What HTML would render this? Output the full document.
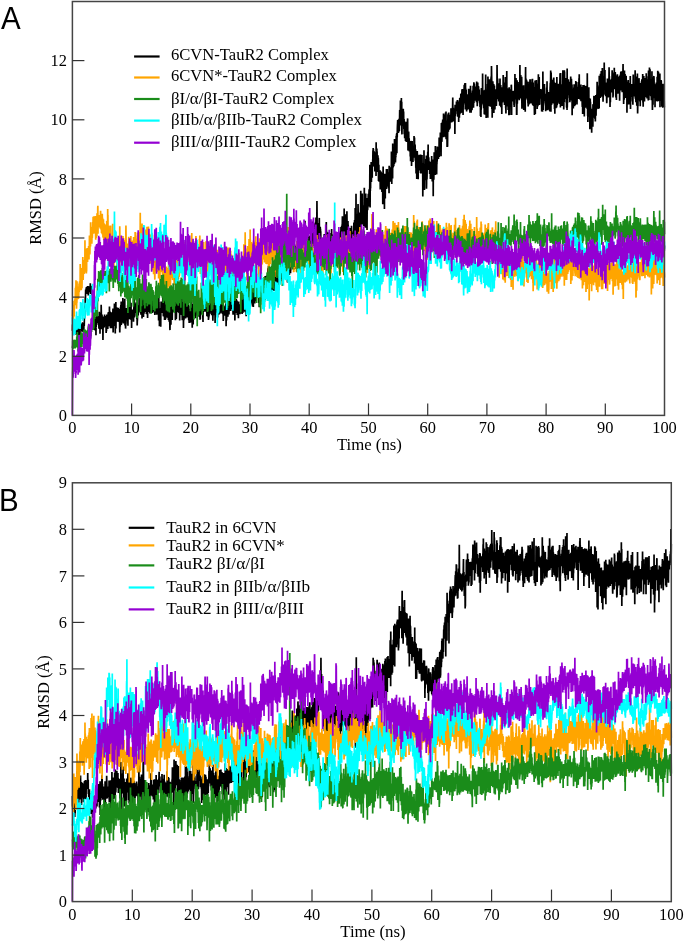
<!DOCTYPE html>
<html><head><meta charset="utf-8"><style>
html,body{margin:0;padding:0;background:#fff;}
svg{display:block;will-change:transform;}
text{font-family:"Liberation Serif",serif;font-size:16.4px;fill:#000;}
.yl{text-anchor:end;}
.xl{text-anchor:middle;}
.tk{stroke:#333;stroke-width:1.2;}
.fr{fill:none;stroke:#444;stroke-width:1.5;}
.pl{font-family:"Liberation Sans",sans-serif;font-size:29.5px;}
.lg{font-size:16.85px;}
</style></head><body>
<svg width="685" height="941" viewBox="0 0 685 941">
<rect width="685" height="941" fill="#fff"/>
<text transform="translate(0.97,29.3) scale(1,1.035)" class="pl">A</text>
<text transform="translate(-0.9,510.7) scale(1,1.035)" class="pl">B</text>
<g>
<path transform="matrix(0.118420,0,0,0.1,72.40,0)" vector-effect="non-scaling-stroke" fill="none" stroke="#000000" stroke-width="1.70" stroke-linejoin="bevel" d="M0,3307l1-55 1-7 1,46 1-13 1,17 1-41 1,37 1-28 1-16 1,33 1-17 1,12 1,20 1-51 1-17 1,31 1,14 1-34 1,49 1,9 1-72 1,64 1-27 1,21 1,32 1-38 1-6 1,31 1,43 1-52 1-3 1-20 1-2 1,6 1,45 1-32 1-24 1,1 1,36 1-65 1,92 1-34 1,42 1,50 1-73 1-17 1-26 1-1 1,9 1,3 1,1 1,62 1-112 1,54 1-12 1,29 1,15 1,0 1,52 1-114 1,16 1-20 1,66 1,41 1-97 1,2 1-31 1,65 1-52 1,24 1,13 1-12 1-29 1,17 1,11 1-10 1,18 1-16 1-16 1,68 1,3 1-73 1,62 1-77 1,1 1,78 1-38 1,41 1-62 1,46 1-14 1,8 1,33 1-75 1,13 1,76 1-106 1,3 1,3 1,26 1-70 1-14 1,1 1,1 1-111 1-12 1,30 1-49 1-65 1,39 1-60 1-55 1,30 1-30 1,35 1-5 1-51 1,33 1,17 1-53 1,46 1-29 1,13 1,1 1-23 1,61 1-74 1-2 1,35 1-6 1-32 1,56 1-18 1,57 1-83 1,34 1-21 1-7 1,27 1-20 1,33 1-2 1-54 1,52 1-14 1-2 1,22 1-31 1-13 1,25 1-69 1,91 1,16 1-24 1-31 1,25 1-34 1,37 1-54 1,21 1,16 1,42 1-26 1-13 1-4 1,71 1,64 1-17 1,18 1-14 1-32 1,100 1,60 1,29 1-18 1,92 1-94 1,94 1,10 1,24 1-48 1,43 1,2 1-30 1-15 1,60 1-52 1,44 1-31 1,48 1-60 1-70 1,20 1,39 1-10 1-52 1,139 1-103 1,147 1-104 1,22 1-73 1,37 1-93 1,109 1-55 1-26 1,44 1-18 1,33 1-48 1,52 1-74 1,22 1,32 1-40 1,2 1-6 1,23 1,12 1,9 1-34 1,25 1,83 1-61 1,4 1-113 1,33 1,63 1-8 1,30 1-61 1,163 1-143 1-33 1,116 1-33 1-48 1-64 1,40 1,14 1,61 1-199 1,59 1,73 1,42 1,15 1,56 1-120 1-27 1,48 1-25 1,0 1,34 1,32 1,53 1-13 1,124 1-132 1,12 1-68 1,8 1-54 1,51 1,30 1-57 1,16 1-7 1,76 1-77 1,0 1-53 1,49 1,56 1-19 1-40 1,14 1,25 1,4 1-72 1,23 1,77 1-44 1,33 1,79 1-94 1,69 1,8 1-90 1,10 1-86 1,35 1,94 1-108 1-11 1,81 1-84 1,61 1,77 1-115 1,70 1-117 1,22 1-30 1,92 1-55 1,42 1,13 1-27 1,76 1-91 1-20 1-87 1,116 1,5 1-10 1-8 1-51 1,104 1-41 1,86 1,18 1-122 1,72 1-62 1,1 1,60 1-1 1-67 1,26 1-67 1,64 1,96 1-90 1,29 1-38 1,24 1-2 1-21 1,12 1-19 1-70 1-22 1,240 1-140 1-39 1,52 1,20 1-28 1,68 1-57 1-33 1-9 1-31 1-94 1,29 1,99 1,53 1,35 1-103 1,76 1,112 1-183 1,94 1-113 1-3 1-111 1,265 1-194 1-17 1,12 1,88 1-48 1,9 1-22 1,12 1,44 1,49 1-143 1,70 1,51 1-61 1,31 1-61 1,113 1-11 1-62 1-66 1,34 1,30 1,18 1-10 1,45 1-106 1,61 1-29 1,77 1-13 1,71 1,67 1-64 1-65 1,46 1,24 1-83 1,3 1-118 1,120 1-130 1-4 1,38 1-75 1,234 1-125 1-36 1,53 1,66 1-80 1,28 1,65 1-98 1,67 1,28 1-71 1,75 1-241 1,171 1-106 1,188 1-34 1-37 1,11 1-34 1-31 1-18 1-76 1,115 1,46 1-143 1,101 1-102 1-44 1,157 1,109 1-175 1,70 1-35 1,84 1,88 1-33 1-13 1-2 1-33 1-126 1,86 1-78 1,76 1-21 1,27 1-47 1,83 1-101 1,54 1,36 1-102 1,88 1-131 1,145 1,64 1-125 1-14 1-109 1,142 1-67 1-3 1,101 1-10 1-77 1,4 1,92 1-136 1,93 1-4 1-1 1-42 1-134 1,182 1-31 1,21 1-74 1,33 1,98 1-47 1,6 1-129 1,117 1-36 1,35 1,5 1,132 1-149 1-29 1,36 1-20 1,47 1-24 1,4 1-14 1,25 1-61 1,17 1,50 1,23 1-49 1,27 1,55 1-105 1,13 1-41 1-27 1-16 1-76 1,210 1-52 1-42 1,82 1-24 1-66 1,50 1-34 1-11 1,46 1-66 1,59 1-82 1,87 1-17 1-56 1-28 1,95 1,12 1-27 1,8 1,79 1-81 1-4 1,150 1-39 1-16 1-34 1-49 1-52 1,1 1,49 1,40 1-15 1-42 1-45 1,61 1-1 1-38 1-11 1-14 1-75 1,69 1,60 1-6 1-62 1,25 1,56 1-19 1-28 1,13 1,45 1-46 1,18 1-4 1-2 1,54 1-98 1,65 1-17 1-65 1,47 1-18 1-50 1,76 1,98 1-122 1-78 1,39 1,127 1-102 1,63 1-134 1,112 1-10 1-171 1,167 1,93 1-65 1-29 1-42 1,102 1,3 1-78 1-34 1,56 1-114 1,26 1,10 1-36 1,152 1-87 1-55 1,18 1,16 1,30 1,19 1-80 1-16 1-66 1,58 1,68 1,114 1-70 1,58 1-10 1,24 1-94 1-19 1,85 1-5 1,24 1,49 1-154 1,31 1-6 1-5 1-48 1,122 1-80 1,22 1,6 1,52 1-174 1,85 1,26 1,18 1-110 1,100 1-35 1,89 1-43 1,59 1-62 1,47 1-195 1-51 1,208 1,19 1-38 1-38 1,99 1-99 1,94 1-109 1,20 1-18 1-24 1,58 1-56 1-10 1,101 1,29 1-111 1,129 1-89 1,3 1,11 1-25 1,10 1,23 1-38 1,7 1,46 1,2 1,37 1-50 1,6 1-22 1-79 1,87 1-27 1-4 1,122 1-47 1-19 1-27 1,39 1-38 1,56 1-94 1,91 1,18 1-103 1-9 1,90 1-68 1,94 1-36 1,52 1-264 1,234 1-18 1-36 1,4 1,18 1,14 1-130 1,109 1,66 1-21 1-49 1,32 1-35 1,34 1,100 1-251 1,79 1-15 1,146 1-68 1-15 1,181 1-155 1,30 1,52 1-98 1,19 1-2 1,86 1-101 1,17 1-12 1,168 1-188 1,42 1-107 1,22 1,37 1,25 1,2 1-17 1-48 1,96 1-66 1,59 1-86 1,81 1-4 1,6 1-82 1-162 1,134 1,67 1,5 1,80 1-106 1,16 1,91 1-195 1,131 1-70 1,26 1,97 1-55 1,101 1-58 1,7 1-118 1,129 1-186 1,226 1-279 1,203 1-96 1,161 1-88 1,40 1-58 1-33 1-164 1,239 1-121 1,25 1,77 1-20 1,89 1-104 1-191 1,204 1,23 1-6 1,15 1-39 1-53 1,158 1-64 1-53 1,137 1-192 1,68 1,76 1,0 1-19 1,84 1-14 1,4 1-216 1,107 1,94 1,86 1,22 1-59 1-141 1,128 1-136 1,6 1,53 1-51 1,146 1-321 1,230 1-109 1,65 1,81 1-150 1-44 1,198 1-152 1,44 1,112 1-79 1-212 1-5 1,201 1-69 1,60 1-63 1,57 1,28 1-12 1-15 1-16 1-162 1,140 1,65 1-113 1-82 1,53 1,5 1,45 1-17 1,105 1-9 1-60 1-65 1,76 1,146 1-186 1-42 1,135 1-1 1,5 1-126 1,202 1-12 1-76 1-18 1,26 1-3 1-11 1-202 1,31 1,170 1,26 1-94 1-34 1,28 1,2 1,90 1-34 1-33 1,54 1-75 1-33 1,113 1-42 1,64 1,0 1-97 1,47 1-12 1-104 1,243 1-172 1,7 1,0 1-31 1-136 1,133 1,106 1-141 1,133 1,33 1-134 1,6 1-73 1,108 1,106 1-132 1,33 1,8 1-91 1,60 1,119 1,56 1-128 1,45 1-62 1-38 1,106 1-52 1,25 1,65 1-38 1,156 1-182 1,10 1,5 1,89 1-102 1,15 1,2 1-84 1,13 1,77 1-110 1-37 1,124 1,22 1-67 1-1 1,77 1,52 1-140 1,71 1-27 1,7 1-9 1-107 1,93 1,32 1-48 1,8 1,111 1-113 1-49 1,48 1-134 1,93 1,41 1,51 1-83 1,33 1-21 1-12 1,60 1-40 1,98 1,56 1-142 1,53 1,3 1,113 1-47 1-61 1-8 1-25 1,16 1,84 1-74 1-22 1,28 1,104 1-6 1-72 1-22 1,20 1-61 1-11 1,20 1,55 1-43 1-17 1-91 1,66 1,27 1,94 1-26 1,120 1-218 1-20 1,104 1-59 1,51 1-35 1,48 1,97 1-192 1,93 1-100 1,5 1-11 1-12 1,26 1,7 1-37 1,135 1-187 1,120 1-18 1-7 1-35 1-17 1,59 1-17 1,7 1,70 1,47 1-119 1,96 1-244 1,194 1,35 1-93 1,93 1-50 1-15 1,7 1,58 1-44 1-77 1-58 1,86 1-26 1,129 1-150 1,131 1-4 1,16 1-42 1,30 1-23 1-14 1-14 1,27 1,52 1,0 1-78 1-31 1,94 1-42 1-103 1,56 1,50 1,89 1-97 1,88 1-73 1-16 1,49 1-149 1,24 1,36 1-16 1,15 1-26 1,90 1-82 1-7 1,3 1,102 1-88 1-3 1,27 1,8 1-98 1,108 1-64 1,150 1,41 1-202 1-11 1,48 1-62 1,96 1,29 1-40 1,24 1-60 1,72 1-106 1,96 1-52 1,64 1-57 1,55 1-1 1,0 1-20 1-30 1,29 1-130 1,103 1-22 1-46 1,34 1-4 1,7 1,46 1-64 1,11 1,19 1,116 1-29 1-199 1,229 1-201 1,174 1,5 1-76 1,61 1,42 1-48 1,43 1-117 1,154 1-76 1,60 1-167 1,18 1,129 1-59 1-27 1,1 1-26 1-8 1,82 1,11 1-65 1-18 1,44 1-37 1,3 1-54 1,54 1-17 1,19 1,9 1-56 1-51 1,115 1-172 1,240 1-179 1,99 1-30 1-69 1,77 1,19 1,33 1,39 1,0 1,67 1-56 1-103 1-81 1,162 1-88 1,94 1-31 1,48 1-112 1,81 1-24 1,4 1-82 1,17 1,89 1-10 1-117 1,52 1,178 1-207 1,130 1-82 1-151 1,209 1-32 1-37 1-5 1,0 1-33 1-49 1,66 1,10 1-55 1,78 1-1 1-59 1,68 1-61 1-28 1,186 1-221 1,183 1-77 1,26 1-25 1,20 1-7 1,1 1-23 1,9 1,11 1-29 1,90 1,11 1-75 1,0 1-41 1,44 1,4 1,1 1-85 1,31 1,49 1-12 1-37 1,9 1-62 1,86 1,78 1-63 1-10 1-25 1,24 1-107 1,68 1,0 1-22 1,74 1-58 1,43 1,25 1-71 1,54 1,59 1,16 1-123 1,95 1,95 1-23 1-99 1-19 1,46 1-59 1,15 1,48 1-53 1,5 1,80 1-49 1,55 1-9 1-81 1,39 1-38 1,9 1,8 1,32 1,23 1,17 1-123 1,96 1,133 1-160 1,97 1-73 1,80 1-108 1,71 1-11 1-48 1-133 1,169 1-104 1,93 1-84 1,39 1,77 1-49 1-128 1,23 1,118 1-42 1-68 1,10 1,66 1,49 1-106 1,13 1-10 1,60 1-88 1,81 1,9 1-135 1,72 1,67 1-25 1-58 1-32 1-67 1,160 1-234 1,212 1-57 1,22 1,49 1-26 1,36 1-31 1-2 1,35 1-55 1,36 1-5 1,42 1-21 1,1 1,2 1-41 1,65 1,32 1-72 1,33 1-4 1-74 1,61 1-67 1-9 1,0 1,1 1-10 1,131 1,0 1-51 1-25 1,144 1-97 1-15 1-27 1,18 1,8 1,9 1,28 1-68 1-51 1-13 1,38 1-45 1,74 1-22 1-25 1,3 1,53 1-68 1,97 1,48 1-15 1-91 1,93 1-71 1,5 1,33 1-17 1-28 1,83 1,40 1-132 1-34 1,36 1-7 1,39 1,1 1,31 1-24 1,15 1-41 1-22 1,39 1,58 1-32 1,2 1-25 1,10 1-15 1,50 1-59 1-49 1,7 1,36 1,53 1-102 1,96 1-48 1-84 1,65 1,50 1,45 1-143 1,64 1,27 1-36 1-21 1,74 1,23 1-62 1,34 1-106 1,42 1,42 1-28 1,63 1-25 1-148 1,138 1-65 1,75 1,26 1-20 1-39 1,12 1-47 1,45 1-69 1,125 1-92 1,3 1,62 1-115 1,19 1,42 1,122 1-131 1,29 1-23 1,83 1-90 1-46 1,46 1,41 1-72 1-13 1,51 1,77 1-4 1-91 1,55 1-12 1-103 1,45 1-102 1,41 1,43 1,2 1-21 1-15 1,15 1,87 1-91 1,120 1-182 1,102 1-38 1-20 1,44 1,35 1-46 1-15 1,81 1-85 1,68 1-22 1-86 1,20 1,66 1-41 1,28 1,25 1-138 1,141 1-38 1-35 1-9 1,63 1-4 1,66 1-68 1-24 1,40 1-13 1-80 1,19 1,133 1-154 1,49 1-39 1-37 1,84 1-36 1,6 1,4 1,50 1-52 1,36 1,52 1-79 1,3 1,39 1,14 1-32 1-23 1-22 1-28 1,8 1,12 1-10 1-16 1,10 1-80 1,72 1-49 1-11 1,64 1,18 1-56 1,32 1,24 1,0 1,52 1-105 1,22 1,32 1-56 1-51 1,81 1-1 1,68 1-91 1,109 1,47 1-123 1,37 1,127 1-164 1,22 1-10 1,72 1-6 1-83 1-49 1,108 1-98 1,152 1-173 1,34 1,10 1-13 1,48 1-124 1,155 1-78 1-74 1,124 1-33 1,11 1-40 1,75 1-29 1,30 1-54 1,35 1,10 1,18 1-90 1,71 1,24 1,24 1-86 1,77 1-1 1-54 1,14 1,27 1-106 1,140 1-85 1,93 1-91 1,37 1-10 1,34 1,33 1-238 1,152 1-100 1,104 1-10 1-87 1,53 1-87 1,101 1-18 1,27 1-11 1-131 1,97 1,33 1,45 1-65 1-99 1,169 1-12 1-75 1,36 1-83 1-117 1,207 1-15 1,94 1-307 1,196 1-72 1,74 1,10 1-21 1-5 1-2 1,76 1-101 1,49 1-76 1,17 1-49 1,80 1,118 1-9 1-184 1,195 1-244 1,93 1,25 1,25 1-29 1,10 1,53 1-23 1-70 1,16 1,11 1-105 1,206 1-69 1-122 1,97 1-4 1-40 1,0 1-68 1,77 1-35 1,93 1-24 1,69 1-85 1-22 1,69 1,48 1-26 1-55 1-52 1,35 1-9 1-38 1-59 1,11 1-16 1,146 1-69 1,26 1-121 1,111 1,28 1-57 1-104 1,54 1,39 1-24 1-10 1-7 1,30 1-92 1,141 1-20 1-34 1,188 1-131 1,41 1-38 1-20 1,8 1-116 1,84 1,3 1,58 1-27 1,71 1-114 1-67 1-30 1,110 1-28 1-20 1,37 1,49 1-39 1,4 1-19 1-58 1,38 1-139 1,165 1-74 1,25 1,114 1-49 1-29 1-106 1,72 1-31 1,64 1-12 1-110 1,105 1-53 1,127 1-68 1,35 1,23 1-8 1-103 1,79 1-24 1,35 1,29 1,0 1-92 1-17 1-24 1-25 1,70 1-71 1,85 1-104 1,31 1,79 1-43 1-99 1,46 1,64 1,10 1,41 1-130 1,2 1,42 1,42 1,61 1-10 1-56 1,31 1-44 1,31 1,10 1,4 1-32 1-37 1,24 1,34 1,43 1-77 1-32 1,178 1-209 1,96 1-76 1,49 1-13 1-2 1,64 1-28 1-63 1,30 1,34 1-105 1,79 1-56 1-15 1,142 1-227 1,90 1-16 1-31 1-30 1,63 1,110 1-110 1,2 1,131 1-57 1,29 1-118 1-52 1,53 1-49 1,131 1-144 1,107 1-26 1,24 1-6 1-23 1,45 1,13 1-30 1-3 1-30 1,33 1-4 1-89 1-43 1,149 1-167 1,155 1,6 1-95 1,156 1-186 1,86 1,53 1-46 1-84 1-49 1,55 1,59 1-24 1-7 1,10 1,22 1-4 1-123 1,188 1-120 1,160 1-159 1,20 1-10 1-94 1,126 1-31 1,38 1,24 1-46 1,66 1-75 1,30 1-3 1-24 1,38 1,79 1-194 1,54 1,42 1,57 1-11 1-130 1,32 1-38 1,65 1-38 1,105 1-156 1,84 1-7 1-50 1,50 1,13 1,44 1,15 1,43 1,42 1-158 1,65 1-24 1-18 1-96 1,54 1-17 1-31 1,108 1,2 1-27 1,61 1,51 1-67 1-9 1,65 1,1 1-60 1,18 1-110 1,8 1-74 1,16 1,31 1,35 1,17 1,57 1-95 1-30 1,61 1,102 1-202 1,190 1-41 1,20 1-205 1,113 1-111 1-31 1-150 1,345 1-289 1,162 1,50 1-33 1,125 1-20 1-115 1,22 1,144 1-52 1-22 1-54 1,7 1,93 1-100 1,153 1-166 1,22 1-45 1,26 1,58 1-15 1,96 1-86 1-71 1-80 1,39 1,37 1,40 1,19 1-56 1-25 1-10 1,19 1-50 1,44 1,67 1,68 1-133 1-64 1,30 1-28 1,113 1-118 1,134 1,17 1-6 1-147 1,163 1-64 1-49 1,19 1,35 1,20 1,145 1-276 1,100 1-216 1,311 1-232 1-93 1,214 1-163 1,175 1-29 1-44 1,61 1-81 1,103 1-63 1,70 1-223 1,56 1,24 1,79 1,23 1-123 1,24 1,35 1,47 1-98 1,96 1-141 1,84 1,131 1-246 1,17 1,8 1-22 1-8 1,32 1-80 1,145 1-50 1,108 1,78 1-182 1,49 1-62 1-249 1,109 1,230 1-95 1,60 1-79 1,1 1,94 1-41 1-42 1,116 1-25 1,56 1-136 1,52 1-2 1-46 1,75 1-41 1-78 1-40 1,169 1-79 1,25 1,82 1,35 1-69 1,12 1-86 1,96 1-76 1,77 1-52 1,104 1,44 1-58 1,101 1-9 1-52 1,41 1,52 1-14 1-14 1-22 1,46 1-12 1,29 1-109 1,84 1,8 1-23 1-124 1,85 1-75 1,62 1,92 1-3 1-63 1,45 1-68 1-16 1,26 1-129 1,118 1,20 1-29 1-79 1,65 1-40 1,41 1,3 1-44 1,9 1,57 1-100 1,71 1-98 1-6 1-22 1-88 1,180 1-95 1,109 1,33 1,81 1-139 1,42 1-11 1-51 1,105 1-2 1,29 1-175 1-3 1,198 1-61 1,37 1-61 1,19 1-44 1,57 1,21 1-8 1,49 1-97 1-30 1,117 1-88 1-101 1,104 1,9 1,103 1-78 1-48 1,12 1,89 1-23 1-84 1-16 1,44 1-41 1,147 1-152 1,165 1-272 1,250 1-107 1,80 1-95 1,12 1,49 1-43 1-89 1,76 1,59 1-115 1,70 1,41 1-90 1,72 1,6 1-28 1,38 1,91 1-96 1,77 1-113 1,16 1-16 1,13 1,73 1-57 1-33 1-16 1,22 1-18 1-35 1,90 1-18 1,11 1-50 1,1 1,29 1-66 1,121 1-45 1-40 1-37 1,51 1-29 1,67 1-94 1-11 1,53 1-35 1,64 1,54 1-50 1,18 1-3 1-42 1,178 1-119 1-70 1-66 1,41 1,37 1,102 1-197 1,11 1,76 1,2 1,60 1-126 1,34 1-3 1-3 1-18 1-41 1-7 1,23 1-14 1,30 1-82 1,87 1,41 1-93 1,20 1,41 1-108 1,37 1-4 1,98 1-146 1,20 1-101 1,69 1,70 1,39 1-25 1-102 1,61 1-53 1,42 1,3 1,14 1-101 1,127 1-22 1-30 1-170 1,128 1,114 1-73 1-2 1,36 1,5 1,70 1-33 1,37 1-153 1-39 1,61 1-44 1-48 1,29 1,57 1-63 1,57 1,83 1-138 1,4 1,184 1-243 1,84 1,71 1-27 1,72 1-30 1,4 1-50 1,48 1-76 1,204 1-165 1,88 1-20 1,144 1-6 1-91 1,49 1-16 1,134 1-208 1,37 1,102 1-63 1,75 1-192 1,36 1,29 1,40 1,4 1-91 1,99 1-17 1,94 1-118 1,68 1-90 1-19 1,82 1-140 1,31 1,55 1,58 1,29 1,1 1-63 1,71 1-1 1-42 1,16 1,54 1,6 1,23 1-132 1,88 1-128 1,14 1-27 1,82 1-168 1,87 1,32 1-27 1,63 1-62 1-117 1,57 1,77 1-50 1-7 1-198 1,270 1,23 1-106 1,89 1-141 1,39 1-317 1,379 1-106 1,167 1-231 1,68 1,160 1-172 1,38 1,86 1-64 1,97 1-132 1-90 1,156 1,2 1-158 1-98 1,78 1,52 1,70 1,45 1,88 1-108 1-138 1,74 1,8 1-66 1-11 1,52 1-42 1-9 1,76 1,37 1,50 1-5 1-30 1,166 1-270 1-90 1-159 1,401 1-83 1-188 1-16 1,122 1,59 1-62 1,25 1-51 1,60 1-65 1,72 1-247 1,149 1-15 1,177 1-157 1-35 1,146 1-114 1-8 1,69 1,24 1,20 1,72 1-64 1,39 1-81 1,14 1-292 1,200 1,102 1,55 1-223 1,242 1,13 1-75 1-128 1,213 1-100 1-64 1-179 1,154 1-13 1-56 1,103 1-24 1,75 1-170 1,47 1,36 1-107 1,322 1-206 1-110 1,116 1-29 1,31 1-25 1-8 1-86 1,33 1-52 1-28 1,51 1,76 1-40 1-7 1-70 1-32 1-22 1,58 1-49 1,66 1-60 1-48 1-213 1,306 1,121 1-335 1,171 1-131 1,104 1-167 1,67 1-55 1,41 1-148 1,142 1,57 1-122 1-40 1,64 1-73 1,93 1-54 1,90 1-154 1,30 1,15 1-69 1-14 1-80 1,38 1-64 1,17 1-7 1,53 1,45 1,16 1-72 1,58 1-78 1,151 1-94 1,33 1,63 1-143 1,194 1-131 1,79 1-77 1-17 1,29 1-32 1,102 1-118 1,17 1,193 1-339 1,143 1,15 1,73 1-49 1,27 1-145 1,200 1-172 1,206 1-75 1-25 1,23 1-85 1,153 1-158 1,139 1-5 1-109 1,28 1,204 1-163 1,33 1-33 1,114 1,57 1-72 1-8 1-17 1,77 1-18 1-69 1,43 1-51 1,114 1,79 1-107 1,1 1-26 1,31 1-48 1-32 1,55 1-44 1,63 1,12 1-18 1-53 1,149 1,42 1-50 1,28 1-63 1,12 1,21 1,6 1,168 1-190 1-33 1-156 1,164 1-41 1-21 1-4 1,86 1-3 1-60 1,59 1,35 1-26 1,236 1-286 1-65 1,104 1-81 1,17 1,96 1,111 1-215 1,67 1-19 1-30 1,6 1,17 1,35 1-42 1-39 1-76 1,202 1-73 1-77 1,59 1-44 1,66 1-131 1,124 1-27 1,73 1-101 1,22 1,83 1-82 1,6 1-66 1,104 1,50 1-47 1-68 1,110 1,60 1-274 1,141 1-30 1-37 1-56 1,123 1-48 1,58 1,8 1-22 1-73 1,65 1-115 1,73 1,35 1-9 1,18 1-112 1,67 1-228 1,144 1,20 1,160 1-233 1,82 1-58 1-1 1-1 1,110 1,47 1-352 1,168 1-31 1,102 1-6 1-38 1,11 1-11 1-62 1,96 1-162 1,73 1-80 1,50 1,96 1-250 1,47 1,87 1-57 1,32 1-58 1,79 1-72 1,177 1-56 1,4 1,0 1-25 1,4 1-192 1,92 1-75 1-33 1,40 1-53 1,201 1-158 1,1 1-5 1-87 1-33 1-19 1-30 1,56 1,63 1-52 1-70 1,132 1-17 1-74 1-17 1,100 1-84 1-51 1,86 1-41 1,78 1-72 1-62 1-75 1,91 1-36 1,2 1-61 1,91 1-182 1,113 1,136 1-141 1,16 1,31 1-15 1,14 1-179 1,244 1,3 1-210 1,293 1,33 1-138 1-117 1,45 1,82 1,45 1-62 1-20 1-21 1,34 1,35 1-140 1,130 1,8 1-110 1,108 1,67 1-34 1-67 1,153 1-133 1,57 1,4 1,112 1-116 1,54 1-31 1,54 1-28 1-4 1,99 1-117 1-64 1,25 1,101 1-137 1,156 1,45 1-104 1,38 1,2 1-131 1,18 1,119 1-62 1,25 1-84 1-37 1-19 1,188 1-48 1,181 1-4 1-52 1-25 1,52 1-161 1,10 1,121 1,44 1-14 1-94 1,79 1,55 1-66 1-9 1-5 1,68 1-68 1,2 1,128 1-89 1-5 1,140 1-145 1-58 1,5 1,15 1,50 1-54 1,52 1,183 1-77 1-46 1,79 1-149 1-58 1,100 1-11 1-2 1,15 1-17 1,0 1,127 1-141 1,3 1,27 1,2 1,9 1,56 1-19 1-91 1-106 1,82 1-24 1,17 1-61 1,163 1-7 1,4 1-29 1-60 1,120 1,40 1-23 1-91 1,109 1,76 1-71 1,129 1-207 1,45 1,4 1,117 1-24 1,121 1-176 1,2 1,24 1-130 1,33 1,172 1-160 1,115 1-16 1-11 1-34 1,183 1-195 1,45 1,86 1-176 1,86 1-19 1-55 1,56 1-74 1,83 1,8 1,19 1-85 1,57 1,9 1-10 1,76 1-38 1,5 1,20 1-147 1,190 1-58 1-99 1,116 1-94 1-17 1,21 1-29 1,36 1-48 1-12 1,93 1,46 1,45 1-92 1,68 1-47 1,301 1-170 1,30 1-131 1-14 1,17 1-65 1,135 1-20 1-49 1-195 1,140 1,76 1-61 1,243 1-143 1,4 1,41 1-65 1,12 1-108 1,143 1-77 1-18 1,29 1,2 1-130 1,201 1-49 1-50 1-137 1,332 1-51 1-159 1-15 1,133 1-45 1-96 1-28 1,46 1-109 1,20 1-65 1,81 1,101 1-255 1,187 1-32 1-10 1-6 1-11 1,51 1,38 1-17 1-32 1,10 1-6 1,48 1,74 1-5 1-57 1,63 1-2 1-51 1,104 1-171 1,55 1,35 1-29 1,29 1,45 1-47 1,18 1-119 1,139 1-187 1,231 1-170 1,142 1,24 1,29 1-163 1-19 1,82 1-120 1,100 1-79 1,44 1,302 1-277 1,39 1-57 1-40 1,171 1-85 1-12 1-179 1,88 1-42 1-23 1,87 1-72 1,102 1-23 1,110 1-90 1-200 1,202 1-148 1,44 1-54 1,146 1,25 1-59 1,76 1,6 1,48 1-10 1-106 1,20 1-84 1,51 1-152 1,51 1,38 1-29 1,30 1-10 1,28 1-8 1-3 1,22 1,7 1-117 1,52 1,10 1-22 1-3 1-135 1,194 1-156 1,58 1-19 1-10 1,73 1-115 1,8 1,55 1-139 1,190 1-164 1,56 1,17 1-60 1,199 1-133 1-69 1-129 1,188 1-35 1,15 1,18 1-52 1,4 1-32 1-119 1,84 1,40 1-146 1,57 1,49 1,51 1-1 1-50 1,25 1-192 1,237 1-104 1,17 1,38 1,45 1-78 1,18 1-71 1,33 1-75 1-48 1,204 1-152 1-53 1,37 1,38 1-96 1,141 1,11 1,95 1-256 1,277 1-147 1,35 1-52 1,39 1,20 1,9 1-23 1,196 1-265 1,74 1-43 1,232 1-156 1,7 1-171 1,74 1-86 1,78 1,104 1-63 1-1 1-129 1,71 1,8 1,30 1,61 1-6 1-61 1-3 1,46 1-28 1,43 1-95 1-36 1,2 1-10 1,14 1-10 1,42 1-16 1-95 1,75 1,68 1-53 1-33 1-5 1,35 1-61 1,113 1-18 1-41 1-29 1-55 1,64 1-97 1-71 1,166 1-16 1,65 1-112 1,137 1-71 1-11 1,11 1,15 1-20 1,45 1-70 1,101 1-128 1,99 1-28 1,21 1,161 1-238 1-53 1,113 1-94 1,10 1,66 1-29 1-32 1-14 1,9 1,30 1,0 1-92 1,65 1-48 1-2 1,67 1-16 1,9 1,16 1-106 1,59 1,109 1-53 1-42 1-24 1,38 1-46 1-22 1,51 1-16 1,167 1-101 1,42 1-127 1,75 1-105 1,173 1-122 1,72 1-150 1,164 1-141 1-16 1,66 1-8 1,20 1-59 1,128 1-195 1,142 1,8 1-16 1-49 1-37 1-52 1,62 1,132 1-191 1-44 1,57 1-28 1,117 1-125 1,52 1-74 1,233 1-115 1,141 1-159 1,55 1-39 1,28 1-78 1-37 1,27 1,50 1-117 1-31 1,124 1-68 1,72 1-32 1-51 1-63 1,88 1,39 1,138 1-266 1,59 1,29 1,42 1-24 1,53 1-95 1,180 1-99 1,84 1,55 1-154 1-18 1,104 1-96 1,75 1-19 1-50 1,141 1-50 1,9 1-46 1,4 1-15 1,64 1-83 1,42 1-134 1,201 1-76 1-41 1,73 1-144 1,144 1-47 1-108 1,215 1-103 1,125 1-190 1,144 1-66 1-73 1-85 1,212 1-132 1,115 1,5 1,70 1-193 1,69 1,42 1-30 1-29 1,117 1-78 1,73 1-171 1,86 1-39 1-68 1,151 1-57 1,38 1-53 1-127 1,155 1-41 1,106 1-50 1-111 1-95 1,207 1-178 1,55 1-71 1,13 1,143 1-101 1,112 1-52 1,22 1-108 1,85 1-81 1,139 1-55 1-21 1,64 1-14 1-2 1,27 1-81 1,97 1-53 1-155 1,90 1-15 1,47 1,20 1,106 1-117 1,57 1-51 1-125 1,128 1-43 1,43 1-7 1-87 1,44 1-39 1,72 1,5 1,7 1,45 1,19 1-118 1,74 1,21 1,43 1-30 1,13 1,53 1-103 1,74 1-75 1,195 1-16 1-116 1-19 1,162 1-224 1,151 1-63 1-155 1,161 1-139 1,103 1-24 1,16 1,31 1-124 1,89 1-22 1-235 1,225 1,30 1-23 1,56 1-89 1,117 1-14 1-7 1,52 1-181 1,77 1,81 1-74 1,155 1-186 1,190 1-6 1-81 1,79 1-76 1-164 1,49 1,169 1-18 1-172 1-181 1,235 1-68 1,32 1,238 1-129 1-4 1-152 1,133 1,35 1-87 1,121 1-61 1-78 1-19 1-6 1-93 1,129 1,208 1-413 1,212 1-64 1,21 1-11 1,11 1,126 1-210 1,48 1-67 1-39 1,100 1-5 1-39 1,38 1,4 1,33 1,27 1,5 1-3 1,115 1-205 1,79 1,125 1-66 1-216 1,152 1-170 1,66 1,74 1-245 1,78 1,62 1,288 1-102 1-51 1,241 1-165 1-37 1-22 1,145 1-286 1,29 1,88 1,35 1,26 1-94 1,21 1-39 1-38 1,290 1-152 1-81 1,81 1,27 1-151 1,228 1-78 1,86 1-1 1-68 1-128 1,152 1-19 1-51 1-40 1-25 1-15 1,12 1,53 1,74 1,25 1-23 1-87 1-6 1-2 1-74 1-217 1,139 1,8 1,196 1-95 1-113 1,116 1,90 1-14 1-21 1-8 1-26 1-7 1,0 1,99 1-87 1,4 1-86 1-11 1,16 1,118 1-113 1,203 1-132 1-15 1-126 1,228 1-54 1-6 1-6 1,18 1-114 1,103 1,119 1-14 1-117 1-29 1-2 1,75 1-98 1,252 1-217 1,47 1-11 1,20 1-106 1,80 1,72 1-17 1-61 1,69 1-161 1-106 1,93 1,39 1,40 1-56 1,56 1-2 1,11 1,63 1-25 1-143 1,225 1-177 1,88 1,43 1-65 1-94 1,103 1-177 1,229 1-104 1,187 1-33 1,84 1-185 1,41 1-89 1,105 1-106 1,101 1-291 1,280 1-104 1,136 1-139 1,60 1,122 1-84 1,72 1-81 1-14 1-59 1,200 1-214 1,24 1,17 1,75 1-79 1,230 1-209 1-70 1,75 1-38 1-17 1,52 1,204 1-76 1-175 1,108 1-52 1,5 1,12 1,28 1-51 1-10 1,133 1-51 1-92 1-81 1,5 1,42 1,257 1-242 1,12 1,79 1-90 1,29 1,72 1-78 1-4 1,7 1,21 1-48 1,29 1,36 1,40 1-106 1,61 1,38 1-70 1,54 1,60 1-58 1,77 1-21 1-23 1,13 1-100 1,56 1-255 1,255 1-76 1,20 1-83 1,6 1,34 1,53 1-19 1-149 1,143 1-21 1-23 1,42 1,229 1-335 1,333 1-157 1-189 1,107 1,128 1-57 1-24 1-12 1-15 1,7 1-117 1,116 1,50 1,1 1-64 1,18 1,5 1-33 1-71 1,64 1,41 1,55 1-79 1,6 1-35 1-55 1-189 1,193 1-41 1,183 1-114 1,59 1-42 1-139 1,77 1,103 1,3 1-26 1-3 1,28 1-9 1-154 1,123 1,197 1-64 1-124 1,30 1,52 1-125 1,67 1-40 1,38 1-20 1,58 1-13 1,71 1-22 1-143 1,246 1-191 1,30 1-29 1,5 1,20 1-9 1,41 1-22 1,13 1,16 1-51 1,119 1,77 1-263 1-55 1-130 1,324 1-24 1-184 1,85 1,102 1,8 1-117 1-67 1,146 1-123 1,116 1-32 1-75 1,8 1-22 1,90 1,23 1,74 1-19 1,50 1-46 1,78 1-106 1-57 1,25 1,43 1,4 1-127 1,199 1-228 1,216 1-106 1,15 1,93 1-75 1-90 1-78 1,136 1-45 1-56 1,29 1-65 1,235 1-101 1-104 1,115 1,83 1,14 1-104 1-15 1,67 1,31 1-148 1,112 1-50 1-40 1,109 1-208 1,77 1,186 1-139 1,61 1-61 1-87 1,179 1,57 1-153 1,64 1-9 1,8 1-102 1,84 1,72 1,69 1,55 1-172 1,47 1-77 1,104 1-246 1,289 1,45 1-209 1,79 1-56 1,67 1-4 1,32 1-60 1-45 1-142 1,181 1,68 1-72 1-26 1,71 1-15 1,82 1-206 1,87 1,94 1-42 1,37 1-7 1-210 1-8 1,37 1-129 1,121 1-42 1,47 1,15 1-7 1,0 1-108 1,280 1-121 1-22 1,61 1,3 1,17 1-64 1-4 1-28 1,63 1,2 1-32 1,13 1,29 1-8 1-65 1,75 1,76 1-40 1-17 1,127 1-43 1-62 1,21 1-80 1-9 1,8 1,169 1-234 1,145 1-314 1,297 1-12 1,100 1-221 1,156 1-22 1-89 1-59 1,29 1,81 1-12 1-37 1-85 1,164 1-15 1,13 1-59 1-7 1,73 1-12 1-7 1,65 1-61 1,117 1-170 1,42 1,85 1-113 1,34 1-15 1-27 1-72 1,62 1,28 1-154 1,291 1-206 1,48 1-4 1,108 1-44 1-54 1,151 1-135 1,76 1,23 1-94 1,59 1-112 1,58 1,80 1,34 1-139 1,62 1-32 1,89 1-132 1,60 1,115 1-170 1-64 1-19 1-34 1,18 1-20 1-120 1,181 1,231 1-363 1-29 1,175 1-115 1,265 1-174 1,141 1-88 1,4 1,55 1-64 1,24 1,36 1-113 1,33 1-106 1,236 1-113 1-104 1,139 1-65 1,72 1-85 1-102 1,88 1-46 1,27 1,100 1-72 1,217 1-206 1-1 1,254 1-261 1,39 1-28 1,82 1-142 1,89 1,43 1-26 1,149 1-111 1,42 1-64 1-4 1-76 1,205 1-112 1-192 1,221 1-78 1,139 1-155 1,28 1,1 1-69 1,25 1,65 1-10 1,90 1-95 1-81 1-13 1,130 1-14 1-102 1,95 1,5 1,32 1,55 1-89 1-87 1,114 1-119 1-62 1-64 1,189 1-56 1,209 1-132 1-212 1,219 1,34 1,21 1-133 1,46 1,54 1-72 1-39 1-18 1,153 1,23 1,42 1-10 1-56 1-116 1-21 1,184 1-243 1-95 1,225 1-22 1-8 1-14 1-148 1,148 1,210 1-51 1-141 1-47 1,165 1-318 1,34 1-19 1,218 1-19 1,11 1-75 1,74 1,25 1-84 1-86 1,208 1-123 1,25 1,40 1-104 1,197 1-80 1-40 1,168 1,1 1-86 1-97 1,210 1-415 1,389 1-86 1-102 1,142 1-212 1,166 1-27 1-88 1,37 1-111 1,45 1-30 1,142 1-80 1,42 1,1 1-94 1,43 1-32 1,92 1,16 1-19 1,103 1-149 1-20 1,25 1-42 1,71 1-40 1-102 1,158 1-10 1-53 1,145 1-17 1-201 1,51 1,41 1,64 1-62 1-35 1,307 1-232 1,70 1-85 1,75 1-72 1,51 1-32 1-36 1,87 1,105 1-134 1-20 1,108 1-162 1,57 1,27 1-118 1,155 1-55 1,121 1-165 1,52 1,87 1-59 1,14 1,60 1-165 1,39 1,29 1-57 1-88 1,126 1,71 1-78 1-24 1-85 1,88 1,41 1-28 1,40 1,85 1-73 1-73 1-27 1,11 1,16 1-20 1,92 1-57 1,52 1-104 1-1 1-9 1-33 1,171 1-122 1,7 1-93 1,178 1-219 1,140 1,97 1-66 1,14 1-22 1-52 1,68 1,77 1-27 1-72 1-18 1,9 1,43 1-89 1,169 1-36 1,2 1-109 1,105 1,9 1-38 1,47 1-21 1-4 1,79 1,23 1-56 1-120 1,245 1-95 1,64 1-259 1,111 1,103 1-94 1,87 1-28 1-31 1-5 1-139 1,1 1,178 1,132 1-130 1,10 1,13 1-78 1-61 1-57 1,34 1,177 1,0 1-33 1-70 1-16 1-16 1,72 1-151 1,111 1,72 1-49 1-66 1,122 1-110 1,5 1,144 1-162 1-193 1,241 1-24 1,211 1-61 1,122 1-141 1-87 1,15 1,63 1-140 1,123 1-25 1-156 1,294 1-187 1,65 1,35 1,74 1-40 1,20 1,41 1,118 1-105 1-127 1-76 1,136 1-104 1,85 1-27 1,21 1,140 1-46 1-27 1,46 1-103 1,47 1,175 1-114 1-71 1-2 1,75 1-108 1,123 1-141 1,108 1-110 1,179 1-219 1,34 1-43 1,60 1-26 1-4 1-1 1,19 1-124 1-4 1,145 1-81 1,71 1,84 1-49 1-5 1,31 1,35 1-82 1,16 1,91 1-77 1-43 1-145 1,111 1,1 1,95 1-161 1,106 1-102 1,21 1-4 1-56 1-19 1,43 1-167 1,251 1-125 1,53 1-91 1,143 1-151 1,184 1-28 1,35 1-119 1-75 1-27 1,116 1-31 1-85 1-9 1,227 1-329 1,79 1,4 1,91 1-30 1-46 1,71 1-117 1,172 1-101 1-143 1,211 1-10 1,34 1-94 1-22 1-74 1-73 1,94 1,18 1-43 1,122 1,65 1-206 1-26 1,118 1-171 1,217 1-50 1,12 1,49 1-79 1,188 1-67 1-8 1-182 1,124 1-29 1-66 1,45 1-15 1-17 1-176 1,216 1-17 1-29 1,85 1-48 1-132 1,246 1-81 1,71 1-36 1,8 1,53 1-97 1,64 1-103 1,30 1-19 1,12 1,13 1,113 1,57 1-18 1-167 1,27 1-10 1,12 1-91 1,38 1-12 1,5 1,105 1-23 1,76 1-151 1,45 1-28 1,68 1-82 1-34 1,23 1-143 1,114 1-25 1,35 1,173 1-11 1-89 1,6 1,196 1-207 1,51 1,108 1-106 1-89 1-33 1,27 1-13 1,33 1-28 1,65 1-3 1-29 1,79 1-138 1,129 1-145 1-69 1,223 1-74 1-27 1-37 1,33 1-74 1,227 1-176 1,159 1-179 1,80 1,10 1-118 1,21 1-47 1,64 1,104 1-215 1,148 1,53 1-124 1,14 1-35 1,7 1,152 1-172 1,29 1,113 1,15 1-35 1,134 1-144 1,3 1-37 1,90 1,112 1-186 1,82 1-11 1-92 1-39 1,59 1-1 1-69 1,83 1,6 1,105 1-71 1-5 1-19 1,36 1,57 1-102 1-16 1,44 1,19 1-65 1-6 1-45 1,14 1,4 1,5 1,220 1-251 1,60 1-26 1,36 1,70 1-63 1,28 1-123 1,133 1-157 1,124 1,17 1,50 1-102 1,34 1,3 1,6 1,40 1-173 1,116 1,33 1,60 1-85 1-26 1,2 1-30 1-68 1,13 1-88 1,164 1-60 1,97 1-68 1,267 1-143 1,102 1-108 1,18 1,86 1-131 1-159 1,171 1-43 1,67 1-14 1-145 1,158 1-85 1,157 1-76 1,86 1-161 1,39 1,102 1-203 1,73 1,111 1-128 1,82 1,0 1-12 1,243 1-234 1-9 1,105 1-173 1,105 1-62 1,123 1-109 1,173 1-245 1,221 1-172 1,13 1,32 1,109 1-154 1,196 1-73 1-33 1-56 1-47 1,133 1-139 1,151 1-85 1-43 1-6 1-88 1,184 1,147 1-170 1,26 1,68 1-41 1,2 1-12 1-17 1-52 1,23 1-55 1,2 1-25 1,49 1,25 1-34 1,70 1-38 1,8 1,8 1,119 1-195 1,64 1-171 1,210 1-60 1-10 1-23 1-18 1,21 1,4 1,49 1-34 1-5 1,43 1,43 1-79 1-11 1-31 1-142 1,233 1,53 1-105 1,24 1-21 1,100 1,36 1-19 1-105 1,59 1-193 1,239 1-81 1,136 1-65 1-73 1,113 1-15 1-284 1,182 1,219 1-61 1-82 1,68 1-169 1,47 1-17 1,63 1-130 1-49 1,36 1-59 1,12 1,147 1,3 1,56 1-162 1,56 1,113 1-177 1,188 1-165 1,209 1-125 1-107 1,24 1,151 1-150 1,48 1,52 1,33 1-57 1-89 1-30 1,91 1-45 1-65 1,174 1,26 1,7 1-152 1,61 1,23 1-193 1,118 1,168 1-34 1,76 1-166 1,21 1-56 1,116 1-223 1,244 1-98 1-22 1-26 1,138 1,19 1-80 1-33 1,15 1-135 1,147 1-45 1,62 1-166 1,115 1,72 1-161 1,168 1-83 1-36 1-121 1,199 1-43 1-127 1,187 1-40 1-1 1,76 1-191 1,88 1,84 1-11 1-80 1,81 1-34 1-93 1,95 1,82 1-12 1-289 1,204 1-58 1,150 1-135 1-83 1-49 1,115 1-172 1,125 1,4 1,31 1,74 1-218 1,239 1-44 1-87 1-5 1,163 1-104 1,108 1-12 1-57 1-29 1,132 1,3 1-179 1,67 1,60 1-234 1,248 1-107 1,123 1,122 1-49 1-45 1-196 1-36 1,274 1-206 1,24 1,68 1-104 1,114 1-146 1-33 1-2 1,46 1,175 1-115 1,87 1-62 1,55 1-76 1,18 1,183 1-229 1,104 1-79 1,50 1-51 1-15 1,134 1-147 1,33 1-30 1-18 1,133 1-77 1,132 1-124 1,3 1,86 1-211 1,219 1-52 1-33 1,114 1-307 1,206 1,77 1-151 1,0 1-63 1-60 1,137 1,60 1,95 1-40 1-169 1,157 1-103 1,123 1-81 1,59 1-97 1-124 1,339 1-146 1-12 1-2 1,51 1-8 1,18 1-22 1-49 1-103 1,144 1-136 1,203 1-135 1,67 1-101 1,225 1-190 1,70 1-9 1,114 1-26 1-35 1,86 1-144 1,6 1-101 1,96 1-84 1,170 1-175 1,82 1,49 1-25 1,46 1-30 1,99 1,5 1-6"/>
<path transform="matrix(0.118420,0,0,0.1,72.40,0)" vector-effect="non-scaling-stroke" fill="none" stroke="#ffa500" stroke-width="1.70" stroke-linejoin="bevel" d="M0,3147l1,14 1-60 1,68 1-92 1,8 1,47 1,41 1,59 1-33 1-152 1,37 1,2 1,39 1-114 1,154 1-106 1-10 1-47 1,11 1,39 1-23 1-44 1,48 1-8 1-146 1,126 1-88 1-53 1,185 1-247 1,153 1,51 1-17 1,3 1,95 1-57 1-40 1,38 1-216 1,117 1,58 1-11 1-53 1-12 1,14 1-61 1,127 1-21 1,18 1-75 1,77 1-38 1,26 1-59 1,5 1-88 1,83 1-52 1,46 1-98 1,80 1,0 1-83 1,65 1,25 1-262 1,119 1,28 1-22 1,68 1,12 1,10 1-176 1,96 1,128 1-65 1-61 1-40 1,148 1-94 1,90 1-77 1-114 1,36 1,57 1-98 1-19 1-97 1,159 1-36 1,107 1-57 1-20 1-90 1,22 1-20 1,30 1,77 1-142 1,116 1,16 1-2 1-101 1,16 1,74 1-315 1,230 1-32 1-114 1,129 1-10 1-56 1-5 1,31 1,1 1,29 1-97 1,225 1-247 1,228 1-172 1,14 1,29 1-28 1-79 1,114 1-99 1,127 1-120 1,59 1-63 1,86 1-75 1,82 1,6 1-89 1-48 1,27 1,36 1,73 1-107 1,14 1-38 1-109 1,161 1-85 1,114 1-24 1-154 1,66 1-19 1-49 1,101 1-243 1,181 1-137 1,78 1-28 1-29 1-16 1,160 1,2 1-116 1,119 1-49 1-57 1-16 1,64 1-31 1-64 1-1 1-62 1,113 1-92 1-74 1,96 1-23 1,97 1-108 1-60 1,55 1-63 1,70 1,43 1,11 1-53 1-48 1,22 1,128 1-25 1-60 1,77 1-147 1,76 1-97 1,200 1,38 1-86 1-1 1,51 1,14 1,1 1-21 1-40 1-84 1-16 1,146 1-229 1,150 1-12 1-54 1,48 1,17 1-200 1-23 1,280 1-81 1-75 1,73 1-76 1,87 1-77 1,66 1-34 1,42 1-114 1,58 1,62 1-46 1-12 1-31 1,46 1,11 1,47 1-34 1,34 1-144 1-33 1,75 1,38 1,23 1,48 1,2 1-147 1,140 1,45 1-48 1-51 1,103 1-101 1,63 1-159 1,59 1,147 1-167 1,161 1-93 1,121 1,7 1-1 1,1 1-181 1,167 1,17 1,23 1-170 1,120 1-60 1,57 1-106 1,43 1,270 1-293 1,61 1,68 1,11 1-98 1,19 1-63 1,33 1-25 1,81 1,110 1-45 1-167 1,78 1-6 1-59 1,114 1-161 1,151 1-5 1,14 1,82 1-158 1-89 1,161 1-277 1,139 1-80 1,162 1,14 1,50 1-117 1,150 1,174 1-279 1,142 1-30 1-116 1,83 1-10 1-55 1-29 1-1 1,44 1-28 1,6 1-53 1,137 1-87 1,176 1-227 1,105 1,159 1-94 1,183 1-185 1,219 1-158 1,67 1-85 1,24 1,28 1-38 1,114 1,69 1,18 1-220 1-224 1,246 1-52 1,51 1,119 1-16 1,54 1-109 1-35 1,95 1,82 1-196 1,41 1,110 1-61 1-50 1-28 1,62 1,75 1-93 1-19 1,69 1-39 1-122 1,141 1-54 1-38 1,107 1,35 1-110 1-6 1,30 1-52 1,106 1-113 1,73 1-76 1-31 1,17 1,45 1,47 1,20 1,6 1-71 1,35 1-118 1,90 1-36 1,103 1-24 1-144 1,116 1,2 1,18 1-26 1-28 1,18 1-102 1,82 1,35 1-256 1,232 1,41 1-92 1-31 1,119 1,8 1,87 1-170 1,63 1,65 1-77 1,7 1,52 1-66 1,41 1-67 1,87 1-35 1-29 1,31 1,0 1,15 1-98 1,126 1-7 1-20 1-184 1,222 1-186 1-3 1,312 1-304 1,63 1-50 1,135 1-148 1,73 1-23 1-24 1,175 1-146 1,81 1,48 1-77 1,27 1-109 1,231 1-276 1,25 1,69 1-89 1-130 1,83 1,82 1,142 1-93 1,46 1-36 1-8 1,174 1-138 1,39 1-10 1-102 1,40 1,77 1-88 1,8 1,96 1-88 1,107 1-70 1-40 1,140 1-199 1-50 1,161 1,105 1-140 1,33 1-43 1,11 1,76 1,91 1-141 1,69 1-130 1-54 1,161 1-116 1,145 1-132 1,9 1-113 1,288 1-117 1,12 1-42 1,9 1-4 1-3 1,24 1-31 1-89 1,65 1,1 1-69 1,164 1-157 1,90 1,48 1,24 1-68 1,87 1-138 1,4 1-87 1,83 1-4 1,53 1-43 1,162 1-96 1,4 1-97 1,106 1-80 1,110 1,29 1-277 1,239 1-205 1,109 1,42 1-67 1,8 1-60 1,2 1,27 1,43 1-20 1,6 1-24 1,89 1,58 1-140 1,25 1,2 1-130 1,142 1,91 1-169 1,44 1-38 1,89 1-5 1-1 1-27 1-55 1,24 1-85 1,131 1-146 1,109 1,65 1-166 1,80 1-16 1-47 1,3 1,71 1-9 1-283 1,295 1,42 1,87 1-86 1-8 1-82 1,60 1,74 1-254 1,209 1-128 1,101 1-19 1,42 1-225 1,124 1,53 1-20 1,61 1-69 1,96 1-127 1-22 1,73 1,13 1-4 1-47 1-85 1,280 1-206 1-41 1,18 1,112 1-149 1,8 1,88 1-6 1,104 1,40 1-62 1-22 1,19 1-39 1-22 1,5 1-88 1-5 1-20 1,114 1,40 1-69 1,50 1-52 1,31 1-68 1,51 1-125 1,95 1-4 1,15 1-17 1,109 1-123 1,103 1-20 1,167 1-243 1,265 1-350 1,130 1-14 1,8 1,75 1-48 1-47 1,13 1-44 1,183 1-88 1-23 1,30 1-5 1-39 1,60 1,180 1-174 1,33 1-2 1-146 1,159 1-25 1,64 1-23 1,95 1-37 1-74 1-47 1,59 1-16 1-6 1,119 1-106 1-161 1,356 1-185 1-60 1,158 1-23 1,41 1,28 1-20 1,66 1,33 1-84 1,28 1-4 1,29 1-34 1-8 1,40 1-98 1,148 1,38 1-61 1-73 1,51 1-60 1-207 1,241 1-37 1,38 1-81 1-75 1,120 1-53 1,73 1-143 1,24 1,163 1-148 1-142 1,294 1-64 1,14 1-68 1,19 1,29 1,5 1-73 1,45 1,32 1-19 1-184 1,132 1,196 1-83 1-39 1,91 1-47 1,12 1,5 1-110 1,79 1,32 1,30 1,174 1-297 1,91 1-31 1-30 1-104 1,163 1-68 1,18 1,37 1-92 1-66 1,162 1-21 1-9 1-61 1,87 1-40 1,21 1,2 1,37 1-210 1,307 1-241 1,178 1-143 1,164 1-1 1,49 1-65 1-9 1,55 1-112 1-12 1,22 1,72 1,36 1-61 1-39 1,275 1-170 1,94 1-79 1-155 1,22 1,267 1-179 1-71 1,77 1-58 1,117 1-186 1,149 1-14 1-141 1,94 1,21 1-48 1,49 1,25 1-10 1-117 1,138 1-114 1-4 1,94 1,125 1-116 1-66 1-31 1,15 1-46 1,111 1-140 1,83 1,138 1-178 1,167 1-153 1,18 1,100 1-14 1-106 1-58 1,9 1,41 1,102 1-91 1,107 1,56 1-140 1,7 1,1 1-27 1,28 1-68 1,39 1-78 1,24 1,131 1-216 1,121 1-35 1,49 1,10 1-206 1,168 1,126 1-102 1-22 1-64 1,57 1,74 1-115 1,175 1-93 1-59 1,86 1,42 1-85 1,156 1-161 1,64 1-44 1,33 1-131 1-30 1,85 1,10 1-74 1,146 1,17 1-28 1-16 1,23 1,33 1-85 1-90 1,91 1,13 1-182 1,99 1-34 1,146 1,191 1-41 1-44 1-240 1,46 1,68 1,21 1,50 1-34 1-135 1,64 1,77 1-22 1,54 1-22 1-28 1-26 1,32 1,25 1-45 1-22 1,53 1-131 1-52 1,64 1-11 1,86 1-160 1,141 1-55 1,20 1,26 1-45 1,6 1-150 1,12 1,164 1-36 1-29 1,0 1-5 1-45 1,57 1-48 1,46 1,59 1-61 1-68 1,65 1,44 1-67 1-42 1-60 1,229 1,135 1-132 1-64 1-1 1-20 1-145 1,26 1,62 1,31 1-186 1,59 1,93 1,58 1-42 1-49 1-7 1-44 1,137 1-53 1-115 1,132 1,10 1-11 1-108 1,103 1-68 1,39 1-56 1,21 1-34 1,50 1,109 1-132 1-2 1,16 1,5 1-169 1,61 1,158 1-216 1,97 1,81 1,16 1-56 1,50 1-187 1,85 1,58 1-30 1,55 1-46 1-107 1,315 1-145 1,46 1,50 1-84 1-17 1-78 1,50 1,17 1-61 1-30 1,175 1-84 1-114 1,96 1-17 1-43 1,110 1-53 1-180 1,174 1,147 1-63 1-33 1-6 1,51 1-186 1,147 1,34 1-127 1,120 1-8 1-13 1-21 1,113 1-136 1-89 1,164 1-92 1,66 1-74 1-6 1,7 1-38 1,60 1-32 1-52 1,61 1,144 1-172 1,91 1-41 1-4 1-76 1-81 1,116 1,67 1-49 1-18 1,35 1-25 1,63 1,9 1-130 1,69 1,73 1,5 1-16 1-9 1,17 1-54 1-52 1,106 1-64 1-23 1,46 1-28 1-36 1,29 1-27 1,104 1-95 1,15 1-27 1-70 1,18 1,118 1-172 1,203 1-10 1-3 1,178 1,17 1-143 1,34 1,11 1-94 1-59 1-41 1,85 1-47 1,106 1-101 1,156 1-69 1-68 1,127 1,68 1-196 1-15 1,7 1,40 1-10 1,15 1-23 1-8 1,107 1-26 1-99 1-26 1-51 1,137 1-4 1,56 1,7 1-86 1,11 1-33 1,72 1-16 1,1 1,83 1-117 1,226 1-233 1,23 1-10 1,43 1,32 1-200 1,141 1,77 1-57 1,30 1-90 1,21 1,88 1,12 1-115 1,137 1-41 1,55 1-69 1-59 1,175 1-128 1-81 1,95 1-49 1,95 1,83 1-59 1,60 1-106 1-79 1,60 1-71 1,106 1-76 1,17 1,78 1,32 1-57 1-40 1,53 1-6 1-9 1-128 1,163 1-168 1,83 1-23 1-1 1,115 1-103 1,70 1-6 1-19 1,55 1-97 1,142 1-116 1,79 1,14 1-77 1,13 1,44 1-129 1,38 1,134 1-12 1-16 1-166 1,117 1,68 1,78 1,9 1-169 1-25 1-5 1,58 1-17 1-28 1,26 1,16 1-119 1,159 1-18 1-74 1,26 1-65 1-123 1,148 1,158 1-97 1,19 1,30 1,80 1-171 1-27 1,35 1,22 1-84 1-53 1,135 1,3 1-104 1,75 1,21 1,24 1-44 1-70 1,39 1,77 1,143 1-220 1,26 1-62 1,19 1,19 1,78 1,51 1-35 1-55 1-8 1,107 1-119 1,73 1,2 1-13 1-43 1,30 1-11 1-52 1,101 1-99 1,9 1,88 1,6 1-15 1-87 1,6 1,44 1,9 1-103 1,131 1-26 1,29 1-137 1,208 1,36 1-22 1-83 1,57 1-125 1,34 1,23 1,15 1-55 1,60 1-83 1,49 1-25 1,8 1-45 1,76 1-10 1,130 1-121 1-160 1,204 1-43 1,32 1,10 1-95 1-42 1,16 1,146 1-145 1,23 1-7 1,35 1,25 1-26 1-58 1,35 1,94 1-25 1,47 1-58 1-65 1,64 1-5 1-9 1-186 1,194 1,113 1-185 1-2 1-26 1,65 1-12 1-6 1-13 1-128 1,94 1,0 1,61 1-53 1,23 1-73 1,25 1,93 1-128 1,119 1-63 1,63 1-127 1,123 1-47 1,16 1-27 1,11 1,27 1-66 1,143 1-55 1,29 1,93 1-47 1-81 1,67 1,34 1-42 1-28 1,39 1,33 1-47 1-16 1-26 1,3 1-30 1,92 1-105 1,46 1,110 1-173 1,22 1,69 1,30 1-153 1,5 1,197 1-157 1,20 1-15 1,57 1,1 1,10 1-94 1-63 1-58 1,135 1-24 1,37 1,84 1-17 1-103 1-39 1,73 1-68 1,49 1,30 1-35 1,72 1-22 1-6 1,27 1-2 1-26 1,10 1,31 1,56 1-104 1,82 1-18 1-6 1-72 1,5 1,29 1-104 1,138 1-51 1,43 1,18 1,28 1-13 1-82 1-5 1,120 1-60 1,2 1,62 1-56 1-14 1-53 1-5 1,9 1,65 1-88 1,87 1,22 1-103 1,65 1-1 1-34 1-57 1,42 1,89 1,62 1-73 1,4 1-66 1-3 1,51 1-83 1-36 1,49 1-7 1-153 1,206 1-183 1,128 1-91 1,12 1,57 1,63 1-123 1,109 1-82 1-215 1,277 1-15 1,37 1,48 1-92 1-42 1,133 1-37 1-81 1,98 1-63 1-62 1,106 1-48 1,220 1-203 1-115 1,65 1-65 1,107 1-130 1,21 1,102 1,19 1-68 1,34 1,117 1-219 1,198 1-35 1-99 1-65 1-76 1,166 1,49 1-2 1-12 1,63 1-149 1-101 1,224 1-332 1,148 1-46 1,51 1,83 1,75 1-8 1-63 1-54 1-18 1-17 1-26 1,15 1,68 1-37 1,53 1-20 1,35 1,153 1-155 1-7 1,72 1-107 1,129 1-171 1,21 1-16 1,82 1-131 1,12 1,10 1,124 1-120 1,80 1,67 1-134 1,25 1,75 1-55 1,8 1,83 1-30 1-54 1-28 1-38 1,51 1,202 1-203 1-117 1,117 1-48 1-12 1,23 1-10 1,76 1-12 1-43 1,114 1-8 1-50 1-51 1,183 1-22 1-80 1,50 1-73 1-18 1,57 1-101 1,46 1,99 1-85 1,264 1-288 1,73 1-7 1-4 1,43 1-8 1-187 1-18 1,198 1-57 1,95 1,10 1-50 1-10 1,28 1-120 1,54 1,73 1-111 1,208 1-159 1,162 1-70 1-88 1,46 1-140 1,124 1,19 1,32 1,17 1-161 1,57 1,58 1-163 1,25 1,86 1-1 1-66 1-139 1,95 1,79 1-120 1,202 1-124 1-213 1,205 1-114 1,126 1,150 1-116 1,86 1-151 1,9 1,28 1,91 1-252 1,132 1-44 1,195 1-52 1-3 1,12 1,80 1-8 1-149 1,10 1-64 1,55 1,54 1-83 1-79 1,81 1-42 1,63 1-15 1,27 1-23 1,173 1-107 1-63 1,94 1-6 1,173 1-131 1,40 1-161 1-18 1,259 1-29 1-56 1-95 1-74 1,80 1-33 1,7 1-166 1,209 1-142 1,84 1,49 1-39 1,126 1-129 1,34 1-76 1,65 1-54 1,73 1-89 1,22 1-105 1,15 1,205 1-14 1-99 1-27 1,51 1,21 1-98 1,131 1-64 1,55 1-7 1-15 1,71 1-45 1,38 1-32 1-64 1-177 1,290 1,45 1-33 1-99 1,25 1,213 1-135 1-133 1,147 1-75 1-108 1,124 1,8 1,49 1-72 1,35 1,15 1,72 1-48 1,7 1-120 1,188 1-193 1-5 1,35 1,27 1,29 1,23 1-126 1-52 1-39 1,67 1,172 1-42 1,70 1-148 1-103 1,147 1-129 1,13 1-46 1,208 1,21 1-117 1-28 1-43 1-18 1,128 1-37 1-72 1,52 1-5 1-67 1,49 1,58 1-158 1-60 1,105 1,28 1,46 1,65 1-141 1,99 1,22 1,46 1-39 1,7 1-53 1-22 1-73 1,155 1-16 1-73 1,208 1-182 1,141 1-136 1,94 1-69 1,39 1-3 1,116 1-55 1,14 1-42 1-132 1,103 1,0 1,71 1-215 1,93 1,78 1-106 1-126 1,67 1,65 1-43 1,32 1-12 1,162 1-92 1-112 1,80 1,28 1,228 1-277 1,35 1,55 1-92 1,85 1-36 1-81 1,41 1-127 1,56 1,154 1-132 1,68 1,4 1-266 1,411 1-181 1-23 1,13 1,96 1-165 1,80 1-81 1,191 1-66 1,104 1-157 1,49 1,121 1,10 1-109 1,1 1,25 1-115 1,59 1,85 1-116 1,59 1-93 1,98 1-13 1,41 1-14 1-35 1,2 1,76 1-148 1,187 1-55 1-22 1-274 1,212 1,68 1-72 1,7 1,26 1-113 1-159 1,288 1,153 1-164 1,162 1-121 1-261 1,199 1,143 1-125 1-67 1,100 1,3 1,25 1,47 1-85 1-38 1,47 1-87 1,69 1-13 1,52 1,57 1-128 1,21 1,159 1-98 1-24 1,53 1-237 1,241 1-25 1-110 1,71 1-16 1,15 1,53 1-69 1-1 1,24 1,48 1-132 1-80 1,88 1,55 1-112 1,17 1,77 1-104 1,101 1,26 1,70 1-17 1-62 1,19 1-91 1,41 1,7 1,74 1-55 1-92 1,123 1-164 1,321 1-144 1-121 1,22 1,156 1,33 1-133 1,32 1-93 1,35 1,117 1-118 1,41 1-173 1,33 1,205 1-212 1,217 1-153 1,74 1-152 1,87 1,1 1,83 1-1 1-157 1,40 1,19 1,51 1,13 1-199 1,181 1-6 1-29 1-73 1,207 1-77 1-128 1,179 1-115 1-67 1,188 1-102 1-83 1,11 1,24 1-15 1,15 1,18 1-19 1,89 1-76 1,34 1,63 1-92 1-77 1,124 1-13 1-10 1,165 1-50 1-112 1,20 1-21 1-15 1-84 1,349 1-165 1-161 1,68 1,73 1-59 1,95 1-104 1,12 1,65 1-27 1,133 1-61 1-78 1-99 1,88 1-87 1-11 1,9 1,30 1,129 1-148 1,92 1-92 1,104 1,21 1-71 1,23 1-95 1,82 1,19 1,32 1-46 1-92 1,126 1-52 1,133 1-131 1,106 1-36 1,0 1-49 1,110 1-97 1,1 1,98 1-102 1-18 1,21 1,4 1-55 1,37 1,179 1-150 1,33 1,2 1-62 1-77 1,99 1-75 1,37 1,82 1-64 1,63 1-46 1-112 1,3 1,147 1-152 1-79 1-12 1,72 1,66 1-66 1,79 1,21 1,13 1,30 1-137 1,158 1-188 1,119 1-34 1,33 1-20 1-18 1,11 1,188 1-160 1,179 1-167 1,63 1-123 1,149 1-140 1,131 1-62 1,30 1-25 1,112 1-139 1-129 1,290 1-164 1,103 1-66 1-90 1,135 1,18 1,37 1-161 1,47 1,213 1-157 1,10 1-33 1-2 1,86 1,90 1-162 1,143 1-112 1,57 1-189 1,116 1-32 1,16 1-10 1,3 1-55 1-55 1,54 1,33 1,14 1-23 1-13 1,32 1-18 1-22 1,107 1-69 1,2 1-83 1,31 1-21 1-10 1-44 1-93 1,126 1,18 1-19 1,15 1,111 1-95 1-20 1,60 1-46 1,209 1-217 1,105 1-138 1,124 1-97 1-89 1,15 1,114 1,60 1-37 1-101 1,82 1-97 1,87 1,6 1,15 1-24 1,78 1-109 1,157 1,41 1-118 1,89 1-156 1,110 1,189 1-161 1-66 1,66 1-78 1,110 1,68 1-164 1,83 1-157 1,170 1,3 1-133 1-4 1,7 1,34 1,53 1-14 1-18 1-61 1,86 1,0 1-162 1,98 1,40 1-30 1,56 1-94 1,14 1,30 1,19 1-5 1-40 1,108 1-91 1-107 1,25 1-20 1-38 1,138 1,62 1-11 1,22 1-137 1-12 1-17 1-46 1,72 1,155 1-115 1,64 1-205 1,108 1-42 1,131 1-38 1-55 1,51 1,81 1-189 1,87 1-21 1-47 1,16 1,139 1-108 1,15 1,9 1,9 1,36 1-27 1,52 1,57 1-80 1,112 1-52 1-17 1-27 1-103 1-19 1,16 1,100 1-45 1-79 1-20 1-46 1,131 1,15 1-166 1,136 1-4 1,86 1-161 1-63 1,94 1-78 1,15 1,5 1,51 1,9 1-50 1,26 1,71 1-107 1,140 1-106 1,278 1-385 1,51 1,275 1-253 1,59 1,8 1-78 1-32 1,153 1-74 1-19 1-6 1-19 1,91 1-138 1,153 1-16 1-73 1,41 1,140 1-176 1,51 1-11 1,85 1-109 1,91 1-30 1,27 1-168 1,136 1-78 1,90 1-4 1,197 1-236 1,117 1-39 1-85 1-65 1-32 1,163 1-71 1-97 1-16 1,81 1,26 1,44 1,24 1,146 1-224 1,7 1,36 1,29 1-1 1-141 1,104 1,14 1-27 1-146 1,156 1,46 1-1 1,7 1,38 1,68 1-142 1,127 1-151 1,107 1-95 1,30 1-31 1-54 1,39 1-58 1,164 1-54 1-83 1,54 1-13 1,61 1-135 1,170 1-99 1-95 1-6 1,60 1-11 1-22 1,33 1,158 1-136 1-29 1,186 1-229 1,60 1,169 1-119 1-19 1,126 1-36 1,150 1-90 1-27 1-91 1,133 1-274 1,246 1-75 1-98 1,91 1-14 1,115 1-82 1-92 1,113 1,49 1-93 1-60 1,35 1,78 1-188 1,124 1-35 1,73 1-16 1,7 1-139 1,148 1-72 1,4 1-15 1-21 1,67 1-114 1-23 1-46 1,200 1-53 1-3 1,119 1-95 1,26 1-242 1,173 1,62 1-147 1,79 1-128 1,297 1-144 1,116 1-66 1-87 1,101 1-56 1-140 1,199 1,134 1-121 1-168 1,198 1,81 1-141 1,62 1-107 1,69 1-118 1,88 1-82 1,28 1,91 1-112 1,147 1-53 1,60 1-85 1,20 1,47 1-24 1,92 1-202 1-63 1,53 1,171 1-108 1,110 1-53 1-66 1,119 1-142 1,82 1-10 1,42 1-24 1,74 1-9 1,33 1-140 1,86 1-8 1-37 1,3 1-1 1-45 1-36 1,72 1,16 1,178 1-297 1,9 1,231 1-12 1-73 1,40 1-93 1,25 1,3 1-80 1,74 1-18 1,43 1,27 1-138 1,116 1-34 1,20 1-65 1-66 1,99 1,4 1-36 1-57 1-20 1,77 1-32 1-39 1-11 1-72 1,155 1-151 1-20 1,45 1-27 1,3 1-219 1,203 1,162 1-142 1-57 1,93 1,26 1,37 1-67 1,17 1-142 1,224 1-117 1,81 1-120 1,63 1-19 1,123 1-61 1-62 1,72 1-53 1,87 1-71 1-38 1,42 1,79 1-136 1,71 1,148 1-135 1-17 1,38 1,7 1,75 1-70 1,13 1-202 1,264 1-140 1,110 1-38 1-53 1,94 1-20 1-112 1,23 1,85 1-23 1-58 1-73 1,49 1,40 1,61 1-65 1,109 1-49 1-32 1,17 1-106 1,95 1,84 1-135 1,103 1-93 1-2 1,39 1-43 1,93 1-182 1,47 1-44 1,37 1,195 1-186 1-58 1-24 1,40 1,147 1-76 1-76 1,54 1,78 1-78 1,194 1-215 1,60 1,10 1-67 1,59 1-71 1,231 1-227 1-8 1,70 1,0 1-82 1,70 1,42 1-108 1,4 1,177 1-132 1,47 1,2 1-51 1-45 1,37 1,15 1,69 1-62 1-14 1-90 1,108 1-100 1,32 1-85 1,39 1,135 1,35 1-71 1-20 1,120 1-180 1,69 1-57 1,80 1-85 1-41 1,23 1,13 1-20 1-8 1,53 1,6 1,72 1-59 1,58 1-10 1-107 1,36 1,64 1-98 1,158 1,35 1-157 1,50 1-34 1,83 1-33 1,51 1-18 1-84 1,113 1-34 1,30 1-89 1,10 1,13 1-72 1,152 1-74 1,23 1,4 1-111 1,19 1,151 1-44 1-116 1-3 1,80 1-116 1,62 1-15 1,32 1,24 1-7 1,12 1-178 1-15 1,77 1,42 1,30 1,85 1-21 1-12 1-67 1,119 1,9 1-112 1,83 1-51 1-81 1-84 1,186 1,50 1-31 1-60 1,44 1,43 1-86 1,71 1-87 1-24 1,177 1-59 1-5 1,1 1-197 1,154 1-92 1,30 1,13 1,52 1-39 1,40 1-148 1,81 1-27 1,4 1-11 1,88 1-25 1-151 1,158 1-101 1,27 1-8 1,138 1-74 1,28 1-23 1-43 1,19 1,100 1,73 1-189 1,130 1,90 1-125 1,21 1-6 1,32 1-32 1,23 1-73 1,89 1-136 1,7 1,67 1,27 1-22 1-101 1,50 1-54 1,73 1-67 1-22 1,38 1,53 1,31 1-20 1-59 1-36 1,23 1-29 1,70 1-73 1,115 1,47 1-173 1,95 1-9 1-109 1,114 1,48 1-17 1-98 1-33 1,264 1-123 1,2 1-79 1,68 1,125 1-183 1-5 1,28 1-109 1,149 1,96 1-212 1,72 1-23 1,45 1-16 1,122 1-81 1,44 1-7 1-91 1,53 1-68 1,139 1-19 1,17 1-92 1-52 1,210 1-98 1-24 1-48 1,83 1,31 1-151 1,168 1,0 1-188 1,66 1,15 1-37 1,63 1-81 1,21 1,37 1-51 1-19 1,92 1,1 1-34 1,84 1-151 1,125 1-45 1,26 1-5 1-15 1-55 1,73 1,43 1,16 1-98 1,40 1-38 1,271 1-171 1-56 1-78 1,150 1-174 1-26 1,48 1-208 1,111 1-5 1,172 1-218 1,245 1,11 1,120 1-14 1-248 1,123 1,9 1-38 1-114 1,63 1-71 1,4 1,61 1-27 1,107 1-85 1-57 1,53 1-17 1-64 1-24 1,84 1-7 1-112 1,70 1,128 1-214 1,268 1-144 1-14 1-8 1,207 1-110 1,72 1-35 1,78 1-110 1,94 1-78 1,79 1-157 1-67 1,72 1,18 1,137 1-106 1-25 1,24 1-24 1,40 1-3 1-11 1-56 1,103 1-162 1,26 1,56 1,44 1,1 1-62 1,11 1-89 1,72 1,159 1-69 1-95 1-13 1-106 1,214 1-14 1,28 1-153 1-41 1,88 1,63 1,5 1-71 1,25 1,85 1-114 1-31 1,110 1-19 1,67 1-65 1-18 1,12 1,105 1-111 1,68 1,64 1-132 1,55 1-52 1,36 1-49 1,227 1-107 1-76 1-114 1,96 1,72 1-213 1,181 1-11 1-13 1,0 1,3 1,52 1,134 1-141 1-55 1,136 1-101 1-48 1,6 1-20 1,25 1-48 1,73 1,22 1-113 1-43 1,82 1-168 1,195 1-141 1,26 1,70 1,64 1-74 1,48 1-53 1,24 1-178 1,219 1,2 1-67 1-15 1,118 1-196 1,83 1,41 1-67 1,64 1-45 1,4 1,42 1-61 1,16 1,110 1,33 1-77 1-46 1,33 1-21 1,92 1-129 1,47 1-132 1,41 1,38 1,139 1-56 1-185 1,109 1-14 1,197 1-196 1,36 1,80 1-40 1,44 1-54 1,73 1-78 1,22 1-1 1-20 1,34 1,98 1-122 1-70 1,12 1,103 1-2 1,127 1-127 1-10 1,17 1-219 1,381 1-192 1,68 1-48 1-26 1,65 1,112 1-166 1,127 1-49 1-65 1-22 1-148 1,84 1,90 1,45 1-81 1,73 1-62 1-133 1,72 1,0 1,73 1-11 1,93 1,12 1-118 1-133 1,191 1-89 1-19 1-31 1,20 1,48 1-65 1,23 1-1 1-6 1-10 1-1 1,47 1-24 1,41 1,18 1-59 1-29 1,46 1-65 1,39 1,22 1-18 1,57 1,84 1-28 1,7 1-71 1,46 1,25 1-143 1,93 1,59 1-73 1,35 1-98 1,54 1-41 1,156 1-78 1-43 1-41 1-47 1,122 1-12 1-53 1,58 1,30 1-67 1-18 1,31 1-29 1-116 1,83 1,94 1-36 1-102 1,71 1,11 1,71 1,27 1,152 1-181 1-31 1,57 1-79 1,144 1-148 1,27 1-32 1,87 1-45 1-93 1,5 1,14 1-92 1,68 1,45 1-22 1-3 1,148 1,15 1-139 1-85 1,7 1,117 1-10 1,25 1,82 1-162 1,140 1-132 1-76 1,116 1,195 1-72 1-134 1,43 1-74 1,94 1,19 1-64 1-17 1,21 1,94 1-14 1,11 1-70 1-25 1-23 1,44 1,5 1,73 1,25 1-166 1,25 1-26 1,138 1-10 1-75 1,45 1-180 1,85 1,101 1-77 1,12 1-75 1,74 1-38 1-153 1,219 1,22 1-97 1,5 1,30 1-18 1,37 1,23 1,63 1-63 1-64 1,65 1-67 1,1 1,42 1-17 1-58 1,96 1-17 1-69 1,71 1,12 1-73 1,75 1,11 1,77 1-127 1-11 1,67 1-80 1,42 1-17 1-14 1-93 1,94 1,109 1-114 1,32 1-2 1,84 1-88 1,81 1-162 1,195 1-21 1,10 1-70 1-51 1,92 1-54 1,33 1-60 1,78 1-44 1-50 1,71 1-56 1-80 1,67 1-86 1,95 1,50 1-120 1,18 1-46 1,91 1-155 1,26 1-18 1,33 1,90 1,108 1-282 1,177 1-57 1,10 1,44 1-85 1,109 1-141 1-5 1,15 1,90 1-12 1-68 1,197 1-65 1,32 1-124 1-26 1,105 1,24 1-13 1,150 1-146 1-29 1,1 1-42 1,80 1,23 1-16 1,165 1-130 1,59 1-68 1,91 1-106 1,45 1-8 1-65 1,41 1-64 1,82 1-133 1,54 1-76 1,119 1-64 1,42 1,4 1-158 1,212 1-17 1-86 1,2 1-52 1,239 1-90 1-176 1,212 1-33 1,23 1-23 1-58 1,34 1,51 1,45 1-98 1-101 1,159 1-77 1,167 1-120 1-44 1-28 1,24 1,12 1-37 1,10 1,62 1,56 1,103 1-228 1,28 1-42 1,151 1-95 1,71 1-160 1-31 1,102 1,168 1-164 1,61 1,75 1-171 1,34 1,104 1-15 1-7 1,0 1-48 1,20 1-6 1-41 1,111 1-123 1-36 1-166 1,168 1,55 1,4 1-2 1-109 1,85 1,17 1,15 1,28 1,2 1,57 1-104 1,16 1,14 1-66 1,0 1,29 1-6 1-63 1,134 1,64 1-84 1-70 1,40 1,168 1-175 1,6 1-25 1,17 1-109 1,275 1-238 1-25 1,60 1,64 1-26 1-170 1,193 1,58 1-226 1,284 1-122 1,21 1,5 1,26 1-61 1,32 1-33 1-57 1,65 1,36 1,6 1-58 1,91 1-17 1-49 1,33 1-107 1,147 1,3 1-71 1,18 1-10 1-35 1-6 1-56 1,71 1,7 1-67 1,3 1,88 1-182 1,133 1-27 1-19 1,43 1-19 1,96 1-140 1,65 1,123 1-215 1,161 1-75 1,86 1-93 1-85 1,107 1-72 1,94 1-79 1-49 1,53 1-65 1,28 1,125 1-183 1,55 1-64 1,193 1,31 1-16 1-60 1,87 1,44 1-142 1,141 1-11 1-41 1-102 1,103 1,12 1,30 1-148 1,22 1,3 1,35 1-13 1-91 1,1 1,104 1-33 1-13 1,100 1-71 1-33 1,44 1,85 1-88 1,56 1,84 1-267 1,3 1,114 1,113 1-10 1-39 1-66 1,53 1-104 1,65 1,29 1-18 1-96 1,147 1-45 1,57 1-129 1,34 1,72 1-136 1,75 1,18 1,3 1-117 1,186 1-84 1,17 1,204 1-264 1-145 1,160 1,54 1,53 1,46 1-68 1,39 1,26 1-6 1-85 1,116 1-66 1-7 1-53 1,92 1-18 1,48 1-43 1-19 1-58 1,270 1-234 1,148 1,54 1-150 1,47 1,54 1-87 1,68 1,184 1-249 1,95 1-32 1,13 1,54 1-52 1-1 1,59 1,22 1-55 1-12 1-56 1-59 1,80 1,25 1-74 1,202 1,3 1-97 1-12 1,55 1,8 1-43 1,26 1-18 1-97 1,92 1,47 1,41 1-35 1,89 1-92 1-4 1,71 1-171 1,78 1-27 1,46 1-7 1,9 1-68 1,71 1,103 1-36 1-60 1,0 1-57 1,79 1-63 1,2 1,157 1-143 1,83 1-20 1-9 1,8 1-150 1,43 1-25 1,69 1,68 1-113 1,35 1-19 1,41 1-6 1,71 1-149 1,135 1-69 1,51 1-74 1-41 1,130 1-92 1,28 1,61 1-162 1,114 1,1 1,86 1-76 1-57 1-126 1,72 1,151 1-45 1,31 1,47 1-63 1-95 1,48 1,26 1,29 1,17 1-165 1,217 1,9 1-3 1-233 1,189 1,119 1-345 1,71 1,39 1,25 1-32 1,134 1-20 1-24 1-31 1-44 1,168 1-77 1-84 1-4 1,250 1-336 1,72 1-60 1,52 1,36 1,35 1-95 1,54 1-16 1-13 1,52 1,45 1,12 1-13 1,46 1-129 1,43 1-53 1-27 1,6 1,47 1,46 1-39 1,92 1-189 1,132 1-19 1-8 1-21 1,14 1,72 1-110 1,136 1-81 1-47 1,18 1,73 1-81 1-95 1,265 1-125 1,2 1,26 1-101 1,15 1,9 1-78 1,126 1-53 1-10 1,50 1,24 1-8 1-10 1-13 1-12 1,105 1-78 1-56 1,55 1-14 1,87 1-53 1,21 1-134 1-51 1,157 1,37 1-145 1,126 1,36 1,87 1-225 1,19 1,143 1-5 1-55 1-36 1-149 1,135 1,18 1,35 1-96 1,143 1-88 1,62 1-122 1,99 1-33 1,63 1-40 1,162 1-146 1-93 1,92 1-106 1,79 1,24 1-45 1-26 1,1 1-52 1,42 1-86 1,139 1-63 1-23 1,130 1-22 1-37 1,48 1-68 1,123 1-129 1,84 1,27 1-15 1,78 1-155 1-13 1,90 1-139 1,22 1,80 1-19 1,143 1-23 1-140 1,72 1-80 1-6 1,42 1-33 1-124 1,14 1,190 1,32 1-191 1,19 1,80 1,36 1-62 1-8 1-16 1,31 1-88 1,144 1-103 1,145 1-46 1-94 1,79 1-34 1,96 1-91 1,75 1,47 1-99 1-29 1-8 1-111 1,173 1-80 1,24 1-31 1,33 1,18 1,147 1-54 1,137 1-134 1-50 1,0 1-9 1,66 1-145 1,62 1-1 1,45 1,17 1-51 1-67 1,36 1,113 1-92 1,39 1-90 1-28 1,17 1,72 1-17 1-102 1,34 1,144 1-121 1-101 1,232 1-96 1-1 1-49 1,151 1-120 1-20 1,249 1-72 1-89 1-85 1,92 1-59 1-3 1,79 1,70 1-50 1-64 1-25 1-75 1,81 1,31 1-71 1-90 1,96 1,51 1-22 1,5 1-21 1,52 1-117 1,111 1,8 1-60 1,7 1-29 1,119 1-6 1,87 1-66 1-73 1,31 1-25 1-82 1,96 1-34 1,122 1-236 1,126 1-45 1,128 1-60 1,88 1,63 1-9 1-145 1,40 1-13 1,55 1-63 1,56 1,51 1,3 1-126 1-9 1,79 1-61 1,68 1-132 1,45 1,132 1-101 1-36 1,102 1-183 1,51 1,118 1-59 1,36 1-2 1-75 1,132 1-141 1-53 1,166 1-235 1,184 1,83 1-109 1,90 1,17 1,82 1-133 1,49 1,21 1,43 1-166 1,80 1,33 1-63 1,85 1-101 1,64 1,107 1-56 1,19 1-54 1-96 1-40 1,100 1-52 1,61 1-96 1,82 1,6 1-76 1,52 1-145 1,155 1-50 1,2 1-3 1-45 1,48 1-79 1,57 1-26 1,189 1-268 1,15 1,107 1-55 1,65 1-95 1-57 1,107 1-28 1,130 1,15 1-78 1,48 1-157 1,282 1-208 1-6 1-22 1-117 1,174 1-58 1,23 1,58 1,44 1-249 1,72 1-104 1,294 1-151 1,132 1-65 1-81 1,45 1,62 1-70 1,41 1,15 1,82 1-207 1,117 1-20 1-25 1,77 1-27 1-107 1,247 1-162 1-86 1-39 1,228 1-63 1-27 1,12 1-134 1-45 1,52 1,47 1,17 1,7 1,16 1-93 1,196 1-133 1-43 1,49 1,38 1-84 1,37 1-58 1,24 1,153 1-109 1,84 1-15 1-59 1-112 1,38 1,52 1,3 1-79 1,129 1-14 1-25 1-73 1,38 1-22 1,19 1,60 1,57 1-139 1-45 1,169 1-105 1-115 1,187 1-139 1,63 1,6 1,49 1-40 1,79 1,4 1-67 1,4 1,86 1-102 1,56 1-91 1,230 1-188 1-47 1,85 1,16 1,34 1-120 1-11 1-104 1,117 1,68 1-67 1,7 1,152 1-131 1-108 1,117 1-9 1-78 1,88 1,122 1-117 1-25 1-17 1,90 1-7 1-53 1-137 1,204 1-7 1-52 1-24 1,21 1-13 1-10 1,63 1-115 1-69 1,117 1-35 1-8 1,74 1-72 1-36 1,31 1,96 1-50 1,35 1-70 1,65 1-26 1-58 1,38 1-19 1,87 1,139 1-149 1-16 1,61 1-59 1-1 1-22 1-13 1-46 1,210 1-145 1-59 1,46 1,59 1-9 1,27 1-142 1,18 1,158 1-167 1,72 1,31 1-146 1-14 1,92 1-77 1,15 1,91 1-62 1,111 1-44 1,31 1-3 1-42 1,48 1,40 1-52 1,80 1-18 1-66 1-22 1,10 1,30 1,15 1-120 1,49 1-26 1-4 1,89 1-81 1,46 1,78 1-36 1,62 1-62 1-88 1-78 1,195 1,15 1-31 1-66 1,126 1-46 1,27 1-99 1-35 1,37 1,54 1-73 1,76 1-71 1,60 1-3 1,80 1-152 1,135 1-134 1-40 1,29 1-8 1-8 1,69 1,11 1,57 1-210 1,135 1-53 1,59 1,82 1,43 1-45 1-67 1,66 1-23 1,24 1-152 1,155 1-22 1,148 1-179 1,37 1-83 1,73 1,38 1-28 1-86 1,61 1,133 1-92 1-104 1,106 1-59 1-102 1,218 1-59 1-87 1,91 1-44 1-36 1-11 1,21 1,56 1,32 1-10 1,5 1-117 1,18 1,16 1,226 1-181 1-24 1,49 1-25 1,51 1-79 1,50 1-32 1,22 1,139 1-210 1,93 1-163 1,1 1,230 1-3 1-130 1,24 1-30 1,18 1,20 1,62 1-69 1,68 1-26 1-93 1,322 1-130 1-62 1-27 1-9 1,5 1-34 1,59 1-35 1-14 1,29 1-141 1,153 1-59 1,92 1-6 1,14 1-129 1-106 1,131 1-80 1,257 1-248 1,159 1-151 1-29 1,89 1-70 1,158 1-72 1,5 1,25 1-116 1,96 1-55 1,133 1-87 1,103 1-145 1,96 1-148 1,64 1,107 1-90 1,19 1,58 1-29 1-272 1,125 1,153 1,29 1-31 1-94 1-14 1,65 1-7 1,50 1,39 1-55 1,94 1-125 1,109 1-60 1,110 1-37 1-78 1,38 1-133 1,122 1-50 1-54 1,43 1-11 1,183 1-177 1-23 1-24 1,47 1-83 1,110 1,24 1-23 1,81 1-102 1,47 1-51 1,47 1,30 1,42 1-57 1-42 1,9 1,12 1-33 1,44 1-38 1-16 1-188 1,136 1-15 1,68 1-33 1,37 1-19 1,26 1,29 1,105 1-22 1-134 1,66 1,7 1,26 1,7 1,49 1-47 1-94 1,68 1,19 1-101 1,18 1,4 1,0 1,65 1,7 1-30 1-27 1,54 1-229 1,177 1,34 1-20 1,20 1,28 1-106 1,43 1,16 1-26 1-90 1,47 1-7 1,123 1-213 1,92 1-47 1-6 1-16 1,107 1-80 1-18 1,74 1,5 1-99 1,7 1,126 1-101 1,240 1-255 1-28 1,3 1,45 1,64 1-55 1-5 1-15 1,86 1,43 1,1 1-126 1-23 1,116 1,17 1,3 1,33 1,33 1-208 1-8 1,166 1-71 1,64 1-23 1-6 1,30 1-58 1-7 1-72 1,127 1-114 1-3 1,40 1-13 1,56 1-122 1,93 1-51 1,16 1,9 1,122 1-70 1-54 1,72 1,8 1-185 1,363 1-275 1,41 1,73 1-102 1,36 1-11 1,157 1-95 1,1 1-40 1-1 1,21 1,114 1-209 1,93 1-108 1,176 1-90 1,38 1,94 1-209 1,143 1-140 1,34 1,12 1-48 1,118 1-68 1,65 1-208 1,211 1-66 1,90 1-66 1,22 1-61 1,55 1,80 1,33 1-55 1-134 1,93 1-149 1,156 1,74 1,55 1-87 1,6 1-67 1,10 1-42 1,86 1-103 1,78 1-2 1-43 1,56 1-23 1-124 1,133 1,55 1-91 1,71 1-80 1,67 1,32 1-198 1,1 1,15 1-9 1,130 1-16 1,2 1,94 1-94 1,60 1-22 1-63 1,4 1,159 1-149 1-28 1,119 1-98 1-15 1,268 1-186 1,21 1-94 1,18 1,53 1-86 1,90 1-70 1-39 1,107 1-130 1-47 1,62 1,40 1,5 1,91 1-55 1-63 1,57 1,22 1-76 1,86 1-45 1-35 1-80 1,83 1-32 1,130 1-66 1,13 1-108 1,57 1,86 1-65 1,0 1-67 1,120 1-85 1-9 1,86 1-14 1,16 1-131 1,143 1-56 1-171 1,185 1-61 1,38 1,26 1,53 1-52 1,44 1-189 1,227 1-254 1,102 1-6 1,53 1-97 1-168 1,157 1-41 1,113 1,32 1,11 1,35 1-118 1,82 1-54 1,28 1,66 1-25 1-34 1-38 1,142 1,7 1,0 1-59 1,70 1-10 1-279 1,165 1-65 1,11 1-6 1,89 1-25 1-81 1,9 1,135 1-106 1-25 1,53 1-6 1,118 1-134 1-7 1,103 1,16 1-29 1,31 1-47 1,89 1-160 1-4 1,291 1,10 1-245 1,33 1,11 1,14 1,119 1-250 1,59 1-143 1,133 1,23 1-2 1,68 1-131 1,32 1,53 1-75 1-97 1,38 1,70 1-15 1,76 1-55 1,23 1,46 1-14 1-9 1-28 1,68 1-93 1,46 1,71 1-8 1-63 1-110 1,78 1-25 1,49 1-29 1-71 1,7 1,49 1,9 1-18 1-41 1,37 1-15 1-182 1,127 1,166 1-80 1,80 1-111 1-10 1,69 1-4 1-24 1-122 1,155 1-66 1,111 1-76 1-13 1,30 1-45 1-6 1-21 1,59 1,41 1,9 1-216 1,130 1,0 1-26 1-6 1,163 1-126 1,46 1-37 1-23 1,29 1,2 1-46 1-26 1,123 1-91 1,85 1,9 1-101 1,23 1,101 1-285 1,221 1-16 1-13 1,52 1-191 1,160 1-36 1,122 1-152 1,52 1-102 1,131 1-86 1,71 1,56 1-159 1,156 1-17 1,9 1,40 1-117 1,127 1-89 1-3 1,81 1-138 1,101 1-116 1,22 1,130 1-138 1,71 1,36 1-53 1-10 1,70 1-56 1,262 1-175 1-101 1,37 1,117 1-113 1,26 1-2 1-122 1,104 1-159 1,330 1-100 1-50 1-146 1,93 1-76 1,124 1-4 1,76 1,37 1-35 1-103 1,38 1,8 1-179 1,153 1-88 1,21 1,87 1,0 1-50 1-16 1,72 1-30 1-26 1,53 1-33 1-33 1,2 1-42 1,88 1-144 1,170 1-84 1-77 1,30 1,31 1,28 1,155 1-225 1,67 1,61 1-88 1,66 1-144 1,118 1-62 1-163 1,274 1-23 1-42 1,128 1-241 1,118 1,6 1-72 1,116 1,6 1-73 1,77 1,110 1-251 1,72 1-47 1,2 1-5 1,162 1-97 1-30 1,27 1-25 1,117 1-135 1,103 1-85 1-62 1,54 1-176 1,198 1,0 1,53 1-82 1-76 1,83 1-67 1,96 1,30 1,75 1-51 1,127 1-143 1-37 1-167 1,129 1,50 1,28 1-39 1,33 1,9 1,17 1,36"/>
<path transform="matrix(0.118420,0,0,0.1,72.40,0)" vector-effect="non-scaling-stroke" fill="none" stroke="#1a8c1a" stroke-width="1.70" stroke-linejoin="bevel" d="M0,3480l1-23 1,25 1-73 1,85 1-90 1,31 1,8 1,18 1,1 1-36 1,60 1-55 1-33 1,4 1,7 1,30 1-7 1-3 1-10 1,21 1,41 1-60 1,65 1-59 1-8 1,48 1-48 1-22 1,32 1-19 1,30 1-21 1,45 1-43 1,17 1-11 1-63 1,111 1-77 1,15 1,55 1-148 1,103 1-32 1,77 1-54 1-8 1,110 1-96 1-37 1,17 1,15 1,10 1,15 1-49 1-3 1-9 1,32 1,82 1-8 1-138 1,52 1-41 1-9 1,8 1,0 1,125 1-49 1-39 1,6 1-11 1-39 1,25 1-41 1,81 1-45 1-47 1,59 1,27 1,62 1-56 1-11 1-34 1,38 1-30 1,10 1,3 1,48 1-106 1,38 1,39 1-2 1-62 1,10 1,22 1-72 1,47 1-26 1-31 1,94 1-58 1,28 1-36 1,102 1-19 1-59 1,5 1-59 1,83 1,18 1-7 1,43 1-49 1-45 1,49 1-26 1-27 1-23 1,36 1,59 1,48 1-83 1-65 1,12 1,25 1,1 1,25 1,6 1-73 1,75 1,34 1-114 1-23 1,50 1-68 1,117 1-28 1,15 1-39 1-4 1-10 1,47 1-71 1,7 1,32 1,19 1-95 1,65 1,124 1-46 1-60 1,61 1-100 1,20 1-25 1,23 1,56 1-75 1-57 1,61 1-69 1,96 1-69 1,13 1,20 1,17 1-61 1,38 1-3 1-24 1,22 1-26 1,47 1-135 1,49 1,93 1-73 1,61 1-50 1-164 1,209 1-136 1,33 1,6 1-16 1-75 1,48 1,47 1-18 1-85 1,30 1-15 1,52 1-37 1,12 1,4 1,31 1-149 1,8 1,102 1-160 1,45 1-23 1,6 1-6 1-39 1,17 1,74 1-52 1,39 1,138 1-312 1,63 1-2 1-126 1,173 1,53 1-66 1-75 1,11 1-60 1-112 1,135 1,0 1-89 1,51 1-89 1,68 1,16 1,0 1-38 1,6 1,44 1,74 1-123 1,55 1,13 1,34 1-166 1,129 1-12 1-50 1,39 1,15 1,18 1-11 1-49 1-76 1,64 1,75 1-87 1-22 1-54 1,62 1,12 1-1 1,74 1-100 1,89 1-93 1,59 1-60 1,49 1-50 1,72 1-35 1-2 1-32 1,12 1-30 1,70 1-13 1,26 1-27 1,2 1-24 1-27 1,58 1-47 1,7 1,42 1-67 1,26 1,32 1,47 1,47 1,74 1-177 1-49 1,40 1-38 1,25 1,37 1-38 1-36 1,79 1-26 1,40 1-27 1-14 1-10 1,36 1,52 1-68 1-30 1,104 1-125 1,101 1-64 1,53 1-60 1,177 1-203 1,106 1-41 1-43 1,24 1-70 1,55 1-36 1,23 1-30 1,91 1-16 1,43 1-116 1,54 1-7 1-66 1,44 1-29 1,28 1-10 1,71 1-44 1,11 1,36 1-73 1,32 1-2 1,57 1-15 1-62 1,95 1,58 1-102 1,44 1-118 1,55 1-67 1,46 1-54 1,130 1-115 1,44 1-84 1,2 1,23 1-2 1,89 1-68 1,95 1,27 1-57 1,0 1-18 1,1 1-38 1,81 1-45 1,4 1-96 1,39 1-27 1,115 1-96 1,22 1,39 1-65 1-83 1,181 1-13 1-12 1,71 1,10 1-123 1,37 1,31 1,0 1,77 1-31 1,83 1-166 1,19 1-63 1,151 1-58 1-48 1,88 1-27 1-5 1,45 1-28 1-12 1-48 1,78 1,39 1-87 1,174 1-116 1,89 1-170 1,70 1,11 1,43 1,24 1-50 1-134 1,84 1,32 1,86 1-182 1,112 1,28 1,14 1-40 1-12 1-17 1-72 1,71 1,66 1,15 1-77 1,50 1-31 1-1 1,40 1-3 1-21 1-16 1-68 1,133 1,51 1-186 1,142 1-98 1,45 1,2 1-75 1-46 1,140 1,18 1,26 1,1 1,25 1,21 1-70 1-224 1,179 1-30 1-111 1,254 1-90 1,54 1-91 1,151 1-206 1,35 1,291 1-218 1,27 1-49 1,6 1,136 1-112 1-63 1,130 1,69 1-78 1-46 1,30 1-49 1,45 1,113 1-102 1,52 1-129 1,18 1-34 1,50 1,8 1,6 1-70 1-67 1,132 1,47 1-147 1,34 1,45 1,13 1-30 1-48 1-23 1,70 1-44 1,102 1-73 1-58 1,104 1,15 1-69 1,1 1,137 1,35 1,20 1-182 1,150 1-81 1-29 1,66 1-37 1,30 1-112 1,51 1,25 1-61 1-50 1-138 1,296 1-81 1-122 1,86 1,26 1,95 1-87 1-39 1,66 1-39 1,36 1-25 1,104 1-89 1-31 1,117 1-139 1,311 1-165 1-20 1,11 1-51 1-180 1,179 1-39 1-69 1,139 1-187 1,105 1-31 1-59 1-53 1-12 1,121 1,51 1-10 1-36 1,96 1-84 1-100 1,122 1,1 1,51 1-23 1,54 1-71 1-31 1,229 1-195 1-1 1-90 1,72 1-69 1,58 1-21 1,188 1-94 1,36 1-64 1-19 1-6 1-16 1,8 1,8 1-171 1,193 1-115 1,7 1,83 1-28 1,62 1-144 1,195 1-117 1-31 1-17 1,85 1,134 1-259 1,101 1-24 1-15 1,173 1,56 1-14 1-102 1-74 1-35 1,168 1-149 1,152 1-136 1,95 1-15 1-15 1-170 1,220 1-49 1-78 1,49 1-26 1-43 1,115 1,86 1-152 1,78 1-77 1-27 1,13 1,58 1-21 1,69 1-43 1,85 1-116 1,23 1-67 1-63 1,89 1,15 1,76 1-16 1-57 1,49 1,66 1-75 1-6 1-49 1,21 1-99 1,193 1-138 1,68 1-122 1,122 1-116 1,191 1,102 1-221 1,76 1-103 1,45 1,7 1-71 1,33 1,98 1-85 1,59 1-18 1,47 1-4 1-100 1,31 1,75 1,56 1-125 1,162 1-183 1,172 1-25 1-40 1-48 1,27 1,72 1,6 1-10 1,9 1,35 1-71 1-93 1,11 1,39 1-7 1,46 1-4 1-87 1-85 1,212 1-158 1,118 1-227 1,277 1-239 1,135 1-25 1-61 1,114 1,73 1-128 1,24 1-52 1-18 1,21 1,6 1-22 1-33 1,85 1-112 1,111 1-136 1,115 1-62 1,101 1-58 1,40 1,17 1-73 1-26 1-10 1,88 1-70 1,46 1-49 1,19 1-52 1,93 1-103 1,56 1-110 1,140 1-111 1,33 1,68 1-64 1-106 1,188 1,17 1,6 1-49 1,50 1-7 1,23 1-53 1-35 1-100 1,135 1-154 1,172 1,88 1-285 1,167 1-100 1,62 1,66 1-27 1,93 1-158 1,18 1,117 1-139 1,113 1-73 1,32 1-5 1,9 1,51 1,42 1-29 1-61 1,99 1-157 1,180 1-178 1,134 1-18 1-174 1,295 1-136 1-7 1,88 1-73 1,53 1,37 1-112 1,149 1-121 1,131 1-189 1,160 1-49 1-154 1,75 1,131 1-8 1-99 1,53 1-94 1,11 1,156 1-202 1,221 1-134 1-85 1-44 1,103 1,10 1,5 1-56 1-50 1,74 1,76 1,25 1,19 1-109 1,52 1-159 1,183 1-66 1,23 1,72 1-119 1-5 1-47 1,63 1-25 1,30 1-23 1,76 1-150 1,229 1-38 1,3 1-218 1-7 1,144 1,120 1-199 1,57 1,104 1,31 1-161 1,200 1-176 1,1 1,41 1,5 1-87 1,148 1-76 1,32 1-82 1-88 1,33 1-155 1,214 1-109 1,72 1,70 1-31 1,11 1-77 1,101 1-192 1,250 1-74 1-19 1-112 1,88 1,128 1-260 1-22 1,168 1,93 1-130 1,30 1,133 1-76 1-69 1-97 1,17 1,152 1-73 1,61 1,59 1-86 1,15 1-52 1-1 1-23 1-9 1,32 1,46 1-151 1,56 1-61 1,29 1,59 1,192 1-173 1-26 1-103 1,42 1,57 1,40 1-121 1,79 1,118 1-128 1,76 1,29 1-167 1,98 1,11 1,21 1-143 1,98 1,131 1-112 1-31 1,38 1,248 1-26 1-137 1-137 1-59 1,189 1-91 1,103 1-132 1-67 1,100 1-11 1,27 1,78 1,9 1-49 1-36 1,113 1-96 1-85 1,20 1-11 1,137 1-6 1-116 1,152 1-21 1-56 1,115 1-129 1,121 1-63 1-153 1,105 1,46 1-104 1-14 1-7 1,181 1-85 1-38 1-104 1,83 1-3 1,126 1-145 1,95 1-111 1,152 1,0 1-73 1-24 1-99 1,123 1,69 1-120 1,128 1,89 1-253 1,107 1-30 1,29 1,112 1-256 1,18 1-16 1,197 1-27 1-36 1-30 1-25 1-69 1-3 1,94 1-75 1,47 1-68 1,134 1-41 1-173 1,208 1-175 1,253 1-105 1-2 1-1 1-111 1,290 1,88 1-191 1,4 1-70 1,17 1,136 1-50 1-41 1,127 1-85 1-21 1-2 1,83 1-158 1,45 1-74 1,67 1-7 1,18 1,118 1-21 1-175 1-150 1,232 1,95 1,23 1-128 1,277 1-212 1-29 1,7 1-116 1,55 1,83 1,18 1-85 1,151 1,23 1-138 1-76 1-46 1,82 1,91 1-19 1,1 1-30 1-15 1,54 1-54 1,104 1-107 1,21 1-26 1,1 1-22 1,39 1-36 1,37 1,76 1-49 1-75 1,36 1-179 1,1 1,32 1,208 1-184 1,135 1-3 1,136 1-63 1-91 1,31 1,21 1,12 1-174 1,116 1,27 1,79 1-173 1,41 1,8 1-46 1,90 1-139 1,59 1-87 1,9 1,102 1,40 1-85 1,64 1-34 1-40 1,22 1-63 1-33 1,10 1,184 1-94 1,33 1,31 1-113 1,71 1,52 1-15 1-50 1,117 1-123 1-13 1,66 1,59 1-113 1,126 1,47 1-171 1-47 1,55 1,149 1-128 1,8 1-129 1,50 1-60 1-18 1,111 1,82 1-70 1,99 1-205 1,59 1,66 1,36 1-74 1-68 1-72 1,110 1,21 1-45 1,6 1-66 1,129 1,85 1-46 1-41 1-38 1,60 1,141 1-205 1-23 1,28 1-58 1,142 1-63 1-104 1,22 1,177 1-53 1,122 1-222 1,31 1,91 1,13 1-22 1-13 1-145 1,221 1-125 1,87 1-101 1,62 1-37 1-9 1,101 1-79 1-35 1-12 1-62 1,5 1,146 1-151 1,92 1-200 1,81 1,40 1-125 1,90 1-12 1-24 1,205 1-108 1,213 1-206 1-113 1,134 1,22 1-168 1,112 1,30 1-21 1,7 1-110 1,28 1,136 1,159 1-103 1-40 1-72 1,91 1-64 1,90 1,68 1,46 1-122 1-58 1,98 1-34 1-70 1,116 1-123 1-162 1,176 1-54 1,33 1,5 1,62 1-48 1,25 1,44 1-100 1,132 1-142 1,85 1,66 1-85 1-22 1,26 1,45 1-10 1,10 1-19 1-31 1-59 1,89 1-29 1,90 1-156 1,213 1-284 1,203 1-219 1,143 1-18 1,59 1-47 1,5 1-45 1,18 1-99 1,25 1,97 1,81 1-250 1,194 1-61 1-29 1,24 1-11 1,71 1-20 1,36 1,45 1,7 1-51 1-163 1,117 1,17 1,0 1,74 1-216 1,9 1,246 1-114 1,130 1-314 1,207 1-10 1,35 1-6 1-255 1,318 1-101 1,14 1-105 1,57 1,34 1-202 1,208 1-10 1-60 1-39 1,8 1,30 1-38 1-74 1,94 1-126 1,13 1,70 1,128 1-146 1-117 1,324 1-192 1-47 1,25 1,95 1-148 1,171 1,42 1-210 1,137 1,14 1,74 1,4 1-12 1-18 1-96 1,64 1-126 1,62 1,174 1-336 1,123 1,89 1,84 1-83 1-84 1,18 1,132 1,35 1-76 1-49 1,77 1-96 1-83 1,91 1,133 1-325 1,146 1,127 1,13 1-55 1-37 1,51 1-37 1,58 1,22 1-41 1-41 1,96 1-137 1,40 1,10 1-24 1,106 1-99 1,27 1-16 1-81 1-4 1,0 1,40 1,94 1-195 1,83 1-10 1,46 1,57 1-117 1,36 1,55 1-71 1,48 1-2 1-226 1,282 1-141 1,58 1,73 1-75 1,98 1-105 1,91 1-84 1,283 1-35 1-206 1-18 1-43 1,63 1-39 1-53 1,131 1,74 1-66 1-149 1,135 1-83 1,27 1,18 1,111 1-107 1,29 1-58 1,9 1-45 1-5 1,105 1-85 1-12 1,71 1-52 1-17 1,80 1-41 1-41 1,98 1,49 1-6 1-20 1-20 1,49 1-43 1,73 1-38 1-52 1,61 1-68 1,56 1-101 1,126 1-31 1,17 1-31 1,132 1-170 1,107 1-71 1,56 1-150 1,79 1-40 1-153 1,271 1,26 1-135 1,62 1-18 1,65 1-17 1,14 1,17 1-253 1,262 1-9 1-46 1-53 1-50 1,42 1,45 1-22 1-15 1,23 1-45 1,25 1-91 1-67 1,134 1-78 1-84 1,144 1,79 1-110 1,11 1,98 1-36 1,72 1-127 1-106 1-15 1,146 1-64 1,72 1,22 1-246 1,229 1-11 1-76 1,76 1,17 1-40 1,4 1-24 1,79 1-44 1-13 1-2 1-109 1,153 1-47 1,108 1-116 1,97 1-138 1,101 1-10 1-41 1,49 1-25 1-76 1,81 1,19 1-47 1,67 1-112 1,48 1,52 1-37 1,144 1-138 1-53 1-102 1,170 1,21 1,36 1-181 1,118 1,60 1-20 1-78 1,108 1-39 1,2 1-11 1-41 1,99 1-33 1,7 1-68 1,29 1,17 1,0 1,71 1,64 1-114 1,57 1-77 1,116 1-57 1-86 1-59 1,112 1,173 1-247 1,161 1-68 1-14 1-3 1-44 1,42 1-153 1,137 1-13 1-16 1-70 1,121 1-62 1,28 1,1 1-39 1-21 1-20 1-59 1,79 1-53 1-3 1,215 1-129 1,18 1-34 1-107 1-9 1,109 1-100 1,241 1-101 1-44 1,106 1-106 1,89 1-66 1,0 1-10 1,53 1-86 1,39 1,13 1-66 1-70 1,128 1,24 1-122 1-31 1,78 1-51 1,34 1-106 1,26 1,62 1-68 1,68 1-96 1,103 1-10 1,62 1,79 1-52 1,7 1-33 1-40 1,155 1-151 1,20 1-195 1,214 1-132 1-48 1,78 1-86 1-18 1,189 1-90 1,49 1-9 1-56 1,95 1-135 1,11 1,9 1,6 1-67 1,69 1-47 1-38 1,129 1,91 1-39 1-13 1-91 1-96 1,94 1,43 1-202 1,153 1,13 1,38 1,29 1-55 1-25 1,165 1-196 1-55 1,109 1-2 1-141 1,214 1-131 1-9 1,24 1,6 1-57 1-57 1,84 1-81 1,12 1,90 1-99 1,14 1-13 1-51 1,38 1,42 1-74 1,14 1,32 1-48 1,145 1-87 1-218 1,385 1-75 1-46 1-31 1,90 1-71 1-57 1-59 1,167 1,3 1-17 1-144 1,89 1,25 1-136 1,245 1-43 1-33 1,105 1-337 1,220 1,48 1-18 1,57 1-178 1,134 1-49 1,60 1-70 1,23 1-87 1,39 1,20 1,55 1-27 1-103 1-13 1,101 1-4 1,4 1-10 1-132 1,195 1-114 1-103 1,59 1,298 1-217 1-34 1,7 1-34 1,73 1,21 1-51 1,47 1-245 1,178 1-83 1,35 1,64 1,57 1-44 1-44 1-26 1,18 1,64 1-39 1-104 1-110 1,143 1,34 1,33 1-1 1,65 1-92 1-30 1,17 1-70 1,221 1-169 1,44 1-98 1-30 1-524 1,635 1-59 1-46 1,41 1-50 1,54 1,15 1,18 1,37 1-14 1,119 1-149 1,37 1,3 1-1 1,55 1-105 1,14 1,154 1-171 1,88 1-50 1,10 1,126 1-18 1-83 1-152 1,149 1,34 1-166 1,15 1,87 1,60 1-52 1-111 1,100 1,4 1-8 1,6 1,64 1-28 1,8 1-17 1,88 1-65 1,29 1,37 1-40 1-69 1,125 1-82 1,31 1-69 1,25 1-147 1,139 1,51 1-97 1-59 1,155 1-41 1,68 1-51 1-16 1-102 1,0 1,22 1-25 1,27 1-28 1,107 1-29 1,10 1-77 1-17 1,93 1,2 1-36 1,33 1-97 1-14 1,139 1-116 1,42 1-6 1,57 1-16 1,153 1-147 1-51 1,131 1-46 1-103 1,27 1,53 1-41 1,133 1-13 1-101 1-188 1,261 1,5 1-5 1,63 1-45 1-100 1,49 1-49 1,138 1-49 1-226 1,100 1-78 1,34 1,44 1,77 1-73 1-65 1-29 1,59 1-21 1,39 1,56 1-62 1,59 1-19 1-37 1,25 1,11 1,214 1-260 1,179 1,115 1-247 1,101 1-9 1,64 1-120 1,46 1,18 1-115 1,184 1-90 1-79 1,36 1-29 1,20 1,31 1-19 1,56 1-162 1,202 1-68 1,64 1-140 1,45 1-12 1,27 1-35 1,41 1,10 1,3 1-97 1,94 1-59 1-17 1,96 1-79 1-57 1,46 1-8 1,82 1-74 1-83 1,44 1-120 1,212 1,2 1-26 1-118 1,74 1-44 1,128 1-30 1-107 1-9 1,78 1-55 1,67 1-145 1,148 1-125 1,81 1,49 1,56 1-150 1,233 1-12 1-210 1,19 1,1 1,61 1-87 1,1 1,137 1-113 1,70 1,74 1-95 1-132 1,122 1,200 1-141 1,42 1-68 1,90 1,16 1-119 1-17 1,37 1,35 1-83 1,27 1,127 1-152 1,104 1-31 1,105 1-18 1-59 1,107 1-77 1-100 1,115 1,1 1-129 1,152 1-67 1-44 1,90 1-33 1-49 1,0 1,5 1,144 1-27 1-12 1-94 1,0 1,116 1-82 1-63 1-151 1,142 1,26 1-47 1-16 1,21 1,71 1-27 1,42 1-57 1,47 1,110 1-229 1,150 1-143 1-58 1-2 1,73 1-55 1,96 1-53 1,60 1,75 1-68 1,173 1-156 1-120 1,145 1,30 1-55 1,42 1-32 1,98 1-104 1-41 1-38 1,14 1,85 1-46 1-86 1,7 1,29 1,68 1-83 1-46 1,180 1-132 1-120 1,96 1-19 1,30 1,131 1-68 1,97 1-56 1,25 1,35 1-102 1,16 1-26 1,24 1-229 1,131 1,40 1,123 1,52 1-169 1,24 1,14 1,18 1-8 1,35 1-120 1,146 1-267 1,139 1-123 1,101 1,96 1-91 1,1 1,255 1-118 1,67 1-162 1,77 1-24 1-188 1,184 1-159 1,172 1,35 1-2 1-45 1-123 1,5 1-7 1,41 1,71 1-55 1,200 1-136 1,15 1,134 1-240 1,74 1-15 1-166 1,188 1,79 1-5 1,85 1-216 1,300 1-128 1-215 1,14 1,76 1,123 1-2 1-21 1-8 1-120 1,62 1,29 1-33 1-29 1-88 1,62 1-182 1,186 1,9 1-78 1,107 1-71 1,33 1,17 1-45 1-47 1,170 1-50 1-148 1,184 1-1 1-72 1,117 1-92 1-11 1,89 1-130 1,82 1,118 1-270 1,111 1,43 1-65 1,27 1-59 1,42 1,33 1,79 1-136 1,95 1-32 1-241 1,198 1,32 1-8 1-82 1,53 1-24 1,13 1-94 1,107 1,117 1,14 1-40 1-54 1,36 1-79 1,17 1,48 1-55 1-41 1,66 1,35 1,3 1-72 1-112 1-38 1,250 1-237 1,214 1,99 1,40 1-119 1-31 1,137 1-18 1-72 1-40 1,15 1-47 1-74 1,148 1-127 1,106 1-79 1,107 1-62 1-167 1,64 1-15 1-16 1,55 1-62 1,74 1-54 1,63 1,26 1-70 1,0 1,7 1,28 1,66 1-134 1-151 1,202 1,111 1,124 1-179 1-91 1,135 1-141 1,120 1-101 1,92 1-44 1-48 1,83 1-171 1,230 1-34 1-27 1-101 1,96 1-53 1,0 1-93 1,83 1,28 1,5 1-10 1-18 1,144 1-113 1,8 1-85 1-29 1,148 1-49 1,12 1,96 1-17 1,17 1-109 1-11 1,121 1-54 1,84 1-97 1,65 1,16 1,35 1-37 1-130 1,88 1,1 1,71 1-76 1,10 1,30 1,72 1-97 1-17 1,27 1-103 1,160 1-98 1,41 1-4 1-37 1-42 1,149 1,8 1-195 1,13 1,230 1-69 1-30 1-32 1,252 1-311 1,46 1,30 1,60 1-117 1-50 1,42 1-90 1-22 1,123 1-87 1,216 1-127 1-59 1-102 1,87 1,117 1,9 1,41 1-67 1,119 1-70 1-29 1-22 1-103 1,79 1,19 1,58 1-154 1,200 1-152 1,75 1-20 1,19 1,33 1,32 1-51 1-172 1,133 1-123 1,26 1-73 1,45 1,41 1-123 1,69 1,42 1-82 1,126 1-43 1,84 1,41 1-45 1-163 1,100 1,2 1-81 1,71 1,90 1-54 1,31 1,111 1-151 1-20 1-5 1,91 1-33 1-36 1-77 1,96 1,19 1-116 1,96 1-48 1,120 1-234 1,111 1-117 1,36 1-145 1,385 1-171 1,95 1-117 1,58 1,46 1,109 1-110 1-212 1,253 1,8 1-91 1-83 1,154 1-121 1,35 1-27 1-49 1,7 1-157 1,240 1,34 1-70 1-1 1,216 1-25 1-112 1,5 1,40 1,132 1-140 1-190 1,340 1-174 1,66 1,13 1,20 1-112 1-39 1-91 1-56 1-12 1,308 1-151 1,150 1-132 1,104 1-198 1,79 1-75 1,19 1,11 1-5 1,103 1-79 1-4 1,23 1-13 1-138 1,69 1,141 1-162 1-16 1,141 1,64 1-80 1-9 1-16 1,79 1,108 1-54 1-61 1,103 1-91 1,28 1-123 1,54 1-52 1-42 1,230 1-31 1-86 1-55 1,75 1-15 1-124 1,170 1-210 1,172 1-129 1-12 1,126 1-97 1,135 1-72 1,18 1,45 1-190 1,153 1-2 1-46 1,0 1,27 1-30 1,104 1-35 1,8 1-25 1,9 1-101 1,45 1,228 1-259 1,73 1-82 1,48 1,58 1-227 1,72 1,11 1,36 1,64 1,123 1-210 1,138 1-49 1,95 1,80 1-151 1-142 1,110 1-27 1-1 1-26 1-46 1,77 1,18 1-139 1,17 1,57 1,112 1-77 1-20 1-95 1,42 1,29 1,56 1-58 1,40 1-42 1-28 1-4 1-137 1,104 1-43 1,145 1,59 1-165 1,77 1-28 1,12 1-1 1-41 1,3 1,53 1-37 1,23 1,24 1-40 1,51 1,68 1-149 1-109 1,309 1-40 1-40 1,59 1-56 1-35 1,119 1-115 1,47 1-62 1,5 1,182 1-144 1,87 1-89 1-13 1-48 1,194 1-57 1-166 1,45 1,134 1-130 1,25 1-7 1,83 1-60 1,7 1-105 1,145 1-10 1-35 1-26 1-99 1,184 1-111 1-4 1-63 1-1 1,114 1-33 1-34 1,150 1-78 1,43 1-62 1,5 1-138 1,152 1-107 1,110 1-128 1,137 1,128 1-147 1-75 1,140 1-297 1,130 1-18 1,94 1-144 1,110 1-2 1-87 1,184 1,11 1-88 1-73 1-48 1,15 1,60 1-1 1-12 1,54 1-30 1-94 1,63 1,52 1,118 1-250 1,7 1,128 1,130 1-117 1-61 1-73 1,16 1,115 1-98 1,54 1,33 1-114 1,67 1,5 1-82 1,174 1-126 1-1 1,42 1,0 1,11 1-77 1,11 1-70 1,33 1-6 1,0 1,191 1-64 1-31 1-22 1,151 1-103 1-40 1-28 1,157 1-27 1-94 1,148 1-125 1-20 1-57 1,58 1-29 1,147 1-118 1,50 1-203 1,175 1-21 1,34 1-163 1,152 1,21 1,11 1-100 1,132 1-93 1,81 1,116 1-93 1-45 1,48 1-125 1-13 1,53 1-120 1,125 1,81 1-202 1,137 1,84 1-78 1,14 1-43 1-21 1,17 1,25 1,111 1-16 1-125 1-8 1-140 1,283 1-127 1,34 1,60 1-83 1,56 1-37 1-53 1-49 1-115 1,232 1-26 1,65 1,4 1-83 1,137 1-144 1-2 1,87 1-38 1-31 1-15 1,1 1,12 1-115 1,23 1,26 1,75 1-83 1-59 1,248 1-160 1,6 1,168 1-239 1,84 1,55 1-9 1-60 1,105 1-82 1,15 1,49 1-92 1-61 1,48 1-215 1,240 1,12 1-39 1,33 1-154 1,78 1,72 1-67 1,51 1,85 1,32 1-9 1-38 1-26 1,60 1-104 1-65 1,103 1-61 1,134 1-102 1,10 1,23 1-51 1,85 1-48 1,131 1,66 1-137 1-24 1-37 1,66 1,128 1-253 1,95 1-31 1,43 1,31 1,32 1,104 1-156 1,1 1-31 1-20 1-6 1,23 1-5 1-6 1-107 1,5 1,109 1-47 1,0 1-134 1,189 1-91 1-13 1-36 1,63 1-36 1-122 1,106 1,103 1,9 1-37 1,26 1,6 1-45 1,149 1-130 1-40 1-69 1-13 1,143 1,11 1-10 1,12 1-81 1,60 1-6 1-77 1-87 1,222 1-85 1-9 1-20 1-55 1,69 1-33 1-38 1,198 1-214 1,113 1-72 1,28 1,39 1,3 1-58 1,96 1,17 1-8 1,73 1-132 1-62 1-23 1,55 1,93 1-66 1-58 1-61 1,118 1,3 1-47 1,20 1,57 1,46 1-35 1-29 1,59 1-104 1,137 1-96 1-176 1,159 1,41 1,15 1,5 1-61 1,12 1,12 1,35 1,112 1-190 1,61 1,34 1-13 1,11 1-117 1,78 1-105 1,65 1-42 1,13 1,21 1-17 1-38 1,64 1,47 1-173 1,165 1-42 1-75 1,171 1-187 1,73 1,97 1-41 1-12 1,19 1-12 1-44 1,123 1-91 1-88 1,97 1-13 1-13 1-47 1,6 1,6 1,57 1-75 1-72 1,19 1,48 1,141 1,39 1-155 1-26 1-1 1,92 1-70 1,70 1,15 1-105 1,213 1-5 1-85 1-67 1,80 1,105 1-101 1-139 1,78 1-37 1,22 1-33 1,4 1,50 1,180 1-188 1,11 1,5 1-59 1,14 1,68 1,20 1-79 1,2 1-50 1,31 1,64 1,85 1-119 1,73 1,3 1-37 1-8 1,50 1-18 1,56 1-86 1,76 1-73 1,35 1-13 1,51 1-54 1,133 1-206 1,159 1-91 1,43 1-24 1-42 1,41 1-52 1,90 1-144 1,78 1,82 1-25 1,12 1,1 1-144 1,51 1,80 1-99 1-68 1,300 1-188 1,64 1-5 1-60 1,30 1-42 1,27 1-6 1,18 1-26 1,82 1-56 1-224 1,193 1-8 1,30 1-10 1-35 1-87 1,86 1,18 1-43 1,109 1-89 1,28 1-34 1-14 1-37 1,39 1-8 1,73 1,2 1-69 1,31 1,7 1-17 1-9 1,5 1,5 1,28 1-51 1,8 1,39 1-103 1,137 1-96 1,5 1,96 1,26 1,33 1-59 1,71 1-45 1-45 1-68 1,82 1,34 1-68 1-20 1,76 1-93 1,146 1-115 1,42 1-70 1-2 1,29 1-58 1,28 1,10 1-22 1,66 1,114 1-82 1-12 1-5 1-48 1,43 1-23 1,40 1,32 1-82 1-31 1,80 1,95 1-82 1-39 1,33 1,19 1,44 1-103 1,55 1,126 1-140 1-72 1,119 1-36 1-57 1,122 1-90 1-104 1,58 1-19 1,71 1-13 1-3 1-50 1,105 1-32 1-48 1-6 1-4 1-72 1-44 1,157 1-66 1-56 1,123 1-83 1,73 1,44 1-100 1,157 1-133 1,115 1-142 1,38 1,83 1-23 1-26 1,89 1-168 1,154 1-56 1-2 1-22 1-3 1-8 1-15 1-10 1,53 1-7 1,83 1-125 1-21 1,37 1-79 1,4 1-9 1-42 1,65 1,35 1,22 1-63 1-10 1,109 1-75 1-42 1,102 1-45 1-39 1,38 1-7 1,33 1-6 1,56 1-66 1,52 1-18 1-34 1,28 1,20 1-17 1-153 1,204 1-43 1-175 1,159 1-82 1,87 1-16 1-59 1-101 1,121 1-13 1,17 1,73 1-117 1,61 1-44 1,101 1,61 1-69 1-57 1-32 1,36 1,22 1,128 1-113 1-37 1,5 1,151 1-102 1,15 1-5 1-112 1,141 1-60 1-36 1-32 1,92 1-109 1,122 1-45 1,57 1-110 1,125 1-132 1,111 1-40 1,15 1,6 1,64 1-120 1,31 1,34 1-8 1-68 1,11 1,0 1,92 1-69 1,201 1-249 1,122 1-57 1-37 1-17 1,49 1,11 1-18 1,45 1,55 1-51 1,41 1-120 1,39 1,54 1,27 1-103 1,34 1-43 1,71 1-38 1-43 1,55 1-128 1,120 1,1 1,46 1-37 1,142 1-275 1,148 1,39 1-43 1-65 1,81 1,79 1-127 1,141 1-53 1-67 1,121 1-100 1-59 1-125 1,195 1,20 1,53 1-89 1,11 1,16 1-24 1,44 1,65 1,2 1-61 1-10 1-51 1,70 1,21 1-16 1-24 1-130 1,91 1-6 1-3 1-105 1,22 1,84 1,0 1-113 1,27 1,54 1,222 1-87 1-86 1-20 1-4 1-40 1,21 1-13 1-128 1,136 1-16 1,22 1,45 1-82 1,28 1,17 1,10 1-41 1,42 1-49 1-6 1,10 1,40 1,34 1-55 1-31 1,78 1-59 1,4 1,5 1,26 1-84 1,116 1-78 1,60 1,9 1-50 1-15 1,55 1,10 1,65 1-72 1,36 1,46 1-116 1,38 1,59 1-107 1-60 1,29 1,26 1-22 1,68 1-66 1-9 1-34 1,91 1-82 1,71 1-36 1,38 1,4 1,25 1-23 1-28 1,136 1-146 1-22 1-28 1,28 1,12 1-47 1,24 1-10 1,3 1-3 1-56 1,61 1,66 1-4 1-66 1,7 1,4 1-40 1,41 1-21 1,28 1,5 1,9 1,66 1,119 1-101 1-72 1,100 1-109 1,37 1-44 1,44 1,21 1,5 1,6 1-22 1-38 1-28 1,67 1-29 1-32 1,5 1-74 1,89 1,86 1-34 1,49 1-67 1-140 1,53 1,119 1,32 1-124 1,39 1,86 1,87 1-139 1,1 1-21 1,40 1-196 1,113 1,52 1-8 1,68 1-84 1-20 1,108 1-96 1,73 1-73 1,134 1,26 1-79 1,70 1-48 1,46 1-30 1,15 1-225 1,173 1-125 1,102 1-17 1,25 1,41 1-134 1,80 1-51 1,102 1-94 1,56 1,27 1-68 1,79 1,107 1-269 1,85 1,35 1-74 1,96 1-56 1-50 1-61 1,62 1,152 1-110 1,63 1,15 1-174 1,140 1-90 1-52 1,54 1,119 1-147 1,13 1,3 1,2 1,28 1-99 1,55 1,16 1,78 1,11 1-72 1,103 1-1 1-118 1-35 1,93 1-74 1,25 1-2 1,33 1,59 1-36 1,10 1-78 1,64 1,26 1-170 1,167 1-31 1,7 1-38 1-46 1-148 1,125 1,74 1-87 1,262 1-119 1-88 1,3 1,89 1,17 1-45 1-15 1,52 1-64 1,44 1-13 1-13 1-67 1,138 1-74 1,31 1,47 1-135 1-156 1,233 1-49 1-59 1-46 1,44 1,10 1,204 1-187 1,36 1,12 1-60 1,34 1,46 1-25 1-22 1-131 1,71 1,19 1,73 1-44 1,70 1-73 1,42 1-27 1,17 1,7 1,21 1-67 1,32 1-20 1,9 1-124 1,93 1-50 1,89 1-50 1-6 1-44 1,23 1,13 1-91 1,123 1,34 1,47 1-45 1-24 1-19 1,116 1-12 1-122 1,166 1-197 1,27 1-14 1,109 1-133 1,11 1-8 1,99 1-124 1,77 1-43 1-15 1,20 1-161 1,283 1-92 1,67 1,12 1-61 1-32 1,72 1-73 1,83 1-55 1-4 1,15 1,28 1,47 1-115 1,55 1-45 1,24 1,85 1-137 1-19 1,35 1,16 1,15 1,52 1-46 1,35 1-86 1,37 1,16 1-35 1-66 1,92 1-115 1,87 1,22 1-43 1-15 1,84 1-45 1,24 1,76 1-106 1-59 1-133 1,131 1-16 1,94 1-34 1,62 1-3 1-10 1,141 1-81 1-27 1-105 1,27 1,0 1-33 1,76 1-44 1-115 1,118 1-55 1,51 1-40 1,45 1-132 1,121 1,11 1-106 1,75 1,32 1,45 1,43 1-47 1-4 1-12 1-57 1,59 1,92 1-20 1,26 1,135 1-138 1,3 1-88 1,22 1,49 1-90 1,4 1,61 1-53 1,18 1-19 1,35 1-55 1,47 1-163 1,201 1-34 1,37 1-26 1,4 1,18 1-72 1,70 1,116 1-135 1,73 1-120 1,98 1-63 1-16 1,32 1-8 1,29 1-71 1,100 1-63 1,7 1,30 1-40 1,4 1,71 1-79 1,10 1,3 1-103 1,22 1,5 1-61 1,68 1,14 1,130 1-5 1-126 1,14 1,44 1,57 1-94 1,30 1,23 1,4 1,10 1-4 1,32 1,41 1-10 1-118 1,69 1,44 1-42 1-88 1,67 1-43 1,103 1-68 1-76 1,122 1-92 1-121 1,129 1-78 1,70 1-45 1-65 1,125 1-33 1-22 1-176 1,163 1-32 1,42 1,59 1-40 1,30 1-99 1-57 1,158 1-29 1,198 1-301 1,145 1-3 1-35 1-37 1-50 1-12 1,13 1,118 1-8 1-20 1-47 1,22 1-34 1,56 1-42 1-8 1-19 1-8 1,139 1-5 1-195 1,78 1-11 1-14 1-11 1,76 1,80 1-99 1,93 1-93 1-78 1,149 1-124 1,7 1,94 1-73 1-7 1-33 1,3 1,18 1,59 1,108 1-32 1-191 1,34 1,117 1-106 1,59 1,5 1,98 1-93 1,52 1-4 1-36 1-135 1,70 1,51 1-189 1,198 1-52 1,129 1-108 1,138 1-106 1,25 1-15 1-45 1-8 1,68 1-1 1-65 1-129 1,101 1-105 1,158 1,84 1-8 1-57 1-2 1,126 1-152 1,7 1-35 1,14 1-48 1,128 1-32 1,28 1,42 1-63 1,137 1-32 1-84 1,89 1-37 1,1 1,36 1-9 1-25 1-39 1,56 1-51 1-125 1,73 1,35 1,96 1-61 1-161 1,142 1-75 1,32 1,19 1,101 1-145 1,133 1-263 1,240 1-80 1,12 1-121 1,108 1-64 1-5 1,112 1-54 1-23 1,53 1-11 1,51 1-74 1,84 1-3 1-25 1,140 1-118 1-39 1,37 1-17 1-3 1-141 1,67 1-32 1,81 1-13 1-73 1-19 1,65 1-19 1,30 1-24 1-25 1,75 1-32 1-44 1,60 1-125 1,18 1,93 1-48 1,41 1,82 1-98 1,58 1-47 1-4 1-9 1,82 1,27 1,13 1-73 1-39 1-5 1,47 1-53 1,78 1-33 1-69 1,134 1-284 1,233 1-7 1,35 1,32 1-6 1-95 1,15 1-16 1,109 1,1 1-17 1-57 1,6 1-71 1,129 1-123 1,47 1,52 1,25 1-72 1,187 1-223 1,15 1,48 1-107 1,2 1,29 1,41 1,21 1,143 1-253 1,40 1,140 1,2 1-184 1,183 1-108 1,75 1,38 1-118 1,37 1-62 1,83 1,61 1-31 1,12 1,17 1-26 1-3 1-25 1-3 1-23 1,92 1-109 1,14 1,153 1-247 1,149 1-54 1,51 1-60 1,40 1-5 1-96 1,55 1,21 1,9 1-17 1,54 1-56 1,26 1,60 1-86 1-60 1,2 1-24 1-12 1,137 1-108 1,30 1,68 1-110 1-26 1,98 1-30 1-29 1,92 1-98 1,37 1,2 1,13 1,61 1,47 1-19 1-130 1-10 1,146 1-47 1-39 1,68 1,17 1,5 1-216 1,87 1,28 1,125 1-249 1,50 1,66 1-44 1,54 1,65 1-46 1,66 1,20 1-144 1,103 1,13 1,29 1-98 1,9 1,43 1-146 1,98 1,61 1-30 1,46 1-48 1-45 1-38 1-80 1,161 1-119 1,33 1-53 1,78 1,22 1,32 1,4 1,60 1-12 1,112 1-94 1,121 1-99 1,55 1-54 1-43 1-34 1,4 1,92 1-97 1,84 1-81 1,131 1-108 1,53 1,24 1-56 1-126 1,192 1-93 1,143 1-151 1,24 1,15 1-23 1,23 1,104 1-87 1-45 1-7 1,98 1,17 1-53 1-185 1,72 1-81 1,50 1,129 1-119 1,49 1-79 1,75 1-57 1,2 1-67 1,109 1,5 1-115 1,88 1-104 1,46 1,11 1-46 1,25 1-37 1,35 1,2 1,31 1-125 1,78 1,3 1,44 1,159 1-90 1-77 1-45 1,25 1,24 1,17 1-47 1,93 1-29 1-43 1,44 1,44 1-165 1,119 1-75 1-131 1,219 1,17 1-19 1,36 1-47 1-2 1,52 1-60 1-189 1,320 1-226 1,14 1-85 1,189 1-75 1,65 1-68 1,118 1-116 1-52 1,68 1-24 1,49 1-65 1-8 1,36 1,96 1,41 1-166 1,12 1-49 1,81 1-114 1,92 1,100 1,38 1-112 1-45 1-67 1,258 1-99 1,4 1,75 1-90 1-50 1,35 1-92 1,189 1-84 1,6 1-129 1,165 1-70 1-68 1,45 1,11 1,17 1-56 1,104 1,2 1-59 1,16 1-13 1-63 1,46 1-9 1-21 1,126 1-66 1,17 1,120 1-84 1-1 1,69 1-126 1,145 1,74 1-123 1-76 1,38 1-32 1,33 1,47 1-103 1,75 1-19 1-47 1,57 1-115 1,146 1-48 1-14 1-86 1,62 1-2 1,109 1-83 1,77 1-22 1,11 1,31 1-43 1-117 1,89 1-29 1-17 1,36 1,0 1,9 1-204 1,118 1-17 1,42 1-93 1,96 1-93 1,37 1,41 1,108 1-94 1,104 1-67 1-17 1-34 1,100 1-128 1,2 1,10 1,44 1-13 1-77 1,67 1,75 1-54 1-8 1,97 1,11 1,34 1-74 1,73 1-61 1,100 1-152 1,140 1-149 1,29 1,43 1-71 1,86 1-46 1-94 1-79 1,121 1-55 1-54 1,156 1-58 1,33 1-106 1,88 1,100 1-143 1,57 1,67 1-108 1,35 1-110 1,63 1-68 1,24 1-64 1,138 1-77 1-4 1-146 1,227 1-81 1,13 1,48 1,50 1,47 1-58 1,30 1-33 1-24 1,54 1-145 1,91 1,10 1-127 1,57 1,74 1-21 1-7 1,76 1-72 1-109 1,23 1-25 1,4 1-19 1,40 1,237 1-52 1-152 1-10 1-26 1,48 1-5 1-202 1,129 1-14 1,136 1-39 1,19 1-25 1-60 1,12 1-55 1-8 1,153 1,53 1-89 1-38 1,87 1-25 1-29 1,120 1,24 1-58 1-98 1-147 1,327 1-54 1-55 1-75 1,46 1-60 1,44 1-20 1-35 1,93 1,23 1-9 1,85 1-57 1-80 1,18 1-33 1,71 1-21 1-8 1-16 1,161 1-24 1-142 1,89 1-81 1,74 1,35 1-127 1,72 1-68 1,18 1,133 1-91 1-27 1-29 1,80 1,166 1-233 1,84 1-98 1,128 1-179 1,31 1,70 1-51 1,128 1-137 1,38 1-45 1,44 1,72 1-32 1-66 1,59 1,9 1-106 1,124 1-91 1,59 1-19 1,29 1-61 1,82 1-1 1-16 1-36 1-30 1-5 1,60 1-68 1,69 1-57 1,64 1-56 1-108 1,70 1,104 1-125 1,21 1,97 1-25 1,70 1-18 1-55 1,51 1-54 1-6 1-190 1,103 1-162 1,267 1-37 1-127 1,45 1,34 1-85 1,51 1,32 1-55 1,24 1-25 1,72 1-74 1,96 1,14 1-53 1,123 1-50 1,117 1,40 1-68 1-8 1-19 1-51 1,108 1-119 1-8 1-41 1,99 1-56 1,32 1-63 1,60 1,23 1,12 1-81 1-63 1,205 1-107 1-82 1,116 1-106 1,170 1,48 1-125 1,80 1-97 1,46 1-8 1-41 1,39 1,11 1-115 1,123 1,84 1-18 1-63 1-51 1,120 1-243 1,135 1,135 1-126 1-62 1-22 1,93 1-86 1,180 1-130 1,2 1,91 1-226 1,152 1,44 1-148 1,98 1-78 1,66 1-61 1,25 1,69 1-163 1,184 1-74 1,12 1,34 1,21 1-89 1,41 1-59 1-96 1,46 1,19 1-75 1,113 1-53 1,21 1,34 1-19 1,73 1,10 1,44 1-70 1,32 1,136 1-151 1,64 1-10 1-84 1,67 1-19 1-139 1,184 1-75 1-19 1,22 1-4 1,54 1-54 1-158 1,193 1-13 1-52 1,62 1-90 1,51 1-55 1,5 1,38 1,5 1,62 1,6 1-37 1,42 1,26 1-68 1,34 1,8 1,14 1-34 1-90 1,206 1-242 1,160 1,86 1-68 1-45 1,75 1-135 1,32 1-113 1,73 1-48 1-168 1,161 1,124 1-19 1-25 1-23 1-57 1,0 1,236 1-101 1-88 1-28 1,103 1-131 1,145 1-204 1,61 1-9 1,31 1,109 1-194 1,108 1-99 1,23 1-8 1,32 1,37 1,22 1,17 1,7 1-113 1,75 1,13 1-103 1,243 1-205 1,50 1,1 1,83 1-127 1,130 1-118 1,42 1-5 1,121 1-113 1-3 1,73 1,25 1-60 1,9 1-143 1,75 1,73 1-38 1,32 1-71 1,139 1,27 1-30 1,3 1-132 1,39 1,107 1-97 1,41 1-2 1-29 1-74 1,26 1,23 1,20 1,38 1,40 1-55 1-91 1,111 1,18 1-11 1-34 1-82 1,86 1-88 1,145 1-65 1-65 1,74 1,15 1-100 1,4 1,96 1,60 1-167 1,106 1,31 1-22 1,17 1-49 1-82 1,148 1-26 1,89 1-102 1-51 1,146 1-136 1,93 1-83 1,20 1,45 1-1 1-215 1,279 1-105 1-104 1,23 1-38 1,124 1,24 1-20 1,33 1-88 1,161 1-221 1,33 1,201 1-160 1,57 1-113 1,38 1-57 1,116 1-51 1,54 1,1 1,57 1-37 1-33 1,26 1,21 1-71 1-22 1,29 1-80 1,29 1,82 1-88 1,196 1-136 1,23 1,253 1-250 1-51 1,42 1-95 1,45 1,44 1,120 1,12 1-28 1,6 1-162 1,117 1-31 1-129 1-138 1,145 1,2 1,80 1-57 1-54 1,20 1-74 1,101 1-45 1-11 1,209 1-78 1-86 1,75 1-119 1,126 1-55 1-42 1,43 1,61 1-61 1,70 1-98 1,96 1-42 1,16 1-22 1,86 1-133 1,7 1,52 1,56 1-113 1,51 1-25 1-5 1-19 1,80 1,22 1-109 1,73 1-24 1,6 1-58 1,5 1,24 1,1 1-28 1-155 1,180 1,84 1-82 1,38 1,35 1-114 1,180 1-140 1,79 1-124 1,83 1-22 1-58 1,90 1-17 1,106 1-62 1-44 1,48 1-69 1-19 1,116 1-39 1-30 1,62 1-69 1,74 1,23 1-112 1-13 1-89 1,35 1,25 1,229 1-93 1-77 1-21 1,28 1-7 1-101 1,125"/>
<path transform="matrix(0.118420,0,0,0.1,72.40,0)" vector-effect="non-scaling-stroke" fill="none" stroke="#00ffff" stroke-width="1.70" stroke-linejoin="bevel" d="M0,3173l1,64 1,26 1-28 1-40 1,123 1-86 1-14 1,95 1-87 1,37 1-48 1,63 1,77 1-104 1-27 1-36 1,49 1,9 1,36 1-75 1-6 1,139 1-110 1,0 1-23 1-12 1,83 1,13 1,13 1-80 1-13 1,36 1-94 1,74 1-111 1,136 1-23 1,69 1-109 1,63 1-56 1,44 1,10 1-68 1-21 1,108 1-29 1-26 1,35 1,29 1,7 1-64 1,52 1,0 1-15 1-78 1-6 1-42 1-28 1-1 1,123 1-101 1-35 1,82 1,117 1-151 1,106 1-44 1-179 1,133 1-42 1-32 1,35 1-19 1,19 1-30 1,8 1-42 1,70 1-67 1-26 1,6 1,48 1,107 1-85 1,23 1,81 1-149 1-70 1,102 1,14 1,33 1-33 1,3 1,7 1,45 1-62 1-13 1,40 1-4 1-2 1,46 1-16 1-57 1,94 1-7 1-151 1,26 1-4 1-8 1,53 1-29 1-1 1,19 1,14 1-59 1,57 1-39 1,17 1-3 1,31 1-51 1,71 1-142 1,164 1-87 1,81 1,20 1-93 1,51 1,13 1-98 1,77 1-25 1-36 1,96 1-67 1-83 1,110 1,53 1-80 1-6 1-6 1-18 1,2 1-59 1-44 1,9 1,32 1,45 1-36 1,46 1-5 1,17 1-2 1-26 1-69 1-1 1,16 1,153 1-61 1-19 1-16 1-5 1,6 1-18 1-54 1,41 1-9 1-152 1,128 1,73 1-154 1,103 1-14 1,26 1-31 1,32 1,42 1,30 1-84 1,2 1,82 1,53 1-96 1-25 1,30 1,11 1-40 1-30 1,33 1,19 1-5 1-8 1-29 1,83 1-55 1,6 1,13 1,1 1,10 1-8 1-12 1,78 1-81 1-67 1,73 1-43 1-72 1,50 1,33 1-39 1,52 1-102 1,19 1,9 1,50 1-73 1,28 1,4 1-124 1,145 1-57 1-24 1,83 1-2 1-24 1,8 1,12 1-5 1-48 1,33 1-75 1,20 1,67 1-44 1,5 1-16 1,4 1-70 1,63 1,1 1-44 1,25 1,33 1,8 1-18 1-15 1-9 1,69 1,1 1-71 1,84 1-45 1-70 1-13 1,33 1,58 1,27 1-84 1-19 1-8 1,27 1-66 1,65 1-13 1-3 1-13 1-69 1,123 1-122 1,118 1-47 1-77 1,123 1-40 1,78 1-71 1-53 1,46 1,44 1-7 1-47 1,25 1-76 1,9 1-35 1,37 1-28 1,148 1-162 1,3 1-58 1,60 1-92 1,75 1-70 1,76 1,3 1-58 1,9 1-20 1-66 1,45 1-83 1-25 1-13 1,128 1-9 1-58 1-149 1,111 1,17 1,38 1-242 1,192 1,2 1,63 1-118 1,50 1-25 1-6 1-15 1-38 1,80 1-61 1,81 1-52 1,43 1,90 1-87 1-99 1,57 1,9 1-102 1,68 1,7 1,1 1,12 1-29 1,59 1-33 1,69 1-20 1-55 1-42 1-91 1,108 1-76 1,27 1,51 1-38 1,62 1-69 1-333 1,237 1,103 1,171 1-228 1-16 1-55 1-23 1,91 1,13 1-46 1,55 1-98 1-4 1,121 1,14 1,28 1,80 1-68 1-33 1,94 1-77 1,103 1,53 1-107 1,98 1-119 1,74 1,112 1-11 1,24 1-67 1,48 1,2 1-129 1-80 1,138 1-97 1-29 1,251 1-88 1-11 1-3 1,35 1,20 1,28 1,26 1,54 1,21 1-79 1,17 1,15 1-43 1-55 1,80 1-98 1,46 1,27 1-7 1-8 1,36 1-59 1,8 1-78 1,46 1-97 1,77 1,38 1-22 1,34 1-98 1,52 1-26 1-38 1,90 1,19 1,18 1-6 1-61 1,58 1,39 1,15 1,58 1-148 1,208 1-117 1-60 1-123 1,96 1-30 1,43 1,113 1-167 1,47 1-40 1,20 1-181 1,128 1,78 1,61 1-99 1,33 1-67 1,64 1,82 1-97 1,62 1,8 1,8 1-5 1-153 1,38 1-59 1,102 1-123 1,174 1,24 1,35 1-45 1,78 1-258 1,158 1,10 1,90 1-104 1-101 1,63 1,58 1,40 1-36 1-58 1,175 1-60 1,37 1-14 1,19 1-23 1,17 1-44 1-120 1-28 1,92 1-54 1,40 1,10 1-2 1,154 1-76 1-4 1,122 1-127 1,27 1-83 1,55 1-66 1,37 1-93 1,73 1-33 1,181 1-193 1,9 1,117 1-133 1-52 1,118 1-66 1,1 1-15 1,41 1,30 1-6 1-59 1,78 1,42 1-85 1,105 1-123 1-64 1,142 1-15 1-138 1,63 1,18 1-65 1,28 1-4 1,4 1,62 1-162 1,42 1-32 1-35 1,101 1-75 1,22 1,112 1-117 1-25 1,48 1,68 1-143 1,105 1-51 1,25 1-22 1-2 1,144 1-58 1-121 1,19 1,0 1,65 1-91 1,76 1-88 1,14 1,97 1-16 1-53 1-25 1-124 1,59 1-45 1-99 1,170 1-10 1,96 1-83 1-32 1-39 1,10 1,22 1-55 1-17 1,1 1,36 1,4 1-86 1,83 1-68 1,60 1,14 1-40 1,115 1-126 1-67 1,19 1-88 1,71 1-66 1,96 1-98 1,123 1-10 1,48 1-79 1,78 1,33 1-83 1,39 1,42 1,30 1,70 1-44 1,61 1-211 1,166 1-3 1-14 1-38 1-78 1,59 1,46 1,20 1-80 1,14 1,59 1-15 1-95 1,84 1-128 1,131 1-62 1,118 1-143 1,102 1-75 1-10 1,45 1-6 1-50 1-2 1,72 1-42 1,60 1-4 1,9 1-121 1,102 1-6 1-9 1,16 1,45 1-61 1,67 1-98 1,46 1,7 1-70 1-13 1,19 1-18 1-15 1-141 1,108 1,8 1,79 1-109 1,144 1-94 1,93 1-78 1,153 1-56 1,8 1,62 1,4 1-8 1-18 1,31 1-12 1-94 1,141 1-11 1-2 1-90 1-36 1,67 1-77 1,80 1,13 1-14 1-46 1-12 1,47 1-123 1,207 1-122 1,13 1-10 1-60 1-44 1,135 1-94 1,34 1,63 1-34 1,64 1-53 1,20 1-82 1-72 1,201 1-81 1,47 1-87 1-38 1,89 1-112 1,27 1-91 1,296 1-140 1,9 1-58 1-9 1-53 1,76 1-16 1,82 1-129 1-19 1,31 1-121 1,29 1-24 1,88 1-29 1-103 1,171 1,64 1,15 1-87 1,1 1,16 1,55 1-150 1,137 1-71 1,113 1-52 1,124 1-212 1,34 1-41 1,136 1-143 1,63 1,78 1-78 1,120 1-64 1,8 1-127 1,103 1-46 1,3 1,22 1-173 1,74 1,25 1,12 1-41 1-15 1,19 1-41 1,28 1-4 1,38 1-17 1,32 1-122 1,127 1,1 1-217 1,224 1-46 1,18 1,41 1-1 1,6 1,24 1-51 1,163 1-115 1-53 1,14 1,86 1-22 1,56 1,18 1,27 1-7 1,72 1-63 1-108 1,109 1-1 1-43 1-29 1,120 1,74 1,2 1-22 1,57 1-71 1-23 1-59 1,87 1-22 1,39 1-66 1-2 1-91 1,2 1,15 1-4 1-37 1,113 1,12 1-34 1,15 1-53 1-9 1-33 1,178 1-54 1-73 1,90 1-23 1-6 1-29 1,117 1-10 1,57 1,20 1-63 1-1 1,27 1-7 1-117 1,105 1,94 1-131 1-36 1,58 1-43 1-22 1,22 1,22 1,99 1-138 1,58 1,17 1-90 1,91 1-51 1,82 1,24 1,91 1-122 1-39 1,22 1-68 1,184 1-145 1,71 1-9 1-63 1,36 1,46 1,37 1,29 1-76 1-60 1,75 1-14 1-34 1-7 1,21 1-51 1,4 1-19 1-38 1-39 1-90 1,73 1,53 1-33 1,9 1,35 1-58 1,43 1,7 1-61 1-39 1,218 1-157 1-11 1,50 1-177 1,106 1,41 1,81 1,27 1-29 1-61 1,60 1,22 1,52 1-198 1,189 1,46 1-34 1-27 1-49 1-7 1,31 1,25 1,43 1-14 1,25 1-62 1,139 1-163 1,53 1-88 1,127 1-108 1-5 1-113 1,25 1-12 1,37 1,6 1-97 1-13 1,95 1-8 1-184 1,199 1-55 1,17 1-18 1-87 1,101 1,121 1,4 1-56 1,95 1-122 1,48 1,29 1-87 1,90 1,2 1-8 1-24 1,2 1-33 1,142 1,4 1-16 1-109 1-22 1,98 1-13 1,41 1,14 1,71 1,19 1-97 1-10 1-16 1,44 1-93 1,20 1-22 1,41 1-19 1,104 1,112 1-98 1-46 1,26 1,3 1,28 1-161 1,33 1,17 1,138 1-64 1-103 1,61 1-75 1-20 1,182 1-64 1,78 1-40 1-117 1,24 1-24 1,82 1-145 1,133 1-221 1,125 1,83 1-55 1,129 1-21 1,25 1,26 1-32 1-50 1,61 1-66 1-35 1,236 1-254 1-49 1,120 1-41 1,4 1,16 1,83 1-10 1-73 1-45 1,59 1,36 1-54 1-82 1,2 1-35 1,58 1-296 1,208 1-54 1-95 1,115 1-82 1,45 1-95 1,212 1,14 1-82 1,35 1,100 1-120 1-27 1-55 1,97 1-20 1,89 1-46 1-32 1,0 1-128 1,39 1-17 1,16 1-17 1,27 1-17 1,161 1-55 1-59 1,123 1-157 1,115 1-8 1,141 1-68 1,61 1,31 1-88 1,110 1,66 1-44 1,51 1-125 1,82 1-39 1,26 1-25 1,117 1-43 1-147 1,151 1,60 1,48 1-34 1,50 1-19 1,58 1-106 1-30 1,28 1-82 1,233 1-56 1-150 1-14 1,12 1,20 1,47 1-142 1-10 1,61 1,79 1-12 1-109 1,167 1-185 1,139 1-60 1,65 1,71 1-73 1,33 1-258 1,94 1,86 1-52 1,105 1-45 1-148 1,137 1,8 1-81 1,209 1-196 1-89 1,15 1,57 1-124 1,71 1-90 1-20 1-167 1,120 1-48 1,74 1,65 1-24 1-235 1,17 1,17 1,26 1-19 1,2 1,79 1,185 1,2 1,36 1,6 1-57 1,80 1,35 1-55 1,48 1-79 1,87 1-147 1,26 1-1 1-31 1-77 1,67 1,3 1,9 1,65 1-209 1,119 1-116 1,276 1-378 1,387 1-95 1-3 1-47 1,136 1-188 1,61 1,238 1,27 1-124 1-219 1,236 1-13 1-14 1,78 1-311 1,450 1-233 1-145 1,196 1-119 1,73 1,158 1,21 1-12 1-124 1,26 1,24 1-50 1,394 1-293 1,26 1-21 1,86 1-145 1-33 1,21 1,131 1,102 1-128 1-13 1,9 1-56 1,5 1,69 1,38 1-62 1-175 1-31 1-140 1,3 1,386 1-98 1-3 1-174 1-4 1,20 1,68 1-201 1-14 1-2 1-188 1,84 1,175 1-42 1,25 1,20 1,67 1,157 1-182 1-6 1,14 1-62 1-58 1,258 1-425 1,176 1,31 1-1 1-93 1,331 1-154 1-68 1-108 1-68 1,194 1,104 1-41 1,82 1-129 1,55 1,97 1,32 1,0 1-82 1,150 1,24 1-115 1-45 1,50 1-121 1,62 1,23 1-117 1-26 1,95 1,203 1-181 1,271 1-356 1-43 1-9 1,115 1-65 1,50 1-110 1,67 1,92 1-77 1-71 1,132 1-137 1,61 1-177 1,249 1,98 1-148 1,237 1-60 1,29 1-6 1-40 1-211 1,68 1,17 1,69 1,63 1-269 1,209 1-138 1,47 1,25 1-140 1-34 1,17 1-97 1,18 1,155 1-4 1,16 1-30 1,89 1,8 1-51 1,134 1,155 1-206 1,148 1-172 1,189 1,100 1-65 1-5 1-83 1-176 1,58 1,58 1-130 1,69 1-35 1,1 1-178 1,72 1,22 1-88 1,22 1-135 1,163 1-201 1,276 1,107 1-259 1-56 1-160 1,351 1,49 1-80 1,26 1,22 1,158 1-322 1,39 1,25 1,60 1-300 1,236 1,183 1-135 1-91 1,110 1-29 1,14 1,19 1,76 1,93 1-128 1-40 1-115 1,222 1-122 1,74 1-82 1-21 1,80 1,36 1,108 1-17 1,40 1-114 1,4 1-97 1,47 1-24 1,33 1-196 1,191 1-16 1,15 1-31 1-80 1,105 1,6 1-22 1-62 1-58 1,67 1,218 1-47 1-110 1-99 1,113 1,123 1-46 1-92 1,108 1,40 1,28 1-96 1-19 1-65 1,52 1,133 1-12 1-9 1-198 1,193 1-20 1,65 1-13 1,43 1,47 1,69 1-186 1,111 1,39 1-293 1,295 1-41 1,16 1-87 1-33 1,32 1,10 1,26 1-62 1,44 1,182 1-127 1,49 1-6 1-125 1,138 1-194 1,130 1,61 1-41 1,2 1-64 1,67 1,96 1-130 1,67 1-47 1,190 1-144 1,46 1-6 1-67 1,33 1,1 1,72 1-59 1,22 1,6 1,19 1-134 1,80 1-101 1-22 1-55 1,94 1-200 1,54 1-72 1-57 1,91 1,33 1-11 1-47 1-54 1-2 1-38 1-17 1-44 1,69 1-27 1,65 1-55 1,42 1-110 1,255 1,4 1-139 1,68 1,14 1-137 1,14 1,29 1-81 1,23 1,80 1-37 1,27 1,6 1-36 1,73 1,0 1,21 1-115 1,96 1-61 1,245 1-188 1-43 1,58 1-25 1-33 1,102 1-58 1-86 1-119 1,129 1,9 1,49 1,112 1-39 1-43 1,7 1-28 1-30 1,38 1,12 1-14 1,30 1,168 1-21 1-10 1-97 1-29 1-29 1,52 1-27 1-47 1,115 1-12 1-22 1,121 1-93 1,36 1-99 1-8 1-77 1-34 1,130 1-48 1,79 1-49 1,26 1-96 1,114 1-131 1,14 1,65 1,15 1,28 1-11 1-8 1,103 1-78 1,98 1,29 1-196 1,246 1-40 1,106 1-85 1-62 1-13 1,36 1-6 1-15 1,64 1-39 1,69 1,72 1-174 1,27 1,60 1,42 1-70 1,7 1-20 1-105 1,50 1-80 1,24 1,81 1-153 1,79 1,96 1-38 1,39 1-23 1,34 1-16 1-22 1-73 1,32 1,20 1-31 1,1 1,109 1-50 1-9 1-137 1,106 1,90 1-47 1-20 1-111 1,68 1,9 1,12 1-20 1,95 1-106 1,70 1,51 1-183 1,92 1,168 1-101 1-53 1,60 1-107 1,47 1-37 1,76 1-169 1,154 1,19 1-32 1,42 1-15 1,73 1-121 1,53 1-51 1,51 1-13 1,41 1,61 1-111 1-2 1-55 1,43 1,269 1,28 1-88 1-125 1,44 1,1 1-2 1-53 1,46 1-27 1-119 1,148 1,9 1-39 1,40 1,25 1-11 1,7 1-3 1-55 1-5 1-59 1,92 1-91 1,36 1-194 1,127 1,40 1-65 1-40 1,66 1-4 1-27 1,97 1-77 1-26 1,56 1-1 1,10 1-147 1,114 1,45 1,43 1-133 1-6 1-18 1-21 1,230 1-105 1-68 1,36 1-16 1,10 1,116 1-142 1-19 1-150 1-47 1,41 1-86 1,94 1,70 1-11 1,12 1,35 1-123 1,61 1-11 1-71 1,18 1-50 1,49 1-34 1-1 1,4 1,3 1,4 1-122 1,113 1,37 1-46 1,18 1,36 1-21 1-39 1-7 1,87 1,85 1-118 1,29 1-23 1,131 1-85 1-72 1,34 1-110 1,54 1,36 1-26 1-39 1,59 1,4 1-4 1,1 1-29 1,104 1-54 1,68 1-19 1-14 1-32 1,29 1,40 1-49 1-38 1,28 1,27 1-20 1,38 1,3 1-20 1-22 1-33 1,5 1,10 1,7 1,49 1-62 1,18 1-41 1,121 1-19 1-118 1,17 1,32 1,24 1,25 1-5 1,41 1,86 1-109 1,5 1,41 1-63 1,86 1-47 1-59 1,106 1-29 1,214 1-75 1,28 1-69 1,51 1-34 1-29 1,12 1-45 1,132 1-68 1-141 1,84 1-51 1,142 1-17 1,59 1-146 1,82 1-38 1-28 1,79 1-88 1,171 1-149 1,49 1,208 1-366 1,124 1,55 1,78 1-72 1,60 1-166 1,90 1,52 1,45 1-74 1,13 1-85 1-44 1,100 1-57 1,128 1-93 1-113 1,141 1-1 1-38 1-129 1,17 1,119 1-84 1-65 1,112 1-69 1,64 1-87 1,31 1,89 1,5 1-34 1-44 1,29 1-38 1-175 1,288 1-113 1-40 1-17 1-2 1-55 1-53 1-11 1,48 1,7 1,60 1-5 1,65 1-26 1,54 1-126 1,62 1-1 1-48 1,47 1-91 1,98 1-62 1-7 1-29 1,89 1,2 1-91 1-19 1-42 1,1 1,113 1-83 1,45 1-5 1-49 1,41 1-25 1,68 1-111 1,122 1-94 1,102 1-79 1,1 1,50 1,24 1-11 1,77 1,113 1-191 1,31 1,19 1,26 1-49 1,2 1,3 1,48 1-48 1,76 1,56 1-128 1-12 1-32 1,88 1,11 1,32 1-39 1-64 1,67 1-15 1-77 1-127 1,58 1,15 1,27 1,1 1,53 1-185 1,132 1,50 1-9 1,104 1-57 1-106 1,56 1-143 1,77 1,14 1,24 1,171 1-138 1,47 1-110 1,27 1-21 1-18 1-39 1,89 1,16 1-44 1,93 1-61 1,20 1,116 1-202 1-37 1,82 1-88 1,99 1-17 1,55 1,22 1-15 1-64 1-2 1-67 1-166 1,281 1-156 1,44 1-87 1,51 1-13 1,14 1-68 1,63 1,111 1-5 1-37 1-75 1,4 1,2 1,36 1,42 1-17 1,74 1,49 1-67 1,77 1-58 1,72 1-216 1,3 1,32 1-23 1,103 1,22 1,62 1-93 1,8 1,63 1-20 1-60 1,75 1,19 1-6 1-2 1,38 1,3 1-63 1,36 1,40 1-16 1,116 1-65 1,2 1-56 1,40 1-76 1,93 1-66 1,27 1,54 1,27 1-69 1-53 1-97 1,20 1-21 1,64 1-2 1,53 1-129 1-114 1,61 1,36 1,7 1,78 1-52 1,40 1,28 1,62 1-99 1-16 1-34 1,15 1,58 1,20 1,104 1-67 1-18 1-26 1-85 1,138 1-69 1,23 1,6 1,17 1,144 1-64 1-58 1-26 1-94 1,115 1,23 1,108 1-232 1,121 1,59 1-50 1,42 1-11 1,19 1,31 1-36 1,23 1,69 1-230 1,117 1,1 1,174 1-229 1,28 1-39 1-14 1-17 1,35 1,33 1-158 1,18 1-9 1,126 1,28 1-33 1,5 1,51 1-90 1-44 1,209 1-103 1-29 1,62 1-131 1,101 1,101 1-86 1-54 1,50 1,9 1,3 1-84 1,169 1,19 1-40 1,23 1,28 1-133 1,74 1-22 1,90 1-170 1,4 1-40 1,60 1-51 1-26 1,9 1-6 1,213 1-211 1,63 1-2 1,35 1-53 1-63 1,21 1,59 1,24 1-149 1,26 1,47 1-50 1,34 1,1 1,101 1-94 1,99 1-115 1,125 1-101 1-1 1-45 1,202 1-169 1,110 1-12 1-9 1-40 1-816 1,781 1,89 1-25 1-110 1-58 1,76 1-60 1-52 1,163 1,24 1,48 1,173 1-117 1-132 1-9 1,45 1-140 1,61 1,42 1-19 1,140 1-13 1-220 1,213 1-108 1-4 1,100 1-142 1,142 1-147 1,139 1-80 1,41 1-83 1,88 1,28 1-112 1,79 1,6 1,106 1-17 1-50 1-94 1,74 1-62 1,118 1-96 1,20 1-45 1-45 1-9 1,116 1,39 1-130 1,218 1-62 1,31 1-90 1,74 1-7 1-34 1,97 1-185 1,84 1,134 1-53 1-45 1-46 1-117 1,229 1-182 1,207 1-3 1,70 1-170 1-85 1,130 1-55 1,131 1-102 1-10 1,39 1-24 1-63 1-74 1-159 1,254 1-148 1,162 1-119 1,17 1,44 1,92 1-122 1-69 1,27 1-28 1-41 1-77 1,232 1-154 1,66 1-33 1,42 1,0 1,32 1-29 1-100 1,224 1-70 1,131 1-116 1,78 1-16 1-8 1-148 1,63 1-41 1,30 1-74 1,15 1,70 1,14 1-20 1,38 1-84 1,78 1,28 1,38 1-115 1,133 1,14 1-55 1-60 1,27 1-17 1-94 1,148 1-51 1,125 1,55 1-122 1-32 1,28 1-56 1,156 1-101 1,59 1-30 1-5 1-51 1,5 1-14 1,59 1-44 1,3 1,10 1-14 1-37 1,40 1-117 1,172 1-7 1-34 1-6 1,128 1-55 1,4 1-8 1,69 1-111 1,131 1-100 1,54 1-146 1,88 1-53 1-74 1-69 1-32 1-51 1-86 1,169 1-65 1,35 1-28 1,12 1,87 1-35 1,76 1-14 1-80 1,185 1-165 1,61 1-102 1,12 1-34 1,62 1,3 1,134 1-45 1-48 1-7 1,49 1-31 1,7 1-104 1,44 1,60 1-13 1-79 1,83 1-20 1-30 1,41 1,72 1-40 1,41 1,24 1,2 1,55 1-128 1-101 1,123 1-77 1-38 1,144 1-178 1,102 1-60 1-18 1-10 1-9 1,6 1-92 1,88 1,18 1-148 1,177 1-94 1,135 1-149 1,96 1-122 1-87 1,240 1-163 1,146 1-107 1-48 1,112 1-18 1,51 1-56 1,120 1-82 1-28 1,132 1,30 1-33 1,21 1,67 1-91 1-50 1,36 1,105 1,17 1-14 1-31 1-6 1,30 1,46 1,150 1-240 1-37 1,57 1-15 1-49 1-52 1,1 1,59 1-55 1-46 1,21 1-30 1,39 1,102 1,20 1-6 1-113 1-107 1,140 1,19 1-67 1,153 1-208 1-10 1,52 1,25 1,84 1-66 1,86 1-52 1,19 1,17 1-111 1,45 1-28 1,82 1-99 1,1 1,98 1,5 1,17 1-45 1-58 1,56 1,3 1-120 1,54 1-3 1-11 1,78 1-152 1,160 1-140 1-24 1-59 1,129 1,29 1,33 1,162 1-139 1,36 1,32 1-90 1-63 1,110 1-75 1,25 1-3 1,65 1-116 1,184 1-116 1-68 1,81 1,24 1-73 1,85 1-223 1,182 1-24 1,54 1-97 1-43 1,62 1,53 1,70 1-82 1,61 1,6 1-130 1,86 1,82 1-103 1-89 1,171 1-140 1,38 1,88 1-97 1,112 1-16 1-36 1,43 1,84 1-75 1-26 1-36 1,54 1-105 1,95 1-295 1,120 1,37 1,87 1-161 1-11 1,5 1,8 1,109 1-118 1-5 1,67 1-6 1,101 1-26 1-104 1-11 1,74 1-18 1,9 1-63 1,104 1,13 1-73 1-103 1,76 1-11 1,22 1-87 1,21 1,103 1-80 1,28 1-34 1,41 1,22 1-134 1-24 1,148 1-146 1,74 1,64 1-44 1-70 1,78 1-32 1,10 1-69 1,86 1-22 1-47 1-89 1,176 1,41 1-232 1,84 1,171 1-185 1,63 1,35 1-136 1,4 1-95 1,119 1,76 1,76 1-107 1,22 1-103 1,97 1-156 1,125 1,27 1,49 1-7 1,58 1-1 1,92 1,57 1,53 1-195 1,66 1-110 1,8 1,131 1-17 1,20 1-46 1,60 1-42 1-24 1,73 1-176 1,46 1,25 1-9 1-26 1,95 1-34 1-88 1-89 1,110 1,52 1-20 1-64 1,35 1-14 1-57 1,91 1-44 1-16 1-30 1-90 1,88 1,14 1-103 1,66 1,29 1-180 1,148 1,42 1-116 1-4 1,159 1-139 1,250 1-52 1-72 1,71 1-54 1-13 1,67 1-54 1,31 1-50 1,104 1-90 1,16 1,48 1-30 1-20 1,38 1-31 1,143 1,121 1-224 1,20 1-38 1,68 1-15 1,10 1,59 1-15 1-9 1,46 1-47 1,12 1-62 1,75 1-12 1-69 1,89 1,56 1-19 1,7 1,42 1-20 1-144 1,29 1,114 1-77 1,38 1-32 1,70 1-70 1-15 1,63 1-107 1,12 1,178 1-115 1-76 1,42 1-17 1,27 1-83 1,59 1-44 1-113 1,47 1-8 1,25 1-61 1-13 1,190 1-162 1-9 1-18 1-90 1,131 1-30 1-20 1,29 1,25 1-67 1,185 1-107 1-13 1-91 1-92 1,22 1-21 1,133 1-26 1-1 1,42 1,111 1-292 1,38 1,92 1-179 1,85 1-6 1,12 1,15 1-105 1,56 1,62 1,32 1,57 1-12 1,27 1-51 1,51 1,4 1-163 1,145 1-7 1-11 1-16 1,85 1-90 1,60 1,36 1,79 1-34 1-24 1-152 1,42 1-2 1-19 1-13 1-22 1-110 1,241 1-58 1,12 1,54 1-77 1-14 1,38 1,62 1,6 1-190 1,86 1,49 1,84 1-34 1-39 1,35 1,67 1,144 1-96 1-18 1-56 1,100 1,26 1-68 1-68 1,28 1,71 1-120 1,75 1,7 1,71 1-39 1-13 1,107 1,36 1-127 1-113 1,113 1-127 1,56 1,52 1,66 1-238 1,170 1-30 1-58 1,17 1,154 1-161 1-18 1,59 1,9 1,76 1-187 1-54 1,98 1,72 1,11 1-45 1,28 1-18 1,50 1-92 1-16 1-15 1,11 1,30 1,88 1-28 1-227 1,230 1-13 1,0 1,50 1-39 1,77 1-178 1,152 1,38 1-94 1,55 1-50 1,55 1-96 1,107 1,5 1-41 1-28 1,31 1-50 1-100 1,42 1,0 1-48 1,21 1,127 1-100 1,27 1,0 1,53 1,31 1-75 1,44 1,58 1-207 1,10 1,207 1-160 1,207 1,51 1-107 1,48 1-2 1-34 1-40 1-8 1-51 1,143 1-56 1,49 1,40 1-109 1,33 1,87 1,18 1-221 1,22 1-42 1,97 1-83 1-12 1-49 1,32 1,27 1,59 1,57 1-55 1,23 1-9 1-2 1-89 1,5 1,106 1,68 1-92 1-112 1-38 1,44 1-5 1-40 1,54 1-21 1-22 1,24 1-62 1-25 1-6 1-26 1-98 1,11 1-23 1,72 1,94 1-93 1-111 1,152 1-98 1,2 1,68 1,44 1-56 1,55 1-113 1-92 1,93 1,150 1-157 1,18 1,29 1-95 1,24 1,23 1-71 1-28 1,85 1-34 1-55 1,36 1-79 1,35 1-19 1,110 1-67 1,35 1-61 1,22 1-36 1,33 1,63 1-87 1,79 1-20 1-181 1,245 1-130 1,150 1-95 1,144 1-98 1,4 1,66 1,2 1-73 1,179 1-140 1-79 1,25 1-123 1,63 1,95 1,127 1-48 1,30 1-64 1,54 1-41 1,93 1-6 1,42 1-145 1,89 1-35 1-32 1,59 1-257 1,169 1-39 1,14 1-35 1-21 1-85 1,120 1-60 1,15 1,91 1,36 1-47 1,18 1,104 1-102 1-17 1,42 1-34 1,89 1-58 1,33 1,110 1-121 1-68 1-21 1,9 1,78 1,122 1-202 1,22 1,27 1-22 1,64 1-144 1-71 1,92 1-43 1-13 1,81 1-67 1-39 1,3 1-41 1,120 1-99 1,51 1-138 1,227 1-67 1-77 1,69 1,82 1,30 1-136 1,82 1,38 1,20 1,9 1,32 1-59 1-51 1,45 1-92 1,65 1-6 1,18 1,6 1-17 1-123 1,164 1,109 1-65 1,8 1-10 1,72 1-2 1-48 1,6 1,40 1-6 1-48 1,31 1-116 1,8 1,33 1,39 1-132 1,72 1-74 1,81 1,24 1,18 1,36 1-33 1,53 1-49 1,72 1,54 1-92 1-4 1,27 1,86 1-134 1,102 1-12 1,33 1-35 1,66 1-72 1,24 1,56 1-47 1-31 1,76 1,58 1-211 1,1 1,112 1,10 1-15 1,89 1-73 1,32 1-22 1,51 1-13 1,8 1-62 1,47 1-59 1,37 1-14 1-53 1-60 1,104 1,30 1-55 1-97 1,98 1-13 1,63 1-41 1,68 1-72 1,55 1-26 1-11 1-16 1,32 1-66 1,69 1-4 1-4 1,51 1-27 1-31 1-104 1,49 1,4 1,20 1,76 1-50 1-76 1,68 1,16 1-17 1-21 1,46 1-67 1-2 1,46 1,14 1,3 1,115 1-79 1-3 1,26 1-36 1-112 1,193 1-175 1-3 1-31 1,43 1,21 1,42 1-137 1,41 1,46 1-65 1,82 1-9 1-32 1-82 1,93 1-52 1,54 1,58 1-95 1,140 1,84 1-100 1-6 1,53 1-158 1,143 1-54 1,79 1-17 1-64 1,129 1-52 1-121 1,128 1,112 1,39 1-201 1-101 1,7 1,69 1-37 1,21 1,63 1,110 1-86 1-92 1,55 1,56 1-133 1,66 1,38 1-5 1,93 1-189 1,67 1-32 1-21 1,124 1-103 1,59 1-5 1-21 1-40 1-8 1,47 1,28 1-21 1,100 1,71 1-60 1-49 1,37 1-52 1,27 1-51 1,9 1,41 1,25 1-40 1,60 1-26 1-91 1,116 1,40 1-12 1-17 1-44 1,9 1-57 1-56 1-33 1,163 1-100 1-148 1,111 1,60 1,42 1-51 1,45 1-94 1,60 1,15 1,12 1-79 1,56 1-66 1,71 1,48 1-103 1,17 1-37 1-119 1,151 1-45 1,93 1-114 1,11 1-57 1,81 1-57 1-1 1-31 1,61 1,11 1-166 1,84 1,48 1-11 1,21 1-124 1,124 1,48 1-96 1,126 1-90 1,32 1-54 1-16 1,13 1,43 1-19 1-42 1,13 1,15 1,85 1-74 1,6 1,35 1,35 1-134 1,73 1,121 1-131 1-23 1,39 1-81 1-34 1,49 1,9 1,35 1-37 1,102 1-56 1-17 1,19 1,69 1-80 1-22 1-58 1,95 1,42 1-82 1,66 1,16 1,6 1,8 1,45 1-209 1,185 1,27 1,26 1-119 1,61 1,46 1-83 1,117 1-93 1-48 1-19 1,92 1-108 1,25 1-39 1,28 1,6 1,1 1-36 1,82 1-62 1,74 1-55 1,29 1-147 1,143 1-27 1-33 1,175 1-65 1,28 1-13 1,49 1-48 1,48 1-93 1,146 1-76 1,57 1-39 1-91 1-51 1,1 1,32 1,46 1,23 1-41 1,110 1-34 1,21 1-124 1,123 1,4 1-140 1,116 1-36 1-133 1,183 1-50 1-28 1-6 1-61 1,178 1-139 1-26 1,44 1,30 1,4 1-35 1-39 1,121 1-30 1,78 1-117 1-12 1-85 1,200 1-149 1,117 1-153 1-54 1,153 1-167 1,120 1,46 1,147 1-132 1-3 1-80 1,57 1-80 1,75 1,13 1,46 1-42 1-10 1-57 1,60 1-34 1,58 1-23 1,150 1-116 1,34 1-54 1-24 1,84 1-81 1,90 1-37 1-60 1,38 1,27 1-34 1,24 1,76 1-108 1-42 1,58 1,11 1-112 1,35 1,27 1-60 1,14 1,66 1-125 1,4 1-29 1-45 1,61 1,7 1-87 1-23 1-8 1,67 1-69 1-114 1,84 1,6 1-70 1,12 1,68 1,46 1,23 1-97 1-5 1,70 1,71 1,75 1-209 1-38 1,101 1-2 1-18 1,58 1,3 1,50 1-112 1,98 1-35 1,50 1-100 1,12 1,17 1,7 1-14 1,62 1-16 1,25 1,106 1-60 1,13 1-11 1-70 1,46 1-34 1-32 1,58 1-2 1-46 1,11 1,55 1-30 1,54 1-122 1,91 1-18 1-42 1-61 1,13 1-65 1,30 1-17 1-78 1,58 1-66 1,77 1,36 1-72 1-40 1-43 1-6 1-24 1,67 1-79 1,70 1,27 1,63 1,59 1-111 1,30 1,13 1,11 1-6 1,36 1-28 1-21 1,53 1,24 1,6 1-97 1,84 1,1 1,1 1-39 1-43 1-72 1,67 1,115 1-125 1,91 1,26 1-9 1-15 1,106 1-29 1,37 1-73 1,59 1,1 1,14 1-10 1-28 1,162 1-58 1-42 1-39 1,114 1-96 1,119 1-65 1-40 1,27 1-37 1-47 1,71 1-25 1,43 1,29 1-124 1,20 1-39 1-83 1,136 1-7 1,160 1-222 1,106 1,31 1-17 1,43 1-103 1,25 1,8 1-37 1,2 1,28 1,7 1-14 1,47 1-13 1-59 1,35 1,30 1-73 1-18 1,72 1-20 1-89 1,62 1-22 1-21 1,107 1-150 1-12 1,21 1,8 1-10 1,38 1-19 1-50 1,77 1-41 1,51 1,82 1,13 1-26 1,44 1-25 1-11 1,0 1,87 1-50 1,6 1,77 1-104 1,111 1-22 1-2 1-77 1,22 1-31 1-31 1,100 1-10 1-18 1-28 1,1 1,70 1-94 1,49 1,34 1-13 1,15 1-15 1-38 1,42 1-22 1,1 1,112 1-128 1,90 1-13 1,19 1-47 1-23 1-18 1,25 1-53 1-37 1,77 1,29 1,38 1,39 1-91 1,1 1,55 1-4 1-70 1-12 1-23 1,28 1-42 1,15 1,50 1,29 1-27 1-51 1,49 1-35 1,15 1,4 1-66 1,21 1-92 1,40 1,22 1-19 1-51 1,29 1-2 1-107 1,25 1-41 1,67 1,30 1-34 1,95 1-96 1,106 1-39 1,42 1-55 1,41 1,22 1-30 1-1 1,69 1-72 1-51 1,96 1,100 1-160 1,29 1,66 1,33 1-53 1-36 1-46 1-43 1,93 1-22 1,29 1,20 1-23 1,42 1-89 1,43 1-102 1,3 1,67 1,12 1-19 1-19 1,5 1-17 1-40 1,98 1,7 1,11 1,27 1-41 1,28 1-44 1-1 1,16 1-29 1-16 1,31 1,50 1-84 1,19 1,15 1-24 1,23 1,1 1,50 1-64 1,3 1,61 1,57 1-33 1,16 1,5 1-28 1-1 1,52 1,82 1-116 1,54 1-97 1,40 1-122 1,66 1-45 1,22 1,49 1-51 1,67 1-35 1,57 1-6 1-48 1,8 1,3 1,93 1-51 1-94 1,147 1-10 1,4 1,14 1-40 1,10 1-131 1,171 1,1 1,19 1,71 1-40 1-30 1,17 1,31 1-80 1,56 1-101 1,26 1-48 1,5 1,113 1-103 1-18 1,14 1-68 1,44 1-23 1,56 1,16 1,11 1-39 1,60 1-22 1,46 1,40 1-63 1,17 1-11 1-63 1-4 1-7 1-35 1,4 1-52 1,4 1,38 1-29 1-29 1-66 1,22 1,71 1-42 1,47 1-49 1,84 1-170 1,130 1-38 1-50 1,44 1,34 1-70 1,156 1-188 1-11 1-21 1,29 1,52 1,30 1-44 1,34 1-34 1,43 1-86 1-23 1,9 1,11 1-25 1-28 1,91 1,29 1-13 1-17 1-1 1,55 1-27 1,8 1,91 1-78 1-48 1,13 1,45 1-40 1,75 1-46 1-25 1-2 1-11 1-26 1,96 1,39 1-19 1-19 1,18 1,12 1-18 1,27 1-14 1,29 1,89 1-114 1-24 1,48 1-117 1,67 1,23 1-55 1-14 1-64 1,68 1,11 1-40 1,5 1-43 1,24 1,36 1,26 1,28 1,27 1-127 1,73 1,72 1-53 1,2 1,69 1-53 1-10 1,100 1-8 1,9 1,6 1-77 1,86 1,102 1-76 1,3 1-75 1-14 1-8 1-71 1,34 1-9 1,57 1-99 1,23 1-28 1-16 1,89 1-38 1,15 1,24 1,1 1-8 1-55 1,59 1-118 1,59 1,10 1-21 1-2 1,56 1-68 1-36 1,174 1-83 1,44 1-105 1,77 1-11 1-48 1,34 1-37 1-5 1,43 1-17 1,63 1-67 1-32 1,0 1-22 1,97 1-60 1-70 1,14 1,71 1,19 1,41 1-8 1,52 1-96 1,14 1,6 1,44 1-79 1,30 1,23 1,20 1-10 1-73 1,68 1-66 1,64 1-72 1-9 1-24 1,5 1-92 1-23 1,154 1-36 1,52 1-15 1-49 1,9 1,31 1-62 1,8 1-32 1-3 1,7 1-99 1,119 1-39 1-45 1,38 1,48 1-57 1,6 1,50 1-20 1,6 1,72 1-50 1,47 1-110 1,115 1-66 1-20 1,38 1,55 1-72 1,72 1-72 1,79 1-14 1,1 1-62 1,23 1-11 1,39 1,11 1,17 1-44 1-32 1,49 1-43 1-64 1-11 1-48 1,89 1,57 1-93 1,126 1-138 1-38 1,4 1,44 1-132 1-20 1,121 1-9 1-18 1,1 1,31 1-17 1-6 1,25 1-22 1-73 1-41 1-17 1,101 1,26 1-51 1,47 1,55 1-69 1,63 1-104 1,6 1-35 1,65 1,73 1-132 1,51 1-6 1-32 1-21 1,119 1-72 1,10 1-38 1-8 1-16 1,56 1-12 1,50 1-74 1-76 1,3 1,88 1,1 1,16 1-73 1,51 1,31 1,117 1-40 1-33 1-73 1-1 1,79 1,43 1-111 1,115 1-33 1,22 1-97 1,31 1,9 1,103 1-141 1,43 1,12 1,5 1,37 1,67 1-14 1-76 1,5 1,47 1,32 1,4 1-56 1,37 1-50 1-37 1,55 1-57 1-27 1,71 1-41 1,1 1-106 1,86 1-71 1,15 1,48 1,11 1-7 1,94 1-60 1-6 1,15 1,6 1,44 1-46 1,70 1-36 1-75 1-4 1,63 1,26 1-48 1,6 1,28 1,82 1-79 1,7 1,128 1-2 1,18 1-45 1,81 1-175 1,7 1,13 1,2 1-30 1,39 1,64 1-136 1,129 1-2 1,19 1-52 1,123 1-78 1-70 1,7 1,18 1,10 1-23 1-12 1,35 1,7 1,82 1-98 1,158 1-159 1,68 1-47 1-11 1,31 1-13 1-90 1,2 1,36 1-13 1,55 1-82 1,0 1,27 1-1 1-24 1-10 1,39 1-64 1,91 1-47 1,12 1-15 1,161 1-138 1,53 1-71 1-38 1,32 1-29 1-19 1,13 1,43 1-28 1-3 1-89 1,125 1-25 1,12 1,32 1,42 1,59 1-46 1-9 1,23 1-31 1,24 1-89 1,70 1-108 1-25 1-2 1,51 1,26 1,1 1-12 1,108 1-84 1-63 1,15 1,22 1,58 1-140 1,82 1,5 1,24 1-19 1-44 1,65 1-30 1,8 1-40 1,97 1-135 1,62 1-58 1,28 1,91 1-48 1-86 1,128 1-15 1-37 1,24 1,38 1,35 1-29 1-40 1-38 1,27 1-19 1-22 1-18 1,47 1-58 1,43 1-50 1,33 1-31 1-30 1,13 1-117 1,102 1,15 1-31 1-63 1,82 1,36 1-8 1-10 1-14 1,54 1,15 1,60 1-54 1-10 1,103 1-72 1-12 1,65 1-24 1,66 1-39 1-38 1,35 1,58 1-25 1-27 1,106 1-68 1-52 1-8 1,27 1-64 1,21 1,37 1,9 1-14 1,14 1,14 1-5 1-30 1,4 1,16 1-32 1-4 1,127 1-160 1,32 1-26 1-28 1,36 1-27 1,77 1-34 1-20 1,18 1-38 1,36 1-79 1,55 1-48 1,28 1-32 1-63 1,65 1,114 1-64 1-47 1-23 1,12 1,5 1-24 1-33 1,48 1,100 1-74 1,92 1-3 1-62 1-44 1,50 1-29 1-69 1,89 1,15 1,35 1,3 1,17 1-41 1,5 1-3 1,29 1-42 1,43 1-18 1-129 1,34 1,39 1,22 1-8 1,37 1-3 1-62 1,43 1-20 1,57 1-84 1,46 1-40 1-26 1,26 1-80 1,39 1,73 1-19 1-24 1,7 1-63 1,11 1-4 1,1 1-5 1,53 1,7 1-58 1-12 1,68 1,49 1-56 1,80 1-99 1,13 1,66 1-60 1,59 1,11 1-27 1,93 1-40 1-88 1,102 1-70 1-42 1,0 1,8 1,56 1-47 1,25 1-23 1,33 1-69 1,14 1,22 1,49 1-39 1,18 1,12 1-31 1,14 1,58 1-22 1,3 1,55 1,22 1,9 1-97 1,34 1-34 1-11 1-35 1,88 1,97 1-19 1-9 1-115 1,36 1-13 1,103 1-43 1,0 1,50 1-82 1,67 1,35 1-61 1-49 1,35 1,1 1,46 1-53 1,48 1-2 1,3 1-75 1,37 1-27 1,36 1-16 1-58 1,40 1-28 1-9 1,68 1-63 1-1 1,27 1,20 1,49 1-62 1,39 1,108 1-119 1,41 1-98 1,130 1-39 1,5 1,52 1-81 1-8 1-71 1,85 1,3 1-10 1-4 1,95 1-67 1-32 1-28 1,64 1-128 1-5 1,78 1-50 1,6 1,0 1-16 1,26 1-61 1,61 1,12 1-95 1,139 1-46 1-16 1,50 1-6 1-26 1-41 1,85 1-3 1,1 1-34 1,52 1,8 1-65 1,110 1-77 1-11 1,10 1-3 1,5 1-16 1-94 1,63 1,15 1-46 1-34 1,42 1,28 1,23 1,14 1,26 1-15 1,3 1,21 1-7 1-52 1-17 1,46 1,93 1-43 1-126 1,22 1-78 1-4 1,91 1-90 1,20 1,9 1,7 1,0 1,27 1-42 1,8 1,34 1-6 1,80 1-38 1-39 1,3 1,43 1-17 1,70 1,5 1,78 1-124 1,16 1-35 1,33 1-27 1,66 1-23 1-92 1,50 1,45 1-18 1-56 1,7 1-31 1-15 1-3 1,19 1-30 1,2 1,56 1-100 1,35 1,16 1-63 1,81 1-52 1,63 1-6 1-19 1,53 1-59 1,28 1-40 1,80 1-51 1,43 1-54 1,51 1-8 1-52 1,31 1-50 1-5 1,51 1,40 1,10 1-57 1,4 1,21 1-30 1-26 1,35 1,9 1-4 1-40 1-17 1-11 1-41 1,118 1-54 1,68 1-50 1,17 1,22 1-63 1-65 1,99 1-25 1,58 1-28 1,9 1,1 1-5 1,32 1-27 1-11 1,8 1,29 1-30 1,10 1,51 1-94 1,54 1,0 1,33 1-22 1-30 1,18 1,54 1,5 1-50 1-35 1,169 1-208 1,109 1,9 1-32 1,30 1,36 1-22 1-4 1-19 1-47 1,85 1-84 1,40 1-38 1-17 1,5 1-60 1,13 1,0 1,147 1-115 1,93 1-65 1,20 1-41 1,37 1-46 1-11 1,14 1,79 1,12 1-55 1,153 1-124 1,10 1-128 1,126 1-116 1,69 1-1 1,50 1,80 1-159 1,55 1,5 1,19 1-76 1,51 1-67 1,158 1-108 1-4 1,52 1,7 1-35 1-85 1,53 1,47 1-86 1,31 1-49 1,20 1,1 1,50 1,20 1-43 1,55 1-2 1-59 1,51 1-18 1-36 1-68 1,16 1,116 1-65 1-59 1,26 1,15 1-35 1,55 1-16 1-66 1,106 1-3 1-25 1,14 1,1 1,32 1-32 1,32 1,27 1,27 1-51 1,44 1,58 1-80 1,33 1-18 1-11 1,13 1,22 1,86 1-100 1,14 1,29 1-102 1,10 1,98 1-42 1,30 1-30 1-25 1,32 1-46 1-59 1,76 1-62 1,77 1-18 1-11 1,24 1-9 1,11 1-36 1,98 1-70 1-7 1,48 1-25 1-47 1,45 1,95 1-154 1,56 1,60 1-107 1-10 1-16 1,92 1-75 1-67 1,59 1-33 1-89 1,113 1-60 1-35 1,53 1-44 1-33 1,24 1-39 1-8 1,72"/>
<path transform="matrix(0.118420,0,0,0.1,72.40,0)" vector-effect="non-scaling-stroke" fill="none" stroke="#9400d3" stroke-width="1.70" stroke-linejoin="bevel" d="M0,4154l1-245 1-185 1-16 1-75 1-35 1,180 1-163 1,6 1,119 1-130 1,46 1-28 1-127 1,29 1,101 1-58 1,17 1,17 1,111 1-45 1-51 1,43 1-29 1,63 1-33 1-109 1,222 1-31 1-54 1,37 1,2 1-35 1,4 1-102 1,101 1-123 1-13 1-18 1,95 1-10 1,20 1-3 1-112 1,89 1-51 1,25 1-42 1,189 1-260 1,120 1-48 1,93 1-39 1-68 1,52 1-248 1,308 1,10 1-91 1-3 1,153 1-138 1-46 1,64 1-118 1,76 1,29 1-28 1-12 1,78 1-162 1,101 1,2 1,82 1-17 1-25 1-61 1,12 1,50 1-16 1-80 1,64 1-103 1,42 1-40 1,128 1,4 1-88 1,28 1-32 1,41 1,3 1,41 1-59 1-16 1-207 1,71 1,21 1,20 1-2 1,25 1,77 1-112 1-56 1,63 1,51 1-46 1,0 1-33 1,29 1,1 1,38 1-42 1-67 1,129 1-156 1,46 1,11 1,74 1,50 1-120 1-10 1-16 1,107 1-67 1-27 1,35 1,45 1,12 1-30 1,73 1-66 1,6 1,12 1,44 1-45 1,0 1-231 1,224 1-50 1,239 1-142 1,40 1-180 1,110 1-2 1-12 1-175 1,209 1-119 1,69 1,9 1-52 1-11 1-42 1,31 1-115 1-83 1,83 1,12 1,5 1-24 1,38 1-91 1-32 1,106 1-75 1-32 1-280 1,237 1-14 1-50 1-39 1-43 1,54 1-99 1,91 1-36 1,13 1-100 1,91 1,91 1-104 1,41 1-177 1-202 1,39 1-77 1,267 1-369 1,56 1,18 1,216 1-335 1,95 1-83 1,96 1,5 1-95 1,38 1,72 1-137 1-5 1,176 1-120 1-67 1,142 1,6 1,11 1-73 1,25 1-16 1-7 1-44 1,53 1-78 1-25 1,62 1,57 1-7 1-131 1-57 1,124 1,81 1,6 1-39 1-11 1-146 1,30 1,179 1-89 1-37 1,13 1,85 1-134 1,181 1-91 1,84 1-55 1-47 1,82 1-62 1,49 1-47 1-55 1,175 1,7 1-105 1-37 1-45 1,191 1-74 1,30 1,146 1-293 1,14 1,129 1,200 1-252 1,9 1,80 1-16 1,19 1,97 1-148 1-134 1,125 1-185 1,236 1-55 1-4 1,129 1-159 1-8 1,17 1-46 1,104 1-229 1,156 1,38 1-18 1-7 1-17 1-60 1,95 1-51 1-54 1,132 1-10 1-67 1-126 1,180 1-142 1,97 1-14 1,15 1,17 1,68 1-50 1-44 1,43 1-30 1,84 1-148 1,113 1,34 1-152 1-72 1,104 1-56 1-39 1,270 1-4 1-8 1-178 1-141 1,60 1,23 1,65 1-68 1,185 1-113 1,70 1,47 1,17 1-45 1,168 1-260 1,56 1,12 1-23 1-81 1,225 1-244 1-71 1,191 1-11 1,16 1-80 1,308 1-207 1-155 1,255 1-166 1,36 1,34 1-38 1-23 1,41 1-57 1-21 1,57 1,92 1-78 1-158 1,207 1-49 1-169 1,111 1-8 1,132 1-249 1,191 1-18 1-124 1,38 1,98 1-171 1,212 1-11 1-46 1,29 1,5 1-193 1,126 1,9 1,10 1-129 1,25 1,111 1-63 1,89 1-4 1-75 1,129 1-112 1-137 1,105 1,112 1-110 1,101 1-64 1,309 1-174 1-94 1,138 1-89 1-19 1,157 1-158 1-64 1,106 1-150 1,34 1-26 1,46 1-45 1,22 1,113 1-131 1-23 1,10 1-108 1,164 1-32 1,56 1,70 1,41 1-196 1,200 1-44 1-83 1,47 1,16 1-90 1,106 1-114 1-113 1,105 1-39 1,56 1-71 1,77 1,82 1,9 1-112 1-72 1,68 1,59 1,51 1-31 1-51 1,150 1-84 1-61 1,232 1-208 1,96 1,14 1-18 1-115 1,76 1,69 1,32 1,2 1-12 1,16 1-88 1,17 1,38 1,7 1-132 1-67 1,348 1-164 1,1 1-112 1-16 1,56 1-93 1,164 1-129 1,19 1,18 1-79 1,87 1,88 1-75 1-35 1-73 1-73 1,118 1-145 1,128 1,11 1,18 1-128 1,29 1,115 1,21 1-14 1-13 1,36 1,27 1,144 1-291 1,26 1-12 1,162 1-100 1-123 1,180 1-31 1-77 1,58 1,59 1,65 1-75 1,50 1-1 1-141 1,18 1-81 1-4 1,98 1,14 1,44 1-61 1,83 1-85 1,113 1-210 1,141 1,25 1-50 1,121 1,11 1-69 1-24 1-25 1,28 1,146 1-275 1,211 1-167 1,98 1-177 1,156 1,184 1-209 1,62 1,37 1-80 1,18 1-83 1,6 1,22 1-18 1-1 1-59 1,77 1,21 1,6 1,12 1-210 1-68 1,265 1-64 1,107 1-73 1-132 1,131 1-73 1,10 1,160 1,150 1-86 1-178 1,172 1-193 1,8 1,29 1-100 1,52 1,3 1-8 1,98 1-37 1-16 1,33 1-128 1,12 1,300 1-98 1-56 1-48 1-152 1,144 1-130 1,33 1,179 1-111 1-89 1,56 1,77 1-120 1,277 1-188 1-244 1,356 1,6 1-72 1,37 1-35 1,336 1-247 1-37 1,62 1-149 1,7 1,78 1,118 1,135 1-379 1,369 1-262 1-9 1,104 1,225 1-302 1-103 1,151 1-158 1,216 1-132 1,128 1-13 1-105 1-93 1,142 1-154 1,76 1-63 1,218 1-256 1,63 1-43 1,119 1-95 1,70 1-94 1,108 1,161 1-263 1,72 1-280 1,200 1,41 1-10 1,122 1-65 1-129 1,78 1,27 1-133 1,10 1-24 1,75 1-98 1,2 1,224 1-149 1,145 1-90 1,32 1,64 1-119 1,90 1,138 1-106 1-134 1,84 1,31 1-105 1,35 1,56 1-27 1,74 1,55 1-177 1,76 1,77 1-188 1,51 1,110 1-106 1-47 1-82 1,62 1,10 1,16 1,39 1-4 1-87 1-62 1-77 1,224 1-192 1,82 1,176 1-110 1-86 1-13 1,29 1,72 1,80 1-16 1-261 1,226 1,116 1,119 1-250 1,31 1,63 1-101 1-61 1,41 1,9 1-79 1,61 1-18 1,125 1-127 1,35 1-14 1,234 1-139 1-172 1,241 1,87 1-123 1-104 1,58 1-43 1,47 1,16 1,100 1,5 1-107 1,3 1,55 1,45 1-252 1,89 1,109 1-144 1,64 1,40 1-53 1-34 1-47 1,90 1,0 1,11 1,160 1-91 1,74 1-88 1,17 1,103 1-165 1-20 1-166 1,298 1-150 1,176 1-213 1,195 1-117 1,85 1-150 1-59 1,162 1-97 1,36 1-8 1,149 1-81 1-60 1,73 1,121 1,17 1-215 1-32 1,53 1,13 1-52 1,80 1-227 1,81 1,81 1-29 1,77 1,59 1-87 1,40 1,37 1-90 1,30 1,26 1-59 1-45 1-98 1,84 1,127 1-6 1,3 1-88 1,25 1-31 1,10 1,137 1-236 1,249 1-93 1,51 1-32 1,35 1-52 1,57 1-114 1,167 1-141 1,143 1-99 1-43 1-59 1,280 1-262 1,91 1-77 1-120 1,68 1,210 1-240 1,106 1-21 1,8 1-25 1,56 1,171 1-127 1-72 1,27 1,51 1-134 1,122 1-136 1-30 1,26 1,48 1-67 1,58 1,28 1-12 1,83 1,9 1,143 1-140 1,24 1-185 1,308 1-170 1-76 1,18 1,33 1,60 1,108 1-259 1,137 1-19 1-113 1-5 1,66 1,45 1,38 1-37 1-80 1,107 1-142 1,25 1,46 1,33 1-125 1,64 1-16 1,4 1-39 1,3 1,109 1-21 1,80 1-136 1,100 1-76 1,39 1-46 1-60 1,56 1,35 1-61 1,49 1-39 1,192 1-157 1,89 1-55 1-1 1,1 1-123 1,84 1-19 1-265 1,216 1-31 1-18 1-46 1,124 1,105 1-161 1,117 1,55 1-215 1,162 1-37 1,21 1-49 1-114 1,125 1-59 1-9 1,49 1,72 1-67 1-176 1,123 1,145 1-108 1-26 1,43 1-57 1,263 1-208 1,186 1-28 1,36 1-87 1-53 1-69 1,52 1,312 1-201 1-111 1-31 1,227 1-198 1-130 1,303 1-154 1,240 1-222 1,125 1,17 1-161 1,185 1-123 1,133 1-21 1-74 1,5 1-57 1-25 1-263 1,252 1-21 1-63 1-97 1,17 1,125 1-53 1,47 1,50 1-6 1-56 1,72 1,62 1,8 1,15 1-194 1-72 1,298 1-156 1,11 1,88 1-107 1,167 1-106 1-127 1,85 1,68 1,47 1-36 1-119 1,144 1,147 1-107 1-56 1-70 1,18 1,14 1-21 1-111 1,129 1-82 1-3 1,20 1,22 1-99 1-25 1,295 1-92 1-83 1-4 1-13 1-34 1,74 1,51 1,18 1-53 1-34 1,120 1-2 1-203 1,124 1-77 1,305 1-133 1-111 1,25 1-150 1,214 1-167 1,101 1-176 1,155 1-7 1-31 1,53 1-12 1,59 1-93 1,77 1-92 1,109 1,77 1-120 1,11 1-39 1,67 1-27 1-66 1,49 1,35 1-53 1-41 1,98 1,3 1,3 1-129 1,148 1,49 1-88 1-36 1,37 1,71 1-5 1-65 1-37 1-45 1,96 1-132 1,59 1,54 1-77 1,173 1-129 1-131 1,52 1,72 1,7 1,62 1-165 1,55 1,13 1,41 1,114 1-108 1-160 1,132 1,18 1,43 1-59 1,16 1,314 1-280 1-19 1,102 1-36 1-50 1,91 1-51 1-123 1,46 1,243 1-123 1-81 1,92 1-40 1-98 1,68 1,23 1-27 1,75 1-47 1-134 1,127 1-2 1-17 1,178 1-171 1,66 1-55 1-78 1,43 1,54 1-77 1-199 1,169 1,81 1-26 1-73 1,72 1-5 1-112 1,72 1-27 1,10 1,34 1,34 1-174 1,166 1-6 1,53 1-85 1,21 1-89 1,102 1-46 1,3 1-69 1,111 1-61 1,119 1-173 1,111 1-171 1,130 1,72 1-3 1-31 1,2 1-7 1,57 1-71 1-125 1,55 1,101 1-126 1,36 1-152 1,141 1,102 1,66 1-130 1,20 1,5 1,39 1-104 1,34 1,102 1-34 1,8 1,238 1-310 1,3 1,12 1-62 1,92 1,8 1,1 1-86 1-40 1,91 1-39 1,46 1,56 1-41 1,50 1-66 1,99 1-68 1-196 1,185 1,120 1-26 1-73 1,38 1-24 1,7 1-82 1,72 1,44 1-8 1-78 1,34 1,113 1-76 1,122 1-107 1-100 1,45 1,72 1,20 1-120 1,60 1,24 1,164 1-336 1,107 1,39 1,25 1,103 1-54 1-179 1,79 1-10 1,38 1-78 1,311 1-272 1,71 1-124 1-46 1,95 1,4 1-51 1,18 1,21 1,11 1,199 1-177 1-113 1,66 1,17 1,164 1-86 1,32 1,94 1-250 1,129 1,67 1-216 1,99 1-21 1,71 1,103 1-124 1,3 1-45 1,146 1-212 1,99 1-116 1,50 1-109 1-25 1,63 1,117 1-63 1,87 1-50 1,73 1,12 1-15 1,2 1-58 1-63 1,87 1,32 1-176 1,148 1,30 1-48 1,24 1-48 1,60 1,72 1-73 1,99 1-98 1-25 1,0 1,45 1-59 1,37 1-6 1,16 1-19 1-78 1,144 1-64 1-68 1,112 1-79 1,188 1-219 1-63 1,221 1-176 1-19 1,64 1-105 1,125 1,40 1,25 1,73 1-140 1,111 1-4 1-36 1,5 1-96 1,85 1-70 1,85 1-24 1,51 1-113 1,107 1-147 1,163 1-45 1-47 1,30 1,23 1,11 1-108 1,71 1,77 1-114 1,102 1-95 1,114 1-13 1-23 1,3 1-99 1,117 1-41 1,49 1,1 1-99 1-1 1,51 1,84 1-66 1,9 1-103 1,142 1,122 1-187 1,28 1-91 1-85 1,137 1-79 1,68 1,78 1-24 1-50 1,12 1,87 1-192 1,158 1,48 1-172 1,27 1-56 1-29 1,51 1,95 1-145 1,160 1,21 1-238 1,52 1,124 1,73 1-92 1,165 1-171 1-28 1,157 1-63 1,11 1,30 1,28 1-112 1,54 1,91 1-107 1-19 1,16 1-112 1,95 1-85 1,77 1-160 1,145 1-48 1,175 1-201 1,106 1-10 1,89 1-94 1-4 1-116 1,122 1-37 1,47 1-33 1,64 1-39 1-31 1-44 1-2 1,107 1-70 1-51 1,136 1-140 1-13 1,46 1-28 1-60 1,81 1,77 1-237 1,8 1,138 1-16 1,133 1-23 1-83 1-4 1,47 1-82 1,82 1,6 1-7 1,66 1-48 1,65 1-55 1-102 1,58 1,26 1-76 1-63 1,294 1-150 1,55 1-42 1-73 1,43 1,59 1-126 1-67 1,161 1-135 1,29 1,8 1,70 1,56 1-39 1-60 1-23 1,65 1,53 1-29 1,14 1-54 1-14 1-20 1-23 1,195 1-72 1-28 1-32 1,90 1-40 1-126 1,49 1,48 1,4 1,53 1-183 1,64 1-46 1-32 1,37 1,28 1-73 1,5 1-80 1,225 1-39 1-111 1,125 1-351 1,217 1-82 1,56 1,8 1,90 1-96 1-29 1,47 1-24 1,162 1-15 1,3 1-49 1-13 1,22 1,31 1-55 1,74 1-147 1,31 1,311 1-245 1,111 1-46 1-8 1-182 1,136 1,55 1-63 1-50 1-2 1,96 1-87 1,27 1-234 1,314 1-134 1,91 1-103 1,30 1,63 1-35 1-84 1,189 1-124 1-71 1,14 1,70 1-133 1,150 1-11 1-11 1,26 1-87 1,20 1,50 1,42 1,195 1-302 1-209 1,84 1,369 1-277 1-30 1,126 1-176 1-206 1,194 1,134 1-81 1,125 1-145 1,43 1-92 1,38 1-112 1,103 1-67 1,132 1-29 1-36 1,64 1-21 1-64 1,12 1-3 1-285 1,118 1,162 1,26 1-74 1,13 1,33 1,29 1,94 1-176 1,172 1,53 1-130 1,39 1-175 1,236 1-83 1,13 1,114 1-265 1,128 1,114 1-82 1,6 1,63 1-144 1,30 1-52 1,71 1-9 1-34 1-8 1-100 1-2 1,82 1-50 1,46 1-1 1-129 1,201 1-137 1-6 1,80 1,184 1-219 1,5 1,79 1,6 1-10 1-11 1-43 1-91 1,148 1-4 1-75 1,64 1,141 1-69 1-154 1,106 1,76 1-135 1,24 1-125 1,69 1-45 1-35 1,45 1,90 1-62 1,123 1-48 1-145 1,136 1-81 1,43 1,71 1-2 1,4 1-23 1,8 1-99 1,193 1,14 1-136 1,53 1-171 1,106 1-187 1,215 1,108 1-126 1,114 1-77 1,101 1-45 1-67 1,19 1,43 1-142 1,189 1-62 1-26 1,40 1-66 1-184 1,136 1,128 1,32 1-131 1,33 1,54 1-43 1,82 1,34 1-298 1,27 1,185 1-25 1-109 1,120 1-103 1,94 1,42 1-163 1,30 1-93 1-70 1,134 1,11 1-32 1,6 1,28 1,43 1-73 1,153 1-185 1,84 1,77 1,93 1-86 1-3 1,92 1,47 1-183 1,101 1-27 1-18 1-36 1,181 1-295 1,358 1-199 1,54 1-38 1-213 1,179 1-87 1,130 1-240 1,91 1-7 1,17 1,15 1,27 1,28 1,53 1-32 1,15 1-78 1-140 1,132 1,63 1-83 1-1 1-41 1-65 1,51 1,83 1-99 1-143 1,302 1-80 1,31 1-113 1,115 1,100 1-143 1,71 1,33 1-6 1,80 1-56 1,4 1-59 1,1 1,102 1,61 1-85 1-131 1,36 1,169 1-124 1-8 1,14 1-30 1-35 1,99 1-150 1,223 1-185 1,87 1,13 1-120 1,228 1-272 1-113 1,187 1,46 1-16 1-84 1,7 1,180 1-79 1,36 1-20 1-162 1,179 1-43 1-173 1-51 1,257 1-5 1,145 1-164 1-26 1-22 1,81 1-96 1-56 1-69 1,62 1,85 1-29 1-105 1,227 1-246 1-15 1,107 1,31 1-129 1,130 1-249 1,209 1-111 1,120 1,28 1,20 1,35 1,140 1-194 1,81 1-80 1,43 1-72 1-19 1-70 1,98 1,38 1-77 1,51 1,1 1-50 1-175 1,185 1,40 1-7 1,53 1-113 1-22 1,391 1-337 1,54 1,89 1-59 1,24 1-92 1-28 1,37 1,148 1-85 1,103 1-109 1-17 1-73 1,91 1-89 1,59 1-74 1,186 1,29 1-129 1,77 1,23 1-244 1,202 1-211 1,81 1,199 1-11 1-16 1,27 1-53 1-18 1-99 1,132 1-222 1,112 1,43 1-23 1-31 1-12 1,23 1-10 1-8 1,55 1-33 1,144 1-189 1,134 1-161 1,183 1-102 1-107 1,146 1,56 1-186 1,121 1-184 1,129 1-74 1,113 1-143 1,117 1,1 1-35 1,8 1,197 1,58 1-335 1,220 1-45 1-72 1-32 1,34 1,174 1-255 1,21 1-3 1,20 1,108 1,9 1-89 1,29 1-2 1,13 1,14 1,10 1-30 1-12 1-14 1-5 1-58 1,9 1,18 1,69 1-11 1-18 1-210 1,87 1,117 1-117 1-46 1,112 1-136 1,199 1-261 1,117 1,101 1-45 1,36 1,54 1-73 1-64 1,203 1-59 1-72 1-85 1,155 1-125 1,234 1,14 1-135 1-80 1,6 1,60 1-21 1,33 1-95 1,0 1,8 1,20 1,5 1,4 1,24 1-104 1,119 1-42 1-96 1,145 1-93 1,51 1,40 1,162 1-191 1,82 1-17 1,196 1-181 1,107 1-107 1,66 1-25 1,27 1-50 1,71 1-165 1,19 1-67 1,288 1-157 1,97 1,25 1-62 1-13 1-19 1-15 1,238 1-133 1-5 1,13 1,209 1-84 1-43 1-125 1,7 1,57 1-73 1,82 1-112 1,283 1-255 1,7 1,8 1-2 1,40 1-46 1-127 1,85 1,89 1-144 1,15 1,162 1-118 1,13 1,79 1-117 1,77 1,44 1,24 1,123 1-96 1,20 1-100 1,65 1-74 1,48 1-119 1-25 1,158 1,2 1,17 1-5 1,2 1-182 1,103 1,56 1,14 1-1 1-38 1,40 1-32 1-96 1,115 1-14 1,69 1-84 1-69 1-86 1,172 1-23 1,10 1,0 1-90 1,35 1,132 1-66 1-108 1,56 1-51 1,2 1-174 1,193 1-47 1-8 1-9 1,94 1,61 1-73 1-44 1-33 1,316 1-175 1,7 1-152 1,157 1,14 1-53 1,0 1-69 1,67 1-149 1,116 1-84 1,47 1,63 1-95 1,60 1-20 1-59 1-31 1-41 1,181 1-37 1-17 1,22 1,8 1,117 1-85 1,137 1-116 1,70 1-45 1-15 1-87 1,54 1-71 1,244 1-151 1-37 1-25 1-4 1-13 1-30 1,63 1-82 1,68 1,61 1-69 1,50 1,155 1-286 1,12 1,168 1-115 1,103 1-30 1,25 1,66 1-103 1-120 1,51 1-208 1,259 1,15 1,44 1-288 1,279 1-97 1,113 1-83 1-36 1-9 1,30 1-59 1,19 1,91 1,18 1-52 1,24 1-158 1,175 1-29 1,7 1-72 1-18 1,187 1,8 1-107 1,38 1-100 1,110 1-112 1-82 1,225 1-128 1-75 1,159 1-35 1-89 1,63 1,59 1-231 1,214 1-31 1,65 1,32 1-83 1,35 1,55 1-120 1,85 1,7 1-62 1-36 1,8 1,63 1-34 1-75 1,61 1-31 1-6 1,97 1,120 1-214 1,4 1,27 1-134 1,64 1,92 1-42 1,39 1,9 1,21 1,15 1,59 1-52 1-3 1-1 1,3 1,83 1-190 1,64 1-41 1-3 1-59 1,88 1-82 1-64 1,41 1,219 1-126 1-96 1,83 1-62 1,72 1-21 1,56 1-31 1,31 1,2 1,73 1-15 1-51 1,19 1-15 1-85 1,79 1-25 1-47 1,53 1,222 1-233 1-92 1,64 1,70 1-37 1-164 1,44 1,92 1,53 1-36 1-4 1,29 1-214 1,90 1-71 1,20 1,170 1,16 1-101 1-19 1,95 1-123 1,177 1-76 1-78 1,32 1,20 1,25 1-29 1-34 1,55 1-30 1,13 1,112 1-97 1,137 1-167 1,6 1-21 1,35 1-32 1,55 1,41 1,35 1,101 1-169 1-9 1-101 1,185 1-78 1,127 1-125 1,110 1-74 1-71 1,26 1,142 1-197 1,150 1-99 1-65 1,126 1,9 1,15 1-23 1,107 1-33 1-149 1-120 1,187 1,1 1,13 1-133 1,36 1,67 1,22 1-114 1-2 1,48 1,18 1-7 1-36 1,26 1,122 1-167 1,231 1-116 1-143 1-17 1,91 1,49 1,107 1-224 1,166 1-16 1-41 1-138 1,103 1,47 1-8 1-66 1-9 1,46 1-93 1,117 1-1 1-108 1,220 1-94 1-62 1-41 1-49 1,205 1-143 1-96 1,103 1,56 1,84 1-24 1-111 1,30 1-196 1,120 1,90 1,74 1,51 1-219 1,67 1-1 1,169 1-120 1,36 1-58 1,46 1-41 1-9 1,105 1-247 1,19 1,97 1-158 1,138 1-20 1,110 1,44 1-180 1,171 1-102 1,76 1-146 1,199 1,8 1-29 1-115 1,72 1-93 1,260 1-280 1,48 1-52 1,38 1-73 1,79 1-31 1,19 1,105 1-107 1,58 1-100 1,99 1-143 1,65 1,227 1-194 1,62 1-131 1,141 1-162 1,27 1,137 1-160 1,47 1,17 1,20 1,53 1-150 1,135 1-70 1,143 1-142 1,267 1-252 1-24 1,47 1-94 1,30 1,18 1-15 1,145 1-77 1-144 1,26 1,116 1-101 1-1 1,121 1-34 1,111 1-156 1,155 1-213 1,215 1-224 1,102 1,69 1-110 1,40 1,2 1-214 1-69 1,222 1,167 1-170 1,85 1-135 1,127 1-102 1,50 1,80 1-76 1,150 1-92 1-60 1,19 1,14 1-50 1,90 1-33 1,86 1-50 1-48 1,33 1,0 1-39 1,50 1,43 1,1 1-160 1,134 1,61 1,16 1-124 1,122 1-9 1-23 1-109 1,90 1-89 1,21 1,21 1,64 1-225 1,163 1-67 1-51 1,66 1-107 1,179 1-80 1-17 1,90 1-85 1,32 1,38 1-68 1,86 1,45 1-149 1-63 1,78 1-1 1-138 1,281 1-265 1,218 1,48 1-170 1,271 1-229 1-49 1-11 1,319 1-207 1-22 1,42 1-123 1,200 1,20 1-53 1-176 1,371 1-277 1,114 1-98 1,140 1,45 1-79 1-6 1,16 1-80 1,30 1,183 1-46 1-76 1-23 1,138 1-234 1,160 1-87 1,54 1-132 1-43 1,139 1,25 1-45 1,191 1-156 1,76 1-44 1,167 1-137 1-87 1,55 1-92 1,11 1,73 1-2 1-22 1-234 1,213 1,210 1-84 1-142 1,102 1,153 1-38 1-281 1,67 1,28 1-34 1,50 1-16 1-40 1,108 1-45 1-89 1,100 1-85 1,127 1,0 1-91 1,105 1-122 1,83 1,7 1,44 1-97 1,44 1,59 1,132 1-185 1-13 1,110 1-40 1-12 1-89 1-146 1,200 1-54 1,12 1-3 1-37 1,18 1,3 1-21 1,68 1,22 1,33 1,117 1-131 1-58 1-65 1-70 1,114 1,33 1,26 1,115 1-38 1-81 1,15 1-5 1-7 1-26 1-23 1,5 1-21 1-109 1,99 1-50 1,44 1-27 1,41 1,138 1-96 1,97 1-55 1-153 1,168 1,43 1-85 1,124 1-137 1-46 1,223 1-133 1-16 1-80 1,89 1-38 1,25 1-96 1-53 1,54 1-128 1,176 1-16 1,22 1,3 1-26 1,46 1,3 1-60 1,63 1-17 1-23 1,30 1-133 1,142 1,64 1-160 1-49 1,39 1,91 1,8 1-3 1-61 1,39 1-8 1,76 1-110 1,85 1-136 1,96 1-110 1-7 1,102 1-33 1-172 1,279 1-4 1-20 1-25 1,10 1,109 1-46 1,55 1-110 1-6 1,211 1-129 1-51 1-129 1,130 1-90 1,45 1-188 1,39 1,178 1-37 1-31 1-190 1,138 1,291 1-188 1-11 1,13 1-133 1,63 1,42 1,85 1,117 1-232 1,22 1,6 1,168 1-92 1,6 1,21 1-99 1-32 1,76 1-76 1,56 1,20 1,108 1-120 1,28 1,5 1,11 1,14 1-41 1-75 1-84 1,25 1,196 1-97 1-31 1,63 1-107 1,90 1,175 1-56 1-102 1,33 1-120 1,147 1,0 1-145 1,87 1-63 1-72 1,195 1-142 1,58 1,3 1,55 1-59 1-163 1,115 1,91 1-167 1,145 1,17 1,8 1,45 1-64 1-14 1,73 1,67 1-136 1-21 1,43 1,34 1-52 1,137 1-100 1-132 1,147 1,38 1-199 1,111 1,15 1-144 1,64 1,117 1,8 1-108 1-1 1,158 1-85 1-66 1,62 1-144 1,248 1-131 1-32 1,46 1-24 1-114 1,154 1,42 1-7 1,24 1-79 1,120 1-34 1-71 1-15 1,92 1-115 1-47 1,320 1-454 1,225 1,30 1-57 1-4 1,52 1-39 1,67 1-56 1,51 1-148 1,78 1,22 1,10 1-194 1,124 1,85 1-28 1,56 1-50 1,105 1,12 1,37 1-192 1,135 1-131 1,136 1-18 1-86 1,172 1-58 1-36 1,44 1-152 1,203 1-155 1,47 1,221 1-212 1-77 1,47 1-54 1,48 1,52 1-222 1,272 1-59 1-85 1,77 1,64 1-11 1-52 1,108 1-37 1-5 1-2 1-59 1,43 1-32 1,139 1-122 1,48 1-73 1,31 1-195 1,99 1,93 1-171 1-102 1,41 1-35 1,64 1-26 1,3 1-44 1,0 1,16 1,94 1-85 1-79 1-74 1,91 1-19 1,103 1-38 1-26 1-54 1-25 1,84 1-180 1,114 1,91 1-99 1,87 1-10 1-2 1-167 1,123 1-77 1,53 1,101 1,115 1-226 1,53 1-199 1,173 1-130 1,75 1,75 1-41 1,107 1-46 1,3 1,26 1,47 1-29 1-206 1-106 1,307 1-134 1,90 1-171 1,73 1,10 1,94 1,21 1-168 1,39 1,107 1-192 1,149 1-84 1,102 1-29 1,110 1-46 1,59 1-87 1,19 1-6 1-60 1,101 1,3 1,59 1-171 1,7 1,33 1-23 1,22 1,43 1,1 1-25 1,75 1-65 1,67 1,30 1-189 1,77 1,3 1,78 1,61 1-117 1,137 1-179 1-60 1,114 1,3 1-66 1-15 1,81 1,63 1-151 1,113 1,87 1-59 1,27 1-77 1,41 1,24 1-99 1,130 1,19 1-204 1,143 1,50 1-183 1,108 1,4 1,24 1,30 1-77 1-134 1,179 1-73 1,46 1,16 1,8 1-48 1-47 1,25 1,10 1,15 1,74 1-134 1,133 1-30 1,9 1-98 1,10 1-64 1-63 1-18 1,209 1,22 1,10 1-84 1-164 1,170 1-9 1,64 1-70 1,164 1-197 1,57 1,101 1,22 1-81 1-70 1-83 1,147 1-7 1-53 1-19 1,29 1,36 1-105 1,38 1-67 1,93 1-101 1,159 1-109 1-50 1-50 1,93 1,63 1,33 1-130 1,129 1-99 1,131 1,4 1-6 1,29 1-35 1-4 1,95 1-157 1,16 1,88 1,5 1-15 1-95 1-17 1,23 1,61 1-62 1,113 1-136 1,91 1-65 1-25 1,31 1,113 1-79 1,80 1-44 1-79 1,163 1,28 1-100 1,173 1-48 1-167 1,105 1-40 1,3 1-34 1-28 1,64 1,20 1-28 1,38 1-14 1-86 1,100 1-24 1-3 1-105 1,59 1-68 1,49 1-14 1-21 1-4 1,33 1,9 1-104 1,99 1,18 1-68 1-96 1,66 1,154 1-51 1-26 1-61 1,93 1,7 1,23 1,16 1-58 1,33 1,1 1,70 1-117 1,64 1-6 1-36 1-16 1-130 1,127 1,43 1-106 1,62 1-90 1,67 1,68 1-3 1-42 1-111 1,95 1,30 1,16 1,33 1-156 1,135 1,15 1-36 1-60 1,94 1-12 1,10 1-99 1,148 1,22 1-85 1-138 1,131 1,8 1,29 1,10 1-42 1,19 1,132 1-146 1,35 1-40 1,65 1-23 1-103 1,90 1-106 1,57 1,28 1,62 1-54 1-10 1,50 1,7 1,55 1-117 1,6 1-27 1-7 1,47 1-12 1,66 1,14 1-95 1,27 1-6 1,17 1-26 1,32 1-29 1,9 1,21 1,17 1-54 1-21 1,88 1,39 1-61 1-11 1,7 1-61 1,3 1,13 1,45 1-66 1-31 1,106 1-100 1,50 1,62 1,71 1-43 1-96 1-10 1,26 1,63 1-68 1,11 1,1 1,33 1-67 1,31 1,34 1,70 1-50 1-152 1,196 1-59 1-33 1,14 1-82 1,106 1,14 1-148 1,144 1-63 1-28 1,109 1-58 1,18 1-8 1,28 1-45 1,84 1-36 1-69 1-3 1,21 1,29 1-109 1,69 1-52 1,64 1,65 1-78 1,4 1-102 1-6 1,65 1,26 1-55 1,24 1-37 1,39 1-27 1,71 1,23 1-61 1,5 1,33 1-197 1,144 1,103 1,33 1-128 1,8 1,57 1-4 1-59 1,10 1,36 1-11 1-80 1,81 1,15 1-55 1,74 1-55 1,26 1-59 1-67 1,82 1-41 1,57 1,17 1,15 1,110 1-60 1-27 1,29 1-35 1-66 1,26 1-143 1,130 1,139 1-169 1-52 1,76 1,21 1,13 1-84 1,56 1-18 1,59 1,84 1-126 1-20 1,46 1-83 1,14 1,60 1-55 1,36 1-52 1,59 1,7 1,104 1-6 1-78 1-70 1,127 1,21 1-44 1,26 1-108 1,85 1,13 1-70 1-84 1,55 1-8 1,86 1-191 1,138 1,6 1,0 1-41 1,27 1-12 1,98 1-30 1-37 1,51 1-70 1,49 1,4 1-64 1,36 1,35 1-114 1,132 1,15 1-86 1,46 1-40 1-40 1,16 1-11 1-117 1,191 1,6 1-49 1,93 1-95 1,97 1-78 1,15 1,3 1,50 1-4 1-34 1-6 1-12 1-73 1,48 1,30 1,27 1,57 1-139 1,68 1,14 1-137 1,72 1,1 1,74 1,22 1-97 1-44 1-81 1,93 1-74 1,48 1,40 1-82 1,31 1,127 1-114 1,40 1-4 1-23 1,10 1,101 1-201 1,83 1,46 1,22 1,67 1-138 1,67 1,49 1,36 1-208 1,40 1,48 1-56 1,42 1,145 1-133 1,46 1,58 1-119 1-60 1,177 1-39 1-56 1,74 1-50 1-30 1,70 1,34 1-52 1,21 1-55 1,117 1-129 1,52 1,41 1-6 1-26 1-129 1,106 1,25 1,17 1-44 1,2 1,51 1-89 1,73 1,24 1-117 1,55 1,113 1-68 1,150 1,26 1-271 1,27 1-14 1,19 1-76 1,191 1-50 1-18 1-46 1,13 1,57 1,6 1-40 1-82 1,66 1,48 1,6 1-55 1,76 1-94 1,30 1-22 1-19 1-61 1,122 1-59 1,120 1-64 1-90 1,12 1,69 1,49 1-127 1,118 1-49 1,37 1,24 1-76 1,137 1-71 1-25 1-50 1-10 1,47 1,87 1-101 1-136 1,206 1-102 1,2 1,67 1-90 1,78 1,10 1-54 1,16 1,17 1,201 1-143 1-90 1,104 1-68 1-5 1-167 1,131 1,41 1-28 1-25 1,16 1,65 1-32 1-69 1,221 1-215 1,88 1-76 1-41 1,68 1-20 1,36 1,95 1-65 1-89 1,67 1-7 1-113 1,135 1,70 1-10 1-47 1-11 1-78 1-47 1,83 1,67 1-141 1,107 1-5 1-7 1,53 1,40 1-152 1,27 1,34 1-51 1,19 1,27 1-46 1,57 1-2 1-22 1,91 1-26 1-159 1,60 1-3 1,31 1,24 1,191 1-223 1,100 1-19 1-130 1,85 1,14 1,120 1-76 1-19 1-9 1-84 1,90 1-16 1,10 1-35 1,58 1-19 1-22 1-31 1,149 1-110 1-36 1-7 1,5 1-152 1,289 1-112 1-25 1-36 1-59 1,134 1-69 1,79 1-58 1-8 1,24 1,30 1-186 1,292 1-91 1-9 1-21 1,1 1,103 1-152 1,52 1,36 1-50 1-28 1,4 1,127 1-127 1-11 1,53 1-99 1,29 1,16 1-18 1,54 1,69 1-9 1-42 1-31 1,121 1-153 1-41 1,33 1,4 1,23 1-42 1,94 1-214 1,240 1-194 1,164 1-54 1-36 1,59 1-96 1-14 1,136 1-29 1-91 1,22 1-53 1,88 1,8 1-75 1,69 1-79 1,67 1,50 1-92 1-18 1-13 1,35 1,13 1,60 1-153 1,89 1-77 1,133 1-74 1,93 1,52 1-39 1-77 1-58 1,76 1-53 1,86 1-129 1,52 1,162 1-54 1-66 1-9 1-17 1-8 1,56 1,1 1-15 1,75 1-284 1,178 1,39 1-78 1,193 1-164 1-19 1-60 1,147 1-189 1,153 1,2 1-44 1-36 1,62 1,17 1,41 1-51 1,77 1-110 1,41 1-34 1,41 1,19 1-52 1,22 1,135 1,14 1-100 1,22 1,13 1,9 1-89 1-67 1,172 1-182 1,65 1,19 1-62 1,93 1-7 1-11 1-68 1,46 1,120 1-25 1-121 1,68 1,39 1-84 1,64 1-50 1,70 1-56 1,33 1,43 1-104 1,60 1,60 1-53 1-19 1,40 1,98 1-133 1,52 1-120 1-6 1,231 1-151 1,35 1-14 1-46 1,37 1,30 1-19 1-1 1-13 1,41 1-79 1,68 1-57 1,22 1-4 1-4 1-45 1,60 1-63 1,79 1-3 1-92 1,25 1,72 1-70 1,77 1-63 1-49 1,57 1-37 1,103 1-55 1-25 1-16 1,83 1-26 1,2 1,14 1-24 1,90 1-36 1-3 1-53 1,19 1,21 1,56 1-104 1,59 1-25 1-183 1,244 1-70 1-68 1,116 1-85 1-73 1,104 1,9 1-18 1,46 1,100 1-168 1,120 1-108 1-32 1-46 1,99 1-107 1,85 1,11 1,21 1-43 1-17 1,37 1-20 1-8 1-4 1,9 1-44 1,80 1-15 1-76 1,67 1-71 1,64 1,6 1,56 1,14 1-82 1-39 1,74 1-32 1,79 1-20 1-10 1-107 1,213 1,64 1-169 1,3 1-130 1,42 1,95 1-70 1-67 1-126 1,160 1,41 1,161 1-178 1,45 1,62 1,49 1-70 1,18 1-67 1,104 1-37 1-71 1,2 1,88 1-57 1-47 1-9 1,58 1-34 1-7 1,51 1,64 1-15 1-189 1,33 1,63 1,28 1-70 1-50 1,59 1,143 1-110 1-54 1,36 1-9 1,36 1-40 1,11 1,1 1,111 1-115 1,94 1-83 1-53 1,96 1-29 1-12 1-42 1-56 1,64 1,22 1-49 1-38 1,63 1,25 1,61 1-30 1-83 1,71 1-43 1-29 1,11 1,10 1-25 1,96 1-68 1,68 1-87 1,122 1-84 1-58 1-54 1,53 1,43 1,75 1-26 1,30 1,125 1-183 1,49 1-63 1,49 1,27 1-74 1,8 1,88 1,32 1-173 1,62 1-109 1,82 1,81 1,70 1-76 1-28 1-73 1,95 1-113 1,45 1-36 1-53 1,176 1-118 1,80 1-23 1,23 1-122 1,158 1-86 1,42 1,4 1-10 1,127 1-101 1,38 1-21 1,8 1-74 1,140 1-61 1,50 1-74 1,78 1-28 1-26 1,11 1-166 1,246 1-86 1-82 1-22 1,99 1-58 1,55 1-66 1,49 1-30 1,33 1,18 1,68 1-133 1,127 1-58 1-71 1-16 1,69 1,71 1-87 1-132 1,102 1,21 1-45 1-16 1,110 1-159 1,115 1-49 1,53 1-57 1-106 1-89 1,221 1-26 1,136 1-163 1,135 1-141 1,24 1,98 1-116 1,27 1,71 1-117 1-73 1,37 1-66 1,61 1,80 1-85 1,217 1-138 1-111 1,171 1-100 1-15 1-58 1,205 1-90 1-47 1,40 1,74 1-62 1,3 1,59 1-57 1,39 1,36 1-117 1,148 1-75 1-6 1-27 1,28 1,27 1,38 1,24 1-50 1-21 1,46 1-194 1,108 1-67 1,33 1-14 1,36 1,26 1-50 1,63 1,57 1-230 1,219 1,82 1-111 1,48 1,20 1-101 1,87 1-9 1-54 1-33 1,87 1-27 1,5 1-100 1,135 1-69 1,43 1,51 1-125 1,154 1-167 1,128 1,11 1-49 1,25 1-70 1,33 1,15 1,27 1,50 1-59 1-68 1-17 1,48 1-37 1,23 1,35 1,103 1-130 1,82 1-145 1,98 1-95 1,33 1,70 1-79 1-94 1,204 1-228 1,110 1-94 1,63 1,55 1,16 1-59 1-15 1,105 1-55 1,15 1-23 1,17 1,102 1,123 1-177 1-20 1,15 1,53 1,60 1-99 1-29 1-18 1-45 1,34 1-44 1-8 1,134 1,30 1-99 1,66 1,75 1-125 1,96 1,6 1-123 1,1 1,31 1,2 1,14 1-2 1-13 1,112 1-60 1-53 1-43 1-17 1,54 1,28 1-30 1-23 1-8 1,167 1-33 1-96 1-21 1,170 1-211 1,11 1,11 1,129 1-164 1,103 1-5 1-41 1,109 1-194 1,162 1,107 1-159 1-3 1-9 1,24 1-31 1-1 1,20 1-175 1,87 1-44 1,118 1-40 1,125 1-7 1-85 1,22 1-22 1-1 1-62 1,5 1,99 1-51 1-20 1,86 1-235 1,168 1-7 1-25 1,27 1,9 1-19 1-48 1,41 1-14 1,124 1-247 1,31 1-28 1,102 1-15 1,107 1,108 1-324 1,143 1-5 1-111 1,94 1-110 1,75 1,23 1-74 1,119 1-55 1,98 1-49 1,58 1-33 1,25 1-2 1-62 1,31 1-111 1,101 1,10 1,52 1-100 1,108 1,113 1-156 1,14 1-23 1,28 1-48 1,7 1-3 1-90 1,236 1-64 1-113 1-17 1,15 1-18 1-33 1-43 1,63 1,100 1,38 1-92 1,24 1-4 1-39 1,33 1,78 1,89 1-35 1,79 1-151 1,73 1-126 1,99 1-119 1,148 1-58 1-73 1,53 1-37 1,28 1,31 1-89 1,114 1-133 1,93 1,4 1,8 1-12 1,163 1-115 1-103 1,165 1-45 1-33 1,5 1-1 1,22 1,67 1-46 1,119 1-65 1-71 1,22 1-4 1-47 1-69 1-147 1,240 1-137 1,99 1,0 1-17 1,105 1-5 1-108 1,48 1-191 1,153 1-66 1-44 1,216 1,113 1-238 1,52 1-44 1,11 1-24 1,95 1-66 1,56 1,216 1-269 1,38 1-118 1,75 1-28 1-34 1-57 1,116 1,1 1,8 1,34 1-65 1-103 1,149 1-55 1-5 1-86 1,108 1-83 1,29 1-1 1,0 1-31 1,15 1-92 1,62 1-9 1,44 1,14 1,160 1-157 1-68 1,80 1-64 1-25 1,78 1,78 1-121 1-41 1-69 1,205 1-224 1,171 1-92 1,92 1-77 1,71 1,54 1-86 1-14 1,132 1-210 1,76 1-160 1,200 1-224 1,171 1,77 1-98 1,46 1,2 1,15 1-27 1,61 1,106 1-243 1,93 1-22 1,120 1-159 1,50 1,11 1,36 1-21 1,92 1-88 1,20 1-98 1,67 1,83 1-114 1,89 1-87 1,26 1,41 1-1 1,62 1,0 1-33 1-91 1,59 1-109 1,37 1,21 1-47 1,111 1-169 1,64 1,54 1-56 1,7 1,117 1,7 1-95 1,23 1,35 1-130 1-116 1,133 1,120 1-100 1,18 1-113 1,94 1,44 1-73 1,4 1,13 1-3 1-5 1,88 1-67 1,111 1,86 1-118 1,56 1,69 1,10 1-149 1-147 1,135 1-189 1,149 1,30 1,7 1-31 1,137 1,79 1-130 1-82 1,44 1,3 1-40 1,137 1-31 1-9 1,68 1-28 1-255 1,239 1-110 1-53 1,94 1,42 1-112 1,34 1,51 1-27 1-22 1,63 1-148 1,258 1-178 1,142 1-137 1,32 1,7 1,10 1-65 1,66 1-23 1,83 1-239 1,108 1,121 1-106 1,31 1,21 1-67 1-10 1,60 1-2 1,57 1-70 1-64 1-8 1-99 1,163 1,11 1-14 1-136 1,85 1-63 1,26 1-42 1,119 1-46 1,78 1-25 1-109 1,75 1-32 1,55 1-15 1,51 1,55 1,3 1-40 1,42 1-146 1,204 1-130 1-171 1,157 1,40 1-28 1,4 1-108 1-6 1,48 1,31 1-2 1,145 1-72 1-78 1-66 1,111 1,25 1-76 1,109 1-34 1-109 1,115 1-52 1-212 1,147 1-110 1,183 1,35 1-58 1,48 1-98 1,21 1,16 1-64 1-70 1-36 1,97 1,57 1,102 1-76 1-18 1,120 1-23 1-30 1-172 1,154 1,11 1-10 1-131 1,176 1,77 1-128 1,6 1,1 1,74 1-111 1-61 1,66 1,28 1,45 1-35 1,206 1-189 1-31 1-55 1,19 1,39 1-115 1,85 1,60 1-73 1,63 1-4 1-69 1,74 1-44 1,30 1-18 1-148 1,211 1-27 1,28 1,12 1-50 1-24 1-73 1-18 1,158 1-106 1-45 1-18 1,25 1,82 1-108 1,149 1,12 1-127 1,26 1-61 1,128 1-68 1,194 1-79 1,76 1,72 1-152 1-36 1-27 1-48 1,19 1,136 1-84 1-49 1,3 1,159 1-158 1-68 1,109 1-68 1,73 1-12 1,41 1,30 1-89 1-24 1,64 1-85 1,145 1-97 1,33 1-17 1,46 1-82 1,63 1-25 1,144 1-144 1-101 1,61 1,147 1-71 1,57 1-125 1-36 1,67 1-46 1,82 1,106 1-162 1,3 1,57 1-96 1,25 1,122 1-107 1-32 1-57 1,170 1-7 1-20 1-10 1-44 1-22 1-6 1,23 1-1 1-56 1-18 1,6 1,87 1-146 1,63 1-86 1,73 1,7 1-99 1,47 1-18 1,96 1,59 1-100 1-37 1,159 1-85 1-77 1,104 1-57 1,129 1-206 1,170 1-79 1,14 1,9 1-34 1,85 1-55 1,60 1-25 1,31 1-78 1,90 1-28 1,35 1-16 1-101 1-72 1,87 1,0 1,214 1-259 1,121 1-40 1-63 1,104 1-51 1,55 1-72 1-43 1,64 1,87 1-52 1-6 1,68 1-37 1-42 1,43 1-21 1-55 1,162 1-146 1-50 1,110 1-191 1,100 1,169 1-45 1-38 1-92 1,143 1-89 1-31 1,47 1-151 1,40 1,93 1-56 1,84 1-94 1-8 1,19 1,30 1,8 1-1 1,64 1,70 1-149 1-2 1,109 1,45 1-137 1,72 1,89 1-71 1,15 1-97 1-86 1,39 1-65 1,217 1-70 1,13 1-61 1-20 1,127 1-204 1,72 1,44 1-58 1,19 1-18 1,106 1-39 1,18 1-52"/>
</g>
<g>
<path transform="matrix(0.119780,0,0,0.1,72.40,0)" vector-effect="non-scaling-stroke" fill="none" stroke="#000000" stroke-width="1.70" stroke-linejoin="bevel" d="M0,7961l1,93 1,13 1-65 1-2 1-4 1,45 1,48 1-5 1-107 1,89 1,25 1-122 1,143 1-73 1,0 1-55 1,59 1-43 1,10 1,159 1-85 1-54 1,103 1-173 1,47 1-111 1-25 1,97 1-19 1,64 1-152 1,97 1,76 1-64 1-140 1,49 1-167 1,167 1,44 1,19 1-89 1,168 1-80 1,49 1,25 1-6 1-125 1,32 1,90 1-12 1-54 1,42 1,45 1-113 1,3 1,75 1-133 1,92 1,16 1-44 1,71 1-105 1,11 1-9 1,57 1,9 1-89 1-112 1,104 1,5 1,46 1-62 1-29 1,165 1-106 1,170 1-169 1-4 1-52 1,43 1,37 1-74 1,100 1-1 1-74 1,112 1-46 1-8 1,9 1-73 1,134 1-115 1,154 1-187 1,108 1-56 1,0 1-27 1,46 1-94 1,63 1,17 1-85 1,44 1,22 1,105 1-111 1,122 1-175 1-14 1,137 1-35 1-26 1,117 1-151 1,29 1-40 1,35 1-35 1,37 1,8 1,12 1-54 1-5 1-26 1,1 1,59 1-132 1,114 1,11 1-2 1-57 1,142 1-30 1-6 1,53 1,17 1-71 1,8 1,7 1,40 1-65 1,69 1-30 1,102 1-6 1,28 1,45 1-102 1,46 1,47 1-39 1,0 1,9 1-86 1,165 1-14 1-59 1-39 1-66 1-11 1,108 1,1 1,8 1,66 1-45 1,18 1,69 1-61 1-33 1,57 1,38 1-47 1,30 1-84 1,100 1-61 1,13 1-25 1-13 1-64 1,48 1-1 1-73 1-45 1,138 1-21 1-23 1,19 1-110 1,92 1-16 1,19 1-51 1,29 1,55 1-170 1,141 1-205 1,34 1,105 1,74 1-112 1-63 1,175 1-63 1-43 1-37 1,23 1,76 1-68 1,67 1-81 1-24 1-11 1-31 1,53 1-21 1,12 1-76 1,44 1,66 1-58 1,44 1-30 1,169 1-149 1,76 1-101 1,100 1-189 1,338 1-262 1-56 1,112 1,50 1,10 1-130 1,11 1,50 1,8 1-61 1,36 1-69 1,43 1-140 1,17 1-16 1,227 1-65 1-78 1,61 1,5 1,94 1-108 1,105 1-47 1-40 1-43 1,38 1,35 1,43 1-4 1-80 1,20 1-13 1,126 1-76 1,51 1,113 1-227 1,31 1-110 1,225 1-27 1-121 1-32 1,132 1-117 1,79 1-69 1-45 1,62 1-24 1-52 1-66 1,54 1,74 1,24 1,9 1,68 1-102 1-18 1,83 1-10 1,32 1-55 1-29 1,73 1-74 1,7 1,19 1,10 1,22 1,24 1-163 1,121 1,95 1-81 1,45 1,35 1-155 1-24 1,127 1-24 1-39 1-75 1,138 1,128 1-293 1,107 1-72 1,132 1-36 1,76 1-65 1-1 1-50 1,85 1-260 1,232 1-32 1-66 1,1 1,20 1,11 1,13 1,68 1-72 1-118 1,198 1-67 1,34 1,47 1,1 1-4 1-38 1-130 1,1 1,37 1,65 1-64 1-128 1,254 1-50 1-116 1,137 1-259 1,223 1-117 1-43 1,168 1-27 1-64 1-44 1,42 1-14 1,12 1,43 1-156 1-9 1,36 1,101 1-88 1,21 1,10 1,38 1,52 1-2 1-147 1,139 1-81 1,8 1,136 1-142 1,100 1-62 1,84 1,15 1-21 1,22 1-31 1-9 1-41 1,58 1,34 1,47 1-93 1-100 1-4 1,131 1-112 1,54 1,81 1-321 1,477 1-250 1,41 1,39 1-167 1,98 1-1 1-50 1,127 1-85 1-9 1,71 1-18 1-142 1-20 1,79 1,8 1-154 1,163 1-42 1,40 1,159 1-57 1,48 1-149 1-42 1,161 1,120 1-183 1,136 1-110 1,139 1-170 1,4 1-53 1,112 1,9 1-56 1,56 1-129 1,12 1,171 1-29 1-83 1-20 1,144 1-110 1-122 1,143 1-71 1,12 1-7 1,58 1-127 1,77 1,39 1-64 1-63 1-48 1,107 1-13 1,35 1-68 1,207 1-117 1,85 1-235 1,126 1,174 1-110 1,2 1-111 1,8 1,80 1-42 1,279 1-136 1,2 1-167 1,60 1-122 1,4 1,172 1-8 1-20 1,22 1-117 1,23 1,75 1,9 1,69 1,12 1-181 1,319 1-210 1-92 1,1 1-70 1,30 1,100 1-171 1,8 1,81 1,67 1,162 1-159 1,68 1-32 1,114 1-246 1,122 1,137 1-47 1-189 1,41 1,77 1-7 1,40 1-95 1,76 1-102 1,19 1,18 1-38 1,83 1-23 1-57 1,19 1-47 1,6 1-25 1,86 1,46 1-66 1,81 1-79 1,61 1-47 1,9 1-43 1,84 1-19 1,28 1,72 1-29 1,47 1-212 1,109 1-37 1-285 1,168 1,61 1,116 1,104 1-167 1-135 1,206 1-183 1,139 1-62 1,102 1-56 1-39 1,32 1-35 1,41 1-39 1,48 1-10 1-53 1-70 1-43 1,195 1-17 1-103 1,97 1,124 1-113 1-71 1-68 1,159 1-115 1,28 1-108 1,35 1-167 1,161 1-171 1,219 1,130 1,21 1-137 1-4 1-11 1-31 1,82 1,83 1-89 1-31 1-34 1,111 1-5 1-19 1-61 1,74 1-79 1,75 1,54 1,81 1-30 1,13 1-55 1-9 1,0 1-83 1,79 1-7 1-49 1,23 1,113 1-94 1,6 1,44 1,112 1-76 1-44 1-64 1,75 1,126 1-290 1,143 1-143 1,73 1-6 1-35 1,89 1,22 1,42 1-130 1,4 1-26 1,141 1-103 1-38 1,19 1-31 1,96 1-87 1,28 1-156 1,144 1-85 1,75 1-14 1,65 1-24 1,60 1-23 1,27 1-100 1-12 1,48 1-20 1,90 1-38 1-11 1,11 1,34 1-27 1-19 1,80 1-194 1,98 1-18 1,59 1-97 1,58 1,6 1-114 1,277 1,19 1-231 1,96 1-86 1,74 1,87 1-107 1-126 1,183 1-183 1,97 1-7 1,68 1-202 1,89 1,54 1-96 1,179 1-176 1,45 1,23 1,69 1-72 1,50 1-50 1-17 1,34 1,50 1-135 1,2 1,96 1-8 1-32 1,75 1-40 1-59 1-41 1-19 1-54 1,68 1,28 1,42 1-5 1-70 1-16 1,69 1-8 1-2 1,27 1,14 1-50 1,116 1-116 1,26 1,120 1-31 1-115 1,65 1,103 1-179 1,229 1-172 1-121 1,55 1,13 1,61 1,14 1-96 1,85 1,45 1,83 1-193 1,109 1,78 1,24 1-62 1-16 1-75 1,36 1,39 1-193 1,156 1,20 1-85 1,127 1-150 1,134 1-88 1,96 1-11 1-16 1-13 1-55 1,42 1-78 1,74 1-19 1,32 1,41 1-116 1,105 1-29 1-58 1,32 1,79 1-254 1,130 1,88 1-74 1,75 1-53 1,10 1,48 1-85 1-32 1-50 1,64 1,11 1,136 1-202 1,58 1,18 1,5 1,4 1,38 1,52 1-96 1,55 1-37 1-59 1,73 1,71 1-108 1,127 1,21 1-116 1-21 1,104 1-22 1-120 1,61 1,24 1-42 1-8 1-32 1,33 1-66 1,22 1-41 1-105 1,225 1-128 1-72 1,231 1-178 1,91 1,66 1-119 1,4 1,12 1-94 1,361 1-295 1-180 1,211 1,13 1-121 1,180 1-38 1-64 1,51 1,4 1-45 1,5 1,113 1-53 1-81 1-25 1-136 1,228 1-14 1,28 1-119 1,31 1-119 1,145 1-35 1,44 1-52 1-97 1,168 1-90 1,72 1,33 1,65 1,61 1-188 1-5 1,149 1-256 1,119 1,174 1-43 1,115 1-232 1,140 1-137 1,44 1-18 1,44 1,63 1-42 1-7 1,12 1-22 1,21 1-47 1,140 1-5 1-79 1,99 1-198 1,147 1-91 1-82 1,252 1-158 1,19 1-2 1,40 1,4 1-64 1-28 1,49 1,35 1-71 1,59 1-83 1-51 1,10 1,11 1,120 1,27 1,106 1-171 1,21 1-96 1,120 1-79 1,120 1-93 1-26 1,15 1-94 1,134 1,69 1,39 1-29 1-323 1,127 1,131 1-89 1,40 1-50 1,114 1-89 1,78 1-253 1,136 1,176 1-294 1,183 1-53 1-95 1,219 1-178 1,126 1-94 1,52 1,11 1-3 1-48 1-14 1-12 1,138 1-141 1,126 1-87 1,69 1,4 1-58 1-187 1,75 1,153 1-122 1,148 1-127 1-32 1,97 1-12 1-61 1-51 1,91 1,116 1-103 1,5 1-57 1,272 1-227 1-26 1-42 1,41 1,18 1-47 1,95 1-36 1-2 1,10 1,8 1,115 1-169 1,97 1-37 1-183 1,193 1,192 1-192 1,50 1-91 1-65 1-4 1,48 1-53 1,126 1-24 1-70 1,13 1,10 1,65 1,5 1-39 1,21 1,10 1,44 1,39 1,68 1-29 1-155 1,150 1-38 1,1 1-105 1,65 1-19 1-98 1-82 1,123 1,53 1-43 1,3 1-59 1,33 1-76 1,109 1-37 1-64 1,167 1-148 1,4 1,43 1-26 1,44 1-79 1-94 1,134 1-30 1-10 1,40 1,1 1-63 1,11 1-26 1,60 1,118 1-106 1,34 1-12 1,48 1-22 1,44 1-14 1,47 1-57 1,195 1-104 1-42 1-15 1,134 1-35 1-167 1,25 1-56 1,141 1-146 1,171 1-227 1,137 1-8 1-90 1,176 1-104 1,90 1-96 1,79 1,66 1-22 1-194 1,55 1,58 1,75 1-45 1-26 1,34 1-118 1,161 1-188 1,80 1,107 1,19 1-187 1,59 1,46 1,84 1-36 1-52 1,5 1,23 1-52 1,116 1-7 1-161 1,117 1,54 1-116 1,82 1-88 1-29 1-10 1,129 1-121 1,54 1-7 1-72 1,43 1-117 1,44 1,21 1-133 1,98 1,29 1-3 1-45 1,23 1,8 1-71 1,58 1,95 1-116 1,115 1-95 1,24 1,105 1-11 1-99 1,146 1-125 1-14 1,21 1-80 1,281 1-60 1-84 1-51 1,85 1-125 1,72 1-82 1-98 1,195 1-56 1,69 1,16 1-82 1-58 1,160 1-9 1-54 1-66 1,341 1-200 1,215 1-334 1-27 1,32 1,71 1-20 1-23 1-55 1,82 1-51 1,27 1,85 1-225 1,50 1,61 1,189 1-39 1-110 1-49 1,72 1,4 1,172 1-186 1,3 1-32 1-51 1,14 1-20 1,71 1,30 1,51 1-81 1,10 1,80 1-138 1,235 1-146 1,51 1-136 1-20 1,136 1-70 1,41 1-62 1,48 1-156 1,31 1,44 1,17 1-46 1,14 1,45 1-16 1,19 1-113 1,171 1-95 1,9 1,56 1-37 1,52 1-10 1-120 1,160 1-19 1-24 1,105 1-122 1-10 1,68 1-147 1,82 1,15 1,74 1-55 1-76 1,32 1-72 1,33 1-29 1,218 1-94 1,138 1-26 1-194 1,30 1,5 1-69 1,20 1,63 1-194 1,79 1-14 1-15 1,94 1-77 1,225 1,26 1-270 1,87 1,81 1-36 1-58 1,39 1-2 1-54 1-22 1,87 1,67 1-179 1,122 1-108 1,106 1-43 1,26 1,91 1-116 1,180 1-111 1-57 1,25 1-52 1,9 1-90 1,15 1,148 1-123 1,81 1-136 1,52 1,17 1,68 1-98 1,44 1-29 1,4 1-28 1-18 1,160 1-71 1-74 1,146 1-102 1,34 1,17 1-100 1-83 1-20 1,230 1-57 1-120 1-16 1,136 1-36 1-21 1,72 1,56 1-207 1,116 1-92 1-1 1,40 1,23 1-39 1-128 1,88 1,96 1,16 1-115 1,44 1-1 1-39 1,117 1-75 1-97 1,89 1,101 1,7 1,42 1-134 1-79 1-17 1,154 1-111 1,122 1-162 1,120 1-117 1,51 1,71 1,57 1-126 1,50 1,8 1-77 1,21 1,37 1-100 1,17 1,88 1-46 1-23 1,176 1,110 1-388 1,137 1,28 1-105 1,137 1-53 1,57 1,51 1-127 1-31 1,178 1-176 1,62 1,63 1-53 1,37 1-47 1-6 1,88 1,155 1-307 1,128 1-33 1,18 1-26 1-49 1-15 1-21 1-8 1-23 1-36 1,42 1-15 1-100 1,198 1-177 1,178 1,47 1,60 1,48 1-213 1,102 1,46 1,3 1,2 1-11 1-217 1,62 1,14 1,162 1-119 1,8 1,4 1,18 1,70 1,68 1-146 1,60 1-39 1,42 1,46 1-76 1-21 1-92 1,76 1-150 1,30 1,126 1-21 1-63 1,87 1-47 1-111 1-15 1,181 1-181 1,28 1-33 1,14 1,12 1,206 1-183 1,16 1-191 1,278 1-11 1,64 1-23 1-247 1,144 1,45 1,152 1-109 1,73 1-146 1,171 1-171 1,45 1,43 1,110 1,10 1-156 1,176 1-305 1,261 1-39 1-41 1,19 1,108 1-57 1-185 1,24 1,164 1-124 1,39 1-20 1,61 1,73 1-164 1,21 1-16 1-129 1,14 1,49 1,3 1-46 1,21 1,52 1,11 1,158 1-211 1,44 1-1 1,144 1-150 1,139 1-91 1,108 1,14 1-85 1,71 1-61 1,13 1-21 1-131 1,123 1-64 1,35 1-83 1,105 1,115 1-197 1,102 1,47 1-167 1,232 1-145 1,43 1-64 1,87 1,1 1-72 1,44 1-7 1,22 1,41 1-86 1,44 1,10 1-174 1,180 1-78 1,81 1-76 1,42 1,26 1-78 1-26 1-38 1-63 1,157 1,97 1-56 1-121 1,139 1-99 1,139 1-2 1-117 1,125 1-168 1-15 1,204 1-56 1,236 1-256 1,181 1-410 1,117 1,83 1,69 1,70 1-66 1-16 1,19 1-119 1,139 1,0 1-47 1-20 1,16 1,30 1,121 1-144 1,11 1-114 1-71 1,77 1-31 1,61 1,197 1-106 1,94 1-136 1,53 1,43 1-27 1-39 1-48 1-29 1-11 1,24 1,95 1-126 1-20 1,56 1-106 1,125 1,15 1,17 1,38 1-28 1,101 1-112 1,54 1-70 1,27 1-26 1,40 1,73 1-155 1,52 1,43 1-92 1,185 1-99 1-48 1-13 1,71 1-134 1-37 1-87 1,118 1,210 1-128 1,98 1-99 1-17 1-98 1,76 1-154 1,219 1-31 1-39 1-81 1,164 1-93 1,12 1-14 1,107 1-9 1-76 1,98 1-160 1-99 1-50 1,166 1-90 1,207 1-204 1,364 1-252 1-46 1,70 1,40 1,167 1-159 1,79 1-76 1,85 1-205 1-11 1-198 1,312 1-124 1-18 1-50 1,101 1-74 1-5 1-206 1,240 1,60 1-76 1,77 1-136 1,29 1,35 1-60 1,111 1-116 1,35 1-18 1,33 1,60 1,53 1-249 1,261 1-186 1,135 1-124 1-36 1,3 1-25 1,72 1,148 1-201 1,100 1-205 1,193 1-83 1-47 1,60 1,50 1-33 1,181 1-251 1,166 1-97 1,73 1-14 1-59 1-101 1,129 1-44 1-3 1-145 1,121 1-28 1,87 1-8 1,22 1,76 1-266 1,136 1-39 1-16 1-109 1,174 1-61 1,22 1-10 1,39 1,94 1-250 1,181 1-8 1-62 1,17 1-26 1,165 1,35 1-116 1-108 1-81 1-14 1,124 1-34 1,142 1-64 1-59 1-22 1-165 1,180 1,329 1-158 1-97 1,35 1-51 1,111 1-239 1,57 1,17 1,92 1-259 1,124 1,99 1-61 1,32 1-45 1-10 1-41 1,136 1-95 1-19 1-39 1-77 1,179 1-94 1-9 1,125 1-127 1,77 1,35 1-24 1,5 1,39 1,1 1,116 1-73 1-66 1,35 1-116 1,127 1-32 1-175 1-44 1,182 1-104 1-35 1-39 1,34 1,81 1-123 1-30 1,96 1-193 1,276 1-46 1,1 1,28 1-61 1,146 1-71 1-93 1,152 1,29 1-67 1-9 1,71 1-91 1-29 1-193 1,76 1,83 1-150 1,69 1,7 1,69 1,172 1-320 1,114 1-55 1,71 1-31 1,25 1,123 1-12 1-14 1-206 1,42 1,9 1,58 1-38 1-156 1,137 1,211 1-168 1-143 1,149 1-94 1-81 1,168 1-250 1,39 1,140 1,25 1-32 1,197 1-233 1-54 1-40 1,92 1,103 1-32 1,90 1-124 1,37 1-69 1,92 1,22 1-69 1-154 1,113 1,124 1-28 1-69 1-28 1-5 1,103 1-161 1-21 1,27 1,143 1,142 1-120 1-56 1-85 1,20 1,25 1-80 1,90 1-58 1-204 1,276 1-7 1,70 1-78 1-99 1,55 1,119 1-113 1,76 1,31 1-7 1,16 1,33 1,12 1-187 1,149 1-56 1,50 1-98 1-80 1,174 1-38 1-89 1,162 1-56 1-9 1,31 1-145 1,116 1,12 1,22 1,22 1,24 1,29 1-263 1,122 1,45 1-39 1,240 1-296 1,43 1-92 1-21 1,274 1-77 1,39 1-101 1-16 1-60 1-26 1-12 1,141 1-52 1-125 1,134 1-62 1,118 1-90 1-135 1,238 1,10 1-108 1-28 1,15 1,57 1-113 1,80 1-67 1,68 1,58 1-29 1-27 1,29 1-33 1-97 1,218 1-100 1-123 1,1 1,197 1-141 1-38 1-70 1,97 1,103 1-55 1,14 1-8 1-52 1,62 1-31 1,50 1,43 1-147 1,198 1-218 1,59 1-154 1,133 1,44 1,122 1-6 1-84 1-63 1-60 1,68 1,16 1-125 1-13 1,47 1,43 1-20 1-62 1-66 1,303 1-131 1-23 1-4 1,5 1,242 1-344 1,31 1,131 1-50 1,50 1-157 1,80 1,20 1-18 1-75 1,17 1,75 1-185 1-9 1,115 1-201 1,159 1-112 1,5 1-79 1,197 1-106 1,57 1-84 1,23 1,35 1,83 1-58 1-76 1,23 1-77 1-238 1,264 1,31 1-70 1,64 1-128 1,149 1-111 1-13 1,167 1,14 1-74 1,49 1,3 1,66 1,73 1,77 1-30 1-204 1,223 1,52 1,32 1,54 1-120 1,34 1,63 1,5 1,1 1-108 1,171 1-44 1-114 1,21 1-79 1,104 1-20 1,33 1-126 1,61 1-75 1,65 1-25 1,79 1-67 1,93 1-74 1,198 1-144 1-55 1,60 1-53 1-127 1,57 1,5 1,101 1-170 1,130 1,29 1-98 1,112 1,169 1-203 1,32 1,21 1-91 1-51 1-62 1,198 1-67 1,79 1-49 1-27 1,26 1-98 1,28 1,82 1-165 1,80 1-12 1-10 1-34 1,250 1-123 1-116 1,164 1-8 1,36 1-49 1-143 1,25 1,83 1,45 1,56 1-76 1,100 1-155 1,121 1,13 1-30 1-66 1,32 1-37 1-22 1,13 1-35 1,2 1,57 1-137 1,165 1,1 1-22 1-16 1-41 1-125 1,143 1,97 1-27 1,30 1-97 1,2 1,127 1-106 1-50 1-56 1,176 1-40 1,124 1-114 1,164 1-136 1-110 1,25 1,35 1-38 1-193 1,260 1-114 1,114 1,6 1-29 1-115 1,143 1-205 1,173 1-91 1-7 1-166 1,210 1-36 1-40 1,140 1,36 1-135 1,206 1-69 1,25 1-21 1,94 1-82 1-74 1,28 1-4 1,237 1-205 1-120 1,99 1-44 1,22 1,108 1-133 1-7 1-87 1,174 1,52 1-20 1,36 1-117 1,45 1-86 1,95 1-64 1-46 1,5 1,0 1,71 1-30 1-43 1,35 1,58 1-57 1-27 1,21 1,84 1-134 1,99 1-73 1,95 1-40 1-14 1,46 1-135 1,46 1-50 1,68 1-80 1,104 1-28 1-14 1,118 1-70 1,13 1-127 1,197 1-16 1-40 1,20 1,55 1-10 1-52 1,53 1-90 1,48 1-66 1-14 1,88 1-67 1-66 1,33 1-73 1,154 1-82 1-104 1,214 1-102 1,30 1,24 1,45 1-40 1,207 1-184 1-35 1,44 1-81 1,20 1-59 1,88 1-187 1,87 1-122 1,190 1,189 1-130 1,75 1,64 1-194 1,119 1-262 1,173 1,50 1-38 1-8 1-130 1,14 1,148 1,14 1-174 1,133 1-99 1,205 1-54 1-99 1,7 1,35 1,175 1-195 1-4 1-26 1,169 1-41 1-121 1-13 1,102 1-53 1-9 1,40 1,53 1-41 1-42 1,258 1-285 1,13 1,47 1,7 1-21 1-24 1-641 1,613 1,115 1-86 1-236 1,313 1-44 1,10 1-143 1-14 1,83 1-95 1,27 1-17 1,75 1-32 1,82 1-6 1,6 1-151 1,116 1-81 1,15 1,94 1-16 1,26 1-42 1,26 1-22 1,91 1-116 1,54 1,163 1-245 1,88 1-19 1,20 1,80 1-131 1-107 1,296 1-287 1,143 1,19 1-88 1,37 1,116 1-72 1,31 1-17 1-93 1-54 1-5 1-43 1-114 1,353 1-75 1-82 1,56 1,16 1-29 1-249 1,309 1-15 1-96 1,105 1-140 1,45 1,102 1,36 1-36 1-6 1,79 1-19 1-165 1,108 1,51 1-178 1,3 1-9 1,284 1-273 1,5 1,26 1-34 1-63 1,93 1-46 1-1 1-121 1,41 1,64 1,184 1-198 1,58 1-198 1,338 1-93 1-108 1,52 1,27 1-25 1,23 1,63 1-180 1,119 1-60 1,69 1,16 1-126 1-175 1,145 1-25 1,58 1,26 1,42 1-43 1,127 1-399 1,113 1,64 1,114 1-211 1,196 1-220 1,127 1-120 1,18 1,25 1,113 1-82 1,60 1-14 1-17 1,53 1-65 1,130 1-250 1-128 1,274 1-250 1-144 1,242 1-54 1-166 1,32 1,112 1-55 1-65 1,244 1-27 1-3 1,25 1-116 1,38 1,38 1-38 1-2 1-48 1,75 1,198 1-3 1-75 1-121 1,86 1-37 1-151 1,77 1,29 1-31 1-67 1-38 1-6 1-9 1-65 1,93 1,293 1-131 1-216 1,152 1-94 1,30 1-42 1,139 1-117 1,65 1-3 1,31 1,45 1-70 1,32 1-36 1-143 1,138 1-80 1,282 1-283 1-11 1,101 1-67 1,85 1,6 1,38 1,29 1,14 1-124 1,68 1,7 1,157 1-29 1-58 1-198 1,57 1,74 1-143 1,94 1-74 1,39 1-44 1,36 1,36 1,32 1-170 1,40 1,91 1-4 1-64 1,33 1-81 1,207 1-62 1-89 1,13 1,104 1-131 1,188 1-37 1,147 1-124 1-258 1,211 1-81 1,30 1-185 1,240 1,12 1-122 1,29 1-108 1,116 1,49 1,222 1-275 1-102 1,38 1,91 1,69 1-61 1-214 1,351 1-300 1,78 1,15 1,56 1-30 1-178 1,120 1,18 1,8 1-5 1-74 1,37 1,10 1,104 1-99 1-23 1-66 1,15 1,148 1-117 1,93 1-82 1-52 1-194 1,100 1,115 1-9 1,255 1-548 1,277 1,150 1-160 1,105 1-196 1,203 1-10 1,63 1-268 1,212 1-152 1,48 1-143 1,284 1-173 1,84 1-195 1,129 1,1 1,30 1-206 1,171 1,81 1-246 1,5 1-154 1,352 1-104 1,14 1-72 1-65 1,251 1,34 1-428 1,195 1-23 1-81 1,39 1-91 1-24 1,5 1,4 1,160 1-146 1-15 1,171 1,41 1-125 1-90 1,1 1,61 1-105 1,108 1,8 1-105 1-30 1,39 1-38 1,248 1-171 1,66 1-121 1,99 1,187 1-292 1,265 1-77 1-129 1-40 1,154 1-247 1-78 1,106 1-54 1,34 1,75 1,61 1-11 1-45 1-61 1,32 1-36 1-52 1,30 1,101 1-52 1,90 1-137 1,43 1,96 1,7 1-87 1,182 1-353 1-121 1,421 1-120 1-17 1,73 1-108 1-34 1,138 1,176 1-196 1-110 1,48 1-31 1-77 1,63 1,12 1,52 1-192 1,207 1-179 1-34 1,206 1,67 1,58 1-56 1-153 1,67 1-62 1,193 1-86 1,121 1-79 1-145 1,116 1,129 1-123 1,18 1,17 1-66 1-25 1-63 1,321 1-149 1,49 1-86 1-12 1-26 1,11 1,83 1,30 1-106 1,284 1-127 1-44 1-177 1,165 1,71 1-96 1-55 1,127 1,268 1-335 1-80 1,201 1-40 1,2 1-256 1,266 1-169 1,209 1-201 1,97 1-18 1,99 1,100 1-48 1-33 1,4 1,54 1-38 1-78 1,135 1,72 1-112 1-88 1-39 1,153 1-109 1,127 1-66 1-58 1,148 1-56 1,24 1-18 1,1 1,54 1-37 1-84 1,68 1,29 1-17 1,22 1,8 1,76 1-360 1,291 1,35 1-180 1,169 1-39 1,77 1-158 1,69 1,251 1-253 1-100 1,80 1-22 1,29 1,34 1,230 1-310 1,72 1-29 1,41 1,56 1-41 1,45 1-140 1,166 1,50 1-42 1-21 1,66 1-52 1-22 1,18 1-30 1-101 1,5 1,87 1,117 1-80 1-25 1,120 1-108 1-147 1,93 1,109 1-155 1,121 1,28 1-104 1,45 1-11 1,76 1-8 1-81 1,146 1-255 1,318 1-89 1,63 1,36 1-110 1,17 1-47 1,27 1,75 1,30 1-138 1-2 1,30 1-69 1,170 1-5 1-113 1-48 1,57 1-86 1,139 1-63 1,82 1-94 1,141 1-201 1,123 1-1 1,8 1,245 1-211 1,114 1-29 1-78 1-44 1,81 1-85 1,22 1,67 1-155 1,175 1-123 1-57 1,175 1-161 1,58 1,29 1-4 1,27 1,66 1-71 1,50 1-82 1,44 1,141 1-162 1,43 1,0 1-12 1,209 1-289 1-35 1,238 1-103 1,30 1,53 1-82 1,39 1-35 1,3 1-39 1,59 1,60 1-150 1,103 1-138 1,153 1-137 1,35 1,139 1-109 1,85 1,22 1-52 1-22 1-39 1,139 1,3 1-139 1,51 1,70 1-107 1,141 1-267 1,178 1-196 1,168 1-147 1-16 1,93 1-40 1,74 1-38 1-4 1,22 1,186 1-133 1-39 1,204 1-269 1-7 1-16 1,4 1,25 1-87 1,185 1,12 1,49 1,21 1,10 1-174 1,82 1-108 1-132 1,120 1,7 1,96 1-127 1,136 1-14 1-26 1-11 1-199 1,173 1-43 1-27 1-110 1,152 1,68 1-51 1-125 1,121 1-13 1-89 1,82 1-114 1,121 1-5 1-15 1,104 1-176 1,41 1-87 1-67 1,228 1-27 1-54 1,67 1,47 1-54 1,31 1-112 1-73 1-36 1-36 1,160 1,15 1-49 1-116 1,111 1-209 1,155 1-30 1-149 1,202 1-78 1-65 1-9 1-11 1,159 1-194 1,124 1-83 1,90 1-53 1-84 1-90 1,14 1,31 1-87 1,105 1-14 1-15 1-102 1,60 1-44 1,146 1-86 1-134 1,145 1,0 1-86 1,7 1,332 1-296 1,15 1-56 1-88 1,137 1,90 1-153 1-61 1,253 1-16 1-463 1,122 1-16 1,62 1,31 1-120 1,217 1-157 1-2 1,41 1,46 1-34 1-48 1-32 1,125 1-33 1,304 1-362 1,104 1-65 1,2 1,14 1-100 1-115 1,116 1-39 1-95 1,200 1-64 1-166 1,81 1,112 1-157 1,233 1-245 1,18 1,108 1-3 1-56 1,71 1,5 1,93 1-2 1,57 1-49 1-7 1,1 1-92 1-15 1-38 1-118 1,89 1,43 1,12 1-109 1,56 1,52 1,72 1-70 1-104 1-8 1,41 1,30 1-63 1,4 1-25 1-24 1-45 1-39 1-22 1,123 1,84 1-246 1,163 1-70 1,19 1-38 1-143 1,289 1-284 1,97 1,156 1-52 1-47 1,130 1-207 1,141 1,121 1-264 1,47 1,211 1-203 1-14 1,144 1-169 1,132 1-186 1,147 1-15 1-103 1,61 1-79 1-248 1,158 1,154 1,32 1,92 1-13 1-133 1,13 1-17 1,36 1,120 1-62 1-33 1,100 1-96 1,101 1-158 1,39 1,14 1-1 1,25 1,96 1-115 1,51 1-53 1,103 1-10 1-75 1-84 1,81 1,59 1-114 1,12 1-48 1-71 1-61 1,235 1-97 1,58 1-65 1,105 1-55 1,189 1-68 1,0 1-4 1-116 1-14 1,103 1,225 1-126 1,106 1-280 1,40 1,34 1-114 1,48 1,24 1-57 1-127 1-39 1,131 1,63 1-78 1,4 1-42 1,112 1-69 1,86 1-266 1,174 1-111 1,209 1,3 1-168 1-54 1,269 1-145 1-36 1,158 1-93 1,79 1-153 1-47 1,136 1-50 1-35 1,39 1,15 1,33 1-36 1-52 1-43 1,89 1,37 1-19 1-95 1-23 1,31 1,211 1-99 1-98 1,92 1,29 1-77 1,142 1-105 1-92 1,37 1-102 1,60 1-65 1-1 1-34 1-101 1,256 1-41 1-99 1,127 1-207 1,39 1,37 1,126 1-18 1,36 1-214 1,127 1,191 1-400 1,171 1,94 1-44 1,105 1-25 1-87 1-135 1,11 1,122 1,21 1-62 1-106 1,144 1-49 1-124 1-15 1,147 1,59 1-59 1,21 1-55 1,108 1-47 1,139 1-39 1,0 1-23 1,53 1,36 1-60 1,29 1-142 1-1 1,43 1,42 1-97 1,136 1-168 1,0 1,121 1,158 1-289 1-7 1,15 1,149 1-159 1,392 1-374 1,117 1,138 1-153 1-95 1,114 1-102 1,30 1,15 1,17 1-64 1,26 1,74 1-43 1-27 1,42 1-43 1,11 1,11 1-57 1,154 1-185 1,0 1-92 1,195 1-251 1,127 1,12 1,28 1,19 1,0 1,93 1,119 1-298 1,68 1,26 1,6 1-45 1,68 1-36 1-27 1,106 1,97 1-114 1-30 1-38 1,7 1-67 1,332 1-417 1,128 1-108 1,247 1-248 1,116 1,91 1-14 1,53 1-86 1,84 1-214 1,190 1,43 1-92 1,5 1,54 1,57 1-184 1,113 1,31 1-4 1,47 1-159 1,129 1-54 1-174 1,304 1-145 1,49 1-96 1,27 1-142 1-16 1,77 1,75 1,34 1,37 1-239 1,181 1-73 1,28 1-41 1-62 1,53 1,17 1-240 1,112 1,191 1-170 1,151 1,15 1-67 1,44 1,13 1-15 1,3 1,120 1-68 1,0 1-70 1,13 1-12 1,98 1-154 1-4 1-182 1,333 1-277 1,178 1,132 1,16 1,34 1-29 1-118 1-22 1,29 1-75 1,83 1,137 1-12 1-24 1-146 1,46 1-26 1,78 1-213 1,145 1-186 1,299 1,128 1-399 1,172 1,66 1,106 1-245 1,69 1,14 1,31 1-118 1,159 1-4 1-180 1,123 1-21 1,26 1-76 1-17 1,61 1,96 1-182 1,64 1,101 1-75 1-148 1,7 1,110 1,13 1-211 1,278 1-63 1,132 1-345 1,226 1,26 1,69 1-223 1-1 1,366 1-302 1,119 1-166 1,98 1-51 1,15 1,144 1,46 1,44 1-195 1,29 1,12 1-59 1,53 1-11 1-83 1,2 1,73 1,127 1-102 1,24 1-59 1,125 1-32 1,16 1-81 1-62 1,105 1,47 1-133 1,229 1-156 1-137 1,222 1-20 1,16 1-155 1,128 1-153 1-41 1,70 1,27 1-106 1,213 1-4 1-192 1-25 1,135 1,4 1,1 1,293 1-220 1,3 1-220 1,142 1,31 1-76 1-15 1,29 1-14 1,109 1-92 1,216 1-181 1-5 1-40 1-36 1-61 1,144 1-121 1,69 1,58 1-143 1,86 1-37 1-62 1,104 1-27 1,57 1-19 1,5 1,90 1-107 1,58 1-150 1,53 1,33 1,27 1-35 1-120 1,262 1,26 1-39 1-78 1,133 1-13 1-67 1-81 1,7 1,38 1,49 1-11 1-105 1,128 1-276 1,122 1,63 1-100 1,25 1-2 1,100 1-125 1,7 1,47 1-35 1,128 1-145 1,283 1-222 1,83 1-75 1-48 1,5 1,195 1-47 1-42 1-52 1,112 1-53 1-161 1,105 1-51 1,64 1,15 1-51 1-26 1,273 1-158 1-53 1,17 1,68 1-48 1,8 1-102 1,137 1-25 1-53 1-3 1,3 1,188 1-109 1-2 1-62 1,126 1-219 1,45 1,55 1-9 1,78 1-142 1,74 1,56 1-121 1-8 1,25 1,45 1-79 1-30 1,18 1-36 1-43 1,263 1-178 1-56 1,248 1,4 1-55 1,115 1-119 1,44 1,136 1-203 1,6 1-59 1,6 1-6 1,87 1,23 1-29 1,45 1-153 1,247 1-135 1-49 1,40 1-5 1-100 1,71 1-70 1,20 1,19 1-65 1,212 1-146 1-85 1,23 1,60 1-96 1,33 1,159 1-102 1-65 1,26 1,56 1,155 1-66 1-1 1,85 1-250 1-14 1,70 1-158 1,51 1,81 1-3 1-34 1,145 1,92 1,38 1-360 1,112 1,109 1-197 1,18 1,96 1-33 1-90 1,137 1-167 1,103 1,83 1,131 1-126 1-156 1,112 1,4 1,45 1,103 1-167 1,53 1,45 1,81 1-41 1-88 1,49 1-266 1,217 1,41 1,0 1-76 1,23 1-90 1,175 1-160 1,108 1-86 1-2 1,96 1-39 1,49 1-290 1,418 1-68 1-27 1,129 1-209 1,84 1-8 1-21 1,46 1-103 1,74 1,165 1-146 1-43 1-36 1-20 1-159 1,152 1-17 1,162 1-99 1-13 1-171 1,170 1,49 1,130 1-153 1-33 1-20 1-86 1,134 1-180 1,61 1,25 1,64 1-107 1-64 1,195 1-77 1-88 1-16 1,154 1-45 1,32 1,60 1-109 1,46 1-5 1,41 1-50 1,4 1-27 1,26 1,42 1-57 1,3 1,49 1,217 1-185 1-82 1,182 1-61 1-152 1,68 1,215 1-60 1-149 1,34 1-293 1,234 1,208 1-144 1,151 1-111 1-75 1-179 1,147 1-87 1-14 1,156 1,10 1-60 1-54 1,177 1-136 1,132 1-71 1-42 1,169 1-179 1,12 1-64 1-15 1-19 1,126 1,121 1-150 1,43 1-70 1,116 1,11 1-31 1,49 1-85 1-33 1,44 1,116 1-97 1,45 1-85 1-42 1,87 1-11 1,8 1,29 1-32 1-41 1-36 1-28 1,10 1-125 1,230 1-25 1-22 1-32 1-10 1-85 1,51 1,138 1-320 1,108 1,58 1,148 1-58 1-130 1,43 1-50 1,109 1,70 1-136 1,28 1-4 1-30 1-33 1,13 1-24 1,130 1-153 1,6 1,12 1,156 1,123 1-306 1,91 1-96 1,118 1,53 1-172 1,153 1,16 1-104 1,104 1-47 1-42 1,191 1-159 1,51 1,129 1-113 1,72 1,13 1-132 1,38 1-33 1,60 1-49 1,160 1-189 1-36 1,24 1,161 1-178 1,60 1-54 1,258 1-91 1,3 1,26 1-109 1-90 1,134 1,8 1,3 1-4 1,83 1-101 1-18 1-13 1-36 1,10 1-28 1-77 1,9 1,24 1-3 1,131 1-89 1-85 1,17 1,118 1,19 1,160 1-361 1,119 1,89 1-97 1,104 1,174 1,72 1-329 1,174 1-182 1,3 1,10 1,57 1,14 1-68 1,54 1-108 1,125 1-73 1-31 1,81 1-64 1-78 1,1 1,61 1-88 1,107 1,52 1,102 1-43 1-85 1-155 1,106 1,122 1-284 1,252 1,11 1-58 1-92 1,144 1-31 1,12 1,35 1-209 1,296 1-256 1,183 1,100 1-129 1,69 1,90 1-448 1,84 1,302 1-203 1,58 1-53 1-56 1,256 1-99 1-120 1-32 1-170 1,298 1-126 1,227 1-164 1,137 1,35 1-19 1-54 1,129 1,2 1-74 1-24 1-99 1,25 1-124 1,173 1,36 1-49 1,8 1-27 1,34 1-124 1,96 1-2 1,69 1-172 1,53 1,109 1-138 1,116 1-77 1,73 1-148 1,41 1,131 1-97 1-6 1-16 1,150 1,49 1-331 1,245 1-89 1-80 1-50 1,222 1,58 1-204 1,138 1,57 1,1 1-87 1,146 1-245 1,171 1-293 1,201 1,35 1-7 1-169 1,52 1,134 1-112 1,110 1-36 1-80 1-34 1-61 1,108 1,27 1-57 1,72 1-17 1-60 1-87 1,85 1,71 1-36 1,48 1-51 1,73 1,52 1-172 1,130 1-48 1-25 1-78 1,129 1-141 1,134 1-86 1-76 1,434 1-213 1-37 1-35 1,20 1-49 1-42 1-5 1-21 1-43 1,139 1-66 1-24 1,11 1-124 1,57 1-89 1,109 1-36 1,121 1,134 1-48 1-75 1-100 1,84 1,60 1,2 1,38 1,26 1-153 1,98 1-37 1-133 1,78 1,121 1,62 1-168 1,64 1-64 1,55 1-127 1,7 1,51 1,95 1-137 1,38 1,18 1,62 1,236 1-271 1,55 1,116 1-233 1,99 1,140 1-270 1-13 1,192 1,18 1-124 1,134 1-137 1,172 1-169 1-67 1,45 1-34 1,205 1-191 1,219 1-260 1,197 1-29 1,26 1-149 1,77 1,9 1-113 1,170 1-80 1-15 1,9 1-13 1,125 1,59 1-160 1,9 1-27 1-56 1,40 1-161 1,365 1,110 1-341 1-26 1,19 1,43 1,93 1-93 1,127 1-213 1,101 1,87 1-31 1,15 1-81 1,153 1-113 1-154 1,2 1,190 1-104 1,101 1-5 1,86 1,61 1-60 1-82 1-56 1,221 1-30 1-129 1-122 1,197 1-70 1,178 1-141 1-25 1-128 1,176 1-46 1-18 1-30 1,22 1,62 1-101 1,13 1,21 1,133 1-319 1,262 1,68 1-25 1,53 1-347 1,341 1-65 1,169 1-294 1-2 1,160 1-273 1,171 1,21 1,177 1-265 1,131 1-21 1-2 1,352 1-392 1,14 1,163 1,17 1-217 1,129 1,308 1-351 1,30 1-191 1,36 1,126 1-38 1-2 1,157 1-84 1,17 1-159 1,109 1-54 1,77 1-28 1-61 1,33 1-12 1,139 1-78 1-19 1,219 1-68 1-163 1,28 1-32 1,83 1-135 1,77 1,86 1-92 1,221 1,63 1-191 1,137 1-81 1,27 1-83 1,6 1,250 1-305 1-23 1-64 1,96 1-10 1,45 1,33 1-100 1,216 1-212 1,60 1-111 1,123 1-59 1-170 1,253 1-42 1,152 1-212 1,56 1-104 1-59 1,98 1-52 1-107 1,446 1-358 1-40 1-11 1,103 1,153 1-53 1-109 1,93 1-6 1,51 1-198 1,87 1,8 1,13 1-132 1,134 1,39 1-56 1-99 1,61 1,31 1,36 1,86 1-186 1-17 1,114 1-79 1,68 1-180 1,144 1,63 1-118 1-3 1-70 1,141 1-56 1,163 1-155 1-86 1,137 1-61 1,64 1,13 1-67 1,88 1-124 1-6 1-89 1,265 1-84 1,6 1-116 1,147 1,48 1-118 1,185 1,30 1-117 1,62 1-94 1,71 1-97 1,33 1-57 1,67 1-141 1,148 1-50 1,133 1-133 1-228 1,149 1-134 1,160 1-84 1,169 1-103 1,130 1-52 1-128 1,173 1-97 1-17 1,44 1-53 1,161 1,10 1-161 1-89 1,245 1,113 1,1 1-26 1-1 1-138 1,75 1-47 1,31 1-341 1,299 1-85 1,18 1-171 1,180 1-147 1,164 1-61 1,20 1,114 1-28 1-323 1,288 1-87 1,39 1-24 1-57 1,90 1,28 1-79 1,151 1,97 1-277 1,68 1-214 1,244 1-38 1,97 1-44 1-364 1,358 1-35 1-254 1,568 1-394 1,32 1,105 1,37 1-24 1,152 1-81 1-101 1,30 1-191 1,236 1-58 1,93 1-92 1-107 1,130 1-131 1,57 1-140 1,170 1-128 1,47 1,62 1,92 1-71 1-20 1-8 1,116 1-142 1,98 1-151 1-70 1,155 1-5 1-93 1,182 1-32 1,138 1-227 1,61 1-134 1,91 1,19 1-34 1-150 1,73 1,39 1,29 1-211 1,189 1,76 1-23 1-71 1,112 1,3 1-19 1-164 1,134 1-96 1,143 1-160 1,112 1,42 1-55 1-3 1,7 1,30 1-8 1-115 1,83 1,32 1-66 1,82 1,0 1-137 1,103 1-19 1,174 1-345 1,191 1,47 1,6 1,75 1-10 1-90 1,58 1,67 1-209 1-165 1,240 1,52 1-23 1,140 1-74 1-114 1-34 1,127 1-131 1,112 1-43 1-2 1-24 1,142 1-109 1,84 1-20 1-7 1,207 1-233 1-141 1,213 1-88 1-8 1,50 1-3 1-63 1,81 1-195 1,98 1-19 1,32 1-32 1,94 1,35 1-9 1-156 1-2 1,3 1,244 1-108 1-316 1,209 1-10 1,33 1,36 1-24 1-41 1,59 1,62 1-149 1,40 1,12 1-88 1,224 1-186 1,234 1-145 1,3 1,33 1-81 1,76 1-114 1-11 1,18 1,121 1,1 1-39 1,1 1,38 1-134 1,221 1-210 1,34 1-17 1,9 1-25 1-30 1-6 1-64 1,101 1,38 1-102 1-132 1,238 1,42 1-41 1-104 1-2 1,160 1-215 1,351 1-99 1-8 1-67 1-104 1-20 1,162 1-22 1,47 1-10 1,22 1-27 1-50 1,6 1-181 1,74 1,66 1,1 1-161 1,57 1,44 1,270 1-259 1-77 1,158 1-81 1-84 1,54 1,5 1,107 1,5 1-198 1,14 1,203 1,2 1-63 1-16 1,63 1-94 1-30 1,161 1,37 1-239 1,128 1,71 1-55 1-195 1,252 1-99 1,110 1-79 1-34 1-9 1,43 1,18 1-9 1-45 1,45 1,82 1-57 1-67 1,325 1-329 1,110 1-150 1,169 1-65 1,108 1-86 1-67 1,98 1,3 1,62 1-127 1-23 1,10 1-16 1-72 1,56 1-26 1,35 1-21 1,103 1-62 1,199 1-112 1-115 1,117 1-290 1,275 1,131 1-190 1,364 1-292 1,169 1-49 1-101 1-54 1,113 1-247 1,13 1-28 1,122 1,9 1-120 1,43 1,100 1-39 1-31 1-61 1,77 1-155 1-12 1,193 1-31 1,31 1-32 1,161 1-55 1,33 1-57 1-47 1,4 1-86 1,61 1,46 1-32 1-62 1,74 1,240 1-297 1-16 1-55 1,77 1-38 1,67 1,17 1,36 1-115 1-1 1,149 1-103 1,95 1-131 1,57 1-93 1-4 1,49 1,52 1,115 1-38 1-152 1,54 1,8 1-50 1,50 1-83 1-29 1-55 1,71 1,115 1-25 1-144 1,74 1,47 1,175 1-227 1,15 1-13 1,97 1-34 1-22 1-74 1,122 1-149 1,148 1-236 1,48 1,208 1-76 1,68 1-116 1-73 1,114 1-19 1,171 1-362 1,81 1,103 1,69 1,63 1,44 1,19 1-229 1,96 1-62 1,82 1-126 1-70 1,101 1,13 1-64 1,80 1,57 1-143 1,194 1-132 1,137 1,22 1-112 1-48 1-59 1,12 1,65 1,0 1,10 1-45 1,7 1-47 1,33 1-35 1,43 1-83 1-24 1,66 1-3 1-94 1,115 1-59 1-278 1,272 1-10 1-112"/>
<path transform="matrix(0.119780,0,0,0.1,72.40,0)" vector-effect="non-scaling-stroke" fill="none" stroke="#ffa500" stroke-width="1.70" stroke-linejoin="bevel" d="M0,8086l1,7 1-111 1,91 1-133 1,70 1,0 1,96 1,15 1-161 1,96 1-83 1-239 1,235 1-72 1,112 1,6 1-112 1,83 1,4 1-35 1,81 1-53 1-175 1,60 1-97 1,43 1,29 1,52 1,204 1-266 1,39 1,91 1-52 1,139 1-248 1,13 1,85 1-366 1,184 1,39 1,139 1-295 1,63 1,31 1,148 1-119 1,42 1-6 1-70 1-63 1-3 1,29 1-17 1-10 1,96 1,155 1-129 1,35 1-94 1,9 1-106 1-78 1,206 1-71 1-32 1-237 1,138 1,105 1-41 1-110 1,13 1,38 1,26 1-81 1-1 1,57 1-20 1-60 1,32 1,54 1-16 1,91 1,52 1-135 1,44 1-101 1-39 1,21 1-24 1-12 1,20 1,12 1,1 1,38 1,69 1,75 1-236 1,358 1-99 1-93 1-8 1-39 1,63 1-114 1-234 1,221 1-109 1,35 1,122 1-13 1-13 1-64 1,65 1-101 1,196 1,64 1-260 1,72 1,92 1-22 1-14 1-6 1,14 1,2 1-19 1,96 1-46 1-65 1-76 1-5 1,59 1-44 1,181 1-233 1,182 1-122 1,40 1,122 1-250 1,364 1-279 1-130 1,48 1,99 1,176 1-208 1,173 1-143 1,23 1-70 1,297 1-165 1-40 1,111 1-125 1-276 1,333 1-18 1-44 1-17 1-194 1,137 1-241 1,225 1,142 1,40 1-153 1,391 1-334 1,13 1,127 1,17 1-396 1,297 1,4 1-139 1,171 1-176 1-208 1,330 1-57 1,95 1-214 1,212 1-169 1,95 1-81 1-92 1,181 1-154 1,79 1,300 1-315 1,23 1,160 1-80 1,50 1,1 1-177 1,147 1,36 1,35 1-156 1,252 1-90 1-131 1,83 1-202 1-10 1,259 1-120 1,49 1-178 1,50 1,135 1-209 1-137 1,247 1-6 1-36 1-4 1,77 1-128 1-21 1,165 1-51 1,43 1,151 1-102 1,243 1-374 1-148 1,124 1,135 1-118 1,17 1,64 1,18 1-111 1,225 1-103 1,99 1-45 1-183 1,259 1-103 1-22 1,322 1-377 1,108 1-179 1,110 1,44 1-168 1,152 1-37 1-23 1,219 1-256 1-25 1-22 1,80 1-65 1,116 1-93 1-49 1,190 1-205 1,193 1-164 1,104 1-160 1,14 1,176 1-78 1-100 1,286 1-131 1,74 1,43 1-141 1,217 1-24 1-168 1,89 1-348 1,260 1,252 1-260 1,112 1-6 1-157 1,71 1,19 1-217 1,311 1-226 1,29 1-5 1,106 1-35 1-90 1,174 1-110 1,200 1-146 1,176 1-119 1,4 1-4 1-67 1,114 1-60 1-15 1,8 1,75 1-133 1,100 1-167 1-24 1,130 1-95 1,225 1-9 1-189 1-127 1,312 1-376 1,375 1-65 1-74 1,214 1-277 1-59 1,286 1-142 1,113 1-138 1-7 1-32 1,155 1-72 1-7 1-68 1,12 1,97 1-48 1,66 1-249 1,165 1,42 1-42 1-26 1,92 1,57 1-12 1-60 1,64 1-167 1,157 1-149 1,86 1-179 1-48 1,187 1,33 1-69 1,204 1-364 1,125 1-83 1,14 1,86 1-40 1,37 1,50 1,42 1-95 1,191 1-73 1-64 1,133 1,54 1-286 1,14 1,166 1-266 1,109 1,211 1-52 1-29 1,30 1,112 1-254 1,188 1-37 1-35 1,90 1-85 1-135 1,61 1,53 1,14 1-99 1,95 1-87 1,107 1,34 1-22 1-25 1-21 1,2 1-80 1,117 1-55 1-18 1,83 1,135 1-12 1-117 1,43 1-58 1-38 1-55 1-17 1,71 1-36 1,11 1,134 1-223 1,214 1,4 1-30 1-86 1,52 1,15 1,32 1,107 1-54 1,51 1-176 1,51 1-62 1,76 1,43 1,104 1-59 1-35 1-71 1,44 1,42 1-10 1-158 1,30 1-61 1,146 1-224 1,71 1-41 1,213 1-139 1-91 1-21 1,191 1-57 1-85 1,37 1,71 1-188 1,163 1,91 1,74 1-195 1,111 1,235 1-175 1-54 1,39 1,18 1-18 1,35 1-61 1-1 1,100 1-240 1,106 1-58 1,60 1,125 1-54 1-138 1-36 1,194 1-132 1-6 1,63 1,9 1-53 1-8 1-29 1,34 1,288 1-325 1,152 1-279 1,262 1-142 1,79 1-18 1,91 1-64 1,24 1,214 1-229 1,49 1,1 1-101 1,228 1-206 1-63 1,29 1,39 1,94 1-134 1-42 1,151 1-62 1-27 1-26 1-83 1,157 1-189 1,248 1-176 1,72 1,90 1-44 1-25 1-6 1,54 1,68 1-21 1-44 1,99 1-191 1,56 1,116 1-40 1,48 1-70 1-55 1,62 1-132 1-48 1,88 1,0 1-44 1,67 1-91 1-162 1,156 1,75 1,0 1,53 1-78 1,185 1-141 1-130 1,124 1-97 1,90 1,20 1-154 1,157 1-91 1,120 1,1 1-191 1,156 1-11 1,11 1,3 1-22 1-31 1-81 1,36 1,22 1-9 1,109 1-79 1-128 1,128 1-4 1-10 1,96 1-161 1,157 1-3 1-273 1,188 1-66 1-46 1,112 1-41 1-72 1,19 1,175 1-76 1-57 1-16 1,135 1-146 1,193 1,2 1-31 1-46 1-88 1,87 1,55 1-48 1,43 1-104 1,51 1-90 1,192 1-69 1,121 1-208 1,114 1-117 1-61 1,97 1-203 1,103 1,87 1,54 1,133 1-43 1-185 1,90 1-33 1,242 1-269 1,66 1-166 1,104 1,135 1,33 1-55 1-33 1-102 1-52 1-28 1,108 1-48 1,27 1-109 1,257 1-118 1-15 1-15 1,296 1-165 1-129 1-69 1,157 1-62 1-88 1,156 1,117 1-135 1-40 1,18 1,49 1-56 1-111 1-17 1-20 1,60 1,25 1-54 1,21 1,70 1-35 1,82 1-62 1,41 1-44 1,64 1-121 1,122 1-96 1-130 1,1 1-16 1,208 1-157 1-28 1,86 1,18 1,19 1-114 1,139 1,117 1-172 1-54 1,139 1-187 1,84 1-33 1,101 1-128 1,264 1-288 1,164 1-77 1-28 1-195 1,151 1-42 1,90 1-42 1-88 1,217 1-192 1-2 1,176 1,10 1-43 1,24 1-10 1-61 1,314 1-315 1-96 1,120 1,15 1-72 1,143 1,8 1-59 1-123 1,33 1-42 1,251 1-57 1-294 1-1 1-31 1,200 1,36 1-34 1-153 1,122 1,69 1-77 1,12 1-47 1,194 1-47 1-348 1,192 1,38 1,11 1-10 1,55 1-115 1,81 1,226 1-243 1,85 1-67 1,61 1-96 1,159 1-57 1-13 1-115 1-11 1,237 1-149 1-26 1-161 1,390 1-167 1,92 1-5 1-80 1,45 1-20 1,348 1-315 1,162 1-139 1-29 1-193 1,156 1-111 1,167 1-20 1,56 1-106 1,53 1-88 1-5 1,6 1,177 1,0 1-22 1-263 1,70 1,79 1,8 1,36 1,29 1,13 1-102 1,19 1-77 1,91 1,17 1-62 1-46 1,157 1-155 1,16 1,30 1,45 1-106 1,108 1,53 1-94 1-23 1-136 1,88 1,3 1-42 1,27 1,125 1,14 1-56 1-209 1,139 1,12 1-43 1,45 1-50 1,54 1,66 1,86 1-64 1-154 1,95 1-187 1,164 1,70 1,20 1,18 1-79 1,19 1,64 1-246 1,169 1,65 1-145 1-180 1,267 1-49 1,202 1-361 1,289 1-80 1,31 1,103 1-184 1,66 1-43 1,32 1-72 1-3 1,129 1-207 1,141 1-18 1-9 1-45 1,181 1-132 1,187 1-261 1,86 1,38 1-98 1,98 1,67 1,20 1-94 1,41 1-197 1-2 1,26 1,471 1-424 1,57 1,182 1-8 1,28 1-247 1,187 1-40 1,27 1-14 1,71 1-45 1-236 1,298 1-149 1-13 1-80 1,265 1-116 1-119 1-79 1,127 1,199 1-168 1-146 1-90 1,295 1-155 1,274 1-174 1-8 1,80 1-8 1-86 1-32 1,57 1-34 1,46 1-37 1,127 1,47 1-194 1,236 1-188 1,12 1-181 1,186 1-36 1-45 1-57 1,72 1,64 1-56 1,38 1,8 1-39 1,200 1-193 1,14 1,125 1-173 1,191 1-41 1-73 1,131 1-109 1,27 1-75 1,117 1-39 1-16 1-11 1,94 1,85 1-182 1-21 1-63 1,42 1,94 1-92 1-87 1,128 1-1 1,3 1,91 1-65 1,133 1-71 1,5 1-10 1,36 1-64 1,7 1-5 1-52 1,121 1-216 1-9 1,204 1-59 1,59 1,18 1-310 1,239 1,83 1-169 1,24 1,48 1,244 1-155 1-34 1,70 1,88 1-198 1,25 1-236 1,292 1-74 1-89 1,70 1,41 1-66 1-56 1,97 1-123 1,154 1-2 1,133 1-155 1-34 1,138 1-131 1-56 1-38 1,92 1-35 1,63 1,44 1-84 1,103 1-262 1,100 1,84 1-104 1,149 1,85 1-140 1-4 1,120 1-99 1,115 1-173 1,82 1-1 1-68 1,114 1-119 1,87 1-248 1-39 1,326 1-104 1,44 1,103 1,1 1-58 1,52 1-174 1,163 1,75 1-199 1-260 1,317 1-153 1,213 1-62 1-78 1-12 1,36 1-99 1,295 1-175 1-20 1,52 1-39 1-56 1-25 1,27 1,36 1,278 1-315 1,158 1-20 1,10 1-118 1,34 1-85 1,28 1-16 1-32 1,0 1,86 1-56 1,7 1,93 1-88 1-52 1,84 1-76 1-50 1,135 1-3 1-108 1-117 1-26 1,235 1-124 1,97 1,13 1,24 1-10 1-109 1,61 1,123 1,56 1-181 1,44 1-120 1,45 1,57 1-33 1,49 1-148 1,192 1-9 1-15 1-20 1,11 1-44 1,144 1-222 1,79 1,45 1-70 1,21 1-47 1-5 1,219 1-156 1-51 1-41 1-8 1,51 1,26 1-62 1,40 1,31 1,144 1-251 1,100 1-59 1,93 1,7 1-85 1,227 1-213 1-72 1-13 1,245 1-174 1,82 1,26 1-29 1-38 1-31 1-26 1,94 1,94 1-169 1,117 1-35 1-108 1,79 1-21 1,12 1,10 1,107 1,8 1-192 1,197 1,89 1-83 1-112 1,21 1,181 1-222 1-72 1,81 1-75 1-11 1,51 1,36 1,45 1-127 1,133 1-250 1,334 1,52 1-10 1-26 1,138 1-259 1-63 1-92 1,239 1-142 1-13 1,85 1,129 1-212 1-19 1,37 1-16 1,31 1-67 1,121 1-179 1,14 1,80 1,98 1-196 1,108 1,143 1-168 1-9 1,129 1-85 1,25 1,46 1-70 1,94 1,23 1-336 1,357 1-168 1-74 1,176 1-118 1-40 1,104 1-10 1,72 1-82 1,93 1-98 1-114 1,86 1,24 1,42 1-36 1-147 1,107 1,115 1-38 1,32 1-107 1,85 1,29 1-56 1,15 1,62 1-264 1-3 1,143 1-120 1,87 1-61 1-49 1,92 1-31 1-7 1,102 1-26 1,13 1-69 1,105 1-3 1-77 1,97 1,85 1-70 1,70 1-75 1-21 1,39 1,93 1-107 1-28 1,116 1-137 1-103 1,336 1-222 1,107 1,71 1-21 1-137 1,65 1-9 1-15 1-167 1,81 1,121 1-127 1,65 1,13 1-110 1,41 1-105 1,102 1-28 1,10 1,90 1-105 1-89 1,51 1,35 1-196 1,257 1,45 1-26 1-137 1,62 1,59 1-35 1,146 1-50 1-87 1,47 1-6 1-128 1,144 1-119 1-8 1,89 1-4 1,71 1,59 1-166 1,78 1,6 1-129 1,88 1,0 1,147 1,23 1-64 1-140 1,234 1-95 1-106 1,117 1-122 1,130 1-111 1,47 1,30 1,73 1-23 1-211 1,70 1-23 1-49 1,113 1-199 1,91 1-167 1,285 1-5 1,89 1-131 1-19 1-16 1,91 1-90 1,129 1-20 1-65 1,32 1,93 1-9 1-30 1-79 1,16 1,49 1-69 1,134 1-179 1-64 1,61 1,179 1-133 1-113 1,116 1-250 1,284 1-163 1-56 1,10 1,60 1-58 1,155 1-80 1,320 1-201 1-87 1-18 1-10 1,183 1-7 1-217 1,256 1-167 1,31 1-271 1,128 1,160 1,29 1-76 1-28 1,83 1,4 1,1 1-131 1,149 1-135 1-15 1,104 1-12 1,19 1,98 1-118 1,73 1-145 1,169 1-257 1,298 1-23 1-188 1,141 1-43 1,1 1-21 1,19 1,7 1-20 1,160 1,87 1-269 1,65 1,116 1-131 1,65 1,32 1,40 1-96 1-79 1,1 1,68 1-95 1,163 1,47 1-91 1,31 1,11 1,11 1-113 1,78 1,28 1,40 1-91 1-123 1,101 1,49 1-67 1,73 1,126 1-45 1,9 1-87 1,64 1,2 1-129 1,37 1-1 1,90 1,38 1-102 1,117 1-52 1-3 1-23 1-88 1,168 1-129 1,42 1-105 1-3 1,120 1-41 1,153 1-175 1-57 1,38 1,5 1-83 1,80 1-112 1,82 1,11 1,160 1-165 1,68 1-114 1,44 1-121 1,117 1-24 1-58 1-24 1,125 1,16 1-82 1,23 1,32 1,25 1-176 1,135 1,47 1-129 1,76 1-52 1,61 1,83 1-192 1,57 1,86 1,17 1-144 1-46 1,152 1-162 1-20 1-16 1-80 1,237 1-137 1,158 1,79 1-91 1,5 1-93 1-9 1,191 1-77 1-83 1,20 1,34 1,147 1-73 1-289 1,244 1,29 1-52 1,33 1,95 1-121 1,35 1,10 1-55 1,70 1-79 1-108 1,211 1-79 1,76 1-34 1,80 1-55 1-81 1,76 1-26 1-66 1,76 1-116 1,51 1-60 1,92 1-118 1-1 1,123 1-224 1,234 1,21 1-109 1-17 1,75 1-23 1-117 1,46 1,82 1,32 1-29 1-52 1,99 1-101 1,53 1-51 1,24 1,113 1-124 1,32 1,227 1-59 1-311 1-17 1,277 1-39 1-14 1-184 1,91 1,21 1-90 1,213 1-31 1,42 1-257 1-19 1,19 1,200 1-24 1,15 1-163 1-25 1,157 1-175 1,122 1-113 1,204 1-148 1,101 1-44 1-85 1,45 1-6 1,23 1,214 1-15 1-144 1,15 1-6 1-31 1,21 1-30 1,31 1-26 1,45 1-80 1,70 1-131 1,97 1,85 1-140 1,55 1-106 1,83 1-25 1-32 1,25 1,104 1-104 1,85 1,54 1,26 1-178 1-27 1-114 1,166 1-103 1-90 1,92 1,19 1,30 1-4 1,84 1-69 1-7 1-12 1,139 1-169 1-101 1,281 1-67 1-6 1,12 1-9 1-44 1,12 1-47 1,23 1,69 1,47 1-75 1-31 1-2 1,71 1,87 1-127 1,119 1-153 1,126 1-8 1-306 1,225 1,109 1-147 1,126 1-38 1,6 1-29 1-76 1,99 1,74 1-93 1,47 1-54 1,252 1-336 1,142 1,57 1-73 1-70 1,119 1-40 1-102 1,86 1-121 1,14 1,6 1,169 1-148 1-116 1,245 1-221 1,114 1-83 1,21 1-119 1,163 1,57 1-248 1,146 1,30 1-47 1-4 1,74 1-108 1,5 1-29 1-40 1,127 1,63 1-57 1-52 1,207 1-51 1-278 1,154 1,179 1-204 1-154 1,209 1,156 1,43 1-163 1-12 1,154 1-82 1,78 1,89 1-269 1,14 1,13 1-56 1,132 1-89 1,148 1-41 1-19 1,6 1-39 1,92 1,155 1-208 1-73 1,84 1,0 1-152 1,114 1-106 1-6 1,103 1-30 1,33 1-74 1,6 1,198 1-221 1,27 1,32 1-24 1-191 1,210 1,24 1-19 1,37 1,85 1,9 1-61 1,38 1-139 1,258 1-79 1-173 1,18 1,188 1-254 1,21 1,14 1,159 1-22 1-42 1-14 1,5 1-74 1,49 1,54 1-406 1,140 1,48 1,43 1,12 1-2 1,15 1,59 1-62 1,102 1-17 1,66 1-83 1,76 1-75 1-56 1,145 1-69 1-42 1,93 1-69 1-30 1,70 1-148 1,216 1-226 1,38 1-17 1,21 1,45 1-31 1,123 1,5 1-58 1,6 1,24 1-108 1,64 1-89 1,130 1,46 1-80 1-119 1,120 1-76 1-19 1-31 1,157 1-17 1-194 1,190 1-49 1-116 1-27 1,182 1,65 1-59 1,77 1-54 1,204 1-316 1,30 1,145 1-46 1,91 1-76 1-58 1-100 1,30 1,66 1,81 1-31 1-54 1,55 1-53 1,133 1,81 1-110 1-89 1-28 1,128 1-264 1,131 1-113 1,98 1-150 1,31 1,185 1-190 1-96 1,65 1,242 1-155 1-88 1,183 1-134 1,28 1-18 1,126 1,175 1-263 1,22 1-31 1,188 1-168 1,22 1-80 1,191 1-23 1-54 1-123 1,176 1,18 1,6 1-134 1-127 1,481 1-263 1-20 1-54 1,133 1-220 1,81 1-103 1,254 1-36 1-80 1,54 1,50 1,2 1,118 1-70 1-107 1-13 1,91 1-140 1-24 1,74 1-20 1-20 1-58 1-2 1-27 1,256 1-333 1-27 1,305 1-124 1,108 1-250 1-13 1,177 1,36 1,84 1-121 1,191 1-255 1-67 1,104 1,57 1-18 1,6 1,135 1-152 1-62 1,84 1-6 1,61 1,5 1-248 1,133 1,30 1-67 1,320 1-231 1-249 1,167 1,50 1,9 1-96 1,5 1-69 1,208 1-38 1-120 1,42 1,57 1-85 1-7 1,176 1-192 1,44 1-56 1,85 1-34 1-21 1,36 1,6 1-201 1-13 1,187 1,29 1-182 1,123 1-5 1,72 1-42 1,199 1-391 1,368 1,65 1-83 1-60 1,39 1,85 1-61 1-102 1,52 1-95 1,6 1,47 1,65 1,103 1-117 1,33 1-105 1,31 1-32 1,94 1-114 1-10 1,70 1,103 1-213 1,75 1,1 1-3 1,100 1-119 1,95 1-11 1,33 1-25 1,79 1-174 1,114 1,56 1-79 1,11 1-88 1,110 1-60 1,45 1-50 1,128 1-62 1,60 1-91 1-276 1,333 1-16 1,12 1-100 1,10 1-98 1,353 1-211 1,51 1-11 1-117 1,275 1-83 1-78 1-115 1,83 1,44 1-178 1,236 1-177 1,43 1,148 1-91 1,56 1-9 1-24 1-15 1-92 1,28 1,12 1-248 1,491 1-218 1,8 1-24 1,10 1-104 1,139 1-149 1-96 1,182 1,153 1-207 1,36 1,41 1-63 1,107 1-216 1,303 1-205 1-60 1-7 1-73 1,195 1-151 1-20 1,82 1-30 1,123 1-242 1,334 1-58 1,86 1-373 1,210 1-26 1-124 1,73 1,70 1,11 1,75 1-209 1-11 1,72 1,90 1,84 1-130 1-27 1-38 1,108 1-2 1-10 1,64 1-74 1,191 1-234 1-38 1,138 1-82 1-92 1-2 1,84 1,40 1-123 1,90 1,43 1-231 1,157 1-58 1,66 1-19 1-26 1,45 1-115 1,88 1,124 1-12 1-165 1,255 1-43 1-63 1-44 1,67 1-147 1,327 1-243 1,53 1-97 1,46 1-34 1,30 1,34 1,40 1,2 1,72 1,19 1-155 1,97 1-124 1,14 1,15 1,161 1,5 1-174 1,128 1-33 1,2 1,4 1-52 1,27 1-54 1,65 1-25 1,19 1,25 1-135 1,128 1,14 1,5 1-213 1,235 1-146 1-6 1,60 1,27 1-94 1,160 1-31 1-69 1,196 1-194 1,71 1-27 1,47 1,30 1-112 1-101 1,246 1-221 1,228 1-108 1,60 1-47 1,37 1-134 1,47 1,21 1,96 1-123 1,84 1-218 1,165 1-41 1,145 1-291 1,116 1-58 1,91 1-44 1,16 1,18 1,2 1,104 1-21 1-113 1,120 1-97 1,111 1-2 1-189 1,38 1,89 1-83 1,129 1-68 1-25 1-70 1,109 1-56 1,10 1-127 1,113 1-3 1-54 1,154 1-14 1-141 1,59 1-193 1,258 1-177 1,1 1,54 1-59 1,66 1,46 1-4 1-19 1,67 1,69 1-175 1,88 1-119 1-93 1,119 1-166 1,171 1,98 1-109 1,47 1-154 1,76 1-7 1,41 1,54 1-68 1-27 1,22 1,7 1,88 1-49 1,107 1-46 1,8 1-171 1-31 1,109 1,109 1-162 1,72 1-108 1,21 1-48 1,237 1-116 1-6 1,13 1,43 1,145 1-144 1,40 1,4 1-22 1,70 1-119 1,127 1-245 1,69 1,94 1,61 1-107 1,12 1,171 1-104 1-18 1,100 1-84 1-57 1-2 1,106 1-181 1,30 1,16 1-96 1-11 1,122 1,18 1-57 1-40 1,78 1-38 1-153 1,132 1,233 1-99 1,1 1-59 1-6 1,81 1-92 1-10 1-29 1,72 1,98 1-161 1-9 1,36 1,94 1-134 1-71 1,97 1,18 1,28 1,18 1-167 1,208 1-100 1,211 1-150 1,8 1,30 1,79 1-59 1-39 1,42 1,150 1-197 1,105 1-98 1-16 1,20 1,50 1,22 1-145 1,102 1-53 1,48 1,83 1,21 1,7 1-151 1,120 1-106 1,3 1-32 1-32 1,86 1-96 1-64 1,136 1-90 1-54 1,9 1-39 1,144 1,28 1-93 1,24 1,104 1,95 1-32 1-70 1,218 1-188 1,40 1-64 1-119 1,130 1-68 1,81 1-111 1-28 1,77 1-140 1,203 1-114 1,20 1,11 1,2 1,10 1,49 1-141 1,163 1-62 1,4 1-62 1-121 1,161 1,97 1-91 1,53 1-20 1-26 1,82 1-96 1,0 1,122 1-77 1-27 1,157 1-69 1-94 1,120 1-258 1,95 1,134 1-67 1,4 1-109 1,45 1,0 1,112 1-61 1,30 1-90 1,111 1,122 1-156 1-66 1,31 1-48 1,190 1-152 1-25 1-60 1-2 1-114 1,236 1-54 1,184 1-23 1-166 1,53 1-255 1,255 1,16 1-31 1-36 1,101 1-37 1,20 1,54 1-116 1-61 1,103 1-131 1-2 1,28 1-18 1-193 1,248 1-216 1,140 1,114 1-70 1,16 1-132 1,154 1-113 1,43 1,28 1-38 1,41 1-43 1,60 1,67 1-11 1-11 1,108 1-266 1,43 1,119 1,63 1-153 1,62 1,106 1-98 1-147 1,117 1,117 1-158 1,53 1,30 1-135 1,60 1,9 1,81 1,12 1-79 1,194 1-99 1,16 1-165 1,238 1-104 1-121 1,5 1,37 1,121 1-109 1,128 1-58 1-202 1,73 1,135 1,10 1-55 1-78 1,73 1-128 1,208 1-86 1,49 1-40 1-102 1,86 1-9 1-16 1,89 1-17 1-143 1,132 1,7 1,5 1,0 1,49 1-26 1-142 1,5 1,263 1,8 1-173 1,64 1-32 1,44 1-188 1,191 1-68 1-40 1,152 1-116 1,41 1-105 1,182 1-24 1-39 1-155 1,106 1,28 1,60 1,34 1-110 1,8 1-33 1-52 1,17 1-103 1,49 1,155 1-13 1-34 1-49 1-5 1,58 1-62 1,31 1,79 1,13 1,75 1,4 1-85 1,20 1-7 1-193 1,271 1-17 1-30 1-44 1-63 1-58 1,52 1-114 1,182 1,39 1-88 1-187 1,226 1-76 1,123 1-86 1,64 1,6 1-109 1-10 1,42 1,47 1-155 1,150 1,66 1-80 1-47 1-219 1,385 1-192 1,22 1-75 1,102 1-37 1-5 1,65 1-52 1,84 1-120 1,31 1,64 1-121 1,85 1-106 1,105 1-55 1-10 1,95 1-119 1,306 1-184 1-17 1-7 1-37 1,22 1,199 1-219 1,59 1,15 1-39 1-36 1-125 1,99 1,158 1,86 1-197 1,64 1-39 1-16 1-29 1,32 1-108 1,158 1-239 1,151 1-61 1,44 1,62 1,131 1-200 1-24 1,35 1,47 1-61 1,27 1-93 1,33 1-36 1,114 1-37 1-95 1,315 1-249 1-131 1,129 1,44 1-76 1,97 1-51 1-16 1,68 1-39 1-7 1-60 1-21 1-14 1-22 1,88 1,73 1-27 1,83 1-91 1,106 1-134 1-63 1,61 1-36 1,60 1,207 1-291 1,53 1,185 1-117 1-52 1-12 1,33 1-24 1,9 1,49 1-28 1-7 1,30 1,57 1-143 1,73 1-94 1-8 1,34 1,17 1-34 1,51 1-101 1-72 1,93 1,47 1,44 1,92 1-145 1-13 1,65 1-100 1,47 1,13 1-30 1,20 1,209 1-180 1-53 1,100 1-93 1,38 1,28 1-10 1-122 1,122 1-32 1,11 1-66 1,35 1,22 1,77 1-31 1-75 1,70 1-16 1-50 1,46 1,87 1-60 1,4 1-82 1,164 1,11 1-141 1,209 1-134 1-25 1-76 1,40 1,0 1-14 1,149 1-90 1-52 1-25 1,38 1,43 1-64 1,60 1-48 1-216 1,32 1,168 1-29 1,36 1-92 1,66 1,117 1-136 1,91 1-10 1,13 1-105 1,32 1,71 1-46 1,52 1-130 1,60 1-51 1,159 1-132 1-52 1,286 1-167 1-93 1,71 1,108 1-28 1-91 1-41 1,173 1-167 1,108 1-99 1,98 1-107 1,114 1-83 1-76 1,139 1-111 1,71 1,44 1-72 1,30 1-160 1,253 1-98 1,45 1-49 1,112 1-31 1-27 1-77 1,27 1,50 1-3 1-28 1-21 1-54 1,44 1-123 1,181 1,60 1-151 1,43 1-42 1,201 1-113 1,0 1-24 1-103 1,131 1-29 1-57 1-10 1,122 1-96 1,15 1-150 1,396 1-196 1-59 1-53 1,5 1,8 1,135 1-181 1,94 1-2 1,21 1,118 1-88 1,158 1-304 1,108 1,34 1-110 1,50 1,42 1-34 1-60 1,143 1-104 1-50 1,12 1,20 1-116 1,265 1-84 1-33 1,144 1-135 1-161 1,260 1-268 1,192 1-63 1-115 1,291 1-176 1,134 1-164 1,71 1,62 1,166 1-317 1,120 1,40 1,85 1-128 1,83 1-46 1,81 1-28 1-36 1,50 1,17 1,159 1-260 1,62 1,14 1-37 1,22 1,25 1-20 1-45 1-24 1,97 1-47 1-20 1,73 1-109 1-59 1,84 1-11 1,14 1-13 1,0 1-16 1,76 1-84 1-138 1,108 1-42 1-89 1,216 1-22 1-225 1,118 1,102 1-274 1,381 1-118 1-1 1-12 1,34 1-96 1,38 1,29 1,19 1,77 1-47 1-152 1,102 1,71 1-35 1-167 1,186 1-58 1-8 1-9 1-67 1-42 1,240 1-161 1,39 1,18 1-20 1,122 1-89 1-93 1-25 1,189 1-114 1-9 1,35 1,89 1-230 1,353 1-258 1,12 1,35 1-65 1,26 1,41 1-219 1,322 1-284 1-18 1-25 1,161 1,95 1-116 1-74 1,226 1-22 1-133 1,130 1-43 1-24 1,58 1,13 1,122 1-307 1,104 1,126 1-127 1,14 1,67 1-80 1,147 1-275 1,285 1-223 1,71 1-39 1,146 1,261 1-180 1-110 1-39 1-108 1,236 1-176 1,35 1-6 1,48 1-53 1,54 1,77 1-135 1-4 1,71 1-101 1,24 1-36 1-39 1,43 1,41 1-90 1,37 1-118 1,114 1,101 1-197 1,45 1-8 1,113 1-118 1-83 1,105 1,18 1-84 1,199 1-146 1,22 1,47 1,45 1-43 1,86 1-72 1-113 1,165 1,70 1-97 1-32 1,107 1-328 1,227 1,51 1-225 1-158 1,200 1,59 1,62 1-60 1,86 1,5 1-9 1-27 1-49 1,256 1-243 1-48 1,81 1,4 1-159 1,185 1-148 1,29 1,87 1,85 1-39 1-48 1,53 1,26 1-69 1,84 1-122 1-28 1,48 1,48 1-103 1,149 1-184 1,117 1-96 1,333 1-306 1,77 1,47 1,77 1-216 1,92 1-13 1-164 1,143 1,39 1-100 1,12 1,154 1-72 1-26 1,239 1-282 1,153 1-86 1-82 1,166 1,6 1-225 1,250 1-107 1-86 1,20 1,97 1-52 1-21 1,0 1,20 1,11 1,108 1-231 1,109 1,111 1-262 1,94 1,115 1-27 1,14 1,24 1,48 1-96 1,26 1,98 1-24 1,27 1-57 1,94 1,17 1-42 1-19 1-8 1-16 1-75 1-157 1,214 1-30 1,23 1,110 1-117 1,54 1-11 1-76 1-89 1,61 1-4 1-60 1-19 1-34 1-67 1,181 1-173 1,58 1,45 1,76 1-45 1,88 1,110 1-170 1,151 1,6 1,97 1-177 1,124 1-71 1-174 1,92 1-113 1,195 1,262 1-396 1-30 1,72 1-42 1,289 1-283 1,58 1,5 1,50 1-89 1-45 1,197 1-38 1-119 1-16 1,189 1-82 1,77 1-151 1,125 1,19 1-62 1,146 1-42 1-165 1,29 1,63 1-57 1,32 1-177 1,187 1-13 1-335 1,315 1-100 1-162 1,116 1-40 1,167 1-188 1,104 1-59 1,76 1,51 1,18 1,14 1-52 1,134 1-76 1-50 1-132 1,30 1,119 1,107 1-143 1,150 1-4 1-115 1,134 1-179 1,91 1,12 1,0 1-60 1,15 1,128 1,6 1-57 1-23 1-99 1,26 1,114 1,71 1-168 1-27 1,213 1-365 1-6 1,223 1-61 1-44 1,30 1,49 1-11 1-37 1-35 1,32 1,56 1,136 1-212 1-22 1,134 1-14 1,41 1,35 1-19 1-23 1-103 1,153 1-167 1,32 1,163 1-75 1,22 1,15 1-144 1-97 1,58 1-94 1,273 1-168 1-216 1,388 1,145 1-311 1,74 1-81 1,5 1,35 1,101 1-124 1,35 1,95 1-45 1-83 1-4 1,35 1,95 1-30 1-24 1-31 1-110 1,4 1,184 1-95 1-110 1,220 1-23 1-14 1-72 1,183 1-139 1,135 1,11 1-83 1,22 1,70 1-32 1-81 1,24 1-27 1-10 1,27 1,45 1,5 1-14 1-66 1-58 1-96 1,108 1-186 1,237 1-119 1,59 1,74 1-35 1-178 1,238 1-141 1-96 1,82 1-3 1,347 1-268 1-211 1,260 1,6 1,50 1-25 1,65 1,9 1-136 1-19 1-40 1-43 1,204 1-156 1,5 1,266 1-303 1,37 1-2 1,115 1-52 1,102 1-134 1,38 1-45 1,63 1,67 1-117 1,22 1-125 1,9 1,257 1-205 1,71 1-20 1-117 1,184 1-157 1,62 1,128 1-81 1,94 1,128 1-353 1-10 1,21 1,83 1,21 1,201 1-71 1-153 1-13 1-27 1,69 1-34 1,47 1-21 1-18 1-11 1,40 1-36 1,79 1-42 1,39 1-103 1,95 1-107 1,159 1-124 1,8 1-10 1-38 1,11 1,94 1-16 1,0 1-178 1,109 1,44 1-51 1-21 1-258 1,147 1,86 1,0 1,50 1,31 1,39 1-86 1,112 1-12 1-98 1,139 1-87 1,119 1-97 1-54 1,89 1-79 1,111 1-4 1,95 1-57 1-55 1,103 1,12 1-59 1-47 1,34 1,24 1-35 1,55 1-33 1-36 1,10 1-66 1,149 1-30 1-22 1-32 1-3 1-39 1,183 1-191 1-72 1,140 1-21 1-50 1,21 1-33 1,47 1,19 1,40 1,36 1-170 1,100 1,131 1-255 1,26 1,72 1-34 1,40 1,9 1-127 1,53 1,173 1,54 1-267 1,177 1-28 1-70 1,143 1-181 1,285 1-154 1-52 1,35 1,91 1-124 1-33 1-7 1,16 1-4 1-82 1-118 1,278 1-41 1-79 1,34 1,49 1,48 1-71 1-132 1,118 1,43 1,29 1-321 1,405 1-219 1-85 1,56 1,61 1-17 1,50 1-45 1,8 1-49 1,67 1,49 1-33 1-32 1,42 1,69 1-129 1,94 1-139 1,89 1-8 1-18 1,104 1-147 1,361 1-306 1-116 1,141 1-4 1-122 1-109 1,312 1-55 1,29 1-8 1-105 1,18 1,5 1,58 1-45 1-1 1-81 1,96 1,105 1-102 1-14 1,38 1-59 1,11 1-65 1,208 1,116 1-434 1,331 1-111 1,25 1-47 1-162 1,232 1-4 1,70 1-196 1,189 1-185 1,98 1,47 1,10 1-101 1,189 1-165 1,4 1-33 1-76 1,77 1,228 1-309 1-29 1,72 1,22 1,37 1-25 1-82 1,86 1-13 1-50 1-60 1,45 1,24 1,132 1-108 1,32 1-30 1-37 1-110 1,154 1,40 1-70 1,142 1-28 1,0 1-231 1,127 1-53 1-2 1,0 1,73 1,63 1-146 1,128 1-95 1,59 1-26 1,74 1,19 1-41 1-91 1,114 1,197 1-93 1-174 1,110 1-51 1-80 1,16 1-51 1,12 1,37 1-108 1,74 1,196 1-129 1-140 1,51 1-14 1,96 1,44 1-51 1,67 1,6 1-235 1-34 1,249 1-201 1,67 1,1 1,75 1-125 1-4 1,152 1-48 1-79 1,156 1-146 1,147 1-194 1,66 1,59 1-95 1,54 1-43 1,63 1-187 1,251 1-82 1,57 1-94 1,76 1,55 1-32 1-58 1,84 1-73 1,30 1,35 1-56 1,43 1-49 1-45 1,43 1,12 1-146 1,139 1-14 1-124 1,196 1,8 1-214 1,150 1-20 1,3 1,87 1-23 1,0 1,173 1-196 1,136 1-131 1-4 1,4 1,15 1,113 1-170 1,90 1,103 1-151 1,159 1-228 1,37 1,66 1-40 1,19 1-7 1,88 1,77 1-235 1-12 1,89 1,54 1-244 1,262 1-27 1-7 1,124 1-182 1,37 1-124 1,64 1,84 1,6 1,46 1-37 1-33 1-98 1,23 1,65 1-22 1,171 1,4 1-76 1-4 1-82 1,226 1-307 1,177 1-136 1-115 1,266 1-98 1-14 1,69 1,44 1,21 1-58 1-109 1,201 1-75 1-21 1,8 1-138 1,24 1-32 1,211 1-219 1,71 1,105 1,78 1-125 1,102 1-253 1,202 1,29 1-212 1,96 1,274 1-207 1-87 1-76 1,169 1-71 1-50 1,44 1,60 1,12 1,89 1,50 1-99 1,29 1-252 1,300 1-228 1-6 1,125 1-280 1,142 1,85 1,58 1-105 1-115 1,151 1-24 1-134 1,245 1-125 1-24 1,59 1-13 1,17 1-71 1,154 1-206 1-114 1,240 1-18 1,14 1,352 1-161 1-69 1,16 1-34 1,13 1-7 1-277 1,146 1,51 1-89 1,109 1,73 1-28 1,64 1-129 1,11 1,77 1-20 1-95 1-60 1,356 1-368 1,113 1-132 1,46 1,62 1,81 1-56 1-66 1,45 1-83 1-23 1,250 1-246 1,94 1-60 1-92 1,93 1,47 1-39 1-39 1,6 1-21 1,76 1-105 1,106 1-220 1,185 1-6 1,1 1,109 1-57 1-99 1-33 1-15 1-4 1-15 1-14 1,102 1,80 1-92 1-74 1,36 1-46 1,62 1-62 1-8 1,129 1-30 1,50 1-237 1,165 1,43 1-8 1,108 1-235 1-6 1,134 1,26 1-298 1,199 1,47 1,119 1-105 1-4 1,82 1,77 1-125 1-154 1-94 1,162 1,144 1-34 1-104 1,22 1,125 1-345 1,282 1-218 1,120 1-82 1,68 1,9 1,25 1-81 1,85 1,1 1,15 1,151 1-121 1-79 1,7 1,49 1-1 1,64 1-24 1-64 1,14 1,149 1-125 1-152 1,123 1-103 1,96 1-222 1,84 1,176 1-178 1,94 1,149 1-28 1,72 1,97 1-111 1-34 1,7 1,76 1-153 1-46 1,161 1-65 1-68 1-33 1,264 1-198 1,134 1-104 1-30 1-31 1,2 1,43 1-152 1,105 1,6 1-61 1-136 1,104 1,45 1,5 1,55 1,55 1-22 1-82 1-14 1,102 1-139 1,73 1-9 1-132 1,60 1,58 1-82 1-36 1,107 1,92 1-74 1,33 1-38 1,64 1,2 1-144 1,108 1,79 1-209 1,86 1,55 1-205 1,257 1-272 1,152 1,59 1,0 1,56 1-14 1-25 1,58 1-186 1,40 1-24 1-89 1,48 1,27 1-1 1-54 1,31 1,278 1-191 1-59 1,62 1-46 1-107 1,70 1,153 1,57 1-93 1,12 1,149 1-34 1-76 1-94 1,73 1-126 1,87 1-8 1-37 1-82 1,25 1,69 1-31 1,67 1-48 1,37 1-53 1-136 1,178 1,108 1,66 1-214 1,15 1,176 1-345 1,263 1,60 1-134 1-107 1,139 1-52 1-162 1,252 1-70 1-57 1,9 1,20 1-123 1-16 1,77 1-36 1-42 1-42 1,149 1,234 1-323 1,336 1-153 1-54 1,155 1-86 1-44 1,35 1-67 1-75 1,118 1-23 1-102 1,262 1,4 1-190 1,70 1,44 1-63 1-3 1,10 1-5 1,9 1-23 1,147 1-172 1,108 1-85 1-90 1-3 1,67 1-23 1,164 1-84 1-107 1,38 1,84 1,42 1-21 1,48 1-13 1-151 1-95 1-135 1,291 1-222 1,308 1-49 1-202 1,111 1-50 1,277 1-231 1,205 1-322 1,165 1-24 1,69 1-146 1,130 1-36 1,30 1-8 1-166 1,165 1-37 1,0 1,85 1-163 1,66 1-38 1,60 1,51 1,63 1-20 1,31 1-74 1-57 1-4 1,45 1,33 1,36 1-68 1-37 1,50 1-21 1,103 1-172 1-13 1,62 1-227 1,161 1-12 1,224 1-302 1,153 1,181 1-120 1,10 1-50 1,62 1-68 1-9 1,36 1-158 1,128 1-18 1,26 1-8 1-36 1-2 1-130 1,88 1,143 1-69 1-45 1-67 1,73 1,85 1,126 1-165 1-183 1,178 1-193 1,8 1,63 1-198 1,223 1,100 1-49 1-127 1,171 1-206 1,171 1,149 1-113 1-75 1,45 1-16 1-16 1-98 1,100 1-15 1-16 1,89 1,33 1-131 1,67 1,24 1-67 1,21 1,49 1-50 1,29 1-222 1,340 1-15 1-102 1-44 1,61 1,182 1-92 1,50 1-100 1,62 1-85 1-118 1,84 1-253 1,432 1-246 1,64 1-71 1,77 1-97 1,159 1,33 1,63 1-114 1-16 1,82 1-306 1,276 1-119 1-23 1-42 1,9 1,39 1,37 1-293 1,230 1,76 1,68 1-94 1-8 1,59 1,60 1-33 1,0 1-55 1,3 1,81 1,62 1-135 1,87 1-54 1-91 1,85 1-47 1,55 1-30 1,19 1,170 1-297 1,201 1,58 1-62 1,29 1-185 1,32 1,302 1-291 1-123 1,73 1,100 1,103 1-183 1,89 1-73 1-33 1,129 1-311 1,144 1-5 1,149 1,176 1-228 1-4 1,133 1-45 1-42 1,74 1-36 1-45 1,220 1-259 1,175 1-113 1-34 1,13 1-55 1,22 1,241 1-149 1-145 1,13 1,79 1,27 1-5 1,11 1-33 1-5 1,6 1,42 1-129 1,38 1,91 1,60 1,0 1-103 1,14 1,162 1-96 1,217 1-21 1,57 1-381 1,259 1,88 1-130 1,114 1-40 1-15 1-140 1,92 1-127 1-69 1,120 1,27 1,16 1,38 1-11 1-51 1,154 1-135 1,98 1,102 1-136 1,27 1,98 1-177 1,79 1-167 1,148 1,47 1-149 1,11 1-12 1,111 1-158 1,124 1-156 1,139 1-160 1,148 1,114 1-121 1,189 1-172 1-21 1,108 1,84 1-183 1-198 1,354 1-120 1-57 1,18 1-11 1,210 1-189 1,36 1-93 1,4 1,24 1,26 1,7 1,48 1-31 1-172 1-24 1-110 1,197 1-10 1-124 1,152 1,5 1-50 1-80 1,81 1,35 1-101 1,55 1,51 1-116 1,165 1,29 1,40 1-99 1,114 1-4 1-39 1-191 1,244 1,149 1-325 1,19 1,97 1,2 1-123 1,102 1,273 1-147 1-206 1,141 1,65 1-190 1,17 1,125 1-115 1,55 1-16 1,131 1-118 1-55 1,27 1-39 1,178 1-170 1,26 1-173 1,388 1-342 1,74 1,183 1-79 1-44 1-17 1-53 1,59 1-62 1-123 1,55 1,25 1,18 1,160 1-172 1,72 1-102 1,99 1-6 1,48 1-57 1-78 1-18 1,57 1-54 1,77 1-23 1,5 1-112 1,52 1-16 1,58 1-84 1,101 1,14 1-67 1,117 1-161 1,64 1,135 1-72 1,137 1-79 1-106 1,96 1-41 1-70 1,173 1-41 1,113 1,18 1-46 1-163 1,98 1-174 1,7 1,70 1-43 1,32 1,23 1,1 1,291 1-322 1,31 1-13 1-20 1-213 1,336 1-178 1,146 1-33 1-68 1,169 1-112 1-40 1-90 1,216 1-130 1-57 1,153 1-122 1,87 1-80 1,159 1-99 1,37 1,30 1,40 1,150 1-225 1,66 1-28 1-48 1-52 1,145 1-29 1-237 1,203 1-10 1,31 1,52 1-148 1,48 1-60 1,42 1,3 1-77 1,112 1-160 1,144 1,42 1,1 1-90 1-44 1,279 1-147 1-95 1-72 1,164 1-62 1,69 1-148 1,184 1-133 1,56 1-71 1-11 1-80 1,179 1-86 1,45 1,26 1,86 1,25 1-217 1,51 1-75 1,92 1,13 1-112 1,31 1,113 1-150 1,19 1,105 1,17 1,21 1-34 1-82 1-133 1,124 1-2 1,27 1,57 1-36 1-179 1,128 1,83 1,193 1-279 1,117 1-38 1,45 1-14 1-201 1,138 1-117 1,12 1,42 1,49 1-164 1,216 1-128 1,129 1,4 1-365 1,239 1,123 1-77 1,40 1-90 1,59 1,202 1-203 1,102 1-22 1-49 1,177 1-284 1,127 1-48 1-23 1-30 1-121 1,193 1-75 1,75 1,10 1-104 1,95 1-142 1,90 1,112 1-115 1,8 1-146 1,177 1,30 1,23 1-54 1,59 1-59 1,122 1-121 1-17 1,94 1,45 1-103 1-19 1,18 1-6 1-137 1,112 1,49 1-43 1,3 1-31 1,31 1-200 1,280 1,13 1-26 1-61 1,71 1,80 1-95 1,23 1-1 1,32 1-115 1,111 1-153 1-35 1,14 1,83 1,72 1,27 1-8 1-196 1,177 1,158 1-171 1,110 1-80 1-39 1-21 1,21 1-109 1,56 1,58 1-83 1,64 1-130 1,89 1,203 1-89 1,162 1-105 1,15 1,18 1-89 1,9 1-112 1,76 1-46 1,192 1-74 1-16 1-124 1-69 1,102 1,74 1-85 1-14 1,8 1,52 1-5 1-69 1,6 1,27 1-156 1,124 1,21 1,16 1-81 1-46 1,66 1-38 1-36 1,9 1,39 1,34 1-48 1-58 1,115 1-164 1,105 1,43 1-67 1-33 1,100 1-22 1-117 1,2 1-7 1,82 1-76 1-13 1,133 1-43 1-75 1,116 1-15 1,55 1-60 1,44 1-58 1-46 1,99 1-58 1-80 1,127 1-11 1,29 1-164 1,180 1-89 1-17 1,72 1,37 1-105 1,103 1-47 1-111 1,97 1-71 1,95 1,88 1-65 1-76 1,8 1-110 1,22 1-48 1,215 1-99 1,75"/>
<path transform="matrix(0.119780,0,0,0.1,72.40,0)" vector-effect="non-scaling-stroke" fill="none" stroke="#1a8c1a" stroke-width="1.70" stroke-linejoin="bevel" d="M0,8419l1-5 1-18 1,74 1-107 1,24 1,48 1-49 1,11 1-57 1-24 1,102 1,78 1-148 1,126 1-37 1,22 1-87 1,77 1,44 1-43 1,4 1,56 1-114 1,28 1,8 1,10 1,36 1-132 1,73 1-21 1,45 1-19 1-45 1,69 1-43 1,19 1,3 1,2 1-66 1,141 1-79 1-62 1,103 1-101 1,55 1,11 1,24 1-42 1,62 1-105 1,21 1-27 1-20 1,57 1-45 1,119 1-39 1,2 1,9 1,52 1,1 1-146 1,124 1-34 1,32 1-22 1-11 1,22 1-67 1,0 1-13 1,77 1-32 1,36 1-38 1-10 1,49 1,25 1-17 1-83 1,110 1,2 1,65 1-105 1-37 1,0 1,8 1,20 1,39 1-64 1-5 1-12 1,54 1-9 1-59 1,32 1-21 1-7 1,28 1-37 1,23 1-31 1-18 1,64 1-28 1-40 1,6 1,56 1,71 1,88 1-92 1-8 1-28 1-26 1-26 1-18 1,51 1,72 1-20 1-18 1-9 1,60 1-31 1-30 1-44 1,30 1-61 1,91 1-201 1,159 1,61 1-110 1-1 1-95 1-26 1,82 1,97 1-67 1-150 1-16 1,54 1,30 1-85 1-51 1,191 1-72 1-46 1-22 1,112 1-124 1-25 1,2 1,6 1,94 1,149 1-106 1,127 1-176 1,157 1-110 1,18 1-13 1,101 1-170 1,132 1,41 1-37 1,0 1,1 1-59 1,5 1-8 1,14 1-39 1,69 1,48 1-131 1,84 1-71 1-23 1,48 1-79 1,84 1,1 1-24 1,115 1-37 1-5 1,187 1-204 1,102 1-29 1-23 1-65 1,141 1-16 1,113 1-66 1,48 1-318 1,195 1-5 1-131 1,214 1,30 1-218 1-49 1,195 1-204 1-41 1,37 1,43 1,3 1,9 1-4 1,53 1-60 1-15 1-41 1,27 1,7 1-8 1-54 1,112 1-115 1,81 1-92 1,211 1-212 1,54 1-106 1,66 1,66 1-139 1,59 1,126 1-14 1-282 1,176 1-33 1-79 1,117 1,23 1-120 1-16 1,168 1-136 1-36 1,65 1,32 1-109 1,50 1-64 1,183 1-120 1-104 1-4 1,125 1,29 1-83 1,10 1-46 1-79 1,147 1,132 1-127 1-43 1,154 1,166 1-187 1-100 1,134 1-157 1-44 1,48 1,43 1-51 1,33 1-114 1,89 1-102 1,98 1,152 1-76 1-69 1,97 1-36 1,118 1-204 1,103 1-165 1,126 1,121 1-129 1-22 1,125 1,66 1-117 1,74 1-97 1,154 1-101 1-51 1,69 1-16 1-215 1,117 1-104 1,32 1-36 1,380 1-212 1-124 1,141 1-80 1,93 1-34 1,114 1-57 1-118 1-46 1,242 1-178 1-12 1,22 1-147 1,158 1,54 1,5 1-138 1-156 1,189 1-95 1,60 1-144 1,237 1-6 1-161 1-15 1-3 1,1 1,402 1-270 1-79 1,195 1-3 1,48 1-39 1-239 1,101 1-38 1,53 1,0 1,47 1-60 1,42 1-58 1,16 1-13 1-158 1,161 1,16 1-88 1,219 1-183 1,107 1-83 1,51 1-6 1,41 1-140 1,130 1-24 1-34 1-20 1-71 1,30 1,100 1,26 1-22 1-56 1,100 1-100 1,27 1,69 1-122 1,6 1-8 1,22 1,98 1-38 1-50 1-95 1,49 1-24 1,50 1,105 1-306 1,47 1,155 1-9 1,179 1-183 1,53 1,204 1-202 1,38 1,42 1-31 1-9 1-71 1,108 1,192 1-202 1,46 1-107 1-48 1,17 1,11 1-15 1,110 1-237 1,190 1,3 1,8 1,18 1,74 1-74 1,35 1-73 1,162 1-100 1-99 1-37 1,191 1-152 1,261 1-162 1-59 1,278 1-184 1-41 1-91 1-113 1,271 1-64 1-6 1-162 1,169 1-111 1-101 1,210 1-156 1,112 1,175 1-162 1-111 1,181 1-76 1-51 1,12 1-90 1,5 1-3 1,97 1-86 1,58 1,28 1-84 1,112 1-25 1-60 1,78 1-63 1,13 1-35 1,105 1-176 1,71 1-11 1,133 1-155 1,37 1,120 1-335 1,289 1-62 1,30 1,6 1,58 1-156 1-87 1,186 1-62 1,117 1-95 1-71 1,75 1,0 1-49 1,12 1-10 1-22 1,151 1-103 1,44 1-49 1-111 1,244 1-63 1-1 1-63 1,125 1-41 1,96 1-236 1,115 1,48 1-31 1,175 1-353 1,183 1-116 1,39 1,34 1,60 1-86 1-57 1,298 1-113 1-98 1-65 1,101 1,36 1,37 1-107 1-3 1-46 1,230 1-198 1,102 1-8 1-127 1,61 1,25 1,102 1-244 1,180 1-141 1-37 1,58 1-146 1,149 1,50 1-66 1,32 1,20 1-79 1,173 1-243 1,113 1-18 1,4 1-104 1,92 1,52 1-111 1,20 1-8 1,64 1,25 1-12 1,77 1-139 1,25 1-52 1,80 1-4 1,115 1-13 1-153 1,128 1-83 1-12 1,27 1,19 1-84 1,22 1-120 1,176 1,29 1-189 1,128 1,75 1-51 1,132 1,106 1-268 1-33 1,93 1-74 1,53 1-73 1,23 1-46 1-35 1,134 1-129 1,85 1-168 1-87 1,171 1,5 1-26 1,144 1,30 1-30 1-63 1,42 1-51 1-202 1,368 1-33 1-110 1-63 1,93 1-5 1-4 1-123 1,77 1,59 1-189 1,52 1,35 1,69 1,33 1-39 1-57 1,57 1,113 1-4 1,2 1,14 1-182 1,145 1-72 1,157 1-248 1,109 1-73 1-42 1,207 1-42 1-40 1,181 1-29 1,27 1-158 1,27 1-67 1,206 1-84 1,134 1-212 1,112 1-114 1,140 1-68 1-3 1-72 1-14 1-35 1,23 1,224 1-79 1-65 1-40 1-95 1,133 1,15 1-18 1-41 1,50 1,108 1,13 1-96 1-118 1,225 1-92 1-186 1,75 1,322 1-269 1,32 1-2 1-97 1,160 1-151 1,97 1-234 1,275 1-34 1-79 1-69 1,57 1,42 1-51 1,0 1-15 1,225 1-304 1,32 1-129 1,0 1,52 1,6 1,31 1-36 1,173 1-55 1,44 1,154 1-84 1-121 1,143 1-1 1-139 1,47 1-35 1,67 1-103 1,13 1,120 1-52 1-131 1,144 1-138 1,59 1-205 1-25 1,85 1,139 1,0 1,132 1-155 1-21 1,263 1-89 1-11 1-268 1,202 1-117 1,137 1-12 1-15 1-43 1-6 1,92 1-27 1-168 1,138 1-49 1,42 1,74 1-66 1-113 1-44 1,167 1-70 1,73 1,69 1-101 1,80 1-51 1-80 1,80 1-138 1,159 1-28 1-148 1,143 1-17 1,96 1,5 1-20 1-105 1,89 1-46 1-55 1,109 1-108 1,6 1,77 1-70 1,7 1,85 1,55 1-99 1,106 1-150 1-50 1,24 1-90 1,116 1,88 1,4 1,27 1-1 1-37 1-36 1,28 1,15 1-81 1,23 1,29 1,17 1-10 1-71 1,166 1-372 1,227 1-60 1,200 1-101 1-73 1,61 1,67 1-145 1-80 1,54 1,170 1-107 1,26 1-23 1,69 1-24 1-77 1,137 1-1 1-50 1-56 1,141 1,7 1-12 1-4 1-26 1,82 1-7 1-87 1-84 1,114 1,156 1-240 1,36 1-111 1,33 1-46 1,97 1-117 1,31 1,64 1-119 1,89 1-165 1,209 1-123 1,75 1-22 1,10 1-19 1,80 1-123 1,74 1-124 1,55 1-11 1,76 1-69 1,18 1,102 1-53 1-122 1,368 1-149 1,143 1-174 1,11 1-33 1,64 1-156 1,49 1-139 1,266 1-23 1-51 1,143 1-146 1-169 1,121 1-15 1-51 1,262 1-149 1,46 1-83 1-156 1,91 1,42 1,41 1,33 1-102 1,312 1-90 1-42 1-27 1-23 1-80 1,11 1-91 1-37 1,148 1-1 1,112 1-41 1-76 1,79 1-24 1-33 1-26 1-17 1,117 1-33 1-83 1-41 1,79 1,95 1-234 1,130 1,102 1,0 1-262 1,57 1-53 1,129 1-28 1-14 1,16 1,0 1,39 1-155 1,188 1-135 1,44 1,54 1-123 1-15 1,145 1-42 1,4 1-36 1,63 1-47 1,19 1,315 1-293 1,142 1-79 1-117 1,178 1,82 1-89 1-161 1,6 1,83 1,32 1-50 1,48 1,29 1-26 1-14 1-32 1-13 1,94 1-109 1-148 1,80 1-49 1,340 1-259 1,16 1,78 1,23 1,16 1-40 1,16 1,10 1,7 1-141 1,140 1-90 1-43 1,78 1-1 1-6 1,24 1,57 1-128 1,188 1-104 1,81 1-24 1,62 1-129 1,249 1-309 1,182 1-53 1-168 1,113 1-29 1,1 1,13 1,136 1-159 1,61 1-57 1-20 1,217 1-187 1,22 1-285 1,157 1-6 1-23 1,48 1,47 1,30 1-119 1-77 1,12 1,36 1,30 1-60 1-52 1,225 1-135 1-41 1,209 1-16 1-39 1,8 1,154 1-96 1-55 1,59 1,149 1-310 1,121 1-13 1-77 1,158 1-152 1,62 1,238 1-122 1-162 1,91 1,5 1,85 1,6 1-55 1-44 1-36 1,183 1-213 1,55 1,148 1-47 1-80 1-7 1-69 1,86 1,42 1,43 1-51 1-4 1-54 1-33 1,21 1-48 1,14 1-13 1,88 1-93 1,50 1-157 1,63 1,92 1,14 1-22 1,5 1,33 1,78 1,9 1-176 1-79 1,18 1,100 1-7 1-41 1,75 1,41 1,14 1-176 1,118 1-45 1-27 1-29 1,38 1-93 1,31 1,55 1,77 1,194 1-89 1-116 1,76 1-150 1,127 1-72 1-136 1,72 1,164 1-80 1,35 1-40 1,54 1-7 1-172 1,123 1,8 1,31 1,57 1,228 1-393 1,229 1-159 1,41 1,104 1-88 1-77 1,237 1-150 1,70 1-47 1,105 1-179 1,76 1-128 1,20 1-222 1,279 1,1 1-98 1,140 1,118 1-211 1-129 1,99 1,73 1-39 1-101 1-103 1,275 1-126 1,133 1-25 1,42 1-140 1,179 1,57 1-199 1-7 1-131 1,117 1,36 1,9 1-36 1-11 1,135 1-126 1,24 1-67 1,50 1,64 1,21 1-47 1,50 1,2 1,83 1-116 1-37 1,115 1,25 1-143 1-129 1,109 1,49 1,5 1,41 1,23 1-163 1,87 1,134 1-36 1-167 1,73 1,32 1-13 1,85 1,10 1-101 1-49 1-155 1,104 1,30 1,211 1-114 1,1 1,80 1-326 1,208 1,8 1-79 1,61 1,22 1-16 1,10 1,15 1-115 1,164 1-137 1-35 1,192 1-30 1-183 1,16 1,47 1,31 1-90 1,78 1-123 1-113 1,251 1-71 1,31 1,3 1,70 1-17 1-118 1,135 1,13 1-108 1,114 1,1 1,142 1-71 1,30 1-35 1-76 1-7 1-50 1,99 1,118 1-181 1-220 1,232 1-32 1,81 1,142 1-165 1-84 1,54 1,85 1,5 1,6 1-77 1,107 1-162 1-172 1,220 1,21 1,26 1,60 1-123 1,120 1-111 1,61 1-154 1,93 1-78 1,58 1-61 1-33 1-6 1,101 1-77 1,10 1,137 1-10 1-164 1-11 1,219 1-27 1-183 1,32 1-27 1-37 1-32 1,51 1-17 1-34 1,72 1,3 1-14 1,45 1-42 1,46 1-34 1-65 1-11 1,97 1,127 1-74 1-137 1-38 1,169 1,121 1-136 1,44 1-116 1,5 1,56 1,45 1-8 1,39 1-39 1,38 1-97 1,51 1,29 1,19 1-154 1,123 1-371 1,196 1,164 1-122 1,148 1-49 1-329 1,297 1-133 1,78 1,90 1-114 1-36 1,30 1,34 1,79 1-85 1,237 1-310 1,148 1-11 1-150 1,2 1,27 1-7 1,12 1,96 1-113 1-77 1,73 1,3 1-27 1,74 1,173 1-196 1,30 1,89 1-211 1,105 1-60 1-57 1,44 1-66 1-81 1,117 1,105 1,0 1,0 1-53 1,31 1,47 1,16 1,120 1-72 1-88 1,63 1-21 1-130 1,29 1,65 1-174 1-10 1,98 1-24 1,129 1,14 1-209 1,192 1-141 1,40 1,98 1-32 1-80 1,32 1-85 1,13 1,139 1-49 1,132 1-159 1,22 1,126 1-115 1-62 1,120 1-71 1-59 1,125 1-267 1,181 1,131 1-60 1,180 1-275 1,127 1-171 1,216 1-20 1-7 1-76 1,113 1-193 1,125 1,1 1-165 1,99 1-18 1,126 1-113 1,73 1-127 1,50 1-70 1-5 1,40 1-70 1,89 1-25 1-105 1,138 1-77 1-52 1,82 1-83 1,99 1,99 1,24 1-44 1-54 1-82 1-68 1-36 1,165 1-63 1,42 1,15 1-195 1,251 1-83 1-23 1,53 1,84 1-11 1,40 1-320 1,203 1-192 1,187 1,116 1,65 1-19 1-219 1,112 1-60 1,82 1-361 1,385 1-117 1-43 1,81 1-151 1,82 1-27 1,96 1-61 1-58 1,38 1-7 1-74 1,170 1-31 1-53 1-33 1-6 1,127 1-159 1,97 1-71 1,72 1,111 1-86 1,39 1-4 1,23 1-85 1,20 1,100 1-22 1-35 1-44 1-32 1-15 1,56 1-134 1,81 1,73 1-3 1,42 1,57 1-185 1-4 1,50 1,47 1,39 1-79 1,16 1-72 1,252 1-152 1,28 1-150 1,34 1-2 1,63 1-83 1,14 1,103 1-127 1,32 1,46 1-148 1,302 1-4 1-146 1,182 1-168 1-46 1-157 1,295 1-54 1-113 1,188 1-164 1-126 1,77 1-62 1,98 1,58 1,10 1-167 1,84 1,75 1,68 1-7 1-21 1-165 1,194 1-125 1-51 1,63 1-37 1,89 1,6 1-5 1-52 1,219 1-173 1-53 1,78 1,234 1-283 1-184 1-21 1,152 1-3 1,117 1-131 1-47 1,152 1-15 1-73 1,61 1-202 1,5 1,71 1-28 1,311 1-307 1,80 1-101 1,58 1,17 1-58 1-1 1-62 1,184 1-16 1-4 1-100 1,137 1-115 1,61 1-46 1-144 1,282 1-86 1-44 1,88 1,86 1,61 1-142 1-50 1,89 1-35 1-124 1,130 1-80 1-30 1,133 1-236 1,142 1-47 1,80 1-52 1-35 1,23 1,98 1-5 1,258 1-151 1-263 1,143 1,54 1-172 1,95 1-107 1-3 1,135 1-120 1-83 1,216 1-50 1-16 1,120 1-106 1,12 1-55 1,21 1-42 1,174 1-41 1-10 1-52 1,3 1,153 1,37 1-125 1-236 1,171 1-50 1-42 1,183 1-132 1,15 1,5 1-39 1,2 1-241 1,332 1-169 1,36 1,128 1-98 1,71 1-93 1,23 1,98 1-310 1,255 1,20 1-15 1-64 1,115 1-34 1,101 1-285 1,191 1-7 1-2 1-30 1,101 1-199 1,166 1-21 1-88 1,5 1,13 1-132 1,89 1,175 1-30 1,199 1-366 1-5 1-97 1-70 1,105 1,73 1-32 1-99 1,147 1-89 1,139 1-51 1,22 1-225 1,429 1-423 1,256 1-13 1-31 1-49 1,335 1-389 1-78 1,70 1,99 1,193 1-328 1,24 1,54 1,8 1,39 1-149 1-93 1,49 1,226 1-272 1,68 1,30 1,73 1-54 1,92 1-145 1,150 1-305 1-89 1,41 1,6 1,80 1,86 1,99 1,31 1-171 1,94 1-255 1,306 1-41 1,25 1-41 1-80 1,132 1,37 1-33 1-154 1,155 1-12 1-144 1,67 1-71 1-877 1,933 1,3 1-25 1-13 1,147 1-74 1,77 1,71 1-193 1,184 1-369 1,244 1-65 1-127 1,233 1-114 1,133 1-138 1,51 1,140 1-133 1,16 1-180 1,18 1,30 1,28 1,189 1-309 1,74 1,91 1-116 1,58 1-138 1,137 1-4 1-71 1,97 1-60 1,82 1-74 1-202 1,246 1,40 1,83 1-51 1,160 1-98 1-147 1-104 1,140 1,5 1-158 1,207 1-53 1-163 1-58 1,132 1,76 1-178 1,113 1-23 1,7 1-157 1,105 1-54 1-70 1,182 1-161 1,187 1-110 1,204 1-10 1,0 1-38 1-66 1,50 1,6 1-60 1-11 1,104 1,2 1-81 1,23 1-6 1-43 1,65 1,59 1-203 1-128 1,254 1-31 1,21 1-213 1,31 1-213 1,184 1,209 1-6 1,157 1-78 1,4 1,37 1-91 1-149 1,189 1-133 1,434 1-406 1,282 1-28 1-112 1,167 1-317 1,194 1-169 1-48 1,339 1-158 1,32 1-30 1,40 1,35 1-103 1,170 1-70 1-272 1,296 1-25 1,39 1-22 1-164 1,216 1-71 1,2 1,17 1,240 1-266 1,161 1-77 1,85 1-105 1-67 1,15 1,80 1-33 1,14 1-50 1,79 1,3 1,58 1-169 1,220 1-96 1-43 1,115 1-76 1-44 1-36 1-38 1-180 1,101 1,167 1-27 1-77 1,342 1-153 1-200 1,199 1-135 1,15 1-75 1,52 1-107 1,216 1,42 1-138 1,29 1-189 1,133 1,110 1-179 1,269 1,67 1-381 1,368 1-210 1-153 1,188 1-84 1,259 1-78 1-146 1-23 1,211 1-145 1-36 1,26 1,114 1-161 1,39 1-9 1,105 1-3 1-88 1-31 1,84 1-95 1-58 1,69 1,185 1-164 1-61 1,157 1-90 1-34 1,84 1,109 1-281 1,44 1,169 1-23 1-146 1,86 1,53 1-28 1,21 1,71 1-121 1,16 1,8 1,76 1-32 1-21 1,89 1-213 1,46 1-56 1,215 1-6 1-42 1-129 1,118 1,74 1-173 1,96 1,208 1-260 1,107 1,30 1-32 1,3 1-35 1-41 1,239 1-21 1-65 1-47 1-26 1,160 1-60 1,22 1,212 1-198 1,20 1-206 1,130 1,91 1-136 1,131 1-142 1,88 1-17 1-130 1,111 1,9 1-65 1,63 1,153 1-203 1,231 1-186 1,33 1-36 1,8 1-97 1-20 1,171 1-245 1,209 1,94 1-188 1,90 1,25 1-147 1,146 1-218 1,120 1,65 1-9 1-128 1,75 1,135 1-121 1,183 1-78 1-59 1-25 1-29 1,107 1-26 1-38 1,141 1-242 1-141 1,253 1-128 1,187 1-53 1-6 1,146 1-35 1-40 1-43 1-4 1,68 1,68 1-87 1-56 1,137 1-22 1-93 1,179 1-281 1,84 1,81 1-2 1,0 1-17 1,58 1-103 1,102 1-235 1-18 1,279 1-102 1-17 1,31 1-41 1,57 1-35 1,1 1,59 1-161 1,36 1,241 1-259 1-103 1,223 1-126 1,146 1-86 1,123 1-150 1,80 1-80 1,174 1,33 1-181 1,125 1-90 1,25 1,110 1-66 1-77 1,135 1-169 1-59 1,120 1,99 1-128 1-71 1,118 1-180 1,161 1-168 1,73 1-7 1,75 1,7 1,26 1-36 1,110 1-81 1,71 1-99 1,96 1-93 1-51 1,240 1-184 1-23 1-100 1,103 1-21 1,34 1,136 1-67 1-35 1,80 1-161 1,158 1,49 1-123 1,69 1-37 1-136 1,115 1-84 1,62 1,7 1,31 1-93 1-65 1,155 1-299 1,277 1-194 1,107 1,234 1-33 1-54 1-175 1-70 1,113 1-48 1,97 1-6 1,79 1-114 1-66 1,209 1,83 1,1 1-151 1,79 1-48 1,84 1-7 1-46 1-304 1,311 1,48 1-171 1,35 1-39 1-2 1-72 1,97 1-59 1,95 1-48 1,135 1-173 1-51 1-52 1,55 1-160 1,315 1-33 1-37 1,28 1,12 1-157 1,157 1-44 1,3 1-58 1,125 1,118 1-175 1-7 1-75 1-140 1,215 1-32 1,96 1-57 1-1 1,76 1-47 1-193 1,112 1-128 1,247 1-81 1-54 1-74 1-86 1,259 1,2 1-53 1-49 1-37 1-60 1,53 1,9 1-48 1,155 1-11 1,87 1-17 1,25 1-139 1,55 1-25 1-101 1,60 1,86 1-37 1-100 1,328 1-209 1,113 1-91 1-4 1,26 1,17 1-27 1,147 1-108 1-172 1,8 1,149 1-29 1-2 1,182 1-348 1-59 1,99 1,0 1,74 1-1 1-6 1,1 1-265 1,208 1,176 1-186 1,150 1-34 1-32 1,111 1-11 1-86 1,22 1,98 1-196 1,104 1-22 1,103 1-254 1,189 1-79 1-99 1,85 1,177 1-26 1,82 1-149 1-49 1,16 1-45 1-39 1,22 1,132 1-198 1,154 1-230 1,53 1,231 1-239 1,171 1,69 1,68 1-43 1-214 1,207 1,9 1-18 1-48 1,9 1,13 1-98 1,131 1-85 1,227 1-233 1-135 1,92 1,21 1,54 1,59 1,42 1-303 1,124 1-96 1-58 1,239 1-68 1-25 1-36 1,180 1,186 1-309 1-59 1,173 1-20 1-119 1-43 1,118 1-54 1-76 1-54 1,121 1,0 1,39 1-56 1,25 1,3 1,2 1,67 1-331 1,338 1-144 1,39 1,31 1,77 1-192 1,15 1,121 1,20 1,71 1,97 1-197 1-87 1,171 1,233 1-284 1,38 1-84 1,132 1-69 1,140 1-86 1-162 1-9 1,28 1,8 1,80 1,131 1-244 1,107 1-107 1,152 1-25 1,50 1,64 1-56 1-108 1,60 1-88 1,178 1-242 1,79 1-165 1-121 1,284 1,102 1-48 1-25 1-50 1,4 1-20 1,26 1,61 1,88 1,12 1-231 1,134 1,52 1-107 1,258 1-166 1-177 1,165 1-93 1-83 1,29 1,140 1-76 1,5 1,142 1,53 1-263 1,188 1-110 1,0 1,88 1-370 1,343 1-41 1-89 1,196 1-121 1-61 1-81 1,144 1-71 1,7 1-71 1,140 1-168 1,145 1-5 1-87 1,2 1-72 1,28 1,134 1-72 1,132 1-86 1-42 1,175 1-155 1,13 1,84 1,29 1-254 1,99 1-50 1,78 1-6 1-151 1,80 1,64 1-72 1,24 1-257 1,131 1,117 1-3 1,134 1,95 1-183 1,283 1-238 1,119 1-136 1,15 1-12 1-123 1,108 1-44 1-2 1-14 1,61 1,138 1-64 1-8 1-302 1,206 1,101 1-84 1,156 1-81 1,99 1-66 1-133 1,36 1,48 1-98 1,48 1-101 1-22 1,97 1,54 1,87 1,28 1-86 1-52 1,69 1-72 1,112 1-181 1,25 1,1 1-68 1,150 1-44 1,1 1-83 1,39 1,188 1-14 1-264 1,245 1-95 1,31 1,5 1-16 1,94 1,69 1-33 1-147 1,179 1-161 1,122 1-256 1,200 1,5 1-2 1-200 1,59 1-102 1,130 1,182 1-193 1,236 1,2 1-108 1,9 1,86 1,23 1-213 1,57 1,54 1-90 1-235 1,173 1,154 1-68 1,50 1-82 1,28 1,238 1-275 1,172 1-96 1-35 1-18 1,12 1,96 1-62 1-57 1,132 1-307 1,289 1,13 1-198 1,125 1-35 1,48 1,195 1-234 1-5 1,17 1-95 1,97 1,51 1-213 1,234 1-73 1,25 1-143 1,35 1,20 1,90 1-120 1,142 1-60 1-11 1-97 1,18 1,89 1,35 1-104 1,58 1,58 1,79 1-64 1,58 1-213 1,116 1,58 1-69 1,82 1,22 1-196 1,232 1-253 1,138 1,45 1-194 1,118 1-70 1,307 1-332 1,25 1,61 1-67 1,109 1-9 1,35 1-89 1,60 1-64 1-169 1,127 1,55 1-32 1-39 1,169 1,54 1-101 1,44 1-289 1,250 1-26 1,45 1-166 1,283 1-141 1,8 1,52 1-94 1,230 1-164 1-37 1,77 1-146 1,342 1-248 1-78 1-15 1,199 1-45 1-17 1,1 1-51 1,266 1-85 1-72 1,121 1-204 1,58 1-19 1,80 1,28 1-60 1-34 1,25 1-84 1-6 1-44 1,214 1,32 1-112 1-69 1,87 1,87 1-118 1-99 1,60 1-9 1,53 1,33 1-3 1-52 1-123 1,8 1,219 1-171 1-46 1,214 1-25 1,161 1-203 1,76 1,38 1-176 1,82 1,77 1-2 1-90 1-15 1-25 1,42 1-130 1,184 1-44 1-46 1,126 1-52 1-227 1,75 1,149 1-95 1,112 1-185 1,173 1,24 1-12 1-96 1-1 1,23 1-103 1,168 1-118 1,164 1,12 1-8 1-82 1,110 1-150 1-45 1,80 1,6 1,18 1,69 1-52 1-31 1-66 1,8 1-13 1,58 1-104 1,50 1,60 1,63 1-47 1,115 1-170 1,88 1,39 1-11 1-44 1,67 1-49 1,54 1-80 1,2 1-88 1-95 1,309 1-229 1-189 1,35 1,190 1,113 1-158 1,84 1-77 1-68 1,24 1-66 1,29 1,191 1-110 1,246 1-391 1,193 1,5 1-49 1,28 1,111 1-156 1-82 1,45 1,46 1,103 1-144 1,62 1-35 1-24 1-96 1,198 1,34 1-201 1,29 1,28 1-13 1,79 1,69 1-188 1,61 1,76 1,43 1-36 1-40 1,59 1,33 1-106 1-23 1-4 1,131 1-67 1-78 1-187 1,314 1-79 1-11 1-242 1,420 1-141 1,96 1-49 1,37 1,59 1,66 1-67 1-2 1-22 1-53 1,178 1-86 1-16 1,69 1-110 1,4 1-51 1-22 1,22 1-55 1,30 1-138 1,28 1,95 1,98 1-83 1-63 1,58 1,43 1,38 1-157 1,68 1-38 1,34 1-1 1,76 1,75 1-186 1,113 1-115 1-12 1,116 1-132 1,87 1-182 1,230 1-114 1,4 1,67 1-72 1-13 1,24 1-38 1,52 1-23 1,28 1-45 1-70 1,36 1,58 1-34 1,43 1-22 1,22 1-79 1,112 1,37 1-121 1-44 1,85 1-184 1,27 1,137 1-113 1,24 1-15 1-30 1,54 1,105 1-48 1-49 1-19 1-30 1,32 1-32 1,35 1,25 1-66 1,29 1,47 1-68 1,2 1,33 1-3 1-11 1-36 1-27 1,118 1-15 1-95 1,24 1-40 1-1 1,0 1-58 1,77 1,26 1-38 1,13 1,126 1-115 1,38 1,57 1,22 1-12 1-128 1-23 1-150 1,216 1-21 1-151 1,257 1,89 1-151 1,24 1-53 1-39 1,65 1-92 1,110 1,9 1-64 1,58 1,204 1-185 1,150 1-190 1,92 1-59 1,59 1-91 1,17 1-13 1,29 1-84 1,147 1-3 1-225 1,214 1,22 1-43 1-181 1,119 1,20 1-147 1,120 1-49 1,39 1-46 1-18 1,78 1-128 1,84 1,18 1-115 1,136 1,32 1-42 1-63 1,41 1-18 1,122 1-141 1,73 1-113 1,14 1,40 1-23 1,97 1-135 1,183 1-148 1,23 1,0 1,85 1,11 1-74 1-45 1,32 1-91 1,199 1-44 1-110 1,4 1,27 1,69 1,57 1,37 1-68 1,3 1-67 1,59 1-50 1-34 1,97 1-86 1-34 1,127 1-121 1-10 1,21 1,141 1-19 1-43 1-27 1,73 1-16 1-48 1,29 1-5 1,94 1-204 1,77 1,38 1,22 1-35 1-18 1-29 1,29 1,15 1,74 1-170 1,46 1,19 1-75 1-12 1,132 1,23 1-39 1-59 1,223 1-196 1,15 1-63 1,81 1-105 1,213 1-2 1-247 1,129 1,34 1-87 1,54 1,32 1,27 1,8 1-83 1,83 1-64 1,53 1,20 1-140 1,137 1,4 1-108 1,79 1-159 1,164 1-82 1,26 1-14 1-11 1,26 1-72 1,10 1-42 1,102 1-70 1,71 1,5 1-46 1,5 1-15 1,170 1-129 1-69 1-143 1,205 1,89 1-89 1-19 1-42 1,9 1,155 1-45 1,27 1-100 1,127 1-90 1-59 1,43 1,98 1,26 1-61 1-19 1-71 1-57 1,105 1,24 1-66 1,95 1-82 1,110 1-120 1,27 1-71 1-122 1,201 1-70 1,79 1-6 1-79 1,135 1-95 1,99 1,5 1-35 1-82 1,4 1,124 1-141 1,63 1-25 1,101 1-85 1-174 1,99 1,24 1,73 1-67 1-62 1,70 1,95 1-30 1,44 1-145 1,22 1,15 1,95 1,10 1-218 1,202 1-78 1-99 1,40 1,62 1,10 1-82 1,169 1-34 1,15 1,23 1-137 1,117 1-30 1-11 1-53 1,14 1-12 1-32 1,63 1,108 1-109 1-19 1,4 1,24 1,73 1-5 1-68 1,21 1-21 1-21 1,28 1,8 1-110 1,34 1,32 1,106 1-72 1,38 1-39 1,100 1-71 1,53 1-41 1,25 1-35 1-65 1,49 1,24 1-6 1-21 1,79 1,19 1-125 1,67 1,71 1-33 1,66 1,76 1-364 1,94 1,48 1-198 1,116 1,63 1,51 1,4 1-70 1-97 1,1 1,127 1,10 1-79 1-95 1,211 1-55 1-120 1,168 1-90 1,115 1,52 1-134 1,2 1-69 1,104 1-155 1,93 1,114 1-15 1-152 1,13 1,274 1-219 1-24 1,62 1,18 1-51 1-50 1,159 1-176 1-14 1,91 1,114 1-152 1,8 1,48 1-146 1,143 1-3 1-107 1-74 1,44 1,47 1,39 1,7 1,59 1-193 1,102 1-24 1-3 1-26 1-16 1,100 1-6 1-54 1,199 1-178 1,153 1-242 1,135 1,35 1-35 1-71 1,82 1-102 1-22 1-26 1,280 1-256 1,100 1,6 1-103 1,154 1-30 1,70 1-47 1,8 1-77 1,159 1-106 1,21 1-44 1-5 1-26 1,74 1-268 1,243 1-85 1-76 1,202 1,42 1-77 1-96 1-38 1,36 1,272 1-133 1-57 1,33 1,47 1,64 1-287 1,145 1,114 1-103 1-97 1,15 1-109 1,225 1-56 1,33 1-149 1,97 1-31 1-32 1,31 1-18 1-9 1,192 1-121 1-29 1,54 1,100 1-109 1-35 1-49 1,3 1-52 1,93 1,69 1-89 1,82 1-19 1-30 1-32 1,74 1,4 1,98 1-102 1,25 1-34 1-99 1,84 1-54 1-17 1,42 1-70 1,107 1-16 1-168 1,156 1-28 1,103 1-46 1,46 1-55 1-180 1,210 1-45 1,83 1-125 1,7 1-10 1,26 1-64 1,26 1,9 1-29 1,93 1-67 1,128 1,69 1-73 1-21 1-67 1-32 1,42 1,0 1-65 1,226 1-136 1-84 1,141 1-101 1-65 1,160 1-156 1,145 1-119 1,139 1-71 1,87 1-174 1,150 1-132 1,64 1-9 1,13 1-35 1,30 1-145 1,111 1-110 1,214 1,43 1-59 1,27 1-82 1,30 1,39 1,141 1-96 1,80 1-94 1,6 1-68 1,55 1,58 1-105 1,51 1,23 1-71 1-112 1,76 1,13 1,44 1-55 1,108 1-45 1-31 1,35 1,8 1-52 1-206 1,212 1-49 1,135 1-169 1-20 1-71 1,87 1,33 1,104 1-154 1-10 1,28 1,92 1-42 1-28 1,36 1-38 1-117 1,63 1,116 1-101 1-46 1,114 1-38 1,59 1-85 1-136 1,102 1-50 1,165 1-21 1-88 1,50 1,186 1-177 1,1 1,34 1-65 1,99 1-101 1,24 1-18 1,24 1,19 1-79 1,199 1-188 1-38 1,67 1,40 1-61 1,10 1-18 1-2 1,74 1-72 1,9 1,75 1-168 1,116 1,12 1,170 1-152 1-16 1,27 1-61 1,80 1,28 1,87 1-145 1-49 1,120 1-115 1-2 1,13 1,49 1-100 1,114 1-4 1,45 1-101 1-117 1,40 1,48 1-162 1,181 1-28 1-67 1,79 1,35 1,1 1-197 1,190 1-66 1,64 1-17 1,41 1-105 1,17 1,104 1-87 1,36 1,33 1-17 1,37 1-37 1,49 1-148 1,65 1-13 1-9 1-83 1,73 1-112 1,73 1,99 1-39 1,16 1,126 1-187 1,106 1-96 1-47 1,84 1,64 1-72 1,4 1,19 1-139 1,199 1-94 1-41 1,237 1-177 1-10 1,17 1-130 1,78 1-31 1,37 1-46 1,8 1,67 1-38 1,8 1,3 1,37 1,9 1,63 1,13 1-90 1,61 1-75 1,31 1-77 1-7 1,23 1-6 1,10 1,81 1-58 1-42 1-20 1,29 1,20 1-50 1,95 1-271 1,90 1,167 1-55 1,154 1-54 1-51 1,45 1-74 1,22 1-22 1-84 1-22 1,70 1,117 1-121 1,36 1,20 1-74 1,71 1,155 1-156 1,98 1-88 1,18 1,14 1,35 1-131 1,90 1,70 1-27 1,12 1-98 1,3 1,1 1,10 1-28 1,28 1-14 1-7 1-30 1-12 1,105 1-65 1,17 1,56 1-33 1,62 1-149 1,100 1,16 1-2 1-121 1,70 1-9 1-25 1,71 1-71 1,44 1-40 1-27 1,63 1-94 1,86 1-136 1,129 1,48 1,9 1-191 1-26 1,174 1-41 1-40 1-84 1-74 1-71 1,260 1,9 1-40 1-56 1-13 1,73 1,100 1-101 1-34 1-1 1,171 1-107 1,40 1,47 1-20 1-28 1,47 1-18 1-5 1-34 1,14 1,2 1,48 1-78 1,111 1-34 1-6 1,95 1-73 1-107 1,94 1-211 1,55 1,14 1,91 1-56 1,55 1,103 1-113 1,1 1,57 1-22 1-20 1,10 1,58 1-91 1-31 1,100 1,23 1-148 1,78 1,69 1-64 1-5 1,81 1-130 1-7 1,174 1-146 1-66 1,65 1,189 1-172 1-54 1,67 1-32 1-101 1-21 1,313 1-194 1,117 1-112 1,23 1-56 1,68 1,9 1-15 1,66 1-58 1,5 1,32 1-32 1-102 1,164 1-211 1,199 1-22 1-79 1-95 1,175 1,103 1-170 1,25 1-83 1,141 1,128 1-203 1,103 1,34 1-102 1,38 1-105 1,161 1-76 1-57 1,50 1,1 1,70 1,17 1-74 1,11 1-21 1,8 1-83 1,122 1,12 1-152 1,29 1-31 1,24 1,1 1-8 1-115 1,193 1,24 1-137 1,68 1,61 1,48 1-229 1,92 1,49 1,5 1,53 1-68 1,3 1,89 1-37 1,30 1,2 1-83 1-26 1,82 1,18 1,7 1-118 1-79 1,132 1-48 1,85 1-98 1,19 1-53 1,135 1-68 1-64 1,143 1-30 1-77 1,4 1-74 1,74 1-163 1,313 1-130 1-37 1,36 1-206 1,16 1,128 1-23 1,61 1,118 1-141 1,64 1-114 1,55 1,94 1-138 1,57 1,44 1,48 1-56 1,88 1-33 1-37 1,105 1-118 1,29 1,11 1,74 1-123 1,19 1-83 1,26 1,32 1-58 1,65 1,42 1-53 1,27 1,66 1-8 1-254 1,119 1,32 1,53 1,87 1-86 1-83 1,163 1-53 1-36 1,27 1-76 1,29 1-111 1,59 1-16 1,121 1-54 1,25 1-70 1,91 1-84 1,27 1,100 1-200 1,31 1,67 1-169 1,78 1-54 1,125 1-48 1,118 1-142 1,123 1-64 1,29 1-9 1,4 1,49 1-108 1,241 1-153 1,113 1-1 1-96 1,12 1-38 1,127 1-119 1,83 1-7 1,26 1-113 1-52 1,86 1-54 1,75 1-17 1,38 1-78 1,11 1-4 1,0 1,52 1-47 1,203 1-209 1,24 1,34 1-87 1,103 1-48 1,89 1-4 1-48 1-16 1-37 1,67 1,9 1-32 1,21 1-3 1-142 1,54 1,105 1-61 1-23 1-136 1,213 1-42 1-65 1,66 1,44 1,2 1-44 1-43 1,61 1,8 1-28 1,35 1-11 1-104 1,229 1-190 1,2 1-80 1,18 1,115 1-47 1-78 1,25 1,97 1,4 1-89 1,76 1,52 1-103 1,55 1-35 1,28 1-43 1,66 1-30 1-145 1,176 1-39 1,8 1-83 1,5 1,13 1,105 1-69 1-36 1,138 1-44 1-61 1,62 1-26 1-1 1-84 1,109 1,5 1-22 1-57 1,20 1-10 1-34 1,71 1-88 1,99 1-129 1,132 1,144 1-179 1,46 1,42 1-260 1,70 1,70 1-19 1,105 1-160 1,87 1,23 1,9 1-2 1-30 1,154 1-190 1,36 1,18 1-22 1,27 1,105 1-36 1-21 1,3 1,32 1-76 1,187 1-88 1-15 1,5 1,36 1-161 1-22 1,187 1-43 1,69 1-71 1-45 1,112 1-104 1-73 1,25 1,55 1,10 1-19 1-14 1,59 1-73 1,8 1-72 1,86 1,60 1-57 1,5 1,24 1-141 1,58 1,10 1,46 1-65 1-34 1-147 1,140 1,127 1,13 1-185 1,8 1,94 1-57 1,44 1-41 1,83 1-151 1,163 1,18 1,13 1-88 1,32 1,16 1-3 1-3 1,44 1-116 1-134 1,355 1-365 1,167 1,30 1,36 1,43 1-32 1,52 1,68 1-116 1,68 1-125 1-18 1,37 1-38 1,35 1-1 1,12 1-25 1-198 1,106 1,53 1,32 1,18 1-59 1-69 1,119 1-50 1,49 1-57 1,49 1-3 1,8 1,209 1-195 1-88 1,120 1-49 1-48 1,41 1,15 1-48 1,33 1-5 1-15 1,81 1-116 1,164 1-54 1-69 1,5 1,30 1,14 1-5 1,2 1-4 1-7 1,0 1,145 1-49 1-117 1,67 1,147 1-192 1,84 1-53 1,134 1-50 1-85 1,100 1-283 1,117 1,67 1-65 1,77 1-53 1,47 1,20 1-63 1-93 1,162 1-50 1-34 1,110 1-146 1,6 1,60 1-20 1,56 1-51 1-37 1-5 1-73 1,126 1,19 1-60 1,152 1-128 1,109 1-72 1-17 1,10 1,26 1-26 1-148 1,136 1,7 1-33 1,133 1-50 1,41 1-29 1,27 1-122 1,105 1,14 1-100 1-29 1,139 1-6 1-79 1-160 1,265 1-160 1,72 1-75 1,34 1,66 1-200 1,114 1-35 1,167 1-128 1,43 1-108 1,100 1-53 1-18 1,49 1,105 1-203 1,37 1,58 1-48 1-78 1,28 1,36 1,83 1-109 1-34 1,44 1,53 1-3 1-73 1,102 1-50 1-3 1,14 1-44 1,42 1-16 1-13 1,270 1-282 1,67 1-79 1,144 1-3 1,2 1,61 1-88 1-12 1-174 1,188 1-14 1,26 1,68 1-274 1,173 1,44 1-56 1,64 1-64 1-148 1,160 1,69 1-21 1,45 1-107 1-55 1,84 1-36 1,95 1-66 1-41 1-7 1,77 1-67 1-107 1,104 1,125 1-198 1-16 1,102 1,28 1-96 1,58 1-79 1,116 1-65 1,166 1-44 1-119 1,25 1-47 1,165 1-2 1-36 1-36 1,107 1-28 1-77 1-8 1,28 1-180 1,117 1-15 1-11 1,56 1-18 1-107 1,213 1-104 1,11 1-115 1,83 1-201 1,307 1-111 1-11 1,32 1,12 1,104 1-124 1,1 1-22 1,71 1-75 1-40 1,92 1,75 1-121 1,49 1,32 1,8 1-46 1-117 1,87 1,6 1,40 1-139 1,102 1-74 1,26 1,5 1,112 1-3 1-155 1,182 1-121 1-7 1,102 1-16 1-101 1,66 1,62 1-241 1,157 1-61 1,36 1-54 1,36 1,43 1-41 1-91 1,12 1,124 1-77 1,31 1,109 1-121 1,46 1-44 1,21 1,39 1-48 1-59 1,20 1,74 1-69 1,37 1,20 1,54 1-46 1,63 1,35 1-40 1-96 1,7 1-40 1,24 1-3 1,43 1,98 1-192 1,93 1,57 1-90 1,23 1,6 1-31 1,52 1-2 1,40 1-50 1,63 1-58 1,96 1-89 1-26 1,68 1-10 1-63 1,16 1-15 1,20 1-112 1,153 1-28 1,19 1,4 1-42 1-34 1,89 1,110 1-124 1,213 1-221 1,1 1-21 1,74 1,29 1-122 1,42 1-59 1,47 1-50 1-25 1-12 1-44 1,32 1-179 1,228 1,60 1-135 1,96 1-118 1,23 1,12 1,124 1-6 1-89 1,30 1-58 1,102 1,40 1-29 1-82 1-24 1-75 1,228 1-106 1,4 1-180 1,157 1-19 1,81 1,49 1-80 1-51 1-58 1,95 1-120 1,51 1,154 1-181 1,129 1-111 1,61 1,8 1,75 1-68 1,17 1-2 1,44 1,50 1-93 1-21 1-109 1,208 1-22 1-64 1,86 1-127 1,97 1-71 1,26 1-80 1,94 1-35 1,32 1,27 1-113 1,79 1-168 1,135 1,88 1-55 1,40 1,91 1-113 1-43 1-38 1,131 1-171 1,75 1,31 1,15 1,56 1-186 1,117 1-16 1,7 1-38 1,48 1-27 1,93 1-65 1,37 1-94 1,11 1-39 1,38 1,67 1-15 1-103 1-22 1,166 1-153 1,81 1,45 1-17 1-84 1,61 1-26 1,77 1-62 1,18 1-36 1,70 1-98 1,79 1,34 1-32 1,19 1-47 1,3 1-38 1,83 1,42 1-45 1-122 1,177 1-132 1-18 1-8 1-6 1,48 1,25 1,18 1-58 1-41 1-47 1,200 1-109 1,6 1-11 1,37 1-15 1-38 1,8 1-21 1-113 1,129 1,72 1,7 1,3 1-117 1,67 1-55 1,45 1,41 1-57 1,99 1-140 1-100 1,94 1,86 1-14 1,144 1-163 1,44 1,58 1-33 1-88 1,36 1,32 1-158 1,202 1-101 1,13 1,31 1-9 1-37 1-24 1,56 1-94 1,36 1,50 1,32 1-61 1,245 1-130 1-97 1,47 1-50 1,21 1-73 1,96 1-142 1,136 1-17 1,31 1,114 1-73 1-47 1,39 1-72 1,86 1,53 1,21 1-101 1,17 1-65 1,122 1-155 1,133 1-64 1-4 1,25 1,120 1-47 1-221 1,271 1-265 1,25 1-32 1,15 1-47 1,99 1-132 1,163 1-66 1-12 1,124 1-95 1-38 1,135 1-83 1,65 1-77 1,94 1-81 1,40 1,18 1,46 1-65 1-148 1,82 1,71 1-96 1,144 1-45 1,196 1-173 1,148 1-135 1,12 1-81 1,144 1-33 1-75 1,34 1-1 1,10 1,27 1-33 1-23 1,208 1-149 1-66 1,46 1,238 1-184 1,5 1-110 1,122 1-21 1-211 1,75 1,56 1-35 1,102 1,21 1-70 1-76 1,61 1,20 1-103 1,91 1-56 1,24 1,52 1-72 1,166 1-69 1,75 1-107 1-29 1,89 1-12 1-64 1,32 1-6 1-80 1,63 1,6 1,50 1-91 1-47 1,227 1-82 1,2 1-17 1,244 1-210 1-79 1,71 1-10 1-32 1-132 1,67 1,15 1-18 1,8 1,134 1-296 1,127 1,135 1-113 1,89 1-117 1,1 1,59 1,22 1-18 1-12 1,2 1-176 1,115 1,12 1-33 1,51 1,13 1-89 1,111 1,17 1-73 1,111 1,111 1-92 1,21 1-33 1-82 1,10 1-25 1,50 1-21 1-62 1,12 1,13 1,46 1,27 1-120 1,72 1,23 1-118 1,128 1-3 1-36 1-13 1,91 1-177 1,190 1,2 1,26 1-94 1,75 1-14 1,12 1-145 1,143"/>
<path transform="matrix(0.119780,0,0,0.1,72.40,0)" vector-effect="non-scaling-stroke" fill="none" stroke="#00ffff" stroke-width="1.70" stroke-linejoin="bevel" d="M0,8239l1,18 1-7 1-56 1-52 1,65 1-1 1,1 1-29 1,27 1-39 1,27 1-69 1,66 1,31 1-13 1,49 1-46 1,109 1-80 1,132 1-40 1-23 1,42 1-109 1-5 1,24 1,43 1,114 1-109 1,65 1-67 1-17 1-17 1,62 1-59 1-89 1,113 1-68 1,21 1-27 1,21 1-4 1-51 1-205 1,234 1-47 1,0 1,10 1,0 1,11 1-73 1,42 1-7 1,166 1-83 1-160 1,42 1-95 1,68 1,75 1-64 1,35 1,72 1-77 1-37 1,41 1-10 1-99 1,132 1,47 1-46 1,24 1,5 1-68 1,15 1,80 1,3 1-6 1-40 1-1 1-44 1,104 1-25 1-62 1-10 1-49 1,54 1-31 1,17 1,17 1-8 1-94 1,51 1,97 1-101 1,74 1-45 1-83 1,46 1-19 1-76 1,34 1,7 1,40 1,80 1-71 1,16 1-5 1,78 1-112 1,107 1-75 1,63 1-89 1,52 1-39 1,23 1,112 1-89 1-34 1-43 1,43 1-111 1,64 1,3 1-41 1,84 1-108 1,37 1,69 1-109 1,78 1,104 1-115 1,98 1-86 1-28 1,60 1-7 1-83 1,106 1-24 1,83 1-40 1-15 1-41 1-8 1,19 1-79 1,7 1,78 1-47 1,5 1-80 1-17 1,93 1-38 1-19 1-46 1-26 1,107 1-27 1,50 1,60 1-152 1,36 1-90 1-38 1,17 1-39 1,150 1-34 1,16 1,47 1-82 1-78 1,43 1-34 1-74 1-37 1,15 1-42 1-41 1,58 1-37 1-154 1,69 1-29 1-31 1,27 1-58 1,115 1-12 1,23 1-69 1,12 1,78 1-75 1-40 1,18 1-44 1-83 1,42 1-49 1-114 1,93 1-134 1,64 1,143 1-279 1,95 1,162 1,32 1-184 1,142 1-226 1,266 1-57 1-13 1-96 1,83 1-66 1-75 1,126 1-34 1,55 1,41 1-58 1-7 1,31 1-26 1-213 1,64 1,71 1-132 1,11 1-30 1-57 1-57 1,24 1,72 1,147 1-233 1,98 1,87 1,36 1,8 1-45 1-50 1,150 1-80 1-98 1,114 1,65 1-87 1-24 1-46 1-25 1,160 1-42 1-81 1,158 1-62 1,164 1-82 1,3 1,23 1,35 1-91 1-13 1,36 1-7 1-141 1-17 1,109 1-54 1,148 1,126 1-133 1,29 1-300 1,79 1-52 1-9 1-134 1-151 1,150 1-76 1,87 1-33 1-63 1,90 1-48 1,42 1,46 1-295 1,77 1,135 1,0 1-18 1-18 1-21 1-93 1,64 1,99 1-274 1,248 1-239 1,57 1,54 1-21 1-52 1,332 1-92 1-113 1,100 1-28 1,59 1-170 1,40 1,50 1-36 1-20 1,207 1,214 1-190 1-275 1,6 1,270 1-166 1-55 1,167 1-339 1,553 1-156 1,53 1-114 1,140 1-54 1,2 1,73 1-56 1-52 1,158 1-202 1,143 1-11 1,76 1,54 1-22 1-41 1,26 1-114 1-14 1-109 1-272 1,145 1,18 1,15 1-55 1-51 1,133 1,27 1,25 1,194 1-372 1,163 1-50 1,23 1,137 1,3 1-58 1-48 1,0 1,129 1-125 1-29 1,20 1-4 1,69 1,81 1-302 1,282 1,53 1-112 1,178 1,57 1-8 1-60 1,89 1-255 1,150 1,211 1-12 1-105 1,44 1-81 1-46 1,106 1,50 1-165 1,111 1-82 1,70 1-157 1,17 1-63 1,108 1,8 1-153 1,13 1,175 1,15 1-239 1,135 1,22 1-34 1-85 1,41 1,84 1,77 1-61 1-7 1-121 1-68 1,170 1,123 1-242 1,78 1-220 1,63 1,8 1,32 1-25 1-31 1,21 1-80 1,87 1,41 1-35 1,137 1,40 1-105 1,73 1-63 1,76 1-146 1,132 1-177 1-17 1,250 1-393 1-53 1,94 1-311 1,377 1-68 1,91 1,134 1-104 1,23 1,134 1,16 1-151 1,241 1-146 1,41 1-3 1-139 1,20 1,11 1-145 1,70 1,116 1-91 1,79 1,5 1,60 1-53 1,162 1,107 1-235 1-135 1-134 1,473 1-292 1,103 1,15 1-181 1,202 1-140 1-135 1,197 1-178 1,167 1-100 1,22 1,59 1,88 1-117 1-77 1-43 1,275 1,52 1-347 1,131 1,82 1,2 1,37 1,80 1,45 1-175 1-180 1,12 1,14 1-9 1,68 1-38 1-23 1-23 1,43 1,333 1-32 1-49 1,80 1-105 1,7 1,29 1-116 1-93 1,1 1,184 1-36 1,78 1,41 1-26 1,77 1-40 1-222 1,131 1-92 1,67 1,97 1-78 1,16 1-88 1,26 1,138 1-20 1-50 1,304 1-338 1,84 1-199 1,59 1,27 1-10 1,21 1-137 1,141 1,83 1-28 1,69 1,6 1-117 1-18 1-1 1-156 1,180 1-79 1,164 1-158 1-65 1-92 1,209 1-83 1,47 1,77 1-154 1,16 1,6 1,0 1-28 1,95 1-90 1-72 1,76 1-4 1,293 1-151 1,63 1,263 1-11 1-223 1,78 1-118 1,3 1,24 1-34 1,153 1,21 1-50 1-70 1-95 1,47 1,105 1-95 1-81 1,65 1-173 1-232 1,235 1,42 1,99 1,65 1,13 1-42 1-84 1,33 1,42 1-105 1-88 1,98 1-62 1-247 1,83 1,29 1-182 1,259 1-132 1,137 1,94 1-200 1-20 1,52 1,11 1,16 1,5 1-190 1-30 1,161 1,151 1-121 1,40 1-50 1,95 1,15 1,68 1-294 1-154 1,337 1,16 1,175 1-182 1-57 1-151 1,44 1,193 1-67 1,27 1,146 1-222 1-120 1,150 1,66 1,37 1,120 1-30 1,51 1-256 1,34 1,68 1,30 1-91 1,58 1,35 1-109 1-33 1-49 1,25 1,31 1-144 1,52 1,123 1,127 1-64 1-234 1,282 1-61 1-30 1,50 1-17 1-16 1,31 1-11 1-50 1-75 1,13 1,67 1-24 1-129 1,77 1-195 1,92 1-92 1-43 1-85 1,102 1,34 1,45 1,71 1-165 1,192 1-35 1,2 1-40 1,122 1-48 1-86 1,70 1,14 1-9 1,168 1-122 1-64 1,57 1,55 1,21 1,167 1-196 1,228 1-167 1,106 1,162 1-313 1,134 1,171 1,183 1-232 1-163 1,148 1,30 1-194 1-138 1,300 1-25 1-231 1,215 1-216 1,184 1,2 1-116 1-110 1,277 1-56 1-231 1,308 1,55 1-151 1,2 1,95 1,97 1-100 1-140 1,142 1-83 1-98 1,107 1-32 1,53 1-113 1,81 1-114 1,39 1,47 1-27 1-2 1-156 1,9 1,87 1,57 1,7 1,225 1-168 1,127 1-3 1-12 1-74 1-15 1,45 1-82 1,4 1,53 1,18 1-181 1,12 1,17 1,110 1-69 1-114 1-77 1,146 1,14 1-123 1,182 1-155 1,57 1,7 1-41 1,111 1-21 1,169 1-208 1,70 1-25 1,10 1-84 1,72 1-4 1,65 1,138 1-184 1,36 1,70 1-18 1,54 1-58 1-42 1,9 1,113 1-54 1,43 1,194 1-95 1,91 1-223 1,80 1-20 1,39 1-49 1,150 1-142 1-65 1,87 1,18 1,34 1,30 1-56 1-55 1-57 1,47 1-69 1,40 1-35 1,57 1-74 1,65 1-126 1,79 1,106 1-115 1,23 1-27 1,236 1-198 1,43 1-59 1,44 1-66 1-27 1,159 1-46 1,60 1,92 1-69 1,98 1-34 1,25 1-28 1,24 1-109 1,6 1,109 1-123 1-14 1-152 1,143 1-34 1,93 1-64 1-46 1,88 1,3 1,66 1-39 1,4 1-90 1,52 1,81 1-280 1,197 1,39 1-69 1,8 1,194 1-167 1,14 1-117 1,143 1,8 1-102 1,11 1,28 1-25 1,133 1-169 1,28 1-41 1-55 1,149 1-31 1,67 1,155 1-87 1-53 1,95 1-34 1,3 1-98 1,87 1-66 1,40 1-97 1,8 1,74 1,96 1-113 1-22 1-64 1,2 1-29 1-87 1,113 1,126 1,11 1-67 1,38 1,26 1-74 1-182 1,248 1,32 1-144 1,37 1,47 1-109 1,315 1-244 1-19 1,10 1,141 1-225 1,100 1,90 1,6 1,213 1-81 1,14 1,39 1-60 1,48 1,40 1-13 1,1 1-10 1,48 1-14 1-61 1-110 1,3 1,140 1-24 1-61 1-91 1,80 1,1 1,12 1,19 1-113 1,79 1-98 1,36 1-36 1,29 1,94 1-95 1-3 1,59 1-170 1,14 1-176 1,181 1-25 1,27 1-77 1-25 1-107 1,154 1-9 1,54 1-92 1,85 1-121 1,157 1-173 1,104 1,58 1,13 1,91 1-207 1-23 1,107 1,42 1-97 1,73 1-91 1,85 1,36 1-80 1-38 1,131 1-155 1,44 1-141 1,274 1-131 1,114 1-87 1-21 1-26 1,48 1,3 1-88 1,78 1,2 1-45 1-136 1-23 1,76 1-42 1,98 1,18 1-87 1,176 1-80 1,52 1-19 1,68 1-118 1-70 1,67 1,177 1,12 1-34 1-167 1-41 1,60 1-17 1,81 1,54 1-49 1-41 1,7 1-25 1-58 1,156 1-27 1,48 1,73 1-147 1-45 1,58 1-9 1-9 1,36 1-237 1,132 1-5 1,127 1-111 1,94 1-67 1,36 1,8 1,32 1,8 1,24 1,132 1-48 1-91 1,28 1-7 1,5 1-33 1-91 1,48 1,59 1,26 1,122 1-158 1,106 1-93 1-87 1,65 1-46 1,40 1-6 1-62 1,104 1-32 1-12 1,151 1,56 1-62 1-29 1,24 1-7 1-153 1-24 1,130 1-62 1,19 1,49 1,98 1-30 1-96 1,100 1-95 1-2 1-15 1,31 1,28 1-103 1,15 1,134 1-253 1-42 1,59 1-44 1-43 1,198 1-102 1,49 1,4 1,86 1-56 1,55 1,49 1,36 1-90 1,128 1-24 1-49 1,1 1,64 1-132 1,8 1,43 1-10 1,150 1-289 1-18 1,126 1-1 1-78 1,192 1-124 1-15 1,5 1-11 1-22 1,73 1-54 1,56 1,5 1,11 1-66 1-1 1-28 1,52 1-10 1,105 1-84 1,167 1-147 1-160 1-34 1,17 1,24 1,98 1,55 1-7 1,25 1,100 1-99 1,61 1-119 1,87 1,7 1-27 1,162 1-76 1-71 1,49 1-93 1-56 1,77 1,27 1-85 1,166 1-146 1-32 1-84 1,5 1,14 1,13 1,52 1-102 1,40 1-22 1-47 1-8 1,8 1,74 1-153 1,144 1,22 1,46 1-27 1-140 1,137 1-84 1-47 1-82 1,88 1,14 1-42 1-4 1-137 1,164 1,101 1-153 1,93 1-38 1-93 1,83 1,25 1-11 1,86 1-21 1,77 1-23 1,84 1,3 1-113 1-42 1,114 1,159 1-44 1-72 1,29 1-1 1-90 1,39 1-25 1-11 1,264 1-206 1-73 1,50 1-90 1-25 1-196 1,242 1-205 1,248 1-107 1-54 1,117 1-3 1,64 1,70 1,48 1-46 1,20 1-93 1-47 1-76 1,37 1-51 1,97 1,16 1-187 1,58 1,51 1-112 1,198 1-32 1,21 1,74 1-42 1,2 1-102 1,226 1-165 1-57 1,37 1-7 1,109 1-61 1,2 1,142 1-114 1,10 1-30 1-3 1,26 1-16 1,104 1-92 1-46 1,269 1-106 1-76 1,199 1-89 1-92 1-1 1,61 1-12 1,23 1,198 1-134 1,124 1-100 1-78 1-7 1,111 1,6 1-66 1,106 1-25 1,176 1-63 1,12 1,17 1-145 1-86 1,269 1,1 1-272 1,40 1,250 1-26 1,19 1-92 1,124 1-177 1,117 1-128 1-46 1,264 1-278 1,127 1-177 1,49 1-59 1,74 1-40 1,2 1-121 1,36 1,48 1-157 1,130 1,97 1-85 1,68 1-33 1,51 1-35 1,9 1-182 1,89 1,78 1-55 1,37 1-132 1,165 1,152 1-249 1-112 1,100 1-66 1,103 1-56 1-33 1,4 1-132 1,110 1-191 1,51 1,113 1-18 1-49 1-36 1,114 1,45 1-87 1,70 1-41 1,15 1,57 1-123 1,20 1-100 1,230 1-225 1,27 1,103 1-68 1,29 1,111 1-176 1,60 1-13 1-137 1,95 1-39 1-43 1,226 1-218 1,65 1-43 1-84 1,70 1,59 1-84 1,101 1,45 1,30 1-53 1,120 1-78 1,52 1,148 1-113 1,7 1-66 1-34 1,75 1-66 1-133 1,45 1,140 1-1 1-53 1,17 1,96 1-29 1-84 1-30 1-100 1,115 1-41 1-16 1,115 1-48 1-32 1-82 1,100 1-56 1,71 1-82 1,142 1-96 1,86 1,1 1-44 1-19 1-22 1,92 1-60 1,20 1,72 1-104 1,75 1-141 1,230 1-219 1-60 1,18 1-145 1,128 1-28 1-11 1-30 1,153 1-165 1-40 1,10 1,63 1,15 1,29 1,98 1-178 1,96 1,66 1-114 1,44 1,22 1-9 1,15 1,40 1-6 1-119 1-107 1,64 1,167 1-206 1,5 1,182 1-50 1,15 1-210 1-14 1,57 1,64 1,2 1-49 1,43 1,49 1-22 1,12 1,53 1,13 1-8 1,57 1-22 1,66 1,52 1-58 1,151 1-7 1,46 1-54 1,7 1,28 1-5 1,142 1-88 1,3 1-57 1-184 1,140 1-20 1,29 1,52 1-35 1,61 1,8 1,16 1,21 1,30 1,20 1,204 1-145 1,9 1,15 1-62 1-61 1,125 1-91 1,30 1-84 1-117 1,130 1,69 1-113 1,89 1-90 1-10 1,79 1,4 1-134 1,183 1-46 1-219 1,194 1-58 1,9 1-8 1-12 1-26 1-33 1,109 1-9 1-165 1-142 1,221 1,26 1-21 1-69 1-117 1,121 1-128 1-9 1,66 1,26 1,67 1-93 1,8 1,102 1-39 1-108 1-20 1,157 1-71 1,26 1-116 1,135 1,8 1,9 1-25 1,14 1-123 1,256 1-27 1,125 1-266 1,148 1,158 1-185 1,68 1-135 1-118 1,122 1,79 1-6 1-36 1-14 1-31 1,25 1,138 1-75 1-87 1-78 1,70 1-48 1-37 1,148 1-72 1,0 1-102 1,71 1,93 1-186 1,28 1,51 1-73 1,204 1-104 1,64 1-23 1-174 1,69 1,22 1,43 1,77 1-29 1-9 1-202 1,186 1-30 1,38 1-1 1,27 1-113 1,39 1,24 1,67 1,2 1-60 1,38 1-4 1,70 1-130 1,178 1,68 1-4 1-81 1,53 1-123 1-86 1,174 1-206 1,112 1,20 1-112 1,156 1-186 1-46 1,65 1-133 1,33 1,2 1,39 1-12 1,84 1-68 1,176 1-293 1,73 1,62 1-66 1-33 1-236 1,165 1-82 1-24 1,90 1,63 1-32 1-18 1-80 1,92 1-175 1,104 1,114 1-180 1,10 1,40 1,36 1,183 1-63 1,135 1-81 1-11 1-187 1,166 1,71 1,86 1,50 1-82 1-19 1,35 1-98 1-22 1,82 1-5 1,39 1-4 1,9 1-15 1-56 1,100 1-52 1,127 1-33 1,12 1,49 1-239 1,122 1,4 1,226 1-67 1-16 1-8 1,61 1-51 1,13 1-41 1-192 1,108 1,64 1,126 1-49 1-72 1-10 1-17 1,116 1-211 1,111 1,5 1-121 1,26 1,8 1-106 1,186 1-278 1,353 1-94 1,66 1-156 1,5 1-56 1,63 1,129 1,68 1-65 1,78 1-96 1-113 1-73 1,78 1,163 1,31 1,18 1-180 1-56 1,121 1-17 1,21 1-84 1,53 1-134 1,101 1,15 1-51 1,125 1-50 1-18 1-11 1,59 1-67 1,2 1-190 1,21 1,42 1,6 1,108 1-39 1-18 1-10 1,88 1,8 1-194 1,184 1,77 1-67 1-50 1-79 1,68 1,176 1,3 1-34 1-52 1-101 1,51 1,43 1-73 1,134 1-194 1,85 1,17 1,68 1-129 1-196 1,284 1-100 1,6 1-59 1,27 1-65 1,100 1-10 1,235 1-126 1-90 1,69 1-152 1,8 1,215 1-157 1-62 1-142 1,80 1,30 1,15 1,83 1-85 1,22 1-6 1,30 1,85 1-127 1,67 1,79 1-86 1-52 1,153 1-121 1,47 1-185 1,30 1,53 1-73 1-36 1-46 1,3 1,127 1-229 1,157 1-86 1,78 1-2 1,3 1-74 1,86 1,50 1-6 1,195 1-172 1-36 1,9 1,43 1,5 1,79 1,7 1,12 1-149 1,130 1-113 1,28 1,69 1-18 1-6 1-61 1-64 1,25 1,108 1,31 1-24 1,34 1-78 1,20 1,88 1-91 1-40 1,155 1-189 1,214 1,26 1-34 1-22 1-164 1,198 1-84 1,118 1-57 1-121 1,105 1,13 1-89 1,117 1-21 1,7 1,59 1,11 1-153 1,77 1,143 1,77 1-34 1-111 1,47 1-96 1,24 1-39 1-25 1,34 1,42 1-142 1,2 1,121 1,32 1-1 1-34 1-16 1,42 1-67 1,119 1-71 1,36 1-60 1,55 1-52 1,74 1,13 1-51 1-160 1,46 1-217 1,312 1-257 1,149 1,47 1-32 1-125 1,185 1,38 1-172 1,8 1-22 1,12 1-8 1,18 1-85 1,276 1,34 1-267 1,133 1,5 1-14 1,24 1,8 1-46 1,92 1,61 1,80 1-92 1-268 1,442 1-217 1,89 1-56 1-133 1,98 1,137 1,85 1-36 1-129 1-106 1,236 1-9 1-8 1-53 1,39 1-3 1-36 1,127 1-125 1-24 1,19 1-6 1-45 1-124 1,233 1,105 1-18 1,2 1,34 1,91 1-6 1,77 1-138 1,27 1-78 1-44 1,109 1-65 1,81 1,97 1-254 1,131 1-57 1,6 1-62 1,57 1-27 1-35 1,102 1-241 1,303 1-233 1,151 1-99 1,55 1,41 1-207 1-43 1,37 1-140 1,140 1,88 1,68 1-99 1-44 1-7 1-18 1,80 1,8 1,118 1,5 1-70 1,133 1-132 1-108 1-1 1,78 1-91 1,253 1-250 1,95 1-45 1,146 1,20 1,18 1-187 1,102 1-57 1-113 1,243 1-76 1-2 1,7 1-128 1,11 1,30 1,72 1-20 1,109 1-91 1-25 1-77 1-98 1,60 1,21 1-11 1-182 1,100 1,26 1-118 1,90 1-36 1-8 1-65 1,97 1-20 1-11 1-89 1,128 1-14 1-10 1-58 1,37 1-250 1,239 1-183 1,268 1,7 1,105 1,29 1-28 1-50 1,80 1-71 1-64 1-122 1,264 1-226 1-57 1,261 1-30 1,0 1,176 1-188 1-46 1,49 1-128 1,53 1-130 1,102 1,38 1-61 1,45 1,6 1,37 1-168 1,102 1,72 1-118 1,243 1-119 1,90 1-36 1,140 1-126 1-3 1-87 1-41 1,5 1,61 1,276 1-314 1,178 1-21 1-6 1,15 1,61 1-178 1,76 1,140 1-211 1,63 1-46 1-3 1-101 1,96 1-155 1,229 1-163 1,28 1-42 1,0 1,19 1,62 1-115 1,84 1,40 1-139 1-17 1-104 1-12 1,134 1,1 1-83 1,36 1,80 1-209 1,105 1,6 1,38 1-88 1,94 1-110 1-24 1,174 1-98 1-11 1-56 1,8 1-24 1-22 1,96 1-121 1-36 1-4 1,65 1,68 1-131 1,18 1-173 1,229 1,110 1-67 1,48 1,2 1-3 1,6 1-25 1-32 1,71 1-168 1,10 1,90 1-5 1-149 1,66 1-87 1,10 1-38 1,51 1,156 1,76 1-212 1-12 1-30 1,19 1,25 1,65 1,18 1,78 1-91 1,228 1-86 1-79 1,148 1-61 1,45 1,121 1-42 1-60 1,7 1-187 1,144 1-6 1,100 1-76 1-73 1,107 1,8 1-52 1-190 1,122 1,229 1-53 1-62 1,38 1,23 1-210 1,149 1-95 1,72 1,14 1-28 1,75 1-25 1-52 1,15 1-52 1-64 1,314 1-87 1-127 1,84 1-5 1-128 1,16 1,88 1-21 1,34 1,66 1-19 1-28 1-114 1-14 1,22 1-58 1,189 1-27 1-67 1-24 1-147 1,159 1-53 1,103 1-59 1-112 1,219 1-182 1,179 1-113 1,145 1-26 1-50 1,184 1-141 1-27 1-132 1-39 1,36 1,106 1-237 1,187 1-129 1,80 1,49 1-67 1,209 1-131 1,54 1-29 1-23 1-102 1,63 1-5 1,40 1-229 1,13 1,113 1-77 1-20 1,73 1,125 1-98 1-161 1,125 1-6 1,18 1-14 1-10 1-49 1,24 1,9 1-79 1-53 1,198 1-206 1,10 1,155 1-113 1,106 1,80 1-168 1,172 1-138 1,9 1,89 1-12 1,24 1,92 1-25 1-42 1,23 1-95 1,108 1-34 1-122 1,86 1-99 1,194 1-45 1-19 1-29 1,14 1-56 1-122 1,69 1-3 1,34 1-28 1,121 1-82 1-87 1,73 1,73 1-33 1,52 1-163 1,158 1-93 1,77 1-57 1,2 1,131 1-21 1-32 1,107 1-98 1-22 1-19 1,199 1-21 1-109 1-20 1,199 1-33 1-95 1,51 1-85 1,115 1-126 1,43 1-215 1,91 1,104 1-157 1,62 1,57 1-97 1,96 1-113 1,0 1,7 1,52 1-18 1-24 1,146 1-107 1,30 1,57 1-104 1-16 1-192 1,179 1-29 1,83 1,22 1-29 1-26 1-74 1,110 1-220 1,53 1-33 1,110 1,7 1,129 1,28 1,73 1-93 1-146 1,79 1-121 1-112 1-22 1,68 1,42 1,24 1,71 1,15 1-24 1-50 1,58 1-90 1,68 1,21 1-122 1,88 1-150 1,176 1-152 1,61 1-85 1,14 1,78 1-153 1,21 1-29 1,48 1-73 1,144 1,81 1-97 1,118 1-24 1,116 1-67 1,141 1-185 1,112 1-9 1-90 1,124 1-92 1,95 1,87 1-100 1,44 1-147 1,43 1-15 1,80 1-262 1,284 1-79 1-21 1,54 1-100 1,16 1,53 1-160 1,129 1,42 1-5 1-42 1,34 1-5 1-78 1,60 1-96 1,120 1-4 1-89 1,117 1-74 1,39 1-26 1-14 1,92 1-68 1-4 1,8 1-31 1-29 1-26 1-85 1,54 1-77 1,60 1,67 1,52 1-103 1-101 1,0 1-30 1,5 1,88 1,42 1,29 1-61 1,117 1-64 1,24 1-55 1-69 1,146 1-145 1,3 1,218 1-155 1,42 1,82 1-89 1,102 1-85 1,21 1-4 1-28 1,95 1-275 1,319 1-12 1-115 1,50 1,28 1,86 1-137 1-3 1-15 1-73 1,98 1,59 1,24 1-128 1-9 1,24 1,31 1,40 1,24 1-6 1,120 1-78 1,126 1-103 1,175 1-13 1-23 1-56 1-36 1,62 1-27 1-21 1-38 1,36 1-61 1,37 1-38 1-27 1,0 1,7 1-54 1,67 1-36 1-66 1-86 1,221 1,2 1-195 1-117 1,179 1-89 1-98 1,379 1-203 1,32 1-77 1,33 1,58 1,50 1-60 1-82 1-80 1,131 1-31 1-87 1,137 1-61 1-51 1,59 1,11 1-88 1,26 1-29 1-5 1,55 1-108 1,34 1-24 1-108 1,152 1,17 1,39 1-155 1,144 1-183 1,87 1-12 1-91 1,48 1,110 1-149 1,51 1,118 1-71 1-42 1-80 1-13 1,68 1-25 1,83 1,13 1,22 1-108 1,21 1,1 1-56 1,249 1-59 1-46 1,2 1-148 1,163 1-2 1,179 1,82 1-13 1-134 1,87 1-42 1-25 1-92 1,73 1,32 1,43 1-201 1,52 1,45 1,60 1,77 1-69 1-79 1,31 1,176 1-90 1,14 1-75 1,55 1,63 1-17 1-272 1,198 1-17 1,71 1-157 1,35 1-50 1,24 1-13 1,66 1-8 1-22 1-42 1,4 1-20 1,103 1-102 1,0 1,119 1-125 1-18 1,99 1-91 1-6 1,24 1-19 1-34 1,77 1-11 1-5 1-100 1,175 1-59 1-69 1-51 1,157 1,38 1-112 1-51 1,115 1-40 1-9 1-61 1,158 1-80 1-138 1,84 1,126 1-82 1,111 1,17 1,37 1-205 1,124 1-55 1-29 1-2 1-14 1,114 1-91 1,31 1-26 1,79 1-82 1,48 1-19 1-21 1,91 1-30 1,95 1-3 1,44 1-51 1-4 1-31 1-73 1,114 1-32 1-10 1-27 1,13 1,120 1,1 1-39 1,17 1,71 1,54 1-212 1,163 1,59 1,4 1-228 1,330 1-125 1-65 1,129 1-185 1,20 1,31 1-142 1-94 1,108 1,140 1-358 1,209 1,153 1-158 1,121 1-145 1,23 1,45 1,10 1,7 1,206 1-161 1,29 1,78 1-29 1-68 1,64 1-64 1-7 1-141 1,169 1-25 1,22 1,58 1,62 1-44 1-246 1,248 1-6 1-28 1-53 1-52 1,71 1-4 1,12 1-111 1,93 1-26 1,67 1-85 1,50 1,106 1-120 1,115 1-87 1,28 1-35 1,113 1-16 1,44 1-39 1,37 1,95 1,31 1-132 1,2 1-64 1-16 1,70 1,24 1,42 1-79 1-2 1-45 1,50 1,116 1,17 1-77 1-10 1,7 1-1 1,42 1,52 1-115 1,73 1,99 1-55 1,31 1-69 1,78 1-74 1-29 1-2 1,68 1-9 1,120 1-117 1-23 1,23 1-6 1,166 1-156 1,35 1-173 1,214 1-53 1-254 1,291 1-107 1-77 1,11 1-3 1,2 1-10 1-159 1,38 1-81 1,67 1-13 1-10 1,53 1-160 1,267 1-66 1,18 1-23 1,122 1-111 1-88 1,57 1-6 1,65 1-32 1,3 1,98 1-140 1,18 1-25 1-10 1-33 1-60 1,8 1-181 1-53 1,0 1,102 1-159 1,55 1-37 1-132 1,20 1,20 1,190 1-221 1-8 1,77 1-14 1,19 1,239 1-163 1,22 1,113 1-14 1-82 1-27 1,24 1,137 1-331 1,41 1,107 1,27 1-46 1,165 1-294 1,217 1-251 1,83 1,6 1,98 1-180 1,15 1-45 1-58 1,167 1-6 1,173 1-471 1,183 1-119 1,83 1,111 1,66 1-61 1,58 1-54 1-30 1,50 1-46 1,84 1-179 1,170 1-261 1,310 1-102 1,222 1,11 1-132 1,34 1-200 1,267 1-79 1-187 1,220 1-156 1,116 1-203 1,108 1,63 1-19 1,86 1-75 1,119 1-2 1-72 1-42 1,72 1,11 1-127 1,212 1-219 1,55 1-51 1,8 1-79 1-89 1,175 1,44 1-233 1,414 1-281 1,63 1-118 1-80 1,285 1-18 1-99 1,48 1-85 1-95 1,148 1,77 1,36 1-129 1,49 1-45 1-132 1-59 1,9 1,147 1-114 1,39 1-84 1,105 1-114 1,18 1,150 1-51 1-117 1,202 1-40 1-44 1-41 1-60 1,46 1-7 1-39 1,119 1,60 1-51 1,50 1,77 1-85 1,22 1-98 1,30 1,153 1-5 1,40 1,6 1-64 1,128 1-162 1,84 1-51 1,155 1-169 1-44 1,22 1-41 1,155 1-188 1-22 1-74 1,189 1-4 1,36 1-53 1-140 1,95 1,87 1-17 1-115 1,60 1,37 1-99 1,66 1-90 1,70 1-78 1,254 1-238 1,96 1-82 1,93 1-55 1,92 1-114 1-33 1-32 1,140 1,6 1-24 1-30 1,16 1-46 1,12 1-14 1-35 1-37 1,74 1-71 1-23 1,24 1,35 1-45 1,104 1-91 1,19 1,1 1,140 1-121 1-9 1,49 1-138 1,112 1,41 1-31 1,103 1-34 1,112 1-166 1,49 1-86 1,154 1-148 1-2 1-145 1,77 1,21 1,73 1,18 1,47 1-74 1,7 1,50 1-50 1-190 1,204 1-66 1,96 1-77 1,23 1-16 1,153 1-49 1-142 1,167 1-187 1,97 1,79 1-144 1-72 1,150 1-110 1,137 1-199 1-50 1-18 1,152 1-159 1,134 1,33 1,125 1,76 1-214 1,198 1-163 1,190 1-29 1-30 1-73 1,60 1-60 1,94 1-105 1,137 1-5 1-23 1,6 1-54 1-46 1,158 1-219 1,267 1-151 1-23 1,48 1-7 1,20 1,37 1-169 1,94 1,30 1,27 1-42 1,51 1,27 1-120 1,98 1,17 1-62 1,93 1,10 1-72 1-62 1,142 1-20 1-76 1-14 1-46 1-87 1,151 1-115 1,36 1-3 1-40 1-88 1,48 1,124 1-147 1-16 1,249 1-19 1-75 1-95 1,49 1,146 1-18 1-97 1,83 1,3 1-15 1,41 1,33 1,62 1-42 1,34 1-18 1,152 1-267 1,38 1,67 1-76 1-44 1-15 1-9 1,1 1,26 1,32 1-71 1,52 1,36 1-30 1,109 1,31 1-165 1,316 1-156 1-40 1-21 1,103 1,80 1,14 1-49 1,18 1-30 1-53 1,44 1-159 1,137 1-31 1,92 1-170 1,74 1-57 1-34 1,76 1,1 1-10 1-101 1,57 1,75 1-1 1-101 1,111 1-123 1,21 1-3 1-37 1,72 1-40 1-47 1,1 1,125 1,64 1-48 1,25 1-58 1,70 1-26 1,18 1,100 1-7 1-5 1-10 1,1 1,56 1-120 1-62 1,137 1-70 1-6 1,14 1-18 1,59 1-27 1-3 1-30 1-29 1-31 1,16 1-40 1,91 1-44 1-9 1,18 1,35 1-60 1,20 1-71 1,83 1-142 1,58 1-3 1-17 1-51 1,100 1-54 1,64 1,40 1-100 1,35 1,35 1-53 1-79 1-28 1,101 1-27 1,65 1-58 1,33 1-93 1,7 1-66 1,128 1-1 1-94 1-79 1,58 1,20 1-4 1-63 1-30 1,13 1,119 1-78 1,2 1,75 1,82 1-127 1-58 1-5 1,66 1,141 1-118 1,45 1-80 1,78 1-126 1,38 1,84 1-105 1,88 1-37 1,105 1-180 1,115 1-89 1-5 1-17 1,23 1,63 1-3 1-16 1,6 1-187 1,115 1,43 1-29 1,69 1-13 1,16 1,6 1-19 1-62 1-89 1,27 1,6 1,9 1,69 1-3 1-100 1,25 1-27 1-181 1,130 1,27 1-112 1,122 1,23 1-16 1,39 1-30 1-10 1,37 1,30 1-47 1-16 1,0 1,0 1-117 1,66 1,3 1,34 1-37 1,96 1,7 1-140 1,194 1,98 1-133 1-49 1-32 1,13 1-9 1-63 1-2 1,56 1,35 1-66 1,87 1-41 1,51 1-60 1,53 1,0 1-116 1-25 1,76 1-88 1,49 1-95 1,217 1-166 1,37 1,38 1-117 1,33 1-8 1,26 1-174 1,139 1,14 1-108 1,142 1-37 1,56 1,23 1-12 1-23 1-48 1,172 1-22 1,66 1-2 1,5 1-7 1,72 1-28 1,34 1-1 1-119 1,69 1,41 1-18 1,17 1-61 1,12 1,25 1-69 1-6 1-29 1,26 1,136 1-73 1-16 1,24 1-71 1-6 1,24 1,20 1-51 1,20 1,20 1-80 1,37 1,45 1-92 1,152 1-217 1,77 1-91 1,38 1,54 1-36 1-49 1,112 1-25 1,22 1-40 1,59 1,25 1,4 1,110 1-58 1-67 1,21 1-11 1,15 1-65 1,26 1,44 1-97 1,19 1-21 1-16 1,63 1-62 1,30 1,23 1,42 1-138 1-20 1,55 1-75 1-8 1,69 1,46 1-73 1-1 1,90 1-56 1,51 1,19 1-33 1,96 1-49 1-122 1,162 1-113 1,111 1-58 1,31 1,4 1-79 1,28 1,64 1-88 1,123 1-93 1-42 1-23 1,36 1-128 1,85 1-24 1,33 1,20 1,28 1-98 1,21 1,83 1-38 1,26 1,7 1-57 1,22 1-44 1-10 1-35 1,36 1,26 1,46 1-24 1,32 1-24 1,32 1-29 1,12 1,15 1-50 1-66 1,50 1,53 1,3 1-7 1,20 1-29 1-13 1,49 1,91 1-82 1-173 1,180 1-67 1,41 1-50 1,64 1,51 1-81 1,7 1,28 1-30 1-46 1,32 1,11 1-35 1-15 1,20 1,126 1-112 1,14 1-60 1-90 1,166 1-52 1-4 1,13 1,49 1,79 1-57 1-54 1,1 1,73 1-116 1,76 1,15 1-141 1,114 1-44 1-5 1,67 1-32 1-50 1,10 1,4 1,127 1-62 1-68 1,150 1,39 1-128 1,56 1,26 1,6 1,28 1,0 1-53 1,76 1,2 1,10 1,37 1-87 1-5 1,43 1-14 1,49 1-106 1,62 1,1 1-39 1,40 1,69 1-125 1,33 1-59 1,3 1,57 1-20 1,28 1-53 1,79 1-101 1,67 1-22 1-34 1-31 1-40 1-16 1-15 1,67 1,10 1-115 1,92 1-5 1-9 1,16 1,74 1-7 1-56 1,22 1-10 1-6 1-46 1-77 1,79 1,12 1-19 1-35 1-65 1-65 1,71 1,27 1-16 1,47 1,15 1-61 1,8 1-100 1,36 1,35 1,125 1-103 1-113 1,136 1-28 1,51 1-56 1,72 1-106 1-19 1-17 1,35 1,11 1,12 1-19 1-78 1,67 1,103 1-51 1,47 1,51 1-7 1-19 1,60 1-109 1-15 1,47 1-42 1,117 1-75 1,10 1,85 1-95 1-7 1,82 1-8 1,90 1,2 1-147 1,122 1,20 1,50 1-50 1-16 1-32 1-5 1-142 1,87 1,62 1-47 1,20 1-61 1,27 1,12 1,27 1,59 1-44 1,7 1-42 1,74 1,54 1-34 1,23 1,46 1-87 1-30 1-64 1,73 1-13 1-69 1,23 1-6 1,36 1-48 1,59 1-42 1-74 1,16 1,49 1,7 1-19 1-18 1,53 1-73 1-7 1-75 1,58 1-43 1,76 1-47 1,49 1-9 1-34 1,42 1,112 1-92 1-12 1,53 1,13 1-131 1,46 1-33 1,14 1-16 1,81 1-7 1,34 1-16 1,67 1-69 1,61 1,3 1-61 1,89 1-160 1,66 1,3 1,28 1-86 1,15 1,61 1-42 1,69 1-49 1-74 1,60 1,9 1-14 1,39 1,23 1,23 1,12 1,53 1-60 1,88 1,21 1-47 1-63 1,31 1,33 1,0 1-32 1-63 1-87 1,129 1,123 1-80 1,35 1-67 1,40 1-48 1,111 1-89 1-62 1,89 1-65 1,38 1-75 1,16 1-54 1-29 1-14 1,36 1,5 1,7 1-53 1-59 1,125 1-49 1-59 1-86 1,72 1,21 1,70 1-94 1-69 1,59 1-2 1,68 1-71 1,89 1-135 1,101 1-56 1,22 1-7 1,54 1-18 1-14 1,5 1-24 1,68 1-11 1,21 1-4 1-121 1,95 1-28 1,104 1,71 1-77 1-91 1,135 1-50 1,26 1,1 1,37 1-129 1-1 1,18 1,23 1-28 1,44 1-20 1-9 1-61 1-41 1,70 1-98 1,25 1,34 1,27 1,177 1-158 1,71 1-1 1-3 1,103 1-215 1,157 1-24 1,25 1,0 1-3 1-123 1,101 1,82 1-153 1,54 1-65 1,126 1-57 1-30 1,36 1,95 1-145 1,143 1-9 1-28 1-21 1,44 1,42 1,20 1,75 1-177 1,51 1-63 1,45 1,36 1-7 1-68 1,44 1,59 1,29 1-6 1-110 1,15 1,57 1-87 1,39 1-64 1,42 1,41 1,54 1,68 1-92 1,3 1,53 1-93 1-10 1,76 1-11 1-18 1-42 1,38 1,25 1-24 1-12 1,4 1-12 1,7 1,6 1,0 1,32 1-20 1,0 1-149 1,85 1-38 1,10 1-25 1,19 1-30 1-20 1,85 1-110 1-1 1,58 1,17 1,9 1,11 1-15 1-30 1-9 1-14 1,49 1-63 1,30 1-26 1,4 1-14 1,24 1,53 1-24 1,29 1-55 1-39 1,21 1-56 1,196 1-237 1,78 1,98 1-56 1-49 1,76 1-11 1,71 1,35 1-61 1,16 1,85 1-72 1,3 1,69 1-147 1-31 1,113 1-90 1,89 1,73 1-73 1-46 1,5 1-20 1-33 1-30 1,25 1,16 1-57 1,44 1-51 1,71 1-57 1,38 1-48 1,9 1,39 1-21 1,45 1-36 1-50 1,9 1,49 1-74 1-74 1,138 1-32 1-89 1,123 1-5 1-93 1-18 1,31 1-20 1,22 1-15 1-11 1,75 1-28 1-28 1,213 1-186 1,51 1-26 1,58 1-60 1,88 1,8 1-78 1,32 1-75 1-28 1,35 1,85 1-110 1-47 1,50 1-5 1-71 1,86 1,43 1-45 1,2 1,155 1-124 1,28 1,91 1-161 1,64 1-30 1-78 1,94 1,68 1,31 1-69 1-2 1,51 1-71 1,37 1-23 1,6 1-43 1,41 1-3 1-92 1,96 1-23 1,7 1,9 1-81 1,105 1-81 1,21 1,11 1,93 1,36 1-95 1,2 1,8 1,3 1-83 1,95 1,65 1-117 1,137 1-75 1-63 1-45 1,55 1,30 1-13 1,138 1-148 1-12 1,52 1,39 1-71 1,91 1-80 1,58 1-15 1-72 1-9 1,34 1,189 1-129 1-53 1,11 1,109 1-153 1,2 1-41 1,76 1,22 1-37 1,2 1-5 1,64 1-47 1-35 1,48 1-27 1,14 1-17 1-42 1,27 1-137 1,199 1,92 1-161 1-4 1,36 1,8 1,79 1-47 1-84 1,8 1-43 1,9 1-31 1,89 1-19 1,18 1-30 1,29 1,19 1,90 1-72 1,26 1-47 1-35 1-3 1-76 1,177 1-26 1-7 1,14 1,35 1-56 1-18 1-43 1-5 1,65 1-23 1-48 1,50 1,11 1-129 1,108 1,167 1-133 1-4 1-72 1,23 1,53 1-131 1,122 1-5 1,92 1-42 1,61 1-101 1,28 1-91 1,91 1,20 1-59 1,119 1-102 1,106 1-142 1,95 1-87 1,17 1-31 1,96 1,17 1-107 1-32 1-52 1-83 1,94 1-8 1,28 1-2 1,100 1,9 1,0 1-42 1-56 1,92 1-54 1-45 1,134 1-135 1,46 1-70 1,84 1-9 1-37 1,32 1,25 1,120 1-139 1-88 1,8 1,62 1-12 1-54 1,86 1-35 1,98 1-55 1,75 1-47 1-6 1,29 1,37 1,15 1,7 1,59 1-171 1,108 1-31 1-8 1,11 1-37 1-32 1,141 1-73 1-131 1,7 1-37 1,35 1,37 1-82 1,83 1,118 1-111 1,71 1-87 1,87 1-32 1,30 1-47 1-13 1-65 1-29 1-40 1,85 1-78 1,157 1-10 1-38 1,29 1,54 1-78 1,18 1-29 1,113 1-94 1,7 1-57 1,7 1,81 1-7 1,8 1,163 1-140 1,6 1-50 1-16 1,87 1-27 1,12 1,30 1-41 1,35 1-53 1-67 1,108 1-105 1,122 1-89 1-11 1,71 1-88 1,75 1-25 1-49 1,87 1,69 1-118 1,62 1,31 1-92 1-18 1,28 1-80 1,76 1,36 1,0 1-60 1,32 1-71 1,53 1-47 1,22 1-57 1,25 1,2 1-14 1,72 1-176 1,104 1-32 1,2 1,55 1-68 1,79 1-102 1,9 1-68 1,93 1-41 1,94 1-27 1,10 1-59 1,65 1,20 1,16 1-66 1-17 1-103 1,58 1,63 1-39 1-83 1,81 1-49 1,88 1,55 1,2 1-102 1,69 1-31 1,78 1-22 1,23 1-58 1,94 1-28 1-53 1,60 1-130 1,24 1-6 1,56 1-22 1,28 1-54 1,89 1-67 1,68 1-66 1,9 1-10 1-7 1-42 1,69 1,17 1,4 1-44 1,84 1-78 1,29 1,85 1-46 1-50 1,117 1-137 1,58 1,31 1-87 1-38 1-58 1,113 1-42 1,19 1-54 1-14 1,98 1,38 1-90 1-40 1,20 1-13 1,119 1-80 1-70 1,61 1-51 1,111 1-148 1,88 1-14 1,23 1,68 1-115 1-7 1,44 1,43 1-53 1-40 1,100 1-104 1,89 1,79 1-36 1-11 1-11 1,81 1-80 1-21 1,36 1-100 1,61 1-27 1,77 1-46 1,60 1-18 1,75 1-53 1-40 1-13 1-6 1,113 1-33 1-26 1,20 1-23 1,137 1-44 1-2 1-98 1,132 1-109 1-49 1,100 1-92 1,7 1,55 1-174 1,79 1,115 1-141 1-24 1,43 1-2 1,167 1-184 1-59 1,32 1-6 1,8 1,3 1,64 1-45 1-84 1,49 1,106 1-70 1-26 1,24 1,0 1-35 1-15 1,59 1-11 1-17 1,44 1-103 1,37 1-15 1,75 1,46 1-18 1-29 1,81 1,4 1,128 1-105 1-6 1-9 1-12 1,108 1-63 1,8 1,31 1,65 1-57 1,28 1-3 1,19 1,64 1-160 1-70 1,95 1-90 1,47 1,14 1-12 1-20 1-3 1-128 1,106 1,18 1,52 1-64 1,53 1-27 1,9 1,109 1-94 1,2 1-33 1,64 1-74 1,147 1-3 1,14 1-109 1-10 1-16 1-92 1,65 1-8 1,112 1-121 1-1 1,63 1,43 1-17 1-7 1-16 1-50 1-78 1,177 1-160 1,100 1,8 1-62 1-81 1,132 1-80 1,16 1-20 1-117 1,106 1,8 1-40 1-19 1-38 1,62 1-6 1-1 1,5 1-64 1,56 1,4 1-66 1,54 1,10 1,22 1,12 1-42 1,47 1-50 1-53 1,7 1,146 1-181 1,59 1,60 1-40 1-2 1,16 1-123 1,241 1-55 1-32 1,34 1,3 1-21 1-99 1,90 1-38 1-48 1,66 1-90 1-64 1,72 1-15 1,14 1,91 1-7 1-162 1-61 1,171 1-133 1,52 1-11 1,134 1-64 1-63 1,69 1,3 1-17 1,57 1-3 1-27 1,52 1-41 1,104 1-96 1,86 1-16 1-14 1,14 1-69 1-2 1,52 1,31 1-140 1,134 1-10 1,0 1-39 1,1 1,64 1-93 1,39 1,22 1,86 1-40 1-5 1,55 1,70 1-57 1-3 1,2 1,31 1-161 1,140 1-137 1,54 1-57 1,75 1-41 1,35 1,58 1-106 1,118 1-84 1,68 1-34 1-67 1-7 1,96 1-111 1,2 1,23 1,56 1,12 1,39 1-32 1-38 1-31 1,30 1,18 1,20 1-54 1,84 1-160 1,120 1-26 1,15 1-13 1,34 1-106 1-15 1-23 1,82 1,52 1,3 1,9 1-25 1-24 1,4 1-126 1,138 1,13 1,10 1-6 1,22 1-51 1-21 1,37 1-68 1,25 1-42 1,23 1,67 1,20 1-76 1,22 1,45 1-26 1-91 1,63 1-28 1,23 1-32 1,62 1-99 1-10 1-12 1,102 1,6 1-53 1,63 1-8 1-47 1,99 1-46 1-104 1,80 1,16 1,63 1-42 1,67 1-161 1,101 1,63 1-11 1-71 1,1 1,0 1-31 1-22 1,98 1-92 1,82 1,115 1-82 1,29 1-92 1-77 1,40 1,56 1-99 1,80"/>
<path transform="matrix(0.119780,0,0,0.1,72.40,0)" vector-effect="non-scaling-stroke" fill="none" stroke="#9400d3" stroke-width="1.70" stroke-linejoin="bevel" d="M0,9016l1-409 1,9 1,29 1-22 1,50 1-93 1,68 1,0 1-26 1-47 1,71 1,81 1,40 1-113 1-91 1,53 1-82 1,5 1-118 1,128 1,62 1,23 1-84 1,100 1,14 1-97 1,13 1-86 1,120 1,12 1,83 1-37 1-121 1,20 1,70 1-109 1,54 1,48 1-128 1,68 1,0 1-61 1,24 1,92 1-79 1,10 1-79 1,23 1-44 1-114 1,37 1,131 1,110 1-16 1-66 1,102 1-55 1-102 1,88 1-14 1-14 1-65 1-84 1,105 1-20 1,28 1,15 1-8 1-2 1,2 1-20 1-27 1,156 1-38 1-41 1,74 1-181 1,103 1,129 1,35 1-148 1-66 1,1 1,83 1-22 1-77 1,121 1-1 1-45 1-2 1,66 1-157 1,44 1,53 1-19 1-78 1,107 1-56 1,14 1-47 1,19 1,33 1,91 1-43 1-70 1,21 1-40 1-5 1-72 1,70 1,74 1-51 1-133 1,73 1-44 1,7 1-61 1-73 1,39 1,159 1,33 1,19 1,39 1-114 1-25 1-5 1-14 1-22 1,56 1-105 1,37 1-96 1,123 1,108 1-78 1-101 1,5 1,133 1-74 1,149 1-92 1-81 1-114 1,200 1-136 1,199 1-115 1,41 1-92 1,70 1-59 1,175 1-37 1-43 1-9 1-85 1,110 1-127 1-5 1,44 1-85 1,189 1-171 1,132 1,61 1-210 1,3 1,22 1,68 1-59 1-151 1,126 1-82 1-106 1,375 1-251 1-59 1,41 1-178 1-22 1,244 1-130 1-183 1,285 1-139 1-139 1,90 1-37 1,23 1-78 1,3 1,160 1-239 1,40 1-61 1,27 1-32 1,66 1-156 1,263 1-127 1-257 1-75 1,194 1,226 1-247 1,127 1-107 1-328 1,136 1,58 1-8 1,59 1-81 1,36 1-167 1-208 1-31 1,273 1-81 1,172 1-59 1-44 1-192 1,113 1-55 1,17 1-73 1-74 1,112 1-15 1,111 1,47 1,130 1-34 1,80 1-61 1-43 1-12 1,20 1-37 1-149 1,157 1-182 1,142 1-205 1,183 1-112 1,8 1,3 1-63 1,67 1-64 1,32 1,46 1,5 1-25 1,30 1-112 1-70 1,137 1,75 1-21 1-90 1,19 1,233 1-292 1,175 1-220 1,87 1,47 1-55 1,30 1,162 1,17 1-526 1,376 1,79 1-110 1,77 1-17 1-39 1-20 1,173 1-215 1,49 1-74 1,449 1-210 1-138 1,45 1-74 1-13 1-101 1,169 1-102 1,66 1,31 1,217 1-294 1-31 1,112 1-147 1,94 1,101 1-164 1,12 1,91 1,63 1,87 1-169 1-14 1-168 1,72 1,178 1-245 1-36 1-40 1-34 1,329 1-69 1-222 1,308 1-66 1-243 1,245 1,37 1-188 1,39 1,76 1-8 1-25 1,315 1-346 1,186 1-386 1,406 1-218 1,364 1-265 1,50 1-4 1-141 1,40 1,65 1-125 1,38 1,11 1,428 1-328 1-109 1-25 1,388 1-401 1,92 1,30 1,134 1-308 1,212 1-50 1-134 1-10 1,54 1,61 1-204 1,52 1,157 1,62 1,64 1-97 1-135 1,240 1-82 1,46 1,272 1-209 1-31 1-141 1-283 1,312 1-224 1,421 1-105 1-183 1,0 1,57 1-1 1,98 1,156 1-298 1,170 1-40 1-21 1-155 1,23 1,68 1-57 1-110 1,249 1-195 1,10 1-80 1,225 1,143 1-167 1,111 1-87 1-77 1-17 1,100 1-227 1-42 1,164 1-53 1,81 1-28 1,110 1,81 1-53 1,22 1-244 1,328 1-261 1,244 1-54 1-286 1,36 1,47 1,19 1-105 1,157 1-185 1,173 1-39 1,32 1-153 1,125 1-60 1-16 1-112 1,155 1,46 1-173 1,106 1,109 1-180 1-11 1,21 1,124 1-243 1,214 1,127 1-204 1,93 1,96 1-214 1,424 1-205 1-260 1,307 1-139 1,77 1,172 1-406 1,22 1,129 1-18 1-26 1,158 1-410 1,155 1,462 1-317 1,42 1,94 1-184 1-131 1,238 1-141 1,116 1-3 1-83 1,20 1,118 1,6 1-126 1-27 1-77 1-75 1,60 1,24 1-116 1,213 1,116 1-60 1,61 1-1 1,35 1-13 1,66 1-14 1-24 1-1 1,186 1-80 1-148 1,109 1-36 1,47 1-20 1-186 1-128 1,128 1,424 1-458 1-62 1-39 1,83 1,363 1-283 1,131 1-227 1-8 1,185 1-105 1,20 1,265 1-15 1-231 1-3 1-425 1,39 1,733 1-486 1,183 1,63 1-132 1-73 1-6 1,39 1,113 1-122 1-88 1-31 1,106 1,130 1,123 1-140 1,13 1,174 1-198 1-131 1-135 1,549 1-325 1,205 1-50 1-18 1-120 1-57 1,150 1-1 1,28 1-36 1,126 1-26 1-120 1,85 1-200 1-19 1-98 1,229 1,10 1-75 1-40 1-132 1,235 1-108 1-62 1,54 1,80 1-34 1-134 1,476 1-298 1,21 1-55 1,44 1-152 1,77 1,67 1-138 1,139 1-215 1-34 1,195 1-130 1-33 1,163 1,178 1-16 1,14 1-196 1,400 1-247 1-41 1-31 1,155 1-66 1-204 1-56 1,209 1-59 1-162 1-330 1,225 1,87 1-41 1,90 1,109 1-168 1-64 1-138 1,279 1-145 1,141 1-107 1,183 1-107 1-161 1,268 1-127 1,187 1-200 1,51 1,50 1-35 1-31 1,26 1-2 1-95 1-267 1,222 1,123 1-233 1,177 1,109 1-89 1-120 1,170 1,19 1-2 1,60 1-95 1-180 1,74 1,192 1-214 1-43 1,102 1,268 1-188 1-411 1,290 1,21 1,96 1-104 1,81 1-325 1,167 1-41 1-16 1,150 1,266 1-335 1-21 1,44 1-115 1-27 1,174 1-186 1,4 1,258 1-263 1,102 1-17 1,108 1-38 1-225 1,116 1,170 1-99 1-59 1-270 1,349 1,17 1-22 1,76 1-61 1-90 1,130 1-131 1,63 1-119 1,152 1-362 1,309 1-214 1,313 1-166 1,78 1,15 1,9 1-25 1,67 1,0 1-190 1,1 1,3 1,2 1,39 1-75 1,13 1,61 1,79 1-83 1,68 1-164 1,168 1-23 1-43 1-40 1,126 1-92 1-33 1,87 1-20 1,30 1-20 1,29 1,81 1,28 1-10 1-110 1,31 1-102 1,78 1-153 1,168 1,7 1,4 1,39 1-392 1,371 1-93 1-29 1,63 1,36 1,69 1-209 1,141 1,134 1,176 1-333 1,76 1-77 1,65 1,345 1-362 1,14 1-131 1,39 1,6 1,139 1-43 1,132 1-292 1,81 1,73 1-39 1,35 1-99 1-89 1,102 1-100 1,41 1,97 1,97 1-126 1,191 1-510 1,364 1,51 1-116 1,109 1-77 1,13 1,54 1-103 1-16 1,56 1-18 1-67 1,227 1-109 1-254 1,129 1-18 1,266 1-120 1-42 1-17 1-120 1,205 1-115 1-25 1-5 1,105 1-181 1,103 1-201 1,197 1-37 1,49 1,52 1,8 1-58 1,199 1-171 1-238 1,68 1,142 1,19 1,71 1,46 1-85 1,109 1-131 1,59 1-137 1-1 1,130 1-86 1,134 1,17 1-104 1-62 1,151 1-92 1-61 1,124 1-81 1-54 1,3 1-47 1,93 1,17 1-252 1,183 1,59 1,52 1-54 1-66 1-62 1,102 1,121 1-36 1-121 1,155 1,146 1-244 1-22 1-27 1,154 1-125 1,121 1,4 1,217 1-133 1,93 1-75 1-75 1,71 1,115 1,91 1-450 1,146 1-211 1,211 1,69 1-2 1-18 1-67 1-57 1,22 1,227 1-140 1,57 1-17 1-24 1,55 1-180 1,177 1-83 1-1 1-76 1,107 1-124 1,125 1,32 1-120 1,138 1-165 1-221 1,390 1,22 1-250 1,8 1,71 1,8 1-152 1,44 1,113 1,87 1-203 1,217 1-205 1-21 1-46 1,343 1-222 1,143 1,60 1-107 1-9 1-92 1,58 1,98 1-75 1,39 1,93 1,56 1-181 1-76 1-90 1,157 1-95 1,82 1,83 1-168 1,82 1,39 1-22 1-22 1-61 1,94 1-97 1,73 1-15 1,175 1-312 1,83 1-2 1,32 1,169 1-304 1,96 1,92 1-2 1-108 1,85 1-85 1,290 1-188 1-23 1-107 1,74 1,140 1-210 1,26 1-23 1-56 1,136 1,3 1-12 1,47 1-126 1,45 1-12 1,18 1,16 1-5 1,5 1,30 1-68 1-45 1,73 1,34 1,18 1-37 1,218 1-140 1-8 1-2 1,109 1-57 1-60 1,190 1-135 1-36 1,36 1,53 1-74 1-53 1-8 1-57 1-5 1,51 1-55 1,132 1,15 1-55 1-38 1,56 1-62 1,112 1,287 1-335 1-9 1,107 1,12 1-106 1-16 1-22 1,52 1-11 1,119 1-238 1-70 1,186 1-69 1,124 1-238 1,202 1,136 1-148 1,133 1-108 1-41 1,111 1,51 1-265 1,140 1,150 1-104 1,144 1-63 1-23 1-7 1,6 1-49 1,40 1-222 1,190 1-63 1-123 1-122 1,6 1,132 1,63 1-173 1,266 1-36 1-44 1,45 1-187 1,0 1,87 1-155 1,189 1,0 1,186 1-195 1,25 1,6 1-7 1,153 1-43 1-41 1-216 1,239 1-35 1-155 1,164 1,17 1,128 1-170 1-103 1,249 1-160 1-41 1,308 1-354 1,341 1-273 1,59 1-292 1-62 1,216 1,100 1-92 1-3 1-24 1,78 1-103 1,91 1-64 1,250 1-314 1,78 1,270 1-218 1-183 1,86 1,126 1-294 1,242 1-92 1,39 1,74 1,69 1-172 1,134 1,152 1-131 1,76 1-88 1,8 1-146 1-7 1,8 1,78 1-43 1,104 1-93 1,161 1-31 1-272 1,207 1-27 1,67 1-19 1,113 1-67 1-180 1,126 1-38 1-166 1,212 1,69 1-13 1-246 1,254 1-31 1,89 1,54 1-285 1,56 1,58 1,61 1,27 1-33 1,178 1-357 1,99 1,126 1-80 1-104 1,103 1-63 1,57 1,27 1-45 1-160 1,148 1,27 1,117 1-186 1-96 1,155 1-69 1,56 1,252 1-217 1,31 1-155 1-8 1-22 1,127 1,55 1-74 1,330 1-184 1,53 1-183 1-163 1,241 1-38 1,19 1-131 1,47 1-39 1,113 1-58 1-41 1,71 1,68 1,211 1-240 1-24 1,2 1-14 1,88 1-41 1,93 1-33 1,6 1-69 1,36 1-118 1-12 1,88 1,68 1-7 1-79 1,24 1-16 1-84 1,39 1,88 1,17 1-194 1,62 1-11 1,73 1-102 1-100 1,254 1-195 1,118 1-2 1-99 1,154 1,170 1-25 1-181 1,65 1,127 1-301 1,114 1,82 1,3 1-100 1-130 1,330 1-164 1,135 1-65 1-44 1-66 1,84 1-122 1,174 1,30 1-53 1-34 1-23 1-131 1,31 1,52 1,301 1-380 1,57 1-34 1,141 1-19 1,87 1-167 1,158 1-76 1-102 1,14 1-4 1-17 1-7 1,97 1,31 1-108 1,86 1-262 1,112 1-110 1-38 1,127 1,90 1-39 1,302 1-406 1,186 1-65 1-82 1,254 1,6 1-208 1-7 1-72 1,18 1,209 1-92 1-141 1,151 1-64 1-29 1-37 1,111 1,21 1-61 1,8 1-3 1,231 1-449 1,266 1-166 1,44 1,278 1-119 1-167 1,98 1-5 1,13 1,103 1-8 1-37 1-56 1,59 1-48 1-48 1-29 1,288 1-115 1-130 1,68 1,34 1,65 1-109 1,68 1-6 1,68 1-112 1-82 1-98 1,289 1-84 1-112 1-80 1-168 1,234 1,32 1,188 1-38 1-235 1,190 1-56 1-95 1,180 1-326 1,337 1-25 1-68 1,142 1-77 1,99 1-57 1,70 1-49 1-54 1,124 1-138 1,48 1-46 1,105 1,35 1-39 1-336 1,274 1,2 1,205 1-196 1-26 1,80 1-303 1,368 1-195 1-77 1-142 1,36 1,206 1-222 1,284 1-12 1,75 1-127 1-3 1-145 1,104 1,6 1,32 1-51 1-56 1-260 1,385 1-14 1-40 1-96 1-5 1,188 1,42 1-18 1-79 1-287 1,223 1,78 1-116 1,234 1,54 1-185 1-60 1,173 1-256 1,250 1,39 1-156 1,189 1-145 1,26 1,25 1-57 1,154 1-43 1,189 1-329 1,272 1-362 1,106 1,55 1,57 1-7 1-203 1,163 1,25 1-83 1,138 1-4 1-76 1-56 1,75 1-90 1,9 1,82 1-172 1,86 1,54 1-49 1,117 1,49 1-111 1,38 1,110 1-169 1,66 1,135 1-89 1-93 1-74 1,49 1-356 1,356 1,53 1,77 1-73 1-43 1-64 1,41 1-116 1-6 1,194 1-221 1,208 1-176 1-6 1-15 1,79 1-63 1,140 1-103 1-17 1,52 1-13 1-49 1,200 1-166 1-24 1,101 1-203 1,40 1,240 1-1 1-169 1-10 1,226 1-140 1-53 1-83 1,80 1,45 1,4 1-125 1,156 1-204 1,177 1,27 1-165 1,101 1-37 1,10 1,253 1-324 1,48 1,277 1-152 1-30 1-51 1,32 1-92 1,47 1,39 1,193 1-141 1,81 1-78 1-138 1,44 1-56 1,59 1,2 1-18 1,31 1-46 1-12 1,192 1-194 1,61 1-96 1,100 1-108 1,101 1-43 1,59 1,51 1-140 1,172 1-43 1-332 1,148 1,189 1-229 1,1 1,79 1,2 1-45 1-67 1,194 1-173 1-179 1,141 1,164 1-176 1,102 1,42 1-117 1,111 1-284 1,12 1,122 1-99 1,327 1-208 1,92 1,83 1,91 1-161 1-185 1,170 1-175 1,61 1-43 1,137 1-7 1,3 1-62 1,36 1-76 1-23 1,214 1-147 1-4 1-62 1,73 1,109 1-53 1-21 1-90 1,44 1-47 1,169 1-75 1-157 1,64 1,214 1-268 1,86 1-66 1,55 1-84 1,87 1,11 1-18 1,109 1,236 1-200 1,3 1-22 1-99 1-3 1,56 1,15 1-81 1-185 1,215 1-88 1,208 1-75 1-29 1-95 1,28 1,102 1-78 1-35 1-81 1,390 1-352 1,7 1,73 1-170 1,206 1,95 1,108 1-14 1-32 1-117 1,111 1,184 1-56 1-419 1,50 1,109 1-186 1,133 1-36 1-29 1,118 1,18 1,46 1-133 1,13 1-33 1,24 1,45 1,14 1-319 1,227 1-93 1,16 1,93 1-30 1,61 1-2 1,138 1-190 1,45 1,40 1-80 1-12 1,126 1-15 1,4 1-39 1,134 1-82 1,41 1-49 1,173 1-311 1,114 1-17 1-9 1-39 1-88 1,126 1,118 1-23 1-119 1-34 1,82 1-10 1-66 1-6 1,105 1-166 1,96 1,47 1,104 1-296 1,105 1-47 1,30 1,52 1,102 1-189 1,12 1,60 1-83 1,45 1-44 1,62 1-171 1,175 1-123 1,44 1-287 1,338 1-13 1-9 1,12 1,8 1,118 1-220 1,19 1,152 1-234 1,126 1,71 1-33 1-58 1,78 1,6 1,140 1-47 1,33 1-16 1,139 1-120 1-351 1,163 1-69 1,18 1,18 1,84 1,173 1-191 1-203 1,325 1-76 1,234 1-105 1,20 1-200 1,98 1,20 1,75 1-76 1-28 1,37 1-70 1,47 1-400 1,421 1-96 1,71 1-47 1,98 1-113 1,26 1-28 1-10 1-86 1,86 1,11 1-87 1-153 1,189 1,10 1,21 1-36 1,9 1,16 1-2 1,203 1-157 1-21 1-25 1-77 1,10 1,347 1-231 1-113 1-6 1-52 1,146 1,12 1,28 1-50 1-29 1,75 1-216 1,210 1-8 1,137 1-237 1-6 1,121 1-14 1-30 1-88 1,58 1-31 1,24 1,138 1-39 1-14 1,72 1,45 1-53 1,196 1-314 1,79 1-39 1-164 1,142 1,114 1-32 1-5 1,10 1-85 1,135 1-29 1-154 1-75 1-37 1,27 1,49 1-75 1,217 1-106 1-20 1-16 1,29 1-35 1,102 1-29 1-35 1,27 1,29 1,35 1-58 1,88 1,16 1,11 1,61 1-110 1-70 1,21 1,48 1,55 1-159 1,200 1-228 1,35 1,42 1,61 1,144 1-260 1,155 1,50 1,108 1-300 1,123 1-206 1,55 1,136 1,121 1-71 1-210 1,103 1-25 1,62 1,6 1-44 1,41 1,50 1,32 1-119 1,12 1,254 1-328 1,24 1,38 1-37 1,160 1-289 1,271 1-101 1,97 1-119 1,28 1-6 1-73 1,134 1-92 1,68 1,177 1-116 1,195 1-257 1-15 1,20 1-114 1,49 1,75 1-86 1-18 1,24 1,117 1-88 1-1 1,69 1-274 1,168 1,102 1-81 1,20 1,121 1-130 1-105 1-80 1,405 1-319 1,90 1,82 1-34 1,41 1-51 1-200 1,205 1-69 1,123 1-10 1-129 1-7 1-143 1,242 1,38 1-270 1-35 1,87 1-64 1,157 1-85 1,195 1-31 1-70 1,174 1-236 1,92 1,3 1,39 1,175 1-207 1-52 1-4 1,219 1-162 1-140 1,78 1,61 1-45 1,42 1,183 1-183 1,46 1,58 1-57 1,28 1-194 1,109 1,74 1-10 1-36 1-53 1-4 1-257 1,3 1,165 1,109 1,0 1,112 1-80 1-25 1,32 1-16 1,135 1-51 1,29 1,35 1-60 1,88 1,238 1-231 1-86 1,13 1,211 1-240 1,83 1-97 1-59 1,34 1,25 1-63 1,84 1,34 1-37 1-183 1,237 1-207 1,25 1,105 1-53 1,202 1-164 1-110 1,1 1,70 1,163 1-129 1,114 1-49 1-248 1,365 1-265 1,258 1,17 1-127 1,152 1-36 1-199 1,104 1-31 1-62 1,155 1,40 1-240 1,48 1,116 1-17 1,135 1-17 1-50 1-7 1,249 1-421 1-109 1,150 1,239 1-225 1,125 1-69 1,120 1-93 1,30 1,26 1,85 1-106 1-28 1-26 1,203 1-8 1-63 1-145 1,128 1,15 1-181 1,76 1-38 1,16 1,191 1-217 1,35 1,72 1,26 1,41 1-235 1,31 1,170 1-9 1-139 1,134 1-40 1,49 1,86 1-32 1-89 1-32 1,64 1,110 1-121 1-86 1,57 1-112 1,92 1,21 1,178 1-303 1-122 1,85 1,56 1,46 1,56 1,103 1-308 1,69 1-34 1,137 1-101 1-95 1,134 1,109 1,68 1-14 1-155 1-53 1-76 1,304 1-172 1-2 1,63 1-92 1,88 1-184 1,186 1-63 1,141 1-85 1,115 1,221 1-332 1,33 1,32 1-258 1,281 1-93 1,21 1-29 1,44 1-11 1-91 1,171 1-281 1,99 1,49 1-164 1,67 1,93 1,8 1-2 1,30 1,17 1-82 1-126 1,163 1-104 1-260 1,296 1-273 1,187 1,87 1,96 1-20 1,93 1-158 1,35 1-6 1-19 1,62 1-98 1,269 1-127 1,13 1-69 1,122 1-146 1,43 1,261 1-257 1,82 1-150 1,149 1,133 1-68 1-107 1-27 1,40 1-48 1,201 1-102 1-191 1,36 1,64 1-165 1,141 1-62 1-156 1,277 1-257 1,107 1-22 1,204 1-236 1,193 1-217 1,147 1,11 1,3 1-65 1-40 1,76 1,52 1,110 1-149 1,162 1-60 1-28 1-5 1,86 1-151 1,36 1,78 1,109 1-329 1,93 1-136 1,185 1,84 1-145 1-48 1,69 1,193 1-69 1-52 1-6 1,61 1,11 1-105 1,114 1-55 1-301 1,9 1,173 1,69 1,272 1-264 1-32 1-7 1,100 1,16 1,16 1,18 1,31 1-135 1,18 1,25 1,27 1-64 1,110 1-170 1,52 1-89 1,183 1-287 1,216 1,23 1-24 1-114 1-10 1-48 1,166 1-217 1,248 1-180 1-5 1,25 1,211 1-187 1-3 1,56 1,123 1-312 1,246 1-286 1,167 1-86 1,76 1,16 1,303 1-260 1-4 1-59 1-230 1,214 1,70 1-175 1,43 1-5 1,213 1-66 1,40 1,70 1-84 1,44 1-165 1,204 1-114 1,11 1,178 1-91 1-25 1-139 1,158 1-214 1,96 1-43 1-239 1,284 1,68 1,105 1-164 1,12 1-96 1,63 1,131 1-43 1-74 1,149 1-144 1,55 1,1 1-6 1,101 1,56 1-227 1,200 1-118 1,56 1-61 1,154 1-136 1-214 1,61 1,89 1-303 1,416 1-165 1,140 1,191 1-104 1-197 1,7 1,52 1,211 1-269 1-26 1,173 1-194 1,86 1-244 1,208 1-54 1,86 1,21 1-168 1,114 1-60 1,321 1-139 1,14 1,41 1-194 1,171 1,60 1-214 1,170 1-39 1-206 1,125 1-247 1,57 1,39 1,82 1-119 1,275 1,150 1-211 1-114 1,53 1,20 1-56 1,125 1-180 1,46 1-52 1-65 1,252 1-117 1-80 1,271 1-37 1,11 1-212 1,136 1-26 1-8 1-46 1-28 1,45 1-114 1,130 1-106 1,100 1-147 1,9 1,24 1-125 1,238 1,170 1-249 1-53 1,90 1,30 1-191 1,95 1,67 1,98 1,92 1-149 1,91 1-141 1-84 1,11 1,70 1-144 1,142 1-123 1,133 1-50 1,320 1-280 1,72 1-149 1,100 1-194 1,86 1-9 1,62 1,40 1,49 1-276 1,237 1-209 1,195 1-110 1-17 1,83 1-148 1,175 1-41 1-21 1,55 1-92 1,13 1-179 1,29 1,24 1,209 1-94 1-29 1,170 1-131 1,111 1-84 1-84 1,68 1-31 1,237 1-201 1,51 1,38 1-147 1-55 1,177 1,47 1-9 1-37 1,77 1-235 1,242 1-81 1-6 1-141 1,129 1-164 1,333 1-261 1,85 1-248 1,265 1-118 1-118 1,72 1,50 1,83 1-15 1-52 1-41 1-6 1,5 1,27 1,49 1-52 1,257 1-130 1-10 1-96 1,177 1-172 1,24 1-50 1,45 1-103 1,128 1,242 1-468 1,53 1,173 1-158 1,244 1-147 1,174 1,38 1-59 1-230 1,304 1-27 1,116 1,106 1-245 1-30 1-69 1,150 1-40 1-105 1,48 1-16 1-83 1,62 1-41 1-51 1,78 1,134 1-263 1,247 1-146 1,225 1-12 1,33 1,161 1-58 1-116 1-8 1,8 1-71 1-36 1,13 1,86 1-38 1-41 1,29 1,48 1-168 1,62 1,19 1,34 1,188 1-166 1,276 1-244 1,22 1,25 1,79 1-77 1-37 1,17 1-58 1,151 1,1 1-87 1,21 1-19 1,63 1,26 1-196 1,23 1,21 1-36 1,87 1,109 1,78 1-190 1,17 1,110 1-56 1,13 1-17 1-24 1-114 1,146 1,46 1,58 1-53 1,37 1-111 1,184 1-175 1-75 1,57 1-40 1-1 1,116 1-84 1-153 1,103 1,49 1-129 1,217 1-143 1-81 1,183 1-62 1-8 1-67 1,105 1,7 1,131 1-292 1,187 1,164 1-93 1,5 1,159 1-228 1-26 1,112 1,23 1-235 1,251 1-220 1,108 1-225 1,130 1-19 1,5 1,15 1,18 1,263 1-340 1,68 1-38 1-131 1,244 1-144 1,101 1-91 1,4 1,305 1-216 1,92 1-118 1,37 1-49 1,65 1-59 1,56 1-20 1-37 1,16 1-117 1,178 1-30 1,93 1-54 1-126 1,60 1-162 1,201 1-83 1,33 1-14 1,171 1,106 1-326 1,126 1,75 1-223 1,127 1,61 1,259 1-206 1-9 1-27 1,43 1-233 1,158 1-126 1,22 1,6 1,99 1,150 1,55 1-253 1,143 1-221 1,208 1-31 1-151 1,79 1-221 1,163 1,108 1,65 1-162 1-142 1,171 1-105 1,230 1-201 1-97 1,131 1,11 1,78 1-146 1,235 1-75 1,65 1-170 1,53 1,4 1,72 1-50 1,97 1-111 1,54 1-61 1-76 1,87 1,155 1-76 1,13 1-65 1-90 1,87 1-11 1-163 1,339 1-168 1-77 1,49 1,5 1,114 1-28 1-105 1-56 1,137 1-53 1-9 1-9 1-21 1,54 1-207 1,20 1-79 1,129 1,34 1-58 1,322 1-312 1,141 1,172 1-49 1-138 1,103 1-85 1-99 1,187 1-158 1,94 1-5 1,58 1-60 1-54 1-16 1,63 1-128 1-1 1,42 1,179 1-95 1-11 1-188 1,241 1-56 1,32 1-93 1-36 1,80 1,21 1,115 1-89 1-59 1,0 1-70 1-67 1,135 1,3 1-30 1,24 1,49 1,126 1-22 1-194 1,122 1-33 1,150 1-221 1,147 1-7 1,33 1,152 1-308 1,225 1-132 1-114 1,60 1,203 1-258 1,312 1-22 1-168 1,28 1,39 1,43 1-67 1,46 1,20 1-31 1-60 1-95 1,141 1,185 1-245 1,185 1-99 1,102 1-163 1-5 1-6 1-94 1,56 1,174 1-157 1,304 1-228 1-67 1-78 1,121 1-66 1,54 1-73 1,11 1-51 1,19 1,84 1-9 1-5 1-37 1-51 1,5 1,38 1,3 1,66 1,103 1-246 1,104 1,30 1,91 1,15 1-120 1,110 1-73 1,71 1-269 1,190 1-116 1-5 1-111 1,198 1,94 1-110 1-129 1,88 1-102 1,204 1-8 1-39 1-262 1,335 1,174 1-83 1,18 1-36 1,38 1-41 1-72 1-187 1,219 1,54 1-118 1-47 1,73 1-31 1,33 1-146 1,59 1-29 1,120 1-171 1,65 1,13 1,122 1,25 1-83 1,4 1,121 1-94 1-27 1-40 1,107 1,136 1-121 1-16 1-65 1,165 1,128 1-158 1-109 1-78 1-14 1,30 1,39 1-99 1,51 1,72 1-85 1,102 1-52 1-55 1,116 1-224 1-161 1,142 1-50 1-59 1,52 1-169 1,22 1,1 1-24 1,67 1,34 1-3 1-164 1,130 1-141 1-3 1,242 1-173 1,34 1,117 1-256 1,267 1-238 1,129 1,138 1-78 1,70 1,42 1-128 1,163 1-56 1-216 1,37 1,146 1-173 1,163 1-87 1,133 1-108 1,57 1-28 1,20 1-146 1,137 1,4 1-171 1-53 1,87 1,141 1-73 1,128 1-37 1-124 1-96 1,273 1,8 1-342 1,177 1-136 1,148 1,116 1-99 1,130 1-144 1-30 1-30 1,153 1,68 1-212 1,75 1-11 1-99 1,63 1,80 1,35 1,33 1-24 1-241 1,66 1-30 1,136 1,74 1-32 1,88 1-91 1-76 1,49 1-26 1,32 1,38 1,55 1-210 1,111 1,19 1-182 1,293 1-136 1-71 1-10 1-102 1,87 1,108 1-94 1-32 1,179 1-248 1,206 1-227 1,276 1-87 1,22 1-154 1,113 1-63 1-41 1,116 1-30 1-24 1,75 1-22 1-34 1,149 1-120 1,56 1,66 1-128 1-145 1,152 1,67 1-135 1-14 1,23 1-196 1,0 1,276 1-18 1,95 1-14 1,10 1,3 1-105 1,115 1-202 1,122 1,27 1-36 1-67 1-46 1,79 1,41 1-17 1,34 1,181 1-212 1,72 1-99 1,137 1-179 1,139 1,82 1-33 1-286 1,241 1-47 1-55 1-26 1,209 1-27 1-81 1,49 1,15 1-69 1-14 1-51 1,33 1-73 1-2 1,49 1,82 1-58 1,2 1-8 1-205 1,187 1,63 1-85 1,70 1-207 1,78 1,113 1-56 1,210 1-200 1-83 1-14 1,14 1-89 1-12 1,246 1-215 1,71 1,65 1-151 1,130 1,30 1-58 1,37 1,10 1,5 1,77 1-121 1,9 1,50 1-62 1,90 1-74 1,100 1-130 1,228 1-149 1,29 1-71 1,88 1-149 1,5 1,51 1,7 1,87 1-22 1,56 1-25 1-9 1-25 1-32 1-131 1-25 1,190 1-62 1,89 1-185 1,173 1-38 1,24 1,61 1,32 1-103 1-40 1,241 1-240 1,20 1,86 1,39 1-119 1,2 1,59 1-74 1,68 1-55 1-79 1,108 1-75 1,54 1,145 1-277 1-58 1,131 1-60 1,76 1,35 1-137 1,134 1-48 1-19 1,51 1-45 1,40 1,74 1-116 1,85 1-29 1-58 1,36 1,58 1,12 1-139 1,252 1-79 1-63 1,13 1-236 1,151 1,127 1,6 1-118 1,50 1,221 1-177 1,23 1,59 1-133 1,13 1-27 1,143 1,38 1-84 1-31 1,19 1-44 1,143 1-149 1,93 1-115 1,48 1-79 1,77 1-75 1-56 1,117 1,185 1-130 1-10 1,106 1-93 1-48 1,8 1,81 1-90 1-81 1,146 1,24 1,186 1-262 1,68 1-136 1,116 1,46 1-135 1,91 1-126 1,43 1,32 1,17 1-35 1-21 1-24 1,77 1-72 1,54 1-37 1,26 1,166 1-65 1,26 1-20 1-26 1-114 1,27 1-62 1,41 1-1 1,130 1-59 1,23 1,23 1-318 1,300 1-61 1,130 1-28 1-149 1,59 1,54 1-186 1,97 1-21 1,84 1-170 1,7 1,5 1,11 1,16 1,17 1-35 1,46 1,29 1-37 1,120 1-19 1,2 1-24 1,50 1,64 1-112 1-24 1-1 1,23 1-7 1-36 1,14 1,88 1-84 1-57 1-30 1,223 1-186 1-41 1,112 1,75 1-199 1,227 1-136 1,110 1-15 1-214 1,182 1,0 1-25 1,48 1-2 1-62 1-20 1-6 1,61 1-8 1-38 1-62 1-33 1,64 1,138 1-4 1-80 1,103 1,6 1-131 1,72 1-26 1,6 1,48 1,76 1-12 1-182 1,101 1-34 1-27 1,23 1-36 1,105 1-124 1,69 1,164 1-262 1,85 1-77 1,117 1-257 1,143 1-9 1,5 1,198 1-123 1-43 1-26 1,42 1,38 1-89 1,44 1-27 1-12 1,60 1-9 1-78 1,220 1,25 1-93 1-33 1-20 1,29 1-80 1,168 1-125 1,219 1-182 1-87 1,122 1,127 1-72 1,41 1-149 1,48 1-131 1,70 1,125 1-100 1-163 1,201 1-112 1,62 1,20 1,34 1-33 1,30 1,6 1-6 1-32 1-124 1,70 1-48 1,183 1-152 1,62 1,69 1,42 1-164 1-182 1,262 1-73 1-105 1,228 1-167 1,135 1-109 1,188 1-69 1,83 1-89 1-75 1-40 1-9 1-34 1,136 1,19 1-90 1,60 1-103 1-22 1,102 1,56 1,9 1-40 1,31 1-61 1,12 1,54 1-33 1-1 1-63 1,105 1-88 1,2 1,16 1,67 1-38 1,68 1-67 1,66 1-100 1-87 1,122 1,16 1-105 1,46 1,97 1-59 1,1 1-139 1,156 1,71 1-134 1,40 1-23 1,1 1-43 1,21 1,75 1,21 1-1 1-143 1,70 1,66 1-138 1,118 1,193 1-67 1-103 1,34 1-128 1,140 1,69 1-44 1-94 1,32 1-66 1,74 1-25 1,44 1-61 1,26 1-74 1,25 1-7 1,21 1,120 1-73 1-51 1,179 1-197 1,58 1,36 1,14 1-29 1-51 1,148 1-215 1,28 1-48 1,121 1-31 1-11 1-117 1,67 1-112 1,17 1,135 1-87 1-70 1,162 1-2 1-102 1-89 1,192 1-2 1,17 1-11 1,43 1-9 1,63 1-142 1,22 1,36 1,175 1-89 1-169 1,61 1,99 1,37 1,37 1-99 1,106 1-63 1-254 1,217 1-79 1,122 1,51 1-160 1-88 1,14 1-7 1,16 1-24 1,100 1-207 1,119 1-28 1,89 1-158 1,174 1,72 1-73 1,23 1-147 1,92 1-8 1-93 1,155 1-40 1,45 1-9 1,37 1-93 1-43 1-207 1,265 1,48 1-159 1-133 1,80 1-4 1,141 1,2 1-127 1,84 1-39 1,109 1-25 1,75 1-45 1,109 1-200 1-27 1,120 1-212 1,298 1-116 1-19 1,28 1-126 1,129 1,46 1-16 1,107 1-123 1-113 1,124 1-50 1,106 1-112 1,110 1,23 1-100 1,76 1,5 1-12 1-44 1-5 1-190 1,320 1-115 1-83 1,4 1,77 1-43 1-37 1-50 1,28 1,166 1-118 1,88 1-78 1,55 1-233 1,75 1,108 1,3 1-44 1-63 1,64 1,40 1-40 1,80 1,36 1,88 1,103 1-148 1-155 1,51 1-45 1,168 1-86 1,64 1-63 1-62 1,62 1-41 1,116 1-170 1,271 1-333 1,134 1-81 1,268 1-267 1,44 1-48 1,141 1-175 1,99 1-114 1-22 1-82 1,250 1-19 1-77 1,25 1-110 1,39 1-48 1-53 1,101 1,16 1-90 1,113 1-76 1,66 1,2 1,55 1-20 1-33 1,87 1-55 1,34 1-73 1,1 1,56 1-64 1-5 1,34 1-219 1,71 1,46 1,205 1-161 1-43 1,36 1,0 1,111 1-84 1,35 1-45 1-86 1,185 1-35 1,52 1-94 1,182 1-165 1-74 1,189 1-78 1,115 1-76 1-14 1-133 1,36 1,132 1-87 1-62 1,157 1-40 1-68 1,38 1,5 1,124 1-196 1,126 1-62 1,19 1-66 1-3 1,48 1-58 1,111 1-27 1-114 1-33 1,238 1-152 1,63 1-88 1,172 1-29 1-93 1-49 1,61 1-149 1,75 1-70 1,128 1-168 1-98 1,178 1-101 1-16 1,103 1-10 1,20 1,87 1-54 1,36 1,37 1-179 1,161 1-97 1,72 1,84 1-36 1-109 1,25 1,6 1-24 1,92 1,9 1-99 1-163 1,112 1-39 1-7 1,115 1,140 1-195 1,23 1-62 1-21 1-70 1,158 1-114 1,70 1,95 1-151 1,139 1,60 1-53 1-86 1,207 1-45 1-99 1-28 1,98 1-104 1,41 1-35 1-21 1,234 1,69 1-56 1-307 1,188 1-40 1-91 1,29 1-86 1,104 1-23 1-2 1,30 1,96 1-7 1,24 1,122 1-327 1,184 1-180 1,53 1,46 1,121 1-91 1,130 1-106 1-34 1-35 1-76 1,131 1-233 1,120 1,185 1-112 1-135 1,84 1,32 1,76 1-105 1,120 1,96 1-113 1-58 1-122 1,35 1,150 1,8 1-108 1,22 1,38 1,11 1-227 1,146 1,3 1-116 1,145 1-276 1,153 1,42 1,21 1-141 1,97 1,99 1-150 1,155 1,3 1-98 1,118 1-146 1,104 1-33 1-18 1-28 1,60 1-45 1-1 1-9 1-27 1,107 1-111 1,129 1-20 1-9 1,92 1-59 1-165 1,62 1,90 1,54 1-101 1,101 1-65 1-27 1-30 1,71 1-26 1,58 1-87 1,149 1-128 1-49 1,47 1-74 1,25 1,2 1,169 1-84 1-162 1,164 1-24 1,29 1,15 1-71 1,87 1-150 1,31 1,66 1,26 1-127 1,18 1,44 1-38 1,26 1,11 1,51 1-2 1,22 1,59 1,5 1,63 1-169 1-111 1,254 1,9 1-142 1,48 1-30 1,62 1-238 1,257 1-213 1-42 1-19 1,114 1-60 1,86 1-1 1,61 1-283 1,233 1,193 1-312 1,61 1-77 1,30 1,30 1-128 1,68 1-3 1-133 1,94 1-35 1-22 1,142 1-52 1-30 1,202 1-208 1,5 1,141 1-93 1,44 1,82 1,2 1-52 1-137 1,154 1-180 1,91 1,61 1-67 1-81 1,76 1-8 1-93 1,119 1,33 1,50 1-66 1,134 1-117 1-35 1,101 1,210 1-206 1-111 1,112 1-123 1,85 1,14 1,6 1-56 1,42 1-128 1,18 1,50 1-1 1,73 1-30 1-34 1,58 1-89 1,59 1-27 1,189 1-105 1,13 1-116 1-61 1,49 1,54 1-37 1-74 1,45 1,0 1-38 1-24 1,132 1-46 1-88 1,83 1-53 1,49 1-46 1,90 1-18 1,120 1-79 1-52 1,3 1,56 1,22 1-90 1-66 1,146 1-46 1-70 1,72 1,8 1,91 1-92 1-137 1,133 1-31 1,22 1-90 1,105 1-131 1,158 1-101 1-3 1,10 1,78 1-130 1,24 1,11 1-21 1-142 1,202 1,132 1-152 1,24 1-52 1,340 1-253 1,129 1-92 1,195 1-247 1-52 1-10 1,223 1-224 1,85 1-51 1,53 1-12 1,11 1-3 1-42 1,257 1-258 1,61 1,150 1-86 1-54 1,64 1,68 1-67 1,96 1-84 1-16 1-40 1-8 1,34 1-47 1,32 1-2 1,37 1-41 1-70 1,142 1,91 1-226 1-56 1,105 1,38 1-22 1-70 1,4 1,118 1-60 1,10 1,14 1-94 1,73 1-62 1,0 1-85 1,176 1-118 1,80 1,2 1,49 1-43 1-6 1,23 1-113 1,5 1,23 1-15 1-38 1,181 1-115 1,92 1-64 1-87 1,56 1-50 1,46 1-62 1,144 1-72 1,72 1-24 1,23 1-58 1,37 1,39 1-205 1,93 1,219 1-154 1,9 1,34 1,18 1-37 1-137 1,92 1-34 1,110 1-82 1,132 1-61 1-136 1,114 1-129 1,132 1-10 1,1 1,8 1-45 1,279 1-332 1,97 1,101 1-147 1,51 1-119 1,168 1-149 1,21 1,147 1-42 1,30 1,108 1-168 1,44 1,68 1,37 1-274 1,201 1,22 1-52 1,107 1-108 1-167 1,5 1,65 1-80 1,73 1-127 1,301 1-30 1-14 1-79 1,10 1,42 1-111 1,49 1,4 1,62 1-27 1,295 1-446 1,312 1-122 1,91 1-123 1,96 1-242 1,172 1,92 1-79 1,162 1-182 1,63 1,137 1-115 1-77 1,39 1-60 1-14 1-1 1,146 1,35 1-96 1-56 1,389 1-288 1-12 1,7 1,120 1-34 1-150 1,59 1-45 1-86 1,63 1,124 1,39 1-60 1,71 1,72 1-166 1-147 1,247 1-101 1-8 1-73 1,119 1-56 1,23 1,32 1-13 1-9 1-44 1-108 1,84 1,121 1-59 1,132 1-104 1,59 1-77 1,7 1,165 1-149 1-38 1,87 1-71 1,58 1,8 1-69 1-13 1,30 1,1 1-47 1-22 1,74 1,48 1-106 1-44 1-105 1,58 1-17 1,119 1-43 1-37 1-36 1-52 1,162 1,93 1-46 1-76 1,13 1,11 1,61 1-6 1-50 1,0 1,71 1,139 1-105 1-303 1,260 1-33 1-7 1-53 1-31 1,66 1-55 1,37 1-134 1,68 1,79 1-101 1,13 1,155 1-21 1-99 1,31 1-130 1,367 1-132 1,20 1,38 1-43 1-27 1-159 1,115 1,36 1-109 1,114 1-28 1-151 1,197 1-170 1,231 1,105 1-256 1-3 1-57 1,65 1,74 1-32 1-186 1,176 1-190 1,152 1,43 1-65 1,190 1-207 1,65 1,12 1,76 1,69 1-206 1,42 1,75 1-6 1-109 1,132 1-15 1-36 1,87 1-105 1-238 1,206 1-114 1,127 1,0 1-62 1,7 1-86 1,62 1,88 1-14 1-70 1,60 1-211 1,187 1,18 1,203 1-173 1,13 1,22 1-25 1-49 1,31 1,61 1-20 1,5 1-175 1-19 1,61 1,10 1-29 1,63 1,44 1,59 1-49 1-39 1-60 1,39 1,90 1-92 1-25 1-17 1,27 1-259 1,225 1,9 1-80 1,89 1-33 1-18 1-97 1,175 1,69 1-236 1,93 1,6 1-42 1,156 1-59 1-196 1,134 1-56 1,75 1-57 1-87 1,126 1-119 1,89 1,60 1,3 1,81 1-186 1,70 1-10 1-64 1-17 1-78 1-23 1,206 1-76 1,53 1-68 1-59 1,24 1,39 1-58 1,110 1-154 1,45 1,128 1-149 1,92 1-49 1-81 1,156 1-75 1-35 1-32 1,130 1-26 1-30 1-101 1-13 1,181 1-116 1-7 1-25 1,45 1,94 1-106 1-45 1,95 1-223 1,117 1,108 1-128 1,26 1-125 1,205 1,21 1-57 1,42 1-19 1,14 1,17 1-9 1,34 1-54 1,97 1-39 1-162 1,54 1,73 1,71 1-71 1,77 1-40 1,179 1-188 1,35 1-43 1,99 1-168 1,135 1,165 1-238 1-49 1-23 1-13 1,98 1-34 1-44 1,48 1-229 1,370 1-272 1,122 1-6 1-82 1,96 1-134 1,63 1-37 1,66 1-37 1-11 1-33 1-41 1,246 1-75 1,53 1-119 1-5 1,86 1-36 1-17 1-126 1,131 1,41 1,43 1-127 1,47 1,31 1-36 1,87 1-184 1,144 1-151 1,49 1,108 1,151 1-121 1-135 1,183 1-89 1-28 1,52 1-11 1-50 1,35 1-95 1,28 1,72 1-178 1,331 1-184 1-29 1,107 1-70 1-74 1,74 1-217 1,295 1-104 1-105 1,153 1-63 1,183 1-207 1,87 1-44 1,17 1,26 1-135 1,71 1,23 1-23 1,111 1-26 1-51 1-26 1,105 1-125 1,38 1-37 1,59 1,19 1-56 1-97 1,280 1-243 1,159 1,29 1-5 1,146 1-149 1,0 1-63 1,4 1-63 1-133 1,244 1-65 1-8 1-56 1,64 1,11 1-170 1,118 1-24 1-15 1-52 1,126 1-10 1-46 1,16 1,96 1-123 1,198 1-152 1,248 1-293 1,170 1-32 1-49 1,18 1,125 1-41 1,25 1-115 1-30 1-47 1,70 1,119 1-88 1,68 1-277 1,244 1-37 1,62 1-62 1-11 1-13 1-33 1-35 1-16 1,31 1,127 1-116 1-32 1,47 1-84 1,61 1,22 1,135 1-69 1-65 1,103 1-92 1-227 1,67 1,29 1-86 1,159 1,84 1-67 1-18 1-23 1,105 1,168 1-212 1,186 1-206 1-61 1,166 1-45 1,63 1-96 1-143 1,151 1-3 1,48 1-284 1,252 1,7 1-34 1-189 1,199 1-47 1,201 1-158 1-36 1,104 1-25 1,1 1-73 1-52 1,96 1-5 1-184 1-37 1,180 1,110 1,25 1,13 1-149 1-115 1,130 1-8 1,114 1-42 1-31 1,28 1-77 1,91 1-37 1,35 1,11 1-69 1,101 1-93 1,114 1-53 1-76 1,72 1,28 1,2 1-138 1,76 1-103 1,61 1-48 1,229 1-296 1,181 1,31 1-129 1,112 1-33 1-96 1-111 1,209 1-27 1-102 1,98 1-63 1,84 1-1 1-73 1,99 1-11 1-9 1,28 1,2 1-23 1-37 1-241 1,295 1-13 1-58 1,84 1,74 1-183 1,73 1-127 1,179 1-77 1-46 1-31 1,53 1-81 1,117 1-132 1,88 1-58 1-30 1,130 1-173 1,152 1,52 1,64 1-73 1-4 1-46 1,40 1-42 1-22 1,79 1,73 1-96 1,35 1-117 1,164 1,179 1-293 1-2 1,75 1,125 1-161 1-26 1,131 1-160 1,38 1,139 1-63 1-59 1,6 1-32 1,48 1-30 1,3 1,105 1-135 1,56 1-217 1,33 1,89 1,162 1-52 1-96 1,57 1,55 1-97 1,63 1-70 1,66 1-23 1-61 1-22 1,90 1-65 1,117 1-73 1-22 1,7"/>
</g>
<rect x="72.4" y="1.5" width="592.1" height="413.9" class="fr"/>
<rect x="72.4" y="482.8" width="598.9" height="418.8" class="fr"/>
<line x1="131.6" y1="415.4" x2="131.6" y2="403.4" class="tk"/>
<line x1="190.8" y1="415.4" x2="190.8" y2="403.4" class="tk"/>
<line x1="250.0" y1="415.4" x2="250.0" y2="403.4" class="tk"/>
<line x1="309.2" y1="415.4" x2="309.2" y2="403.4" class="tk"/>
<line x1="368.5" y1="415.4" x2="368.5" y2="403.4" class="tk"/>
<line x1="427.7" y1="415.4" x2="427.7" y2="403.4" class="tk"/>
<line x1="486.9" y1="415.4" x2="486.9" y2="403.4" class="tk"/>
<line x1="546.1" y1="415.4" x2="546.1" y2="403.4" class="tk"/>
<line x1="605.3" y1="415.4" x2="605.3" y2="403.4" class="tk"/>
<line x1="72.4" y1="356.3" x2="84.4" y2="356.3" class="tk"/>
<line x1="72.4" y1="297.1" x2="84.4" y2="297.1" class="tk"/>
<line x1="72.4" y1="238.0" x2="84.4" y2="238.0" class="tk"/>
<line x1="72.4" y1="178.9" x2="84.4" y2="178.9" class="tk"/>
<line x1="72.4" y1="119.8" x2="84.4" y2="119.8" class="tk"/>
<line x1="72.4" y1="60.6" x2="84.4" y2="60.6" class="tk"/>
<line x1="132.3" y1="901.6" x2="132.3" y2="889.6" class="tk"/>
<line x1="192.2" y1="901.6" x2="192.2" y2="889.6" class="tk"/>
<line x1="252.1" y1="901.6" x2="252.1" y2="889.6" class="tk"/>
<line x1="312.0" y1="901.6" x2="312.0" y2="889.6" class="tk"/>
<line x1="371.9" y1="901.6" x2="371.9" y2="889.6" class="tk"/>
<line x1="431.7" y1="901.6" x2="431.7" y2="889.6" class="tk"/>
<line x1="491.6" y1="901.6" x2="491.6" y2="889.6" class="tk"/>
<line x1="551.5" y1="901.6" x2="551.5" y2="889.6" class="tk"/>
<line x1="611.4" y1="901.6" x2="611.4" y2="889.6" class="tk"/>
<line x1="72.4" y1="855.1" x2="84.4" y2="855.1" class="tk"/>
<line x1="72.4" y1="808.5" x2="84.4" y2="808.5" class="tk"/>
<line x1="72.4" y1="762.0" x2="84.4" y2="762.0" class="tk"/>
<line x1="72.4" y1="715.5" x2="84.4" y2="715.5" class="tk"/>
<line x1="72.4" y1="668.9" x2="84.4" y2="668.9" class="tk"/>
<line x1="72.4" y1="622.4" x2="84.4" y2="622.4" class="tk"/>
<line x1="72.4" y1="575.9" x2="84.4" y2="575.9" class="tk"/>
<line x1="72.4" y1="529.3" x2="84.4" y2="529.3" class="tk"/>
<text x="67" y="421.0" class="yl">0</text>
<text x="67" y="361.9" class="yl">2</text>
<text x="67" y="302.7" class="yl">4</text>
<text x="67" y="243.6" class="yl">6</text>
<text x="67" y="184.5" class="yl">8</text>
<text x="67" y="125.4" class="yl">10</text>
<text x="67" y="66.2" class="yl">12</text>
<text x="67" y="907.2" class="yl">0</text>
<text x="67" y="860.7" class="yl">1</text>
<text x="67" y="814.1" class="yl">2</text>
<text x="67" y="767.6" class="yl">3</text>
<text x="67" y="721.1" class="yl">4</text>
<text x="67" y="674.5" class="yl">5</text>
<text x="67" y="628.0" class="yl">6</text>
<text x="67" y="581.5" class="yl">7</text>
<text x="67" y="534.9" class="yl">8</text>
<text x="67" y="488.4" class="yl">9</text>
<text x="72.4" y="433.2" class="xl">0</text>
<text x="131.6" y="433.2" class="xl">10</text>
<text x="190.8" y="433.2" class="xl">20</text>
<text x="250.0" y="433.2" class="xl">30</text>
<text x="309.2" y="433.2" class="xl">40</text>
<text x="368.5" y="433.2" class="xl">50</text>
<text x="427.7" y="433.2" class="xl">60</text>
<text x="486.9" y="433.2" class="xl">70</text>
<text x="546.1" y="433.2" class="xl">80</text>
<text x="605.3" y="433.2" class="xl">90</text>
<text x="664.5" y="433.2" class="xl">100</text>
<text x="72.4" y="919.8" class="xl">0</text>
<text x="132.3" y="919.8" class="xl">10</text>
<text x="192.2" y="919.8" class="xl">20</text>
<text x="252.1" y="919.8" class="xl">30</text>
<text x="312.0" y="919.8" class="xl">40</text>
<text x="371.9" y="919.8" class="xl">50</text>
<text x="431.7" y="919.8" class="xl">60</text>
<text x="491.6" y="919.8" class="xl">70</text>
<text x="551.5" y="919.8" class="xl">80</text>
<text x="611.4" y="919.8" class="xl">90</text>
<text x="671.3" y="919.8" class="xl">100</text>
<text x="336.9" y="450.2" textLength="65.0" lengthAdjust="spacingAndGlyphs">Time (ns)</text>
<text x="340.2" y="937" textLength="65.5" lengthAdjust="spacingAndGlyphs">Time (ns)</text>
<text transform="translate(40.5,208) rotate(-90)" class="xl">RMSD (&#197;)</text>
<text transform="translate(48.5,692) rotate(-90)" class="xl">RMSD (&#197;)</text>
<line x1="134.1" y1="56.5" x2="159.6" y2="56.5" stroke="#000000" stroke-width="2.2"/>
<text x="170.9" y="60.4" class="lg" textLength="158.0" lengthAdjust="spacingAndGlyphs">6CVN-TauR2 Complex</text>
<line x1="134.1" y1="77.5" x2="159.6" y2="77.5" stroke="#ffa500" stroke-width="2.2"/>
<text x="170.9" y="81.3" class="lg" textLength="165.9" lengthAdjust="spacingAndGlyphs">6CVN*-TauR2 Complex</text>
<line x1="134.1" y1="99.0" x2="159.6" y2="99.0" stroke="#1a8c1a" stroke-width="2.2"/>
<text x="170.9" y="103.7" class="lg" textLength="163.5" lengthAdjust="spacingAndGlyphs">&#946;I/&#945;/&#946;I-TauR2 Complex</text>
<line x1="134.1" y1="120.6" x2="159.6" y2="120.6" stroke="#00ffff" stroke-width="2.2"/>
<text x="170.9" y="124.7" class="lg" textLength="191.0" lengthAdjust="spacingAndGlyphs">&#946;IIb/&#945;/&#946;IIb-TauR2 Complex</text>
<line x1="134.1" y1="142.7" x2="159.6" y2="142.7" stroke="#9400d3" stroke-width="2.2"/>
<text x="170.9" y="146.6" class="lg" textLength="185.5" lengthAdjust="spacingAndGlyphs">&#946;III/&#945;/&#946;III-TauR2 Complex</text>
<line x1="128.7" y1="527.8" x2="154.3" y2="527.8" stroke="#000000" stroke-width="2.2"/>
<text x="166.2" y="533.2" class="lg" textLength="110.2" lengthAdjust="spacingAndGlyphs">TauR2 in 6CVN</text>
<line x1="128.7" y1="545.4" x2="154.3" y2="545.4" stroke="#ffa500" stroke-width="2.2"/>
<text x="166.2" y="550.8" class="lg" textLength="118.5" lengthAdjust="spacingAndGlyphs">TauR2 in 6CVN*</text>
<line x1="128.7" y1="565.4" x2="154.3" y2="565.4" stroke="#1a8c1a" stroke-width="2.2"/>
<text x="166.2" y="569.0" class="lg" textLength="98.6" lengthAdjust="spacingAndGlyphs">TauR2 &#946;I/&#945;/&#946;I</text>
<line x1="128.7" y1="587.5" x2="154.3" y2="587.5" stroke="#00ffff" stroke-width="2.2"/>
<text x="166.2" y="591.9" class="lg" textLength="143.8" lengthAdjust="spacingAndGlyphs">TauR2 in &#946;IIb/&#945;/&#946;IIb</text>
<line x1="128.7" y1="609.4" x2="154.3" y2="609.4" stroke="#9400d3" stroke-width="2.2"/>
<text x="166.2" y="613.8" class="lg" textLength="137.7" lengthAdjust="spacingAndGlyphs">TauR2 in &#946;III/&#945;/&#946;III</text>
</svg>
</body></html>
